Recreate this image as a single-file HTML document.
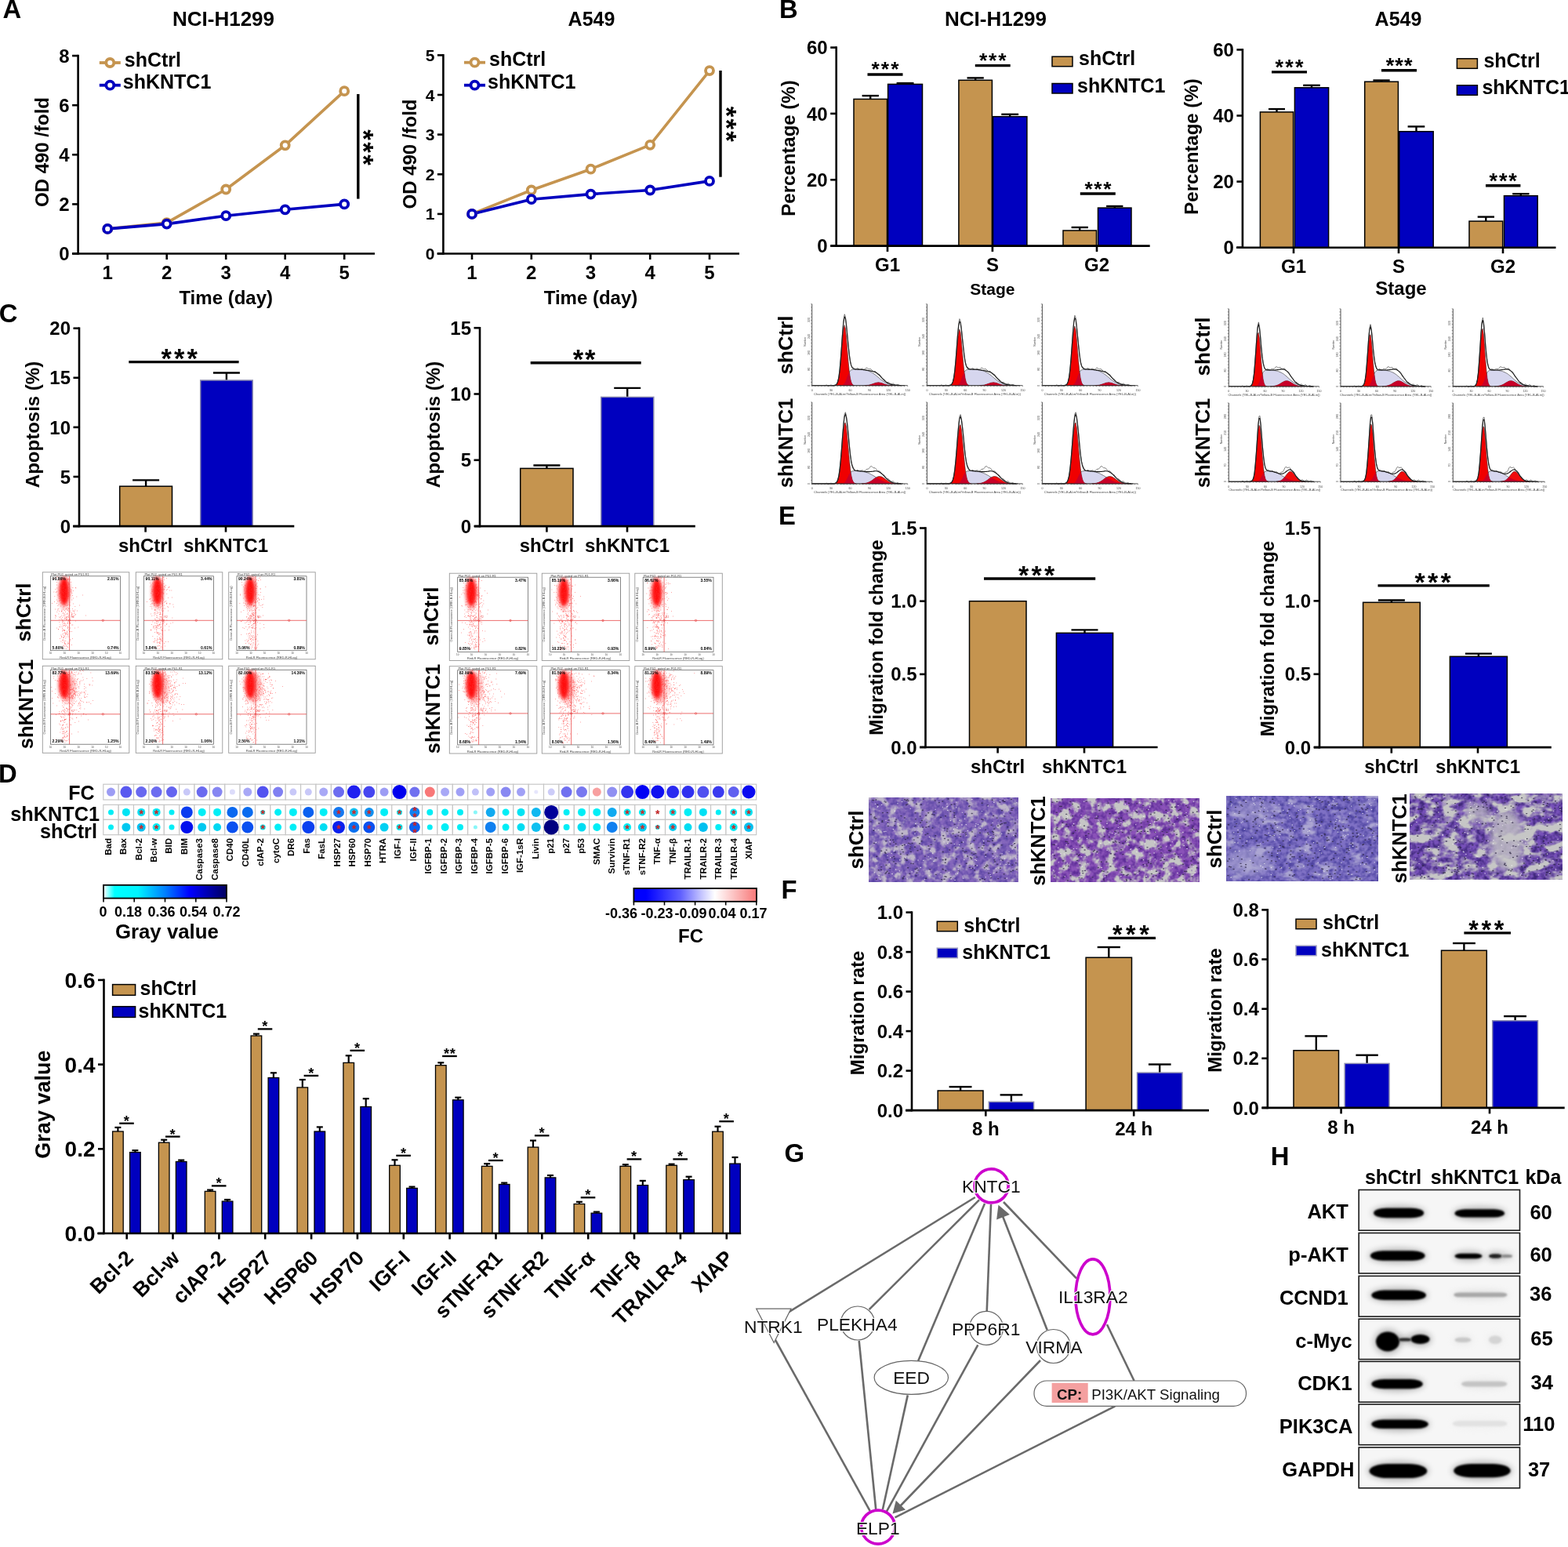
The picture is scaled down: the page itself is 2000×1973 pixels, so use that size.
<!DOCTYPE html><html><head><meta charset="utf-8"><style>html,body{margin:0;padding:0;background:#fff;overflow:hidden;}svg{display:block;}</style></head><body>
<svg width="2000" height="1973" viewBox="0 0 2000 1973" font-family="'Liberation Sans', Arial, Helvetica, sans-serif" font-weight="bold">
<defs><filter id="soft" x="-50%" y="-50%" width="200%" height="200%"><feGaussianBlur stdDeviation="2.2"/></filter><filter id="mblur" x="-5%" y="-5%" width="110%" height="110%"><feGaussianBlur stdDeviation="0.7"/></filter><filter id="bb" x="-50%" y="-100%" width="200%" height="300%"><feGaussianBlur stdDeviation="1.3"/></filter><filter id="halo" x="-50%" y="-100%" width="200%" height="300%"><feGaussianBlur stdDeviation="4"/></filter><filter id="clear" x="-50%" y="-50%" width="200%" height="200%"><feGaussianBlur stdDeviation="4.5"/></filter></defs>
<rect x="0" y="0" width="2000" height="1973" fill="#fff"/>
<text x="3.5" y="22.8" font-size="32.8">A</text>
<text x="994.1" y="22.8" font-size="32.8">B</text>
<text x="-1.3" y="410.5" font-size="32.8">C</text>
<text x="-2" y="998" font-size="32.8">D</text>
<text x="993" y="669" font-size="32.8">E</text>
<text x="996.6" y="1145.6" font-size="32.8">F</text>
<text x="1000.6" y="1481.7" font-size="32.8">G</text>
<text x="1620.8" y="1486" font-size="32.8">H</text>
<line x1="99.6" y1="69.8" x2="99.6" y2="324.8" stroke="#000" stroke-width="2.6"/>
<line x1="92.1" y1="323.5" x2="99.6" y2="323.5" stroke="#000" stroke-width="2.6"/>
<text x="88.6" y="332.1" font-size="24" text-anchor="end">0</text>
<line x1="92.1" y1="260.4" x2="99.6" y2="260.4" stroke="#000" stroke-width="2.6"/>
<text x="88.6" y="269" font-size="24" text-anchor="end">2</text>
<line x1="92.1" y1="197.3" x2="99.6" y2="197.3" stroke="#000" stroke-width="2.6"/>
<text x="88.6" y="205.9" font-size="24" text-anchor="end">4</text>
<line x1="92.1" y1="134.2" x2="99.6" y2="134.2" stroke="#000" stroke-width="2.6"/>
<text x="88.6" y="142.8" font-size="24" text-anchor="end">6</text>
<line x1="92.1" y1="71.1" x2="99.6" y2="71.1" stroke="#000" stroke-width="2.6"/>
<text x="88.6" y="79.7" font-size="24" text-anchor="end">8</text>
<line x1="92" y1="323.5" x2="478" y2="323.5" stroke="#000" stroke-width="2.6"/>
<line x1="137.2" y1="323.5" x2="137.2" y2="331" stroke="#000" stroke-width="2.6"/>
<text x="137.2" y="356" font-size="24" text-anchor="middle">1</text>
<line x1="212.7" y1="323.5" x2="212.7" y2="331" stroke="#000" stroke-width="2.6"/>
<text x="212.7" y="356" font-size="24" text-anchor="middle">2</text>
<line x1="288.2" y1="323.5" x2="288.2" y2="331" stroke="#000" stroke-width="2.6"/>
<text x="288.2" y="356" font-size="24" text-anchor="middle">3</text>
<line x1="363.7" y1="323.5" x2="363.7" y2="331" stroke="#000" stroke-width="2.6"/>
<text x="363.7" y="356" font-size="24" text-anchor="middle">4</text>
<line x1="439.2" y1="323.5" x2="439.2" y2="331" stroke="#000" stroke-width="2.6"/>
<text x="439.2" y="356" font-size="24" text-anchor="middle">5</text>
<text x="288.2" y="388" font-size="24" text-anchor="middle">Time (day)</text>
<text x="285" y="33" font-size="26" text-anchor="middle">NCI-H1299</text>
<text x="61.5" y="194" font-size="24" text-anchor="middle" transform="rotate(-90 61.5 194)">OD 490 /fold</text>
<polyline points="137.2,291.9 212.7,284.1 288.2,241.5 363.7,185.3 439.2,116.2" fill="none" stroke="#c5944f" stroke-width="3.6" stroke-linejoin="round"/>
<polyline points="137.2,291.9 212.7,285.6 288.2,275.2 363.7,267.3 439.2,260.4" fill="none" stroke="#0000bf" stroke-width="3.6" stroke-linejoin="round"/>
<circle cx="137.2" cy="291.9" r="5" fill="#fff" stroke="#c5944f" stroke-width="3.8"/>
<circle cx="212.7" cy="284.1" r="5" fill="#fff" stroke="#c5944f" stroke-width="3.8"/>
<circle cx="288.2" cy="241.5" r="5" fill="#fff" stroke="#c5944f" stroke-width="3.8"/>
<circle cx="363.7" cy="185.3" r="5" fill="#fff" stroke="#c5944f" stroke-width="3.8"/>
<circle cx="439.2" cy="116.2" r="5" fill="#fff" stroke="#c5944f" stroke-width="3.8"/>
<circle cx="137.2" cy="291.9" r="5" fill="#fff" stroke="#0000bf" stroke-width="3.8"/>
<circle cx="212.7" cy="285.6" r="5" fill="#fff" stroke="#0000bf" stroke-width="3.8"/>
<circle cx="288.2" cy="275.2" r="5" fill="#fff" stroke="#0000bf" stroke-width="3.8"/>
<circle cx="363.7" cy="267.3" r="5" fill="#fff" stroke="#0000bf" stroke-width="3.8"/>
<circle cx="439.2" cy="260.4" r="5" fill="#fff" stroke="#0000bf" stroke-width="3.8"/>
<line x1="126.8" y1="80" x2="153.8" y2="80" stroke="#c5944f" stroke-width="3.8"/>
<circle cx="140.3" cy="80" r="5" fill="#fff" stroke="#c5944f" stroke-width="3.8"/>
<text x="158.8" y="84.5" font-size="25">shCtrl</text>
<line x1="126.8" y1="108.7" x2="153.8" y2="108.7" stroke="#0000bf" stroke-width="3.8"/>
<circle cx="140.3" cy="108.7" r="5" fill="#fff" stroke="#0000bf" stroke-width="3.8"/>
<text x="156.8" y="113.2" font-size="25">shKNTC1</text>
<line x1="456.8" y1="120" x2="456.8" y2="253.6" stroke="#000" stroke-width="3.4"/>
<text x="452.1" y="165.3" font-size="35" transform="rotate(90 452.1 165.3)" letter-spacing="2.3">***</text>
<line x1="565.4" y1="69.1" x2="565.4" y2="324.8" stroke="#000" stroke-width="2.6"/>
<line x1="557.9" y1="323.5" x2="565.4" y2="323.5" stroke="#000" stroke-width="2.6"/>
<text x="554.4" y="331" font-size="21" text-anchor="end">0</text>
<line x1="557.9" y1="272.9" x2="565.4" y2="272.9" stroke="#000" stroke-width="2.6"/>
<text x="554.4" y="280.4" font-size="21" text-anchor="end">1</text>
<line x1="557.9" y1="222.3" x2="565.4" y2="222.3" stroke="#000" stroke-width="2.6"/>
<text x="554.4" y="229.8" font-size="21" text-anchor="end">2</text>
<line x1="557.9" y1="171.6" x2="565.4" y2="171.6" stroke="#000" stroke-width="2.6"/>
<text x="554.4" y="179.2" font-size="21" text-anchor="end">3</text>
<line x1="557.9" y1="121" x2="565.4" y2="121" stroke="#000" stroke-width="2.6"/>
<text x="554.4" y="128.5" font-size="21" text-anchor="end">4</text>
<line x1="557.9" y1="70.4" x2="565.4" y2="70.4" stroke="#000" stroke-width="2.6"/>
<text x="554.4" y="77.9" font-size="21" text-anchor="end">5</text>
<line x1="557.6" y1="323.5" x2="943" y2="323.5" stroke="#000" stroke-width="2.6"/>
<line x1="602" y1="323.5" x2="602" y2="331" stroke="#000" stroke-width="2.6"/>
<text x="602" y="356" font-size="24" text-anchor="middle">1</text>
<line x1="677.8" y1="323.5" x2="677.8" y2="331" stroke="#000" stroke-width="2.6"/>
<text x="677.8" y="356" font-size="24" text-anchor="middle">2</text>
<line x1="753.5" y1="323.5" x2="753.5" y2="331" stroke="#000" stroke-width="2.6"/>
<text x="753.5" y="356" font-size="24" text-anchor="middle">3</text>
<line x1="829.2" y1="323.5" x2="829.2" y2="331" stroke="#000" stroke-width="2.6"/>
<text x="829.2" y="356" font-size="24" text-anchor="middle">4</text>
<line x1="905" y1="323.5" x2="905" y2="331" stroke="#000" stroke-width="2.6"/>
<text x="905" y="356" font-size="24" text-anchor="middle">5</text>
<text x="753.5" y="388" font-size="24" text-anchor="middle">Time (day)</text>
<text x="754.5" y="33" font-size="25" text-anchor="middle">A549</text>
<text x="531" y="196.5" font-size="24" text-anchor="middle" transform="rotate(-90 531 196.5)">OD 490 /fold</text>
<polyline points="602,272.9 677.8,242.5 753.5,215.7 829.2,184.8 905,90.1" fill="none" stroke="#c5944f" stroke-width="3.6" stroke-linejoin="round"/>
<polyline points="602,272.9 677.8,254.2 753.5,247.6 829.2,242.5 905,230.9" fill="none" stroke="#0000bf" stroke-width="3.6" stroke-linejoin="round"/>
<circle cx="602" cy="272.9" r="5" fill="#fff" stroke="#c5944f" stroke-width="3.8"/>
<circle cx="677.8" cy="242.5" r="5" fill="#fff" stroke="#c5944f" stroke-width="3.8"/>
<circle cx="753.5" cy="215.7" r="5" fill="#fff" stroke="#c5944f" stroke-width="3.8"/>
<circle cx="829.2" cy="184.8" r="5" fill="#fff" stroke="#c5944f" stroke-width="3.8"/>
<circle cx="905" cy="90.1" r="5" fill="#fff" stroke="#c5944f" stroke-width="3.8"/>
<circle cx="602" cy="272.9" r="5" fill="#fff" stroke="#0000bf" stroke-width="3.8"/>
<circle cx="677.8" cy="254.2" r="5" fill="#fff" stroke="#0000bf" stroke-width="3.8"/>
<circle cx="753.5" cy="247.6" r="5" fill="#fff" stroke="#0000bf" stroke-width="3.8"/>
<circle cx="829.2" cy="242.5" r="5" fill="#fff" stroke="#0000bf" stroke-width="3.8"/>
<circle cx="905" cy="230.9" r="5" fill="#fff" stroke="#0000bf" stroke-width="3.8"/>
<line x1="592" y1="79.7" x2="619" y2="79.7" stroke="#c5944f" stroke-width="3.8"/>
<circle cx="605.5" cy="79.7" r="5" fill="#fff" stroke="#c5944f" stroke-width="3.8"/>
<text x="624" y="84.2" font-size="25">shCtrl</text>
<line x1="592" y1="108.7" x2="619" y2="108.7" stroke="#0000bf" stroke-width="3.8"/>
<circle cx="605.5" cy="108.7" r="5" fill="#fff" stroke="#0000bf" stroke-width="3.8"/>
<text x="622" y="113.2" font-size="25">shKNTC1</text>
<line x1="919" y1="90" x2="919" y2="225.7" stroke="#000" stroke-width="3.4"/>
<text x="914.9" y="135.7" font-size="35" transform="rotate(90 914.9 135.7)" letter-spacing="2.1">***</text>
<line x1="1066.7" y1="59.3" x2="1066.7" y2="314.9" stroke="#000" stroke-width="2.6"/>
<line x1="1059.2" y1="313.6" x2="1066.7" y2="313.6" stroke="#000" stroke-width="2.6"/>
<text x="1055.7" y="322.2" font-size="24" text-anchor="end">0</text>
<line x1="1059.2" y1="229.3" x2="1066.7" y2="229.3" stroke="#000" stroke-width="2.6"/>
<text x="1055.7" y="237.9" font-size="24" text-anchor="end">20</text>
<line x1="1059.2" y1="144.9" x2="1066.7" y2="144.9" stroke="#000" stroke-width="2.6"/>
<text x="1055.7" y="153.5" font-size="24" text-anchor="end">40</text>
<line x1="1059.2" y1="60.6" x2="1066.7" y2="60.6" stroke="#000" stroke-width="2.6"/>
<text x="1055.7" y="69.2" font-size="24" text-anchor="end">60</text>
<line x1="1110.2" y1="126.4" x2="1110.2" y2="122.1" stroke="#000" stroke-width="2.4"/>
<line x1="1099.6" y1="122.1" x2="1120.9" y2="122.1" stroke="#000" stroke-width="2.4"/>
<rect x="1089" y="126.4" width="42.5" height="187.2" fill="#c5944f" stroke="#000" stroke-width="1.5"/>
<line x1="1154.5" y1="107.4" x2="1154.5" y2="106.1" stroke="#000" stroke-width="2.4"/>
<line x1="1143.6" y1="106.1" x2="1165.5" y2="106.1" stroke="#000" stroke-width="2.4"/>
<rect x="1132.6" y="107.4" width="43.9" height="206.2" fill="#0000bf" stroke="#000" stroke-width="1.5"/>
<line x1="1244.2" y1="102.3" x2="1244.2" y2="99.4" stroke="#000" stroke-width="2.4"/>
<line x1="1233.5" y1="99.4" x2="1254.8" y2="99.4" stroke="#000" stroke-width="2.4"/>
<rect x="1222.9" y="102.3" width="42.5" height="211.3" fill="#c5944f" stroke="#000" stroke-width="1.5"/>
<line x1="1288.2" y1="148.7" x2="1288.2" y2="145.8" stroke="#000" stroke-width="2.4"/>
<line x1="1277.3" y1="145.8" x2="1299.1" y2="145.8" stroke="#000" stroke-width="2.4"/>
<rect x="1266.5" y="148.7" width="43.4" height="164.9" fill="#0000bf" stroke="#000" stroke-width="1.5"/>
<line x1="1377.2" y1="294" x2="1377.2" y2="290" stroke="#000" stroke-width="2.4"/>
<line x1="1366.6" y1="290" x2="1387.9" y2="290" stroke="#000" stroke-width="2.4"/>
<rect x="1356" y="294" width="42.5" height="19.6" fill="#c5944f" stroke="#000" stroke-width="1.5"/>
<line x1="1421.8" y1="265.1" x2="1421.8" y2="263" stroke="#000" stroke-width="2.4"/>
<line x1="1411.1" y1="263" x2="1432.4" y2="263" stroke="#000" stroke-width="2.4"/>
<rect x="1400.5" y="265.1" width="42.5" height="48.5" fill="#0000bf" stroke="#000" stroke-width="1.5"/>
<line x1="1059.4" y1="313.6" x2="1466.7" y2="313.6" stroke="#000" stroke-width="2.6"/>
<line x1="1132" y1="313.6" x2="1132" y2="321.1" stroke="#000" stroke-width="2.6"/>
<text x="1132" y="346" font-size="24" text-anchor="middle">G1</text>
<line x1="1265.9" y1="313.6" x2="1265.9" y2="321.1" stroke="#000" stroke-width="2.6"/>
<text x="1265.9" y="346" font-size="24" text-anchor="middle">S</text>
<line x1="1399" y1="313.6" x2="1399" y2="321.1" stroke="#000" stroke-width="2.6"/>
<text x="1399" y="346" font-size="24" text-anchor="middle">G2</text>
<line x1="1106.5" y1="95" x2="1151.5" y2="95" stroke="#000" stroke-width="3.4"/>
<text x="1111.5" y="97.2" font-size="26.4" letter-spacing="2.1">***</text>
<line x1="1243.8" y1="83.6" x2="1288.7" y2="83.6" stroke="#000" stroke-width="3.4"/>
<text x="1249" y="85.8" font-size="26.4" letter-spacing="1.8">***</text>
<line x1="1377.8" y1="247" x2="1422.8" y2="247" stroke="#000" stroke-width="3.4"/>
<text x="1383.6" y="249.7" font-size="26.4" letter-spacing="1.5">***</text>
<text x="1014" y="189" font-size="24" text-anchor="middle" transform="rotate(-90 1014 189)">Percentage (%)</text>
<text x="1265.9" y="375.5" font-size="21" text-anchor="middle">Stage</text>
<text x="1270" y="33" font-size="26" text-anchor="middle">NCI-H1299</text>
<rect x="1342" y="72.2" width="26" height="12.5" fill="#c5944f" stroke="#000" stroke-width="1.5"/>
<text x="1376" y="83.4" font-size="25">shCtrl</text>
<rect x="1342" y="106.5" width="26" height="12.5" fill="#0000bf" stroke="#000" stroke-width="1.5"/>
<text x="1374" y="117.7" font-size="25">shKNTC1</text>
<line x1="1584.9" y1="62.1" x2="1584.9" y2="317" stroke="#000" stroke-width="2.6"/>
<line x1="1577.4" y1="315.7" x2="1584.9" y2="315.7" stroke="#000" stroke-width="2.6"/>
<text x="1573.9" y="324.3" font-size="24" text-anchor="end">0</text>
<line x1="1577.4" y1="231.6" x2="1584.9" y2="231.6" stroke="#000" stroke-width="2.6"/>
<text x="1573.9" y="240.2" font-size="24" text-anchor="end">20</text>
<line x1="1577.4" y1="147.5" x2="1584.9" y2="147.5" stroke="#000" stroke-width="2.6"/>
<text x="1573.9" y="156.1" font-size="24" text-anchor="end">40</text>
<line x1="1577.4" y1="63.4" x2="1584.9" y2="63.4" stroke="#000" stroke-width="2.6"/>
<text x="1573.9" y="72" font-size="24" text-anchor="end">60</text>
<line x1="1628.5" y1="142.9" x2="1628.5" y2="139.1" stroke="#000" stroke-width="2.4"/>
<line x1="1618" y1="139.1" x2="1639" y2="139.1" stroke="#000" stroke-width="2.4"/>
<rect x="1607.4" y="142.9" width="42.2" height="172.8" fill="#c5944f" stroke="#000" stroke-width="1.5"/>
<line x1="1673" y1="111.8" x2="1673" y2="108.8" stroke="#000" stroke-width="2.4"/>
<line x1="1662.2" y1="108.8" x2="1683.8" y2="108.8" stroke="#000" stroke-width="2.4"/>
<rect x="1651.4" y="111.8" width="43.2" height="203.9" fill="#0000bf" stroke="#000" stroke-width="1.5"/>
<line x1="1762.1" y1="104.2" x2="1762.1" y2="102.5" stroke="#000" stroke-width="2.4"/>
<line x1="1751.4" y1="102.5" x2="1772.7" y2="102.5" stroke="#000" stroke-width="2.4"/>
<rect x="1740.7" y="104.2" width="42.7" height="211.5" fill="#c5944f" stroke="#000" stroke-width="1.5"/>
<line x1="1806.5" y1="167.7" x2="1806.5" y2="161.4" stroke="#000" stroke-width="2.4"/>
<line x1="1795.6" y1="161.4" x2="1817.3" y2="161.4" stroke="#000" stroke-width="2.4"/>
<rect x="1784.7" y="167.7" width="43.5" height="148" fill="#0000bf" stroke="#000" stroke-width="1.5"/>
<line x1="1895.3" y1="282.1" x2="1895.3" y2="276.6" stroke="#000" stroke-width="2.4"/>
<line x1="1884.7" y1="276.6" x2="1906" y2="276.6" stroke="#000" stroke-width="2.4"/>
<rect x="1874" y="282.1" width="42.7" height="33.6" fill="#c5944f" stroke="#000" stroke-width="1.5"/>
<line x1="1939.8" y1="249.7" x2="1939.8" y2="247.2" stroke="#000" stroke-width="2.4"/>
<line x1="1929.2" y1="247.2" x2="1950.5" y2="247.2" stroke="#000" stroke-width="2.4"/>
<rect x="1918.5" y="249.7" width="42.7" height="66" fill="#0000bf" stroke="#000" stroke-width="1.5"/>
<line x1="1577" y1="315.7" x2="1984.5" y2="315.7" stroke="#000" stroke-width="2.6"/>
<line x1="1650" y1="315.7" x2="1650" y2="323.2" stroke="#000" stroke-width="2.6"/>
<text x="1650" y="348" font-size="24" text-anchor="middle">G1</text>
<line x1="1784" y1="315.7" x2="1784" y2="323.2" stroke="#000" stroke-width="2.6"/>
<text x="1784" y="348" font-size="24" text-anchor="middle">S</text>
<line x1="1917" y1="315.7" x2="1917" y2="323.2" stroke="#000" stroke-width="2.6"/>
<text x="1917" y="348" font-size="24" text-anchor="middle">G2</text>
<line x1="1622" y1="91.9" x2="1667" y2="91.9" stroke="#000" stroke-width="3.4"/>
<text x="1626.6" y="94.9" font-size="27" letter-spacing="2.2">***</text>
<line x1="1762" y1="89.8" x2="1807" y2="89.8" stroke="#000" stroke-width="3.4"/>
<text x="1767.7" y="92.8" font-size="27" letter-spacing="1.1">***</text>
<line x1="1895" y1="236.8" x2="1939.4" y2="236.8" stroke="#000" stroke-width="3.4"/>
<text x="1899.6" y="239.8" font-size="27" letter-spacing="1.8">***</text>
<text x="1527.5" y="187" font-size="24" text-anchor="middle" transform="rotate(-90 1527.5 187)">Percentage (%)</text>
<text x="1787" y="375.5" font-size="24" text-anchor="middle">Stage</text>
<text x="1783.5" y="33" font-size="25" text-anchor="middle">A549</text>
<rect x="1858.4" y="74.8" width="26" height="12.5" fill="#c5944f" stroke="#000" stroke-width="1.5"/>
<text x="1892.4" y="85.6" font-size="25">shCtrl</text>
<rect x="1858.4" y="108.8" width="26" height="12.5" fill="#0000bf" stroke="#000" stroke-width="1.5"/>
<text x="1890.4" y="119.6" font-size="25">shKNTC1</text>
<text x="1011" y="440" font-size="26" text-anchor="middle" transform="rotate(-90 1011 440)">shCtrl</text>
<text x="1011" y="565" font-size="25.4" text-anchor="middle" transform="rotate(-90 1011 565)">shKNTC1</text>
<path d="M1071.1 491.7L1071.1 491.6L1072.3 491.5L1073.5 491.3L1074.7 490.9L1076 490.1L1077.2 488.8L1078.4 486.6L1079.6 483.6L1080.8 480.1L1082.1 476.8L1083.3 474.4L1084.5 472.8L1085.7 471.9L1086.9 471.4L1088.2 471.2L1089.4 471L1090.6 471L1091.8 471L1093 471L1094.3 471.1L1095.5 471.1L1096.7 471.2L1097.9 471.3L1099.1 471.4L1100.4 471.5L1101.6 471.7L1102.8 471.9L1104 472.1L1105.2 472.4L1106.5 472.7L1107.7 473.1L1108.9 473.6L1110.1 474.1L1111.3 474.7L1112.6 475.4L1113.8 476.1L1115 477L1116.2 477.9L1117.4 478.8L1118.7 479.9L1119.9 480.9L1121.1 481.9L1122.3 483L1123.5 484L1124.8 484.9L1126 485.8L1127.2 486.6L1128.4 487.3L1129.6 488L1130.9 488.6L1132.1 489.1L1133.3 489.5L1134.5 489.9L1135.7 490.2L1137 490.4L1138.2 490.6L1139.4 490.8L1140.6 491L1141.8 491.1L1143.1 491.2L1144.3 491.3L1145.5 491.4L1146.7 491.4L1147.9 491.5L1149.2 491.5L1150.4 491.6L1151.6 491.6L1152.8 491.6L1154 491.6L1154 491.7 Z" fill="#d6d6ee" stroke="#333" stroke-width="0.6"/>
<path d="M1065 491.7L1065 491.5L1066.2 491L1067.4 489.8L1068.6 487.2L1069.9 482.2L1071.1 473.7L1072.3 461.3L1073.5 446L1074.7 430.5L1076 418.9L1077.2 414.5L1078.4 418.9L1079.6 430.5L1080.8 446L1082.1 461.3L1083.3 473.7L1084.5 482.2L1085.7 487.2L1086.9 489.8L1088.2 491L1089.4 491.5L1089.4 491.7 Z" fill="#f00000" stroke="#222" stroke-width="0.5"/>
<path d="M1102.8 491.7L1102.8 491.6L1104 491.5L1105.2 491.4L1106.5 491.3L1107.7 491.1L1108.9 490.9L1110.1 490.5L1111.3 490.2L1112.6 489.8L1113.8 489.3L1115 488.9L1116.2 488.5L1117.4 488.1L1118.7 487.9L1119.9 487.8L1121.1 487.8L1122.3 488L1123.5 488.2L1124.8 488.6L1126 489L1127.2 489.5L1128.4 489.9L1129.6 490.3L1130.9 490.7L1132.1 490.9L1133.3 491.2L1134.5 491.3L1135.7 491.5L1137 491.6L1138.2 491.6L1138.2 491.7 Z" fill="#f00000" stroke="#222" stroke-width="0.5" opacity="0.95"/>
<path d="M1071.1 491.7L1071.1 491.6L1072.3 491.5L1073.5 491.3L1074.7 490.9L1076 490.1L1077.2 488.8L1078.4 486.6L1079.6 483.6L1080.8 480.1L1082.1 476.8L1083.3 474.4L1084.5 482.2L1085.7 487.2L1086.9 489.8L1088.2 491L1089.4 491.5L1089.4 491.7 Z" fill="#c80028"/>
<path d="M1102.8 491.7L1102.8 491.6L1104 491.5L1105.2 491.4L1106.5 491.3L1107.7 491.1L1108.9 490.9L1110.1 490.5L1111.3 490.2L1112.6 489.8L1113.8 489.3L1115 488.9L1116.2 488.5L1117.4 488.1L1118.7 487.9L1119.9 487.8L1121.1 487.8L1122.3 488L1123.5 488.2L1124.8 488.6L1126 489L1127.2 489.5L1128.4 489.9L1129.6 490.3L1130.9 490.7L1132.1 490.9L1133.3 491.2L1134.5 491.3L1135.7 491.5L1137 491.6L1138.2 491.6L1138.2 491.7 Z" fill="#c80028"/>
<path d="M1035.7 491.7 L1036.9 491.7 L1038.1 491.7 L1039.4 491.7 L1040.6 491.7 L1041.8 491.7 L1043 491.7 L1044.2 491.7 L1045.5 491.7 L1046.7 491.7 L1047.9 491.7 L1049.1 491.7 L1050.3 491.7 L1051.6 491.7 L1052.8 491.7 L1054 491.7 L1055.2 491.7 L1056.4 491.7 L1057.7 491.7 L1058.9 491.7 L1060.1 491.7 L1061.3 491.7 L1062.5 491.7 L1063.8 491.6 L1065 491.4 L1066.2 490.9 L1067.4 489.5 L1068.6 486.6 L1069.9 481 L1071.1 471.7 L1072.3 458.1 L1073.5 441.3 L1074.7 424.1 L1076 410.5 L1077.2 404.1 L1078.4 406.1 L1079.6 415.3 L1080.8 428.3 L1082.1 441.6 L1083.3 452.9 L1084.5 461 L1085.7 466.1 L1086.9 468.8 L1088.2 470.1 L1089.4 470.6 L1090.6 470.9 L1091.8 471 L1093 471 L1094.3 471.1 L1095.5 471.1 L1096.7 471.2 L1097.9 471.3 L1099.1 471.4 L1100.4 471.5 L1101.6 471.6 L1102.8 471.8 L1104 472 L1105.2 472.1 L1106.5 472.3 L1107.7 472.5 L1108.9 472.7 L1110.1 472.9 L1111.3 473.2 L1112.6 473.4 L1113.8 473.8 L1115 474.1 L1116.2 474.6 L1117.4 475.3 L1118.7 476 L1119.9 477 L1121.1 478 L1122.3 479.2 L1123.5 480.5 L1124.8 481.8 L1126 483.1 L1127.2 484.4 L1128.4 485.5 L1129.6 486.6 L1130.9 487.5 L1132.1 488.3 L1133.3 489 L1134.5 489.5 L1135.7 489.9 L1137 490.3 L1138.2 490.6 L1139.4 490.8 L1140.6 490.9 L1141.8 491.1 L1143.1 491.2 L1144.3 491.3 L1145.5 491.4 L1146.7 491.4 L1147.9 491.5 L1149.2 491.5" fill="none" stroke="#111" stroke-width="1.1"/>
<path d="M1052.8 491.7 L1054 490.9 L1055.2 491.4 L1056.4 492.3 L1057.7 492.3 L1058.9 491.3 L1060.1 490.9 L1061.3 491.8 L1062.5 492.5 L1063.8 491.9 L1065 490.8 L1066.2 490.3 L1067.4 489.9 L1068.6 487.2 L1069.9 480.6 L1071.1 470.3 L1072.3 456.8 L1073.5 440.4 L1074.7 422.6 L1076 407.6 L1077.2 400.7 L1078.4 403.7 L1079.6 413.8 L1080.8 426.6 L1082.1 439.5 L1083.3 451.2 L1084.5 460.6 L1085.7 466 L1086.9 468 L1088.2 468.7 L1089.4 469.8 L1090.6 470.9 L1091.8 470.9 L1093 469.9 L1094.3 469.7 L1095.5 470.6 L1096.7 471.4 L1097.9 470.8 L1099.1 470 L1100.4 470.2 L1101.6 471.1 L1102.8 471.1 L1104 469.9 L1105.2 469.1 L1106.5 469.5 L1107.7 470.6 L1108.9 470.8 L1110.1 470.5 L1111.3 471 L1112.6 472.5 L1113.8 473.7 L1115 473.7 L1116.2 473.4 L1117.4 474.3 L1118.7 476.1 L1119.9 477.2 L1121.1 477.4 L1122.3 478.1 L1123.5 480 L1124.8 482.2 L1126 483.3 L1127.2 483.5 L1128.4 484.5 L1129.6 486.4 L1130.9 487.7 L1132.1 487.7 L1133.3 487.4 L1134.5 488.1 L1135.7 489.4 L1137 489.9 L1138.2 489.3 L1139.4 489 L1140.6 490 L1141.8 491.1 L1143.1 491.1 L1144.3 490.4 L1145.5 490.4 L1146.7 491.5 L1147.9 492.2 L1149.2 491.5" fill="none" stroke="#333" stroke-width="0.6"/>
<path d="M1035.7 387.7 V491.7 H1157.7" fill="none" stroke="#222" stroke-width="0.8"/>
<path d="M1035.7 491.7 v1.6M1039.8 491.7 v1.6M1043.8 491.7 v1.6M1047.9 491.7 v1.6M1052 491.7 v1.6M1056 491.7 v1.6M1060.1 491.7 v1.6M1064.2 491.7 v1.6M1068.2 491.7 v1.6M1072.3 491.7 v1.6M1076.4 491.7 v1.6M1080.4 491.7 v1.6M1084.5 491.7 v1.6M1088.6 491.7 v1.6M1092.6 491.7 v1.6M1096.7 491.7 v1.6M1100.8 491.7 v1.6M1104.8 491.7 v1.6M1108.9 491.7 v1.6M1113 491.7 v1.6M1117 491.7 v1.6M1121.1 491.7 v1.6M1125.2 491.7 v1.6M1129.2 491.7 v1.6M1133.3 491.7 v1.6M1137.4 491.7 v1.6M1141.4 491.7 v1.6M1145.5 491.7 v1.6M1149.6 491.7 v1.6M1153.6 491.7 v1.6M1157.7 491.7 v1.6M1035.7 491.7 h-1.6M1035.7 487.5 h-1.6M1035.7 483.4 h-1.6M1035.7 479.2 h-1.6M1035.7 475.1 h-1.6M1035.7 470.9 h-1.6M1035.7 466.7 h-1.6M1035.7 462.6 h-1.6M1035.7 458.4 h-1.6M1035.7 454.3 h-1.6M1035.7 450.1 h-1.6M1035.7 445.9 h-1.6M1035.7 441.8 h-1.6M1035.7 437.6 h-1.6M1035.7 433.5 h-1.6M1035.7 429.3 h-1.6M1035.7 425.1 h-1.6M1035.7 421 h-1.6M1035.7 416.8 h-1.6M1035.7 412.7 h-1.6M1035.7 408.5 h-1.6M1035.7 404.3 h-1.6M1035.7 400.2 h-1.6M1035.7 396 h-1.6M1035.7 391.9 h-1.6M1035.7 387.7 h-1.6" stroke="#444" stroke-width="0.5"/>
<text x="1035.7" y="499.2" font-size="3.6" text-anchor="middle" font-weight="normal" fill="#444">0</text>
<text x="1060.1" y="499.2" font-size="3.6" text-anchor="middle" font-weight="normal" fill="#444">30</text>
<text x="1084.5" y="499.2" font-size="3.6" text-anchor="middle" font-weight="normal" fill="#444">60</text>
<text x="1108.9" y="499.2" font-size="3.6" text-anchor="middle" font-weight="normal" fill="#444">90</text>
<text x="1133.3" y="499.2" font-size="3.6" text-anchor="middle" font-weight="normal" fill="#444">120</text>
<text x="1157.7" y="499.2" font-size="3.6" text-anchor="middle" font-weight="normal" fill="#444">150</text>
<text x="1032.7" y="491.7" font-size="3.6" text-anchor="middle" font-weight="normal" fill="#444" transform="rotate(-90 1032.7 491.7)">0</text>
<text x="1032.7" y="470.8" font-size="3.6" text-anchor="middle" font-weight="normal" fill="#444" transform="rotate(-90 1032.7 470.8)">80</text>
<text x="1032.7" y="449.9" font-size="3.6" text-anchor="middle" font-weight="normal" fill="#444" transform="rotate(-90 1032.7 449.9)">160</text>
<text x="1032.7" y="428.9" font-size="3.6" text-anchor="middle" font-weight="normal" fill="#444" transform="rotate(-90 1032.7 428.9)">240</text>
<text x="1032.7" y="408" font-size="3.6" text-anchor="middle" font-weight="normal" fill="#444" transform="rotate(-90 1032.7 408)">320</text>
<text x="1027.7" y="435.6" font-size="3.4" text-anchor="middle" font-weight="normal" fill="#444" transform="rotate(-90 1027.7 435.6)">Number</text>
<text x="1096.7" y="503.7" font-size="4" text-anchor="middle" font-weight="normal" fill="#444">Channels (YEL-B-ALin/Yellow-B Fluorescence Area (YEL-B-ALin))</text>
<path d="M1072.3 616.9L1072.3 616.8L1073.5 616.7L1074.7 616.5L1076 616.1L1077.2 615.3L1078.4 614.1L1079.6 612.1L1080.8 609.5L1082.1 606.7L1083.3 604.3L1084.5 602.6L1085.7 601.6L1086.9 601L1088.2 600.7L1089.4 600.6L1090.6 600.5L1091.8 600.5L1093 600.6L1094.3 600.7L1095.5 600.8L1096.7 600.9L1097.9 601L1099.1 601.2L1100.4 601.4L1101.6 601.6L1102.8 601.9L1104 602.2L1105.2 602.5L1106.5 602.9L1107.7 603.4L1108.9 603.9L1110.1 604.5L1111.3 605.1L1112.6 605.8L1113.8 606.5L1115 607.2L1116.2 608L1117.4 608.8L1118.7 609.6L1119.9 610.3L1121.1 611.1L1122.3 611.8L1123.5 612.4L1124.8 613L1126 613.5L1127.2 614L1128.4 614.4L1129.6 614.8L1130.9 615.1L1132.1 615.4L1133.3 615.6L1134.5 615.8L1135.7 616L1137 616.2L1138.2 616.3L1139.4 616.4L1140.6 616.5L1141.8 616.5L1143.1 616.6L1144.3 616.6L1145.5 616.7L1146.7 616.7L1147.9 616.8L1149.2 616.8L1150.4 616.8L1151.6 616.8L1151.6 616.9 Z" fill="#d6d6ee" stroke="#333" stroke-width="0.6"/>
<path d="M1063.8 616.9L1063.8 616.8L1065 616.6L1066.2 616.1L1067.4 614.9L1068.6 612.5L1069.9 607.9L1071.1 600.5L1072.3 589.8L1073.5 576.2L1074.7 561.5L1076 548.4L1077.2 540.1L1078.4 538.9L1079.6 545L1080.8 556.8L1082.1 571.3L1083.3 585.5L1084.5 597.3L1085.7 605.8L1086.9 611.2L1088.2 614.3L1089.4 615.8L1090.6 616.5L1091.8 616.8L1091.8 616.9 Z" fill="#f00000" stroke="#222" stroke-width="0.5"/>
<path d="M1099.1 616.9L1099.1 616.8L1100.4 616.7L1101.6 616.6L1102.8 616.5L1104 616.3L1105.2 616L1106.5 615.6L1107.7 615.2L1108.9 614.6L1110.1 614L1111.3 613.2L1112.6 612.4L1113.8 611.5L1115 610.6L1116.2 609.7L1117.4 608.9L1118.7 608.3L1119.9 607.8L1121.1 607.5L1122.3 607.5L1123.5 607.7L1124.8 608.1L1126 608.7L1127.2 609.4L1128.4 610.3L1129.6 611.2L1130.9 612.1L1132.1 612.9L1133.3 613.7L1134.5 614.4L1135.7 615L1137 615.5L1138.2 615.9L1139.4 616.2L1140.6 616.4L1141.8 616.6L1143.1 616.7L1144.3 616.8L1145.5 616.8L1145.5 616.9 Z" fill="#f00000" stroke="#222" stroke-width="0.5" opacity="0.95"/>
<path d="M1072.3 616.9L1072.3 616.8L1073.5 616.7L1074.7 616.5L1076 616.1L1077.2 615.3L1078.4 614.1L1079.6 612.1L1080.8 609.5L1082.1 606.7L1083.3 604.3L1084.5 602.6L1085.7 605.8L1086.9 611.2L1088.2 614.3L1089.4 615.8L1090.6 616.5L1091.8 616.8L1091.8 616.9 Z" fill="#c80028"/>
<path d="M1099.1 616.9L1099.1 616.8L1100.4 616.7L1101.6 616.6L1102.8 616.5L1104 616.3L1105.2 616L1106.5 615.6L1107.7 615.2L1108.9 614.6L1110.1 614L1111.3 613.2L1112.6 612.4L1113.8 611.5L1115 610.6L1116.2 609.7L1117.4 608.9L1118.7 609.6L1119.9 610.3L1121.1 611.1L1122.3 611.8L1123.5 612.4L1124.8 613L1126 613.5L1127.2 614L1128.4 614.4L1129.6 614.8L1130.9 615.1L1132.1 615.4L1133.3 615.6L1134.5 615.8L1135.7 616L1137 616.2L1138.2 616.3L1139.4 616.4L1140.6 616.5L1141.8 616.6L1143.1 616.7L1144.3 616.8L1145.5 616.8L1145.5 616.9 Z" fill="#c80028"/>
<path d="M1035.7 616.9 L1036.9 616.9 L1038.1 616.9 L1039.4 616.9 L1040.6 616.9 L1041.8 616.9 L1043 616.9 L1044.2 616.9 L1045.5 616.9 L1046.7 616.9 L1047.9 616.9 L1049.1 616.9 L1050.3 616.9 L1051.6 616.9 L1052.8 616.9 L1054 616.9 L1055.2 616.9 L1056.4 616.9 L1057.7 616.9 L1058.9 616.9 L1060.1 616.9 L1061.3 616.9 L1062.5 616.9 L1063.8 616.8 L1065 616.5 L1066.2 615.9 L1067.4 614.6 L1068.6 611.8 L1069.9 606.8 L1071.1 598.7 L1072.3 587 L1073.5 572.1 L1074.7 555.8 L1076 541.1 L1077.2 531.2 L1078.4 528.2 L1079.6 532.5 L1080.8 542.3 L1082.1 555.1 L1083.3 568.2 L1084.5 579.5 L1085.7 588.1 L1086.9 593.8 L1088.2 597.2 L1089.4 599 L1090.6 599.9 L1091.8 600.3 L1093 600.5 L1094.3 600.6 L1095.5 600.7 L1096.7 600.8 L1097.9 600.9 L1099.1 601 L1100.4 601.2 L1101.6 601.3 L1102.8 601.4 L1104 601.5 L1105.2 601.6 L1106.5 601.6 L1107.7 601.6 L1108.9 601.6 L1110.1 601.5 L1111.3 601.4 L1112.6 601.2 L1113.8 601.1 L1115 600.9 L1116.2 600.8 L1117.4 600.8 L1118.7 601 L1119.9 601.2 L1121.1 601.7 L1122.3 602.4 L1123.5 603.2 L1124.8 604.2 L1126 605.3 L1127.2 606.5 L1128.4 607.8 L1129.6 609.1 L1130.9 610.3 L1132.1 611.4 L1133.3 612.5 L1134.5 613.3 L1135.7 614.1 L1137 614.7 L1138.2 615.2 L1139.4 615.7 L1140.6 616 L1141.8 616.2 L1143.1 616.4 L1144.3 616.5 L1145.5 616.6 L1146.7 616.7 L1147.9 616.7 L1149.2 616.8" fill="none" stroke="#111" stroke-width="1.1"/>
<path d="M1052.8 616.9 L1054 616.1 L1055.2 616.6 L1056.4 617.5 L1057.7 617.5 L1058.9 616.5 L1060.1 616.1 L1061.3 616.9 L1062.5 617.6 L1063.8 617 L1065 615.9 L1066.2 615.3 L1067.4 614.9 L1068.6 612.4 L1069.9 606.5 L1071.1 597.4 L1072.3 585.8 L1073.5 571.4 L1074.7 554.5 L1076 538.5 L1077.2 527.9 L1078.4 525.7 L1079.6 530.7 L1080.8 540.3 L1082.1 552.5 L1083.3 566.2 L1084.5 578.8 L1085.7 588 L1086.9 593 L1088.2 595.8 L1089.4 598.2 L1090.6 600 L1091.8 600.3 L1093 599.5 L1094.3 599.4 L1095.5 600.4 L1096.7 601.1 L1097.9 600.6 L1099.1 599.8 L1100.4 600 L1101.6 601 L1102.8 601 L1104 599.8 L1105.2 598.5 L1106.5 598.2 L1107.7 598.1 L1108.9 596.8 L1110.1 595.1 L1111.3 594.5 L1112.6 595.4 L1113.8 596.6 L1115 596.8 L1116.2 596.8 L1117.4 598 L1118.7 599.8 L1119.9 600.8 L1121.1 600.7 L1122.3 601 L1123.5 602.5 L1124.8 604.5 L1126 605.4 L1127.2 605.6 L1128.4 606.7 L1129.6 608.8 L1130.9 610.5 L1132.1 610.8 L1133.3 610.9 L1134.5 611.9 L1135.7 613.6 L1137 614.3 L1138.2 613.9 L1139.4 613.9 L1140.6 615 L1141.8 616.2 L1143.1 616.3 L1144.3 615.6 L1145.5 615.7 L1146.7 616.8 L1147.9 617.4 L1149.2 616.8" fill="none" stroke="#333" stroke-width="0.6"/>
<path d="M1035.7 512.9 V616.9 H1157.7" fill="none" stroke="#222" stroke-width="0.8"/>
<path d="M1035.7 616.9 v1.6M1039.8 616.9 v1.6M1043.8 616.9 v1.6M1047.9 616.9 v1.6M1052 616.9 v1.6M1056 616.9 v1.6M1060.1 616.9 v1.6M1064.2 616.9 v1.6M1068.2 616.9 v1.6M1072.3 616.9 v1.6M1076.4 616.9 v1.6M1080.4 616.9 v1.6M1084.5 616.9 v1.6M1088.6 616.9 v1.6M1092.6 616.9 v1.6M1096.7 616.9 v1.6M1100.8 616.9 v1.6M1104.8 616.9 v1.6M1108.9 616.9 v1.6M1113 616.9 v1.6M1117 616.9 v1.6M1121.1 616.9 v1.6M1125.2 616.9 v1.6M1129.2 616.9 v1.6M1133.3 616.9 v1.6M1137.4 616.9 v1.6M1141.4 616.9 v1.6M1145.5 616.9 v1.6M1149.6 616.9 v1.6M1153.6 616.9 v1.6M1157.7 616.9 v1.6M1035.7 616.9 h-1.6M1035.7 612.7 h-1.6M1035.7 608.6 h-1.6M1035.7 604.4 h-1.6M1035.7 600.3 h-1.6M1035.7 596.1 h-1.6M1035.7 591.9 h-1.6M1035.7 587.8 h-1.6M1035.7 583.6 h-1.6M1035.7 579.5 h-1.6M1035.7 575.3 h-1.6M1035.7 571.1 h-1.6M1035.7 567 h-1.6M1035.7 562.8 h-1.6M1035.7 558.7 h-1.6M1035.7 554.5 h-1.6M1035.7 550.3 h-1.6M1035.7 546.2 h-1.6M1035.7 542 h-1.6M1035.7 537.9 h-1.6M1035.7 533.7 h-1.6M1035.7 529.5 h-1.6M1035.7 525.4 h-1.6M1035.7 521.2 h-1.6M1035.7 517.1 h-1.6M1035.7 512.9 h-1.6" stroke="#444" stroke-width="0.5"/>
<text x="1035.7" y="624.4" font-size="3.6" text-anchor="middle" font-weight="normal" fill="#444">0</text>
<text x="1060.1" y="624.4" font-size="3.6" text-anchor="middle" font-weight="normal" fill="#444">30</text>
<text x="1084.5" y="624.4" font-size="3.6" text-anchor="middle" font-weight="normal" fill="#444">60</text>
<text x="1108.9" y="624.4" font-size="3.6" text-anchor="middle" font-weight="normal" fill="#444">90</text>
<text x="1133.3" y="624.4" font-size="3.6" text-anchor="middle" font-weight="normal" fill="#444">120</text>
<text x="1157.7" y="624.4" font-size="3.6" text-anchor="middle" font-weight="normal" fill="#444">150</text>
<text x="1032.7" y="616.9" font-size="3.6" text-anchor="middle" font-weight="normal" fill="#444" transform="rotate(-90 1032.7 616.9)">0</text>
<text x="1032.7" y="596" font-size="3.6" text-anchor="middle" font-weight="normal" fill="#444" transform="rotate(-90 1032.7 596)">80</text>
<text x="1032.7" y="575.1" font-size="3.6" text-anchor="middle" font-weight="normal" fill="#444" transform="rotate(-90 1032.7 575.1)">160</text>
<text x="1032.7" y="554.1" font-size="3.6" text-anchor="middle" font-weight="normal" fill="#444" transform="rotate(-90 1032.7 554.1)">240</text>
<text x="1032.7" y="533.2" font-size="3.6" text-anchor="middle" font-weight="normal" fill="#444" transform="rotate(-90 1032.7 533.2)">320</text>
<text x="1027.7" y="560.8" font-size="3.4" text-anchor="middle" font-weight="normal" fill="#444" transform="rotate(-90 1027.7 560.8)">Number</text>
<text x="1096.7" y="628.9" font-size="4" text-anchor="middle" font-weight="normal" fill="#444">Channels (YEL-B-ALin/Yellow-B Fluorescence Area (YEL-B-ALin))</text>
<path d="M1217.8 491.7L1217.8 491.6L1219 491.5L1220.2 491.3L1221.4 490.9L1222.7 490.1L1223.9 488.8L1225.1 486.6L1226.3 483.6L1227.5 480.1L1228.8 476.8L1230 474.4L1231.2 472.8L1232.4 471.9L1233.6 471.4L1234.9 471.2L1236.1 471L1237.3 471L1238.5 471L1239.7 471L1241 471.1L1242.2 471.1L1243.4 471.2L1244.6 471.3L1245.8 471.4L1247.1 471.5L1248.3 471.7L1249.5 471.9L1250.7 472.1L1251.9 472.4L1253.2 472.7L1254.4 473.1L1255.6 473.6L1256.8 474.1L1258 474.7L1259.3 475.4L1260.5 476.1L1261.7 477L1262.9 477.9L1264.1 478.8L1265.4 479.9L1266.6 480.9L1267.8 481.9L1269 483L1270.2 484L1271.5 484.9L1272.7 485.8L1273.9 486.6L1275.1 487.3L1276.3 488L1277.6 488.6L1278.8 489.1L1280 489.5L1281.2 489.9L1282.4 490.2L1283.7 490.4L1284.9 490.6L1286.1 490.8L1287.3 491L1288.5 491.1L1289.8 491.2L1291 491.3L1292.2 491.4L1293.4 491.4L1294.6 491.5L1295.9 491.5L1297.1 491.6L1298.3 491.6L1299.5 491.6L1300.7 491.6L1300.7 491.7 Z" fill="#d6d6ee" stroke="#333" stroke-width="0.6"/>
<path d="M1211.7 491.7L1211.7 491.5L1212.9 491.1L1214.1 490L1215.3 487.5L1216.6 482.8L1217.8 474.9L1219 463.3L1220.2 449.1L1221.4 434.7L1222.7 423.8L1223.9 419.8L1225.1 423.8L1226.3 434.7L1227.5 449.1L1228.8 463.3L1230 474.9L1231.2 482.8L1232.4 487.5L1233.6 490L1234.9 491.1L1236.1 491.5L1236.1 491.7 Z" fill="#f00000" stroke="#222" stroke-width="0.5"/>
<path d="M1249.5 491.7L1249.5 491.6L1250.7 491.5L1251.9 491.4L1253.2 491.3L1254.4 491.1L1255.6 490.9L1256.8 490.5L1258 490.2L1259.3 489.8L1260.5 489.3L1261.7 488.9L1262.9 488.5L1264.1 488.1L1265.4 487.9L1266.6 487.8L1267.8 487.8L1269 488L1270.2 488.2L1271.5 488.6L1272.7 489L1273.9 489.5L1275.1 489.9L1276.3 490.3L1277.6 490.7L1278.8 490.9L1280 491.2L1281.2 491.3L1282.4 491.5L1283.7 491.6L1284.9 491.6L1284.9 491.7 Z" fill="#f00000" stroke="#222" stroke-width="0.5" opacity="0.95"/>
<path d="M1217.8 491.7L1217.8 491.6L1219 491.5L1220.2 491.3L1221.4 490.9L1222.7 490.1L1223.9 488.8L1225.1 486.6L1226.3 483.6L1227.5 480.1L1228.8 476.8L1230 474.9L1231.2 482.8L1232.4 487.5L1233.6 490L1234.9 491.1L1236.1 491.5L1236.1 491.7 Z" fill="#c80028"/>
<path d="M1249.5 491.7L1249.5 491.6L1250.7 491.5L1251.9 491.4L1253.2 491.3L1254.4 491.1L1255.6 490.9L1256.8 490.5L1258 490.2L1259.3 489.8L1260.5 489.3L1261.7 488.9L1262.9 488.5L1264.1 488.1L1265.4 487.9L1266.6 487.8L1267.8 487.8L1269 488L1270.2 488.2L1271.5 488.6L1272.7 489L1273.9 489.5L1275.1 489.9L1276.3 490.3L1277.6 490.7L1278.8 490.9L1280 491.2L1281.2 491.3L1282.4 491.5L1283.7 491.6L1284.9 491.6L1284.9 491.7 Z" fill="#c80028"/>
<path d="M1182.4 491.7 L1183.6 491.7 L1184.8 491.7 L1186.1 491.7 L1187.3 491.7 L1188.5 491.7 L1189.7 491.7 L1190.9 491.7 L1192.2 491.7 L1193.4 491.7 L1194.6 491.7 L1195.8 491.7 L1197 491.7 L1198.3 491.7 L1199.5 491.7 L1200.7 491.7 L1201.9 491.7 L1203.1 491.7 L1204.4 491.7 L1205.6 491.7 L1206.8 491.7 L1208 491.7 L1209.2 491.7 L1210.5 491.6 L1211.7 491.4 L1212.9 490.9 L1214.1 489.7 L1215.3 487 L1216.6 481.7 L1217.8 473 L1219 460.3 L1220.2 444.7 L1221.4 428.6 L1222.7 415.9 L1223.9 409.8 L1225.1 411.6 L1226.3 419.9 L1227.5 431.8 L1228.8 444 L1230 454.4 L1231.2 461.8 L1232.4 466.5 L1233.6 469 L1234.9 470.2 L1236.1 470.7 L1237.3 470.9 L1238.5 471 L1239.7 471 L1241 471.1 L1242.2 471.1 L1243.4 471.2 L1244.6 471.3 L1245.8 471.4 L1247.1 471.5 L1248.3 471.6 L1249.5 471.8 L1250.7 472 L1251.9 472.1 L1253.2 472.3 L1254.4 472.5 L1255.6 472.7 L1256.8 472.9 L1258 473.2 L1259.3 473.4 L1260.5 473.8 L1261.7 474.1 L1262.9 474.6 L1264.1 475.3 L1265.4 476 L1266.6 477 L1267.8 478 L1269 479.2 L1270.2 480.5 L1271.5 481.8 L1272.7 483.1 L1273.9 484.4 L1275.1 485.5 L1276.3 486.6 L1277.6 487.5 L1278.8 488.3 L1280 489 L1281.2 489.5 L1282.4 489.9 L1283.7 490.3 L1284.9 490.6 L1286.1 490.8 L1287.3 490.9 L1288.5 491.1 L1289.8 491.2 L1291 491.3 L1292.2 491.4 L1293.4 491.4 L1294.6 491.5 L1295.9 491.5" fill="none" stroke="#111" stroke-width="1.1"/>
<path d="M1199.5 491.7 L1200.7 490.9 L1201.9 491.4 L1203.1 492.3 L1204.4 492.3 L1205.6 491.3 L1206.8 490.9 L1208 491.8 L1209.2 492.5 L1210.5 491.9 L1211.7 490.8 L1212.9 490.3 L1214.1 490 L1215.3 487.6 L1216.6 481.4 L1217.8 471.7 L1219 459.1 L1220.2 443.9 L1221.4 427.3 L1222.7 413.2 L1223.9 406.6 L1225.1 409.3 L1226.3 418.6 L1227.5 430.2 L1228.8 441.9 L1230 452.7 L1231.2 461.4 L1232.4 466.5 L1233.6 468.2 L1234.9 468.7 L1236.1 469.8 L1237.3 470.9 L1238.5 470.9 L1239.7 469.9 L1241 469.7 L1242.2 470.6 L1243.4 471.4 L1244.6 470.8 L1245.8 470 L1247.1 470.2 L1248.3 471.1 L1249.5 471.1 L1250.7 469.9 L1251.9 469.1 L1253.2 469.5 L1254.4 470.6 L1255.6 470.8 L1256.8 470.5 L1258 471 L1259.3 472.5 L1260.5 473.7 L1261.7 473.7 L1262.9 473.4 L1264.1 474.3 L1265.4 476.1 L1266.6 477.2 L1267.8 477.4 L1269 478.1 L1270.2 480 L1271.5 482.2 L1272.7 483.3 L1273.9 483.5 L1275.1 484.5 L1276.3 486.4 L1277.6 487.7 L1278.8 487.7 L1280 487.4 L1281.2 488.1 L1282.4 489.4 L1283.7 489.9 L1284.9 489.3 L1286.1 489 L1287.3 490 L1288.5 491.1 L1289.8 491.1 L1291 490.4 L1292.2 490.4 L1293.4 491.5 L1294.6 492.2 L1295.9 491.5" fill="none" stroke="#333" stroke-width="0.6"/>
<path d="M1182.4 387.7 V491.7 H1304.4" fill="none" stroke="#222" stroke-width="0.8"/>
<path d="M1182.4 491.7 v1.6M1186.5 491.7 v1.6M1190.5 491.7 v1.6M1194.6 491.7 v1.6M1198.7 491.7 v1.6M1202.7 491.7 v1.6M1206.8 491.7 v1.6M1210.9 491.7 v1.6M1214.9 491.7 v1.6M1219 491.7 v1.6M1223.1 491.7 v1.6M1227.1 491.7 v1.6M1231.2 491.7 v1.6M1235.3 491.7 v1.6M1239.3 491.7 v1.6M1243.4 491.7 v1.6M1247.5 491.7 v1.6M1251.5 491.7 v1.6M1255.6 491.7 v1.6M1259.7 491.7 v1.6M1263.7 491.7 v1.6M1267.8 491.7 v1.6M1271.9 491.7 v1.6M1275.9 491.7 v1.6M1280 491.7 v1.6M1284.1 491.7 v1.6M1288.1 491.7 v1.6M1292.2 491.7 v1.6M1296.3 491.7 v1.6M1300.3 491.7 v1.6M1304.4 491.7 v1.6M1182.4 491.7 h-1.6M1182.4 487.5 h-1.6M1182.4 483.4 h-1.6M1182.4 479.2 h-1.6M1182.4 475.1 h-1.6M1182.4 470.9 h-1.6M1182.4 466.7 h-1.6M1182.4 462.6 h-1.6M1182.4 458.4 h-1.6M1182.4 454.3 h-1.6M1182.4 450.1 h-1.6M1182.4 445.9 h-1.6M1182.4 441.8 h-1.6M1182.4 437.6 h-1.6M1182.4 433.5 h-1.6M1182.4 429.3 h-1.6M1182.4 425.1 h-1.6M1182.4 421 h-1.6M1182.4 416.8 h-1.6M1182.4 412.7 h-1.6M1182.4 408.5 h-1.6M1182.4 404.3 h-1.6M1182.4 400.2 h-1.6M1182.4 396 h-1.6M1182.4 391.9 h-1.6M1182.4 387.7 h-1.6" stroke="#444" stroke-width="0.5"/>
<text x="1182.4" y="499.2" font-size="3.6" text-anchor="middle" font-weight="normal" fill="#444">0</text>
<text x="1206.8" y="499.2" font-size="3.6" text-anchor="middle" font-weight="normal" fill="#444">30</text>
<text x="1231.2" y="499.2" font-size="3.6" text-anchor="middle" font-weight="normal" fill="#444">60</text>
<text x="1255.6" y="499.2" font-size="3.6" text-anchor="middle" font-weight="normal" fill="#444">90</text>
<text x="1280" y="499.2" font-size="3.6" text-anchor="middle" font-weight="normal" fill="#444">120</text>
<text x="1304.4" y="499.2" font-size="3.6" text-anchor="middle" font-weight="normal" fill="#444">150</text>
<text x="1179.4" y="491.7" font-size="3.6" text-anchor="middle" font-weight="normal" fill="#444" transform="rotate(-90 1179.4 491.7)">0</text>
<text x="1179.4" y="470.8" font-size="3.6" text-anchor="middle" font-weight="normal" fill="#444" transform="rotate(-90 1179.4 470.8)">80</text>
<text x="1179.4" y="449.9" font-size="3.6" text-anchor="middle" font-weight="normal" fill="#444" transform="rotate(-90 1179.4 449.9)">160</text>
<text x="1179.4" y="428.9" font-size="3.6" text-anchor="middle" font-weight="normal" fill="#444" transform="rotate(-90 1179.4 428.9)">240</text>
<text x="1179.4" y="408" font-size="3.6" text-anchor="middle" font-weight="normal" fill="#444" transform="rotate(-90 1179.4 408)">320</text>
<text x="1174.4" y="435.6" font-size="3.4" text-anchor="middle" font-weight="normal" fill="#444" transform="rotate(-90 1174.4 435.6)">Number</text>
<text x="1243.4" y="503.7" font-size="4" text-anchor="middle" font-weight="normal" fill="#444">Channels (YEL-B-ALin/Yellow-B Fluorescence Area (YEL-B-ALin))</text>
<path d="M1219 616.9L1219 616.8L1220.2 616.7L1221.4 616.5L1222.7 616.1L1223.9 615.3L1225.1 614.1L1226.3 612.1L1227.5 609.5L1228.8 606.7L1230 604.3L1231.2 602.6L1232.4 601.6L1233.6 601L1234.9 600.7L1236.1 600.6L1237.3 600.5L1238.5 600.5L1239.7 600.6L1241 600.7L1242.2 600.8L1243.4 600.9L1244.6 601L1245.8 601.2L1247.1 601.4L1248.3 601.6L1249.5 601.9L1250.7 602.2L1251.9 602.5L1253.2 602.9L1254.4 603.4L1255.6 603.9L1256.8 604.5L1258 605.1L1259.3 605.8L1260.5 606.5L1261.7 607.2L1262.9 608L1264.1 608.8L1265.4 609.6L1266.6 610.3L1267.8 611.1L1269 611.8L1270.2 612.4L1271.5 613L1272.7 613.5L1273.9 614L1275.1 614.4L1276.3 614.8L1277.6 615.1L1278.8 615.4L1280 615.6L1281.2 615.8L1282.4 616L1283.7 616.2L1284.9 616.3L1286.1 616.4L1287.3 616.5L1288.5 616.5L1289.8 616.6L1291 616.6L1292.2 616.7L1293.4 616.7L1294.6 616.8L1295.9 616.8L1297.1 616.8L1298.3 616.8L1298.3 616.9 Z" fill="#d6d6ee" stroke="#333" stroke-width="0.6"/>
<path d="M1210.5 616.9L1210.5 616.8L1211.7 616.6L1212.9 616.1L1214.1 615L1215.3 612.6L1216.6 608.2L1217.8 601.1L1219 590.7L1220.2 577.6L1221.4 563.3L1222.7 550.7L1223.9 542.7L1225.1 541.5L1226.3 547.4L1227.5 558.8L1228.8 572.8L1230 586.6L1231.2 598L1232.4 606.2L1233.6 611.4L1234.9 614.3L1236.1 615.8L1237.3 616.5L1238.5 616.8L1238.5 616.9 Z" fill="#f00000" stroke="#222" stroke-width="0.5"/>
<path d="M1245.8 616.9L1245.8 616.8L1247.1 616.7L1248.3 616.6L1249.5 616.5L1250.7 616.3L1251.9 616L1253.2 615.6L1254.4 615.2L1255.6 614.6L1256.8 614L1258 613.2L1259.3 612.4L1260.5 611.5L1261.7 610.6L1262.9 609.7L1264.1 608.9L1265.4 608.3L1266.6 607.8L1267.8 607.5L1269 607.5L1270.2 607.7L1271.5 608.1L1272.7 608.7L1273.9 609.4L1275.1 610.3L1276.3 611.2L1277.6 612.1L1278.8 612.9L1280 613.7L1281.2 614.4L1282.4 615L1283.7 615.5L1284.9 615.9L1286.1 616.2L1287.3 616.4L1288.5 616.6L1289.8 616.7L1291 616.8L1292.2 616.8L1292.2 616.9 Z" fill="#f00000" stroke="#222" stroke-width="0.5" opacity="0.95"/>
<path d="M1219 616.9L1219 616.8L1220.2 616.7L1221.4 616.5L1222.7 616.1L1223.9 615.3L1225.1 614.1L1226.3 612.1L1227.5 609.5L1228.8 606.7L1230 604.3L1231.2 602.6L1232.4 606.2L1233.6 611.4L1234.9 614.3L1236.1 615.8L1237.3 616.5L1238.5 616.8L1238.5 616.9 Z" fill="#c80028"/>
<path d="M1245.8 616.9L1245.8 616.8L1247.1 616.7L1248.3 616.6L1249.5 616.5L1250.7 616.3L1251.9 616L1253.2 615.6L1254.4 615.2L1255.6 614.6L1256.8 614L1258 613.2L1259.3 612.4L1260.5 611.5L1261.7 610.6L1262.9 609.7L1264.1 608.9L1265.4 609.6L1266.6 610.3L1267.8 611.1L1269 611.8L1270.2 612.4L1271.5 613L1272.7 613.5L1273.9 614L1275.1 614.4L1276.3 614.8L1277.6 615.1L1278.8 615.4L1280 615.6L1281.2 615.8L1282.4 616L1283.7 616.2L1284.9 616.3L1286.1 616.4L1287.3 616.5L1288.5 616.6L1289.8 616.7L1291 616.8L1292.2 616.8L1292.2 616.9 Z" fill="#c80028"/>
<path d="M1182.4 616.9 L1183.6 616.9 L1184.8 616.9 L1186.1 616.9 L1187.3 616.9 L1188.5 616.9 L1189.7 616.9 L1190.9 616.9 L1192.2 616.9 L1193.4 616.9 L1194.6 616.9 L1195.8 616.9 L1197 616.9 L1198.3 616.9 L1199.5 616.9 L1200.7 616.9 L1201.9 616.9 L1203.1 616.9 L1204.4 616.9 L1205.6 616.9 L1206.8 616.9 L1208 616.9 L1209.2 616.9 L1210.5 616.8 L1211.7 616.5 L1212.9 616 L1214.1 614.7 L1215.3 612 L1216.6 607.2 L1217.8 599.3 L1219 587.9 L1220.2 573.5 L1221.4 557.8 L1222.7 543.6 L1223.9 534 L1225.1 531.1 L1226.3 535.1 L1227.5 544.5 L1228.8 556.8 L1230 569.4 L1231.2 580.3 L1232.4 588.5 L1233.6 594 L1234.9 597.3 L1236.1 599 L1237.3 599.9 L1238.5 600.3 L1239.7 600.5 L1241 600.6 L1242.2 600.7 L1243.4 600.8 L1244.6 600.9 L1245.8 601 L1247.1 601.2 L1248.3 601.3 L1249.5 601.4 L1250.7 601.5 L1251.9 601.6 L1253.2 601.6 L1254.4 601.6 L1255.6 601.6 L1256.8 601.5 L1258 601.4 L1259.3 601.2 L1260.5 601.1 L1261.7 600.9 L1262.9 600.8 L1264.1 600.8 L1265.4 601 L1266.6 601.2 L1267.8 601.7 L1269 602.4 L1270.2 603.2 L1271.5 604.2 L1272.7 605.3 L1273.9 606.5 L1275.1 607.8 L1276.3 609.1 L1277.6 610.3 L1278.8 611.4 L1280 612.5 L1281.2 613.3 L1282.4 614.1 L1283.7 614.7 L1284.9 615.2 L1286.1 615.7 L1287.3 616 L1288.5 616.2 L1289.8 616.4 L1291 616.5 L1292.2 616.6 L1293.4 616.7 L1294.6 616.7 L1295.9 616.8" fill="none" stroke="#111" stroke-width="1.1"/>
<path d="M1199.5 616.9 L1200.7 616.1 L1201.9 616.6 L1203.1 617.5 L1204.4 617.5 L1205.6 616.5 L1206.8 616.1 L1208 616.9 L1209.2 617.6 L1210.5 617 L1211.7 615.9 L1212.9 615.4 L1214.1 615 L1215.3 612.6 L1216.6 606.8 L1217.8 598 L1219 586.8 L1220.2 572.9 L1221.4 556.6 L1222.7 541 L1223.9 530.8 L1225.1 528.6 L1226.3 533.4 L1227.5 542.6 L1228.8 554.3 L1230 567.4 L1231.2 579.6 L1232.4 588.4 L1233.6 593.2 L1234.9 595.9 L1236.1 598.3 L1237.3 600.1 L1238.5 600.3 L1239.7 599.5 L1241 599.4 L1242.2 600.4 L1243.4 601.1 L1244.6 600.6 L1245.8 599.8 L1247.1 600 L1248.3 601 L1249.5 601 L1250.7 599.8 L1251.9 598.5 L1253.2 598.2 L1254.4 598.1 L1255.6 596.8 L1256.8 595.1 L1258 594.5 L1259.3 595.4 L1260.5 596.6 L1261.7 596.8 L1262.9 596.8 L1264.1 598 L1265.4 599.8 L1266.6 600.8 L1267.8 600.7 L1269 601 L1270.2 602.5 L1271.5 604.5 L1272.7 605.4 L1273.9 605.6 L1275.1 606.7 L1276.3 608.8 L1277.6 610.5 L1278.8 610.8 L1280 610.9 L1281.2 611.9 L1282.4 613.6 L1283.7 614.3 L1284.9 613.9 L1286.1 613.9 L1287.3 615 L1288.5 616.2 L1289.8 616.3 L1291 615.6 L1292.2 615.7 L1293.4 616.8 L1294.6 617.4 L1295.9 616.8" fill="none" stroke="#333" stroke-width="0.6"/>
<path d="M1182.4 512.9 V616.9 H1304.4" fill="none" stroke="#222" stroke-width="0.8"/>
<path d="M1182.4 616.9 v1.6M1186.5 616.9 v1.6M1190.5 616.9 v1.6M1194.6 616.9 v1.6M1198.7 616.9 v1.6M1202.7 616.9 v1.6M1206.8 616.9 v1.6M1210.9 616.9 v1.6M1214.9 616.9 v1.6M1219 616.9 v1.6M1223.1 616.9 v1.6M1227.1 616.9 v1.6M1231.2 616.9 v1.6M1235.3 616.9 v1.6M1239.3 616.9 v1.6M1243.4 616.9 v1.6M1247.5 616.9 v1.6M1251.5 616.9 v1.6M1255.6 616.9 v1.6M1259.7 616.9 v1.6M1263.7 616.9 v1.6M1267.8 616.9 v1.6M1271.9 616.9 v1.6M1275.9 616.9 v1.6M1280 616.9 v1.6M1284.1 616.9 v1.6M1288.1 616.9 v1.6M1292.2 616.9 v1.6M1296.3 616.9 v1.6M1300.3 616.9 v1.6M1304.4 616.9 v1.6M1182.4 616.9 h-1.6M1182.4 612.7 h-1.6M1182.4 608.6 h-1.6M1182.4 604.4 h-1.6M1182.4 600.3 h-1.6M1182.4 596.1 h-1.6M1182.4 591.9 h-1.6M1182.4 587.8 h-1.6M1182.4 583.6 h-1.6M1182.4 579.5 h-1.6M1182.4 575.3 h-1.6M1182.4 571.1 h-1.6M1182.4 567 h-1.6M1182.4 562.8 h-1.6M1182.4 558.7 h-1.6M1182.4 554.5 h-1.6M1182.4 550.3 h-1.6M1182.4 546.2 h-1.6M1182.4 542 h-1.6M1182.4 537.9 h-1.6M1182.4 533.7 h-1.6M1182.4 529.5 h-1.6M1182.4 525.4 h-1.6M1182.4 521.2 h-1.6M1182.4 517.1 h-1.6M1182.4 512.9 h-1.6" stroke="#444" stroke-width="0.5"/>
<text x="1182.4" y="624.4" font-size="3.6" text-anchor="middle" font-weight="normal" fill="#444">0</text>
<text x="1206.8" y="624.4" font-size="3.6" text-anchor="middle" font-weight="normal" fill="#444">30</text>
<text x="1231.2" y="624.4" font-size="3.6" text-anchor="middle" font-weight="normal" fill="#444">60</text>
<text x="1255.6" y="624.4" font-size="3.6" text-anchor="middle" font-weight="normal" fill="#444">90</text>
<text x="1280" y="624.4" font-size="3.6" text-anchor="middle" font-weight="normal" fill="#444">120</text>
<text x="1304.4" y="624.4" font-size="3.6" text-anchor="middle" font-weight="normal" fill="#444">150</text>
<text x="1179.4" y="616.9" font-size="3.6" text-anchor="middle" font-weight="normal" fill="#444" transform="rotate(-90 1179.4 616.9)">0</text>
<text x="1179.4" y="596" font-size="3.6" text-anchor="middle" font-weight="normal" fill="#444" transform="rotate(-90 1179.4 596)">80</text>
<text x="1179.4" y="575.1" font-size="3.6" text-anchor="middle" font-weight="normal" fill="#444" transform="rotate(-90 1179.4 575.1)">160</text>
<text x="1179.4" y="554.1" font-size="3.6" text-anchor="middle" font-weight="normal" fill="#444" transform="rotate(-90 1179.4 554.1)">240</text>
<text x="1179.4" y="533.2" font-size="3.6" text-anchor="middle" font-weight="normal" fill="#444" transform="rotate(-90 1179.4 533.2)">320</text>
<text x="1174.4" y="560.8" font-size="3.4" text-anchor="middle" font-weight="normal" fill="#444" transform="rotate(-90 1174.4 560.8)">Number</text>
<text x="1243.4" y="628.9" font-size="4" text-anchor="middle" font-weight="normal" fill="#444">Channels (YEL-B-ALin/Yellow-B Fluorescence Area (YEL-B-ALin))</text>
<path d="M1364.8 491.7L1364.8 491.6L1366 491.5L1367.2 491.3L1368.4 490.9L1369.7 490.1L1370.9 488.8L1372.1 486.6L1373.3 483.6L1374.5 480.1L1375.8 476.8L1377 474.4L1378.2 472.8L1379.4 471.9L1380.6 471.4L1381.9 471.2L1383.1 471L1384.3 471L1385.5 471L1386.7 471L1388 471.1L1389.2 471.1L1390.4 471.2L1391.6 471.3L1392.8 471.4L1394.1 471.5L1395.3 471.7L1396.5 471.9L1397.7 472.1L1398.9 472.4L1400.2 472.7L1401.4 473.1L1402.6 473.6L1403.8 474.1L1405 474.7L1406.3 475.4L1407.5 476.1L1408.7 477L1409.9 477.9L1411.1 478.8L1412.4 479.9L1413.6 480.9L1414.8 481.9L1416 483L1417.2 484L1418.5 484.9L1419.7 485.8L1420.9 486.6L1422.1 487.3L1423.3 488L1424.6 488.6L1425.8 489.1L1427 489.5L1428.2 489.9L1429.4 490.2L1430.7 490.4L1431.9 490.6L1433.1 490.8L1434.3 491L1435.5 491.1L1436.8 491.2L1438 491.3L1439.2 491.4L1440.4 491.4L1441.6 491.5L1442.9 491.5L1444.1 491.6L1445.3 491.6L1446.5 491.6L1447.7 491.6L1447.7 491.7 Z" fill="#d6d6ee" stroke="#333" stroke-width="0.6"/>
<path d="M1358.7 491.7L1358.7 491.5L1359.9 491L1361.1 489.9L1362.3 487.3L1363.6 482.3L1364.8 474L1366 461.8L1367.2 446.7L1368.4 431.6L1369.7 420.1L1370.9 415.9L1372.1 420.1L1373.3 431.6L1374.5 446.7L1375.8 461.8L1377 474L1378.2 482.3L1379.4 487.3L1380.6 489.9L1381.9 491L1383.1 491.5L1383.1 491.7 Z" fill="#f00000" stroke="#222" stroke-width="0.5"/>
<path d="M1396.5 491.7L1396.5 491.6L1397.7 491.5L1398.9 491.4L1400.2 491.3L1401.4 491.1L1402.6 490.9L1403.8 490.5L1405 490.2L1406.3 489.8L1407.5 489.3L1408.7 488.9L1409.9 488.5L1411.1 488.1L1412.4 487.9L1413.6 487.8L1414.8 487.8L1416 488L1417.2 488.2L1418.5 488.6L1419.7 489L1420.9 489.5L1422.1 489.9L1423.3 490.3L1424.6 490.7L1425.8 490.9L1427 491.2L1428.2 491.3L1429.4 491.5L1430.7 491.6L1431.9 491.6L1431.9 491.7 Z" fill="#f00000" stroke="#222" stroke-width="0.5" opacity="0.95"/>
<path d="M1364.8 491.7L1364.8 491.6L1366 491.5L1367.2 491.3L1368.4 490.9L1369.7 490.1L1370.9 488.8L1372.1 486.6L1373.3 483.6L1374.5 480.1L1375.8 476.8L1377 474.4L1378.2 482.3L1379.4 487.3L1380.6 489.9L1381.9 491L1383.1 491.5L1383.1 491.7 Z" fill="#c80028"/>
<path d="M1396.5 491.7L1396.5 491.6L1397.7 491.5L1398.9 491.4L1400.2 491.3L1401.4 491.1L1402.6 490.9L1403.8 490.5L1405 490.2L1406.3 489.8L1407.5 489.3L1408.7 488.9L1409.9 488.5L1411.1 488.1L1412.4 487.9L1413.6 487.8L1414.8 487.8L1416 488L1417.2 488.2L1418.5 488.6L1419.7 489L1420.9 489.5L1422.1 489.9L1423.3 490.3L1424.6 490.7L1425.8 490.9L1427 491.2L1428.2 491.3L1429.4 491.5L1430.7 491.6L1431.9 491.6L1431.9 491.7 Z" fill="#c80028"/>
<path d="M1329.4 491.7 L1330.6 491.7 L1331.8 491.7 L1333.1 491.7 L1334.3 491.7 L1335.5 491.7 L1336.7 491.7 L1337.9 491.7 L1339.2 491.7 L1340.4 491.7 L1341.6 491.7 L1342.8 491.7 L1344 491.7 L1345.3 491.7 L1346.5 491.7 L1347.7 491.7 L1348.9 491.7 L1350.1 491.7 L1351.4 491.7 L1352.6 491.7 L1353.8 491.7 L1355 491.7 L1356.2 491.7 L1357.5 491.6 L1358.7 491.4 L1359.9 490.9 L1361.1 489.6 L1362.3 486.7 L1363.6 481.2 L1364.8 472 L1366 458.6 L1367.2 442.1 L1368.4 425.2 L1369.7 411.8 L1370.9 405.5 L1372.1 407.5 L1373.3 416.5 L1374.5 429.1 L1375.8 442.2 L1377 453.3 L1378.2 461.2 L1379.4 466.2 L1380.6 468.8 L1381.9 470.1 L1383.1 470.7 L1384.3 470.9 L1385.5 471 L1386.7 471 L1388 471.1 L1389.2 471.1 L1390.4 471.2 L1391.6 471.3 L1392.8 471.4 L1394.1 471.5 L1395.3 471.6 L1396.5 471.8 L1397.7 472 L1398.9 472.1 L1400.2 472.3 L1401.4 472.5 L1402.6 472.7 L1403.8 472.9 L1405 473.2 L1406.3 473.4 L1407.5 473.8 L1408.7 474.1 L1409.9 474.6 L1411.1 475.3 L1412.4 476 L1413.6 477 L1414.8 478 L1416 479.2 L1417.2 480.5 L1418.5 481.8 L1419.7 483.1 L1420.9 484.4 L1422.1 485.5 L1423.3 486.6 L1424.6 487.5 L1425.8 488.3 L1427 489 L1428.2 489.5 L1429.4 489.9 L1430.7 490.3 L1431.9 490.6 L1433.1 490.8 L1434.3 490.9 L1435.5 491.1 L1436.8 491.2 L1438 491.3 L1439.2 491.4 L1440.4 491.4 L1441.6 491.5 L1442.9 491.5" fill="none" stroke="#111" stroke-width="1.1"/>
<path d="M1346.5 491.7 L1347.7 490.9 L1348.9 491.4 L1350.1 492.3 L1351.4 492.3 L1352.6 491.3 L1353.8 490.9 L1355 491.8 L1356.2 492.5 L1357.5 491.9 L1358.7 490.8 L1359.9 490.3 L1361.1 489.9 L1362.3 487.3 L1363.6 480.8 L1364.8 470.6 L1366 457.4 L1367.2 441.3 L1368.4 423.8 L1369.7 409 L1370.9 402.2 L1372.1 405.1 L1373.3 415 L1374.5 427.5 L1375.8 440.1 L1377 451.6 L1378.2 460.8 L1379.4 466.1 L1380.6 468 L1381.9 468.7 L1383.1 469.8 L1384.3 470.9 L1385.5 470.9 L1386.7 469.9 L1388 469.7 L1389.2 470.6 L1390.4 471.4 L1391.6 470.8 L1392.8 470 L1394.1 470.2 L1395.3 471.1 L1396.5 471.1 L1397.7 469.9 L1398.9 469.1 L1400.2 469.5 L1401.4 470.6 L1402.6 470.8 L1403.8 470.5 L1405 471 L1406.3 472.5 L1407.5 473.7 L1408.7 473.7 L1409.9 473.4 L1411.1 474.3 L1412.4 476.1 L1413.6 477.2 L1414.8 477.4 L1416 478.1 L1417.2 480 L1418.5 482.2 L1419.7 483.3 L1420.9 483.5 L1422.1 484.5 L1423.3 486.4 L1424.6 487.7 L1425.8 487.7 L1427 487.4 L1428.2 488.1 L1429.4 489.4 L1430.7 489.9 L1431.9 489.3 L1433.1 489 L1434.3 490 L1435.5 491.1 L1436.8 491.1 L1438 490.4 L1439.2 490.4 L1440.4 491.5 L1441.6 492.2 L1442.9 491.5" fill="none" stroke="#333" stroke-width="0.6"/>
<path d="M1329.4 387.7 V491.7 H1451.4" fill="none" stroke="#222" stroke-width="0.8"/>
<path d="M1329.4 491.7 v1.6M1333.5 491.7 v1.6M1337.5 491.7 v1.6M1341.6 491.7 v1.6M1345.7 491.7 v1.6M1349.7 491.7 v1.6M1353.8 491.7 v1.6M1357.9 491.7 v1.6M1361.9 491.7 v1.6M1366 491.7 v1.6M1370.1 491.7 v1.6M1374.1 491.7 v1.6M1378.2 491.7 v1.6M1382.3 491.7 v1.6M1386.3 491.7 v1.6M1390.4 491.7 v1.6M1394.5 491.7 v1.6M1398.5 491.7 v1.6M1402.6 491.7 v1.6M1406.7 491.7 v1.6M1410.7 491.7 v1.6M1414.8 491.7 v1.6M1418.9 491.7 v1.6M1422.9 491.7 v1.6M1427 491.7 v1.6M1431.1 491.7 v1.6M1435.1 491.7 v1.6M1439.2 491.7 v1.6M1443.3 491.7 v1.6M1447.3 491.7 v1.6M1451.4 491.7 v1.6M1329.4 491.7 h-1.6M1329.4 487.5 h-1.6M1329.4 483.4 h-1.6M1329.4 479.2 h-1.6M1329.4 475.1 h-1.6M1329.4 470.9 h-1.6M1329.4 466.7 h-1.6M1329.4 462.6 h-1.6M1329.4 458.4 h-1.6M1329.4 454.3 h-1.6M1329.4 450.1 h-1.6M1329.4 445.9 h-1.6M1329.4 441.8 h-1.6M1329.4 437.6 h-1.6M1329.4 433.5 h-1.6M1329.4 429.3 h-1.6M1329.4 425.1 h-1.6M1329.4 421 h-1.6M1329.4 416.8 h-1.6M1329.4 412.7 h-1.6M1329.4 408.5 h-1.6M1329.4 404.3 h-1.6M1329.4 400.2 h-1.6M1329.4 396 h-1.6M1329.4 391.9 h-1.6M1329.4 387.7 h-1.6" stroke="#444" stroke-width="0.5"/>
<text x="1329.4" y="499.2" font-size="3.6" text-anchor="middle" font-weight="normal" fill="#444">0</text>
<text x="1353.8" y="499.2" font-size="3.6" text-anchor="middle" font-weight="normal" fill="#444">30</text>
<text x="1378.2" y="499.2" font-size="3.6" text-anchor="middle" font-weight="normal" fill="#444">60</text>
<text x="1402.6" y="499.2" font-size="3.6" text-anchor="middle" font-weight="normal" fill="#444">90</text>
<text x="1427" y="499.2" font-size="3.6" text-anchor="middle" font-weight="normal" fill="#444">120</text>
<text x="1451.4" y="499.2" font-size="3.6" text-anchor="middle" font-weight="normal" fill="#444">150</text>
<text x="1326.4" y="491.7" font-size="3.6" text-anchor="middle" font-weight="normal" fill="#444" transform="rotate(-90 1326.4 491.7)">0</text>
<text x="1326.4" y="470.8" font-size="3.6" text-anchor="middle" font-weight="normal" fill="#444" transform="rotate(-90 1326.4 470.8)">80</text>
<text x="1326.4" y="449.9" font-size="3.6" text-anchor="middle" font-weight="normal" fill="#444" transform="rotate(-90 1326.4 449.9)">160</text>
<text x="1326.4" y="428.9" font-size="3.6" text-anchor="middle" font-weight="normal" fill="#444" transform="rotate(-90 1326.4 428.9)">240</text>
<text x="1326.4" y="408" font-size="3.6" text-anchor="middle" font-weight="normal" fill="#444" transform="rotate(-90 1326.4 408)">320</text>
<text x="1321.4" y="435.6" font-size="3.4" text-anchor="middle" font-weight="normal" fill="#444" transform="rotate(-90 1321.4 435.6)">Number</text>
<text x="1390.4" y="503.7" font-size="4" text-anchor="middle" font-weight="normal" fill="#444">Channels (YEL-B-ALin/Yellow-B Fluorescence Area (YEL-B-ALin))</text>
<path d="M1366 616.9L1366 616.8L1367.2 616.7L1368.4 616.5L1369.7 616.1L1370.9 615.3L1372.1 614.1L1373.3 612.1L1374.5 609.5L1375.8 606.7L1377 604.3L1378.2 602.6L1379.4 601.6L1380.6 601L1381.9 600.7L1383.1 600.6L1384.3 600.5L1385.5 600.5L1386.7 600.6L1388 600.7L1389.2 600.8L1390.4 600.9L1391.6 601L1392.8 601.2L1394.1 601.4L1395.3 601.6L1396.5 601.9L1397.7 602.2L1398.9 602.5L1400.2 602.9L1401.4 603.4L1402.6 603.9L1403.8 604.5L1405 605.1L1406.3 605.8L1407.5 606.5L1408.7 607.2L1409.9 608L1411.1 608.8L1412.4 609.6L1413.6 610.3L1414.8 611.1L1416 611.8L1417.2 612.4L1418.5 613L1419.7 613.5L1420.9 614L1422.1 614.4L1423.3 614.8L1424.6 615.1L1425.8 615.4L1427 615.6L1428.2 615.8L1429.4 616L1430.7 616.2L1431.9 616.3L1433.1 616.4L1434.3 616.5L1435.5 616.5L1436.8 616.6L1438 616.6L1439.2 616.7L1440.4 616.7L1441.6 616.8L1442.9 616.8L1444.1 616.8L1445.3 616.8L1445.3 616.9 Z" fill="#d6d6ee" stroke="#333" stroke-width="0.6"/>
<path d="M1357.5 616.9L1357.5 616.8L1358.7 616.6L1359.9 616.1L1361.1 614.9L1362.3 612.5L1363.6 607.9L1364.8 600.5L1366 589.8L1367.2 576.2L1368.4 561.5L1369.7 548.4L1370.9 540.1L1372.1 538.9L1373.3 545L1374.5 556.8L1375.8 571.3L1377 585.5L1378.2 597.3L1379.4 605.8L1380.6 611.2L1381.9 614.3L1383.1 615.8L1384.3 616.5L1385.5 616.8L1385.5 616.9 Z" fill="#f00000" stroke="#222" stroke-width="0.5"/>
<path d="M1392.8 616.9L1392.8 616.8L1394.1 616.7L1395.3 616.6L1396.5 616.5L1397.7 616.3L1398.9 616L1400.2 615.6L1401.4 615.2L1402.6 614.6L1403.8 614L1405 613.2L1406.3 612.4L1407.5 611.5L1408.7 610.6L1409.9 609.7L1411.1 608.9L1412.4 608.3L1413.6 607.8L1414.8 607.5L1416 607.5L1417.2 607.7L1418.5 608.1L1419.7 608.7L1420.9 609.4L1422.1 610.3L1423.3 611.2L1424.6 612.1L1425.8 612.9L1427 613.7L1428.2 614.4L1429.4 615L1430.7 615.5L1431.9 615.9L1433.1 616.2L1434.3 616.4L1435.5 616.6L1436.8 616.7L1438 616.8L1439.2 616.8L1439.2 616.9 Z" fill="#f00000" stroke="#222" stroke-width="0.5" opacity="0.95"/>
<path d="M1366 616.9L1366 616.8L1367.2 616.7L1368.4 616.5L1369.7 616.1L1370.9 615.3L1372.1 614.1L1373.3 612.1L1374.5 609.5L1375.8 606.7L1377 604.3L1378.2 602.6L1379.4 605.8L1380.6 611.2L1381.9 614.3L1383.1 615.8L1384.3 616.5L1385.5 616.8L1385.5 616.9 Z" fill="#c80028"/>
<path d="M1392.8 616.9L1392.8 616.8L1394.1 616.7L1395.3 616.6L1396.5 616.5L1397.7 616.3L1398.9 616L1400.2 615.6L1401.4 615.2L1402.6 614.6L1403.8 614L1405 613.2L1406.3 612.4L1407.5 611.5L1408.7 610.6L1409.9 609.7L1411.1 608.9L1412.4 609.6L1413.6 610.3L1414.8 611.1L1416 611.8L1417.2 612.4L1418.5 613L1419.7 613.5L1420.9 614L1422.1 614.4L1423.3 614.8L1424.6 615.1L1425.8 615.4L1427 615.6L1428.2 615.8L1429.4 616L1430.7 616.2L1431.9 616.3L1433.1 616.4L1434.3 616.5L1435.5 616.6L1436.8 616.7L1438 616.8L1439.2 616.8L1439.2 616.9 Z" fill="#c80028"/>
<path d="M1329.4 616.9 L1330.6 616.9 L1331.8 616.9 L1333.1 616.9 L1334.3 616.9 L1335.5 616.9 L1336.7 616.9 L1337.9 616.9 L1339.2 616.9 L1340.4 616.9 L1341.6 616.9 L1342.8 616.9 L1344 616.9 L1345.3 616.9 L1346.5 616.9 L1347.7 616.9 L1348.9 616.9 L1350.1 616.9 L1351.4 616.9 L1352.6 616.9 L1353.8 616.9 L1355 616.9 L1356.2 616.9 L1357.5 616.8 L1358.7 616.5 L1359.9 615.9 L1361.1 614.6 L1362.3 611.8 L1363.6 606.8 L1364.8 598.7 L1366 587 L1367.2 572.1 L1368.4 555.8 L1369.7 541.1 L1370.9 531.2 L1372.1 528.2 L1373.3 532.5 L1374.5 542.3 L1375.8 555.1 L1377 568.2 L1378.2 579.5 L1379.4 588.1 L1380.6 593.8 L1381.9 597.2 L1383.1 599 L1384.3 599.9 L1385.5 600.3 L1386.7 600.5 L1388 600.6 L1389.2 600.7 L1390.4 600.8 L1391.6 600.9 L1392.8 601 L1394.1 601.2 L1395.3 601.3 L1396.5 601.4 L1397.7 601.5 L1398.9 601.6 L1400.2 601.6 L1401.4 601.6 L1402.6 601.6 L1403.8 601.5 L1405 601.4 L1406.3 601.2 L1407.5 601.1 L1408.7 600.9 L1409.9 600.8 L1411.1 600.8 L1412.4 601 L1413.6 601.2 L1414.8 601.7 L1416 602.4 L1417.2 603.2 L1418.5 604.2 L1419.7 605.3 L1420.9 606.5 L1422.1 607.8 L1423.3 609.1 L1424.6 610.3 L1425.8 611.4 L1427 612.5 L1428.2 613.3 L1429.4 614.1 L1430.7 614.7 L1431.9 615.2 L1433.1 615.7 L1434.3 616 L1435.5 616.2 L1436.8 616.4 L1438 616.5 L1439.2 616.6 L1440.4 616.7 L1441.6 616.7 L1442.9 616.8" fill="none" stroke="#111" stroke-width="1.1"/>
<path d="M1346.5 616.9 L1347.7 616.1 L1348.9 616.6 L1350.1 617.5 L1351.4 617.5 L1352.6 616.5 L1353.8 616.1 L1355 616.9 L1356.2 617.6 L1357.5 617 L1358.7 615.9 L1359.9 615.3 L1361.1 614.9 L1362.3 612.4 L1363.6 606.5 L1364.8 597.4 L1366 585.8 L1367.2 571.4 L1368.4 554.5 L1369.7 538.5 L1370.9 527.9 L1372.1 525.7 L1373.3 530.7 L1374.5 540.3 L1375.8 552.5 L1377 566.2 L1378.2 578.8 L1379.4 588 L1380.6 593 L1381.9 595.8 L1383.1 598.2 L1384.3 600 L1385.5 600.3 L1386.7 599.5 L1388 599.4 L1389.2 600.4 L1390.4 601.1 L1391.6 600.6 L1392.8 599.8 L1394.1 600 L1395.3 601 L1396.5 601 L1397.7 599.8 L1398.9 598.5 L1400.2 598.2 L1401.4 598.1 L1402.6 596.8 L1403.8 595.1 L1405 594.5 L1406.3 595.4 L1407.5 596.6 L1408.7 596.8 L1409.9 596.8 L1411.1 598 L1412.4 599.8 L1413.6 600.8 L1414.8 600.7 L1416 601 L1417.2 602.5 L1418.5 604.5 L1419.7 605.4 L1420.9 605.6 L1422.1 606.7 L1423.3 608.8 L1424.6 610.5 L1425.8 610.8 L1427 610.9 L1428.2 611.9 L1429.4 613.6 L1430.7 614.3 L1431.9 613.9 L1433.1 613.9 L1434.3 615 L1435.5 616.2 L1436.8 616.3 L1438 615.6 L1439.2 615.7 L1440.4 616.8 L1441.6 617.4 L1442.9 616.8" fill="none" stroke="#333" stroke-width="0.6"/>
<path d="M1329.4 512.9 V616.9 H1451.4" fill="none" stroke="#222" stroke-width="0.8"/>
<path d="M1329.4 616.9 v1.6M1333.5 616.9 v1.6M1337.5 616.9 v1.6M1341.6 616.9 v1.6M1345.7 616.9 v1.6M1349.7 616.9 v1.6M1353.8 616.9 v1.6M1357.9 616.9 v1.6M1361.9 616.9 v1.6M1366 616.9 v1.6M1370.1 616.9 v1.6M1374.1 616.9 v1.6M1378.2 616.9 v1.6M1382.3 616.9 v1.6M1386.3 616.9 v1.6M1390.4 616.9 v1.6M1394.5 616.9 v1.6M1398.5 616.9 v1.6M1402.6 616.9 v1.6M1406.7 616.9 v1.6M1410.7 616.9 v1.6M1414.8 616.9 v1.6M1418.9 616.9 v1.6M1422.9 616.9 v1.6M1427 616.9 v1.6M1431.1 616.9 v1.6M1435.1 616.9 v1.6M1439.2 616.9 v1.6M1443.3 616.9 v1.6M1447.3 616.9 v1.6M1451.4 616.9 v1.6M1329.4 616.9 h-1.6M1329.4 612.7 h-1.6M1329.4 608.6 h-1.6M1329.4 604.4 h-1.6M1329.4 600.3 h-1.6M1329.4 596.1 h-1.6M1329.4 591.9 h-1.6M1329.4 587.8 h-1.6M1329.4 583.6 h-1.6M1329.4 579.5 h-1.6M1329.4 575.3 h-1.6M1329.4 571.1 h-1.6M1329.4 567 h-1.6M1329.4 562.8 h-1.6M1329.4 558.7 h-1.6M1329.4 554.5 h-1.6M1329.4 550.3 h-1.6M1329.4 546.2 h-1.6M1329.4 542 h-1.6M1329.4 537.9 h-1.6M1329.4 533.7 h-1.6M1329.4 529.5 h-1.6M1329.4 525.4 h-1.6M1329.4 521.2 h-1.6M1329.4 517.1 h-1.6M1329.4 512.9 h-1.6" stroke="#444" stroke-width="0.5"/>
<text x="1329.4" y="624.4" font-size="3.6" text-anchor="middle" font-weight="normal" fill="#444">0</text>
<text x="1353.8" y="624.4" font-size="3.6" text-anchor="middle" font-weight="normal" fill="#444">30</text>
<text x="1378.2" y="624.4" font-size="3.6" text-anchor="middle" font-weight="normal" fill="#444">60</text>
<text x="1402.6" y="624.4" font-size="3.6" text-anchor="middle" font-weight="normal" fill="#444">90</text>
<text x="1427" y="624.4" font-size="3.6" text-anchor="middle" font-weight="normal" fill="#444">120</text>
<text x="1451.4" y="624.4" font-size="3.6" text-anchor="middle" font-weight="normal" fill="#444">150</text>
<text x="1326.4" y="616.9" font-size="3.6" text-anchor="middle" font-weight="normal" fill="#444" transform="rotate(-90 1326.4 616.9)">0</text>
<text x="1326.4" y="596" font-size="3.6" text-anchor="middle" font-weight="normal" fill="#444" transform="rotate(-90 1326.4 596)">80</text>
<text x="1326.4" y="575.1" font-size="3.6" text-anchor="middle" font-weight="normal" fill="#444" transform="rotate(-90 1326.4 575.1)">160</text>
<text x="1326.4" y="554.1" font-size="3.6" text-anchor="middle" font-weight="normal" fill="#444" transform="rotate(-90 1326.4 554.1)">240</text>
<text x="1326.4" y="533.2" font-size="3.6" text-anchor="middle" font-weight="normal" fill="#444" transform="rotate(-90 1326.4 533.2)">320</text>
<text x="1321.4" y="560.8" font-size="3.4" text-anchor="middle" font-weight="normal" fill="#444" transform="rotate(-90 1321.4 560.8)">Number</text>
<text x="1390.4" y="628.9" font-size="4" text-anchor="middle" font-weight="normal" fill="#444">Channels (YEL-B-ALin/Yellow-B Fluorescence Area (YEL-B-ALin))</text>
<text x="1543" y="442" font-size="26" text-anchor="middle" transform="rotate(-90 1543 442)">shCtrl</text>
<text x="1543" y="565" font-size="25.4" text-anchor="middle" transform="rotate(-90 1543 565)">shKNTC1</text>
<path d="M1599.6 492.8L1599.6 492.7L1600.7 492.5L1601.9 492.3L1603 491.8L1604.2 490.8L1605.3 489.2L1606.5 486.7L1607.7 483.4L1608.8 479.9L1610 476.8L1611.1 474.7L1612.3 473.3L1613.4 472.6L1614.6 472.2L1615.7 472L1616.9 472L1618 471.9L1619.2 472L1620.3 472L1621.5 472.1L1622.6 472.2L1623.8 472.3L1625 472.5L1626.1 472.6L1627.3 472.8L1628.4 473.1L1629.6 473.4L1630.7 473.7L1631.9 474.2L1633 474.6L1634.2 475.2L1635.3 475.8L1636.5 476.5L1637.6 477.3L1638.8 478.2L1639.9 479.1L1641.1 480.1L1642.2 481.2L1643.4 482.2L1644.6 483.3L1645.7 484.3L1646.9 485.3L1648 486.2L1649.2 487.1L1650.3 487.9L1651.5 488.6L1652.6 489.2L1653.8 489.8L1654.9 490.3L1656.1 490.7L1657.2 491L1658.4 491.3L1659.5 491.6L1660.7 491.8L1661.8 492L1663 492.1L1664.2 492.2L1665.3 492.3L1666.5 492.4L1667.6 492.5L1668.8 492.5L1669.9 492.6L1671.1 492.6L1672.2 492.7L1673.4 492.7L1674.5 492.7L1675.7 492.7L1675.7 492.8 Z" fill="#d6d6ee" stroke="#333" stroke-width="0.6"/>
<path d="M1593.8 492.8L1593.8 492.7L1595 492.4L1596.1 491.7L1597.3 489.8L1598.4 485.6L1599.6 477.8L1600.7 465.9L1601.9 450.8L1603 435.8L1604.2 425.6L1605.3 424.1L1606.5 431.7L1607.7 445.6L1608.8 461.1L1610 474.3L1611.1 483.4L1612.3 488.7L1613.4 491.2L1614.6 492.3L1615.7 492.6L1615.7 492.8 Z" fill="#f00000" stroke="#222" stroke-width="0.5"/>
<path d="M1620.3 492.8L1620.3 492.7L1621.5 492.7L1622.6 492.6L1623.8 492.5L1625 492.3L1626.1 492.1L1627.3 491.8L1628.4 491.5L1629.6 491L1630.7 490.5L1631.9 489.9L1633 489.2L1634.2 488.5L1635.3 487.8L1636.5 487.2L1637.6 486.6L1638.8 486.1L1639.9 485.8L1641.1 485.7L1642.2 485.8L1643.4 486.1L1644.6 486.6L1645.7 487.2L1646.9 487.8L1648 488.5L1649.2 489.2L1650.3 489.9L1651.5 490.5L1652.6 491L1653.8 491.5L1654.9 491.8L1656.1 492.1L1657.2 492.3L1658.4 492.5L1659.5 492.6L1660.7 492.7L1661.8 492.7L1661.8 492.8 Z" fill="#f00000" stroke="#222" stroke-width="0.5" opacity="0.95"/>
<path d="M1599.6 492.8L1599.6 492.7L1600.7 492.5L1601.9 492.3L1603 491.8L1604.2 490.8L1605.3 489.2L1606.5 486.7L1607.7 483.4L1608.8 479.9L1610 476.8L1611.1 483.4L1612.3 488.7L1613.4 491.2L1614.6 492.3L1615.7 492.6L1615.7 492.8 Z" fill="#c80028"/>
<path d="M1620.3 492.8L1620.3 492.7L1621.5 492.7L1622.6 492.6L1623.8 492.5L1625 492.3L1626.1 492.1L1627.3 491.8L1628.4 491.5L1629.6 491L1630.7 490.5L1631.9 489.9L1633 489.2L1634.2 488.5L1635.3 487.8L1636.5 487.2L1637.6 486.6L1638.8 486.1L1639.9 485.8L1641.1 485.7L1642.2 485.8L1643.4 486.1L1644.6 486.6L1645.7 487.2L1646.9 487.8L1648 488.5L1649.2 489.2L1650.3 489.9L1651.5 490.5L1652.6 491L1653.8 491.5L1654.9 491.8L1656.1 492.1L1657.2 492.3L1658.4 492.5L1659.5 492.6L1660.7 492.7L1661.8 492.7L1661.8 492.8 Z" fill="#c80028"/>
<path d="M1567.3 492.8 L1568.5 492.8 L1569.6 492.8 L1570.8 492.8 L1571.9 492.8 L1573.1 492.8 L1574.2 492.8 L1575.4 492.8 L1576.5 492.8 L1577.7 492.8 L1578.8 492.8 L1580 492.8 L1581.1 492.8 L1582.3 492.8 L1583.4 492.8 L1584.6 492.8 L1585.7 492.8 L1586.9 492.8 L1588.1 492.8 L1589.2 492.8 L1590.4 492.8 L1591.5 492.8 L1592.7 492.8 L1593.8 492.7 L1595 492.4 L1596.1 491.5 L1597.3 489.3 L1598.4 484.7 L1599.6 476.1 L1600.7 463 L1601.9 446.4 L1603 429.6 L1604.2 417.4 L1605.3 413.6 L1606.5 418.8 L1607.7 430.2 L1608.8 443.4 L1610 454.9 L1611.1 463.1 L1612.3 467.9 L1613.4 470.4 L1614.6 471.4 L1615.7 471.7 L1616.9 471.9 L1618 471.9 L1619.2 471.9 L1620.3 472 L1621.5 472 L1622.6 472 L1623.8 472 L1625 472 L1626.1 472 L1627.3 471.9 L1628.4 471.8 L1629.6 471.6 L1630.7 471.5 L1631.9 471.3 L1633 471.1 L1634.2 470.9 L1635.3 470.8 L1636.5 470.9 L1637.6 471.1 L1638.8 471.5 L1639.9 472.2 L1641.1 473.1 L1642.2 474.2 L1643.4 475.5 L1644.6 477 L1645.7 478.7 L1646.9 480.3 L1648 482 L1649.2 483.5 L1650.3 485 L1651.5 486.3 L1652.6 487.5 L1653.8 488.5 L1654.9 489.3 L1656.1 490 L1657.2 490.6 L1658.4 491 L1659.5 491.4 L1660.7 491.7 L1661.8 491.9 L1663 492.1 L1664.2 492.2 L1665.3 492.3 L1666.5 492.4 L1667.6 492.5 L1668.8 492.5 L1669.9 492.6 L1671.1 492.6 L1672.2 492.7 L1673.4 492.7 L1674.5 492.7" fill="none" stroke="#111" stroke-width="1.1"/>
<path d="M1583.4 492.8 L1584.6 492.1 L1585.7 492.5 L1586.9 493.4 L1588.1 493.4 L1589.2 492.4 L1590.4 492.1 L1591.5 492.8 L1592.7 493.5 L1593.8 492.9 L1595 491.7 L1596.1 490.9 L1597.3 489.6 L1598.4 485.1 L1599.6 475.6 L1600.7 461.4 L1601.9 444.8 L1603 428.3 L1604.2 415.6 L1605.3 410.8 L1606.5 415.9 L1607.7 428.4 L1608.8 442.7 L1610 454 L1611.1 461.6 L1612.3 466.7 L1613.4 470.1 L1614.6 471.4 L1615.7 471 L1616.9 470.5 L1618 471 L1619.2 471.9 L1620.3 471.8 L1621.5 470.7 L1622.6 470.3 L1623.8 470.7 L1625 470.7 L1626.1 469.5 L1627.3 467.9 L1628.4 467.7 L1629.6 468.5 L1630.7 469 L1631.9 468.6 L1633 468.5 L1634.2 469.4 L1635.3 470.5 L1636.5 470.6 L1637.6 469.9 L1638.8 470.2 L1639.9 471.7 L1641.1 473.2 L1642.2 473.8 L1643.4 474.3 L1644.6 476.1 L1645.7 478.7 L1646.9 480.6 L1648 481.4 L1649.2 482.5 L1650.3 484.6 L1651.5 486.8 L1652.6 487.7 L1653.8 487.7 L1654.9 488.4 L1656.1 489.8 L1657.2 490.8 L1658.4 490.5 L1659.5 489.9 L1660.7 490.4 L1661.8 491.4 L1663 491.7 L1664.2 491 L1665.3 490.6 L1666.5 491.5 L1667.6 492.5 L1668.8 492.4 L1669.9 491.7 L1671.1 491.7 L1672.2 492.7 L1673.4 493.3 L1674.5 492.7" fill="none" stroke="#333" stroke-width="0.6"/>
<path d="M1567.3 393.8 V492.8 H1682.6" fill="none" stroke="#222" stroke-width="0.8"/>
<path d="M1567.3 492.8 v1.6M1571.1 492.8 v1.6M1575 492.8 v1.6M1578.8 492.8 v1.6M1582.7 492.8 v1.6M1586.5 492.8 v1.6M1590.4 492.8 v1.6M1594.2 492.8 v1.6M1598 492.8 v1.6M1601.9 492.8 v1.6M1605.7 492.8 v1.6M1609.6 492.8 v1.6M1613.4 492.8 v1.6M1617.3 492.8 v1.6M1621.1 492.8 v1.6M1625 492.8 v1.6M1628.8 492.8 v1.6M1632.6 492.8 v1.6M1636.5 492.8 v1.6M1640.3 492.8 v1.6M1644.2 492.8 v1.6M1648 492.8 v1.6M1651.9 492.8 v1.6M1655.7 492.8 v1.6M1659.5 492.8 v1.6M1663.4 492.8 v1.6M1667.2 492.8 v1.6M1671.1 492.8 v1.6M1674.9 492.8 v1.6M1678.8 492.8 v1.6M1682.6 492.8 v1.6M1567.3 492.8 h-1.6M1567.3 488.8 h-1.6M1567.3 484.9 h-1.6M1567.3 480.9 h-1.6M1567.3 477 h-1.6M1567.3 473 h-1.6M1567.3 469 h-1.6M1567.3 465.1 h-1.6M1567.3 461.1 h-1.6M1567.3 457.2 h-1.6M1567.3 453.2 h-1.6M1567.3 449.2 h-1.6M1567.3 445.3 h-1.6M1567.3 441.3 h-1.6M1567.3 437.4 h-1.6M1567.3 433.4 h-1.6M1567.3 429.4 h-1.6M1567.3 425.5 h-1.6M1567.3 421.5 h-1.6M1567.3 417.6 h-1.6M1567.3 413.6 h-1.6M1567.3 409.6 h-1.6M1567.3 405.7 h-1.6M1567.3 401.7 h-1.6M1567.3 397.8 h-1.6M1567.3 393.8 h-1.6" stroke="#444" stroke-width="0.5"/>
<text x="1567.3" y="500.3" font-size="3.6" text-anchor="middle" font-weight="normal" fill="#444">0</text>
<text x="1590.4" y="500.3" font-size="3.6" text-anchor="middle" font-weight="normal" fill="#444">30</text>
<text x="1613.4" y="500.3" font-size="3.6" text-anchor="middle" font-weight="normal" fill="#444">60</text>
<text x="1636.5" y="500.3" font-size="3.6" text-anchor="middle" font-weight="normal" fill="#444">90</text>
<text x="1659.5" y="500.3" font-size="3.6" text-anchor="middle" font-weight="normal" fill="#444">120</text>
<text x="1682.6" y="500.3" font-size="3.6" text-anchor="middle" font-weight="normal" fill="#444">150</text>
<text x="1564.3" y="492.8" font-size="3.6" text-anchor="middle" font-weight="normal" fill="#444" transform="rotate(-90 1564.3 492.8)">0</text>
<text x="1564.3" y="472.6" font-size="3.6" text-anchor="middle" font-weight="normal" fill="#444" transform="rotate(-90 1564.3 472.6)">80</text>
<text x="1564.3" y="452.5" font-size="3.6" text-anchor="middle" font-weight="normal" fill="#444" transform="rotate(-90 1564.3 452.5)">160</text>
<text x="1564.3" y="432.3" font-size="3.6" text-anchor="middle" font-weight="normal" fill="#444" transform="rotate(-90 1564.3 432.3)">240</text>
<text x="1564.3" y="412.2" font-size="3.6" text-anchor="middle" font-weight="normal" fill="#444" transform="rotate(-90 1564.3 412.2)">320</text>
<text x="1559.3" y="439.4" font-size="3.4" text-anchor="middle" font-weight="normal" fill="#444" transform="rotate(-90 1559.3 439.4)">Number</text>
<text x="1625" y="504.8" font-size="4" text-anchor="middle" font-weight="normal" fill="#444">Channels (YEL-B-ALin/Yellow-B Fluorescence Area (YEL-B-ALin))</text>
<path d="M1601.2 614.2L1601.2 614.1L1602.4 614L1603.6 613.7L1604.7 613.3L1605.9 612.6L1607.1 611.3L1608.2 609.5L1609.4 607.2L1610.6 604.9L1611.8 603.1L1612.9 601.9L1614.1 601.2L1615.3 600.8L1616.4 600.7L1617.6 600.7L1618.8 600.8L1620 600.9L1621.1 601L1622.3 601.3L1623.5 601.5L1624.6 601.8L1625.8 602.1L1627 602.5L1628.1 603L1629.3 603.4L1630.5 604L1631.6 604.6L1632.8 605.2L1634 605.9L1635.2 606.6L1636.3 607.3L1637.5 608L1638.7 608.7L1639.8 609.4L1641 610L1642.2 610.6L1643.3 611.1L1644.5 611.5L1645.7 611.9L1646.9 612.3L1648 612.6L1649.2 612.9L1650.4 613.1L1651.5 613.3L1652.7 613.4L1653.9 613.6L1655 613.7L1656.2 613.8L1657.4 613.8L1658.6 613.9L1659.7 614L1660.9 614L1662.1 614L1663.2 614.1L1664.4 614.1L1665.6 614.1L1665.6 614.2 Z" fill="#d6d6ee" stroke="#333" stroke-width="0.6"/>
<path d="M1595.4 614.2L1595.4 614L1596.5 613.7L1597.7 612.5L1598.9 609.9L1600.1 604.4L1601.2 594.8L1602.4 581L1603.6 564.7L1604.7 550.2L1605.9 542.2L1607.1 543.9L1608.2 554.5L1609.4 570.2L1610.6 586L1611.8 598.5L1612.9 606.6L1614.1 611L1615.3 613L1616.4 613.8L1617.6 614.1L1617.6 614.2 Z" fill="#f00000" stroke="#222" stroke-width="0.5"/>
<path d="M1628.1 614.2L1628.1 614.1L1629.3 614L1630.5 613.8L1631.6 613.6L1632.8 613.2L1634 612.7L1635.2 611.9L1636.3 611L1637.5 609.8L1638.7 608.4L1639.8 606.8L1641 605.3L1642.2 603.8L1643.3 602.5L1644.5 601.6L1645.7 601.2L1646.9 601.3L1648 601.9L1649.2 602.9L1650.4 604.2L1651.5 605.8L1652.7 607.3L1653.9 608.8L1655 610.2L1656.2 611.3L1657.4 612.2L1658.6 612.9L1659.7 613.3L1660.9 613.7L1662.1 613.9L1663.2 614L1664.4 614.1L1664.4 614.2 Z" fill="#f00000" stroke="#222" stroke-width="0.5" opacity="0.95"/>
<path d="M1601.2 614.2L1601.2 614.1L1602.4 614L1603.6 613.7L1604.7 613.3L1605.9 612.6L1607.1 611.3L1608.2 609.5L1609.4 607.2L1610.6 604.9L1611.8 603.1L1612.9 606.6L1614.1 611L1615.3 613L1616.4 613.8L1617.6 614.1L1617.6 614.2 Z" fill="#c80028"/>
<path d="M1628.1 614.2L1628.1 614.1L1629.3 614L1630.5 613.8L1631.6 613.6L1632.8 613.2L1634 612.7L1635.2 611.9L1636.3 611L1637.5 609.8L1638.7 608.7L1639.8 609.4L1641 610L1642.2 610.6L1643.3 611.1L1644.5 611.5L1645.7 611.9L1646.9 612.3L1648 612.6L1649.2 612.9L1650.4 613.1L1651.5 613.3L1652.7 613.4L1653.9 613.6L1655 613.7L1656.2 613.8L1657.4 613.8L1658.6 613.9L1659.7 614L1660.9 614L1662.1 614L1663.2 614.1L1664.4 614.1L1664.4 614.2 Z" fill="#c80028"/>
<path d="M1567.3 614.2 L1568.5 614.2 L1569.6 614.2 L1570.8 614.2 L1572 614.2 L1573.1 614.2 L1574.3 614.2 L1575.5 614.2 L1576.7 614.2 L1577.8 614.2 L1579 614.2 L1580.2 614.2 L1581.3 614.2 L1582.5 614.2 L1583.7 614.2 L1584.8 614.2 L1586 614.2 L1587.2 614.2 L1588.4 614.2 L1589.5 614.2 L1590.7 614.2 L1591.9 614.2 L1593 614.2 L1594.2 614.1 L1595.4 614 L1596.5 613.5 L1597.7 612.3 L1598.9 609.3 L1600.1 603.3 L1601.2 592.8 L1602.4 577.7 L1603.6 559.8 L1604.7 543.5 L1605.9 533.7 L1607.1 533.8 L1608.2 542.9 L1609.4 557.3 L1610.6 572.2 L1611.8 584.3 L1612.9 592.4 L1614.1 596.9 L1615.3 599.1 L1616.4 600.1 L1617.6 600.5 L1618.8 600.7 L1620 600.9 L1621.1 601 L1622.3 601.2 L1623.5 601.5 L1624.6 601.8 L1625.8 602.1 L1627 602.4 L1628.1 602.8 L1629.3 603.2 L1630.5 603.6 L1631.6 604 L1632.8 604.2 L1634 604.4 L1635.2 604.3 L1636.3 604.1 L1637.5 603.6 L1638.7 602.9 L1639.8 602 L1641 601 L1642.2 600.1 L1643.3 599.4 L1644.5 599 L1645.7 598.9 L1646.9 599.4 L1648 600.3 L1649.2 601.6 L1650.4 603.1 L1651.5 604.8 L1652.7 606.6 L1653.9 608.2 L1655 609.7 L1656.2 610.9 L1657.4 611.8 L1658.6 612.6 L1659.7 613.1 L1660.9 613.5 L1662.1 613.7 L1663.2 613.9 L1664.4 614 L1665.6 614.1 L1666.8 614.1 L1667.9 614.1 L1669.1 614.1 L1670.3 614.2 L1671.4 614.2 L1672.6 614.2 L1673.8 614.2 L1674.9 614.2 L1676.1 614.2" fill="none" stroke="#111" stroke-width="1.1"/>
<path d="M1583.7 614.2 L1584.8 613.3 L1586 613.9 L1587.2 614.9 L1588.4 614.9 L1589.5 613.8 L1590.7 613.3 L1591.9 614.3 L1593 615.1 L1594.2 614.5 L1595.4 613.3 L1596.5 612.9 L1597.7 612.7 L1598.9 610 L1600.1 602.8 L1601.2 591.3 L1602.4 576.3 L1603.6 558.9 L1604.7 542 L1605.9 530.8 L1607.1 530.5 L1608.2 540.9 L1609.4 556.5 L1610.6 571.2 L1611.8 582.6 L1612.9 591.1 L1614.1 596.9 L1615.3 599.5 L1616.4 599.5 L1617.6 599.2 L1618.8 600 L1620 601.2 L1621.1 601.2 L1622.3 600.3 L1623.5 600.3 L1624.6 601.6 L1625.8 602.6 L1627 602.3 L1628.1 601.7 L1629.3 602.3 L1630.5 603.8 L1631.6 604.3 L1632.8 603.3 L1634 602.3 L1635.2 602.1 L1636.3 601.7 L1637.5 599.8 L1638.7 597 L1639.8 595.5 L1641 595.9 L1642.2 596.6 L1643.3 596.3 L1644.5 596 L1645.7 597 L1646.9 599.1 L1648 600.5 L1649.2 600.9 L1650.4 601.9 L1651.5 604.4 L1652.7 607.1 L1653.9 608.5 L1655 608.8 L1656.2 609.8 L1657.4 611.7 L1658.6 612.9 L1659.7 612.6 L1660.9 611.8 L1662.1 612.2 L1663.2 613.4 L1664.4 613.6 L1665.6 612.6 L1666.8 612.1 L1667.9 613.1 L1669.1 614.2 L1670.3 614 L1671.4 613.1 L1672.6 613.1 L1673.8 614.3 L1674.9 615 L1676.1 614.2" fill="none" stroke="#333" stroke-width="0.6"/>
<path d="M1567.3 513.9 V614.2 H1684.3" fill="none" stroke="#222" stroke-width="0.8"/>
<path d="M1567.3 614.2 v1.6M1571.2 614.2 v1.6M1575.1 614.2 v1.6M1579 614.2 v1.6M1582.9 614.2 v1.6M1586.8 614.2 v1.6M1590.7 614.2 v1.6M1594.6 614.2 v1.6M1598.5 614.2 v1.6M1602.4 614.2 v1.6M1606.3 614.2 v1.6M1610.2 614.2 v1.6M1614.1 614.2 v1.6M1618 614.2 v1.6M1621.9 614.2 v1.6M1625.8 614.2 v1.6M1629.7 614.2 v1.6M1633.6 614.2 v1.6M1637.5 614.2 v1.6M1641.4 614.2 v1.6M1645.3 614.2 v1.6M1649.2 614.2 v1.6M1653.1 614.2 v1.6M1657 614.2 v1.6M1660.9 614.2 v1.6M1664.8 614.2 v1.6M1668.7 614.2 v1.6M1672.6 614.2 v1.6M1676.5 614.2 v1.6M1680.4 614.2 v1.6M1684.3 614.2 v1.6M1567.3 614.2 h-1.6M1567.3 610.2 h-1.6M1567.3 606.2 h-1.6M1567.3 602.2 h-1.6M1567.3 598.2 h-1.6M1567.3 594.1 h-1.6M1567.3 590.1 h-1.6M1567.3 586.1 h-1.6M1567.3 582.1 h-1.6M1567.3 578.1 h-1.6M1567.3 574.1 h-1.6M1567.3 570.1 h-1.6M1567.3 566.1 h-1.6M1567.3 562 h-1.6M1567.3 558 h-1.6M1567.3 554 h-1.6M1567.3 550 h-1.6M1567.3 546 h-1.6M1567.3 542 h-1.6M1567.3 538 h-1.6M1567.3 534 h-1.6M1567.3 529.9 h-1.6M1567.3 525.9 h-1.6M1567.3 521.9 h-1.6M1567.3 517.9 h-1.6M1567.3 513.9 h-1.6" stroke="#444" stroke-width="0.5"/>
<text x="1567.3" y="621.7" font-size="3.6" text-anchor="middle" font-weight="normal" fill="#444">0</text>
<text x="1590.7" y="621.7" font-size="3.6" text-anchor="middle" font-weight="normal" fill="#444">30</text>
<text x="1614.1" y="621.7" font-size="3.6" text-anchor="middle" font-weight="normal" fill="#444">60</text>
<text x="1637.5" y="621.7" font-size="3.6" text-anchor="middle" font-weight="normal" fill="#444">90</text>
<text x="1660.9" y="621.7" font-size="3.6" text-anchor="middle" font-weight="normal" fill="#444">120</text>
<text x="1684.3" y="621.7" font-size="3.6" text-anchor="middle" font-weight="normal" fill="#444">150</text>
<text x="1564.3" y="614.2" font-size="3.6" text-anchor="middle" font-weight="normal" fill="#444" transform="rotate(-90 1564.3 614.2)">0</text>
<text x="1564.3" y="593.5" font-size="3.6" text-anchor="middle" font-weight="normal" fill="#444" transform="rotate(-90 1564.3 593.5)">70</text>
<text x="1564.3" y="572.7" font-size="3.6" text-anchor="middle" font-weight="normal" fill="#444" transform="rotate(-90 1564.3 572.7)">140</text>
<text x="1564.3" y="552" font-size="3.6" text-anchor="middle" font-weight="normal" fill="#444" transform="rotate(-90 1564.3 552)">210</text>
<text x="1564.3" y="531.3" font-size="3.6" text-anchor="middle" font-weight="normal" fill="#444" transform="rotate(-90 1564.3 531.3)">280</text>
<text x="1559.3" y="560.1" font-size="3.4" text-anchor="middle" font-weight="normal" fill="#444" transform="rotate(-90 1559.3 560.1)">Number</text>
<text x="1625.8" y="626.2" font-size="4" text-anchor="middle" font-weight="normal" fill="#444">Channels (YEL-B-ALin/Yellow-B Fluorescence Area (YEL-B-ALin))</text>
<path d="M1742.3 492.8L1742.3 492.7L1743.4 492.5L1744.6 492.3L1745.7 491.8L1746.9 490.8L1748 489.2L1749.2 486.7L1750.4 483.4L1751.5 479.9L1752.7 476.8L1753.8 474.7L1755 473.3L1756.1 472.6L1757.3 472.2L1758.4 472L1759.6 472L1760.7 471.9L1761.9 472L1763 472L1764.2 472.1L1765.3 472.2L1766.5 472.3L1767.7 472.5L1768.8 472.6L1770 472.8L1771.1 473.1L1772.3 473.4L1773.4 473.7L1774.6 474.2L1775.7 474.6L1776.9 475.2L1778 475.8L1779.2 476.5L1780.3 477.3L1781.5 478.2L1782.6 479.1L1783.8 480.1L1784.9 481.2L1786.1 482.2L1787.3 483.3L1788.4 484.3L1789.6 485.3L1790.7 486.2L1791.9 487.1L1793 487.9L1794.2 488.6L1795.3 489.2L1796.5 489.8L1797.6 490.3L1798.8 490.7L1799.9 491L1801.1 491.3L1802.2 491.6L1803.4 491.8L1804.5 492L1805.7 492.1L1806.9 492.2L1808 492.3L1809.2 492.4L1810.3 492.5L1811.5 492.5L1812.6 492.6L1813.8 492.6L1814.9 492.7L1816.1 492.7L1817.2 492.7L1818.4 492.7L1818.4 492.8 Z" fill="#d6d6ee" stroke="#333" stroke-width="0.6"/>
<path d="M1736.5 492.8L1736.5 492.7L1737.7 492.5L1738.8 491.7L1740 489.9L1741.1 485.8L1742.3 478.4L1743.4 466.9L1744.6 452.3L1745.7 437.9L1746.9 428.1L1748 426.6L1749.2 433.9L1750.4 447.3L1751.5 462.2L1752.7 475L1753.8 483.8L1755 488.8L1756.1 491.3L1757.3 492.3L1758.4 492.7L1758.4 492.8 Z" fill="#f00000" stroke="#222" stroke-width="0.5"/>
<path d="M1763 492.8L1763 492.7L1764.2 492.7L1765.3 492.6L1766.5 492.5L1767.7 492.3L1768.8 492.1L1770 491.8L1771.1 491.5L1772.3 491L1773.4 490.5L1774.6 489.9L1775.7 489.2L1776.9 488.5L1778 487.8L1779.2 487.2L1780.3 486.6L1781.5 486.1L1782.6 485.8L1783.8 485.7L1784.9 485.8L1786.1 486.1L1787.3 486.6L1788.4 487.2L1789.6 487.8L1790.7 488.5L1791.9 489.2L1793 489.9L1794.2 490.5L1795.3 491L1796.5 491.5L1797.6 491.8L1798.8 492.1L1799.9 492.3L1801.1 492.5L1802.2 492.6L1803.4 492.7L1804.5 492.7L1804.5 492.8 Z" fill="#f00000" stroke="#222" stroke-width="0.5" opacity="0.95"/>
<path d="M1742.3 492.8L1742.3 492.7L1743.4 492.5L1744.6 492.3L1745.7 491.8L1746.9 490.8L1748 489.2L1749.2 486.7L1750.4 483.4L1751.5 479.9L1752.7 476.8L1753.8 483.8L1755 488.8L1756.1 491.3L1757.3 492.3L1758.4 492.7L1758.4 492.8 Z" fill="#c80028"/>
<path d="M1763 492.8L1763 492.7L1764.2 492.7L1765.3 492.6L1766.5 492.5L1767.7 492.3L1768.8 492.1L1770 491.8L1771.1 491.5L1772.3 491L1773.4 490.5L1774.6 489.9L1775.7 489.2L1776.9 488.5L1778 487.8L1779.2 487.2L1780.3 486.6L1781.5 486.1L1782.6 485.8L1783.8 485.7L1784.9 485.8L1786.1 486.1L1787.3 486.6L1788.4 487.2L1789.6 487.8L1790.7 488.5L1791.9 489.2L1793 489.9L1794.2 490.5L1795.3 491L1796.5 491.5L1797.6 491.8L1798.8 492.1L1799.9 492.3L1801.1 492.5L1802.2 492.6L1803.4 492.7L1804.5 492.7L1804.5 492.8 Z" fill="#c80028"/>
<path d="M1710 492.8 L1711.2 492.8 L1712.3 492.8 L1713.5 492.8 L1714.6 492.8 L1715.8 492.8 L1716.9 492.8 L1718.1 492.8 L1719.2 492.8 L1720.4 492.8 L1721.5 492.8 L1722.7 492.8 L1723.8 492.8 L1725 492.8 L1726.1 492.8 L1727.3 492.8 L1728.4 492.8 L1729.6 492.8 L1730.8 492.8 L1731.9 492.8 L1733.1 492.8 L1734.2 492.8 L1735.4 492.8 L1736.5 492.7 L1737.7 492.4 L1738.8 491.5 L1740 489.4 L1741.1 485 L1742.3 476.7 L1743.4 464.1 L1744.6 448.1 L1745.7 431.8 L1746.9 420 L1748 416.3 L1749.2 421.3 L1750.4 432.1 L1751.5 444.7 L1752.7 455.7 L1753.8 463.5 L1755 468.1 L1756.1 470.4 L1757.3 471.4 L1758.4 471.8 L1759.6 471.9 L1760.7 471.9 L1761.9 471.9 L1763 472 L1764.2 472 L1765.3 472 L1766.5 472 L1767.7 472 L1768.8 472 L1770 471.9 L1771.1 471.8 L1772.3 471.6 L1773.4 471.5 L1774.6 471.3 L1775.7 471.1 L1776.9 470.9 L1778 470.8 L1779.2 470.9 L1780.3 471.1 L1781.5 471.5 L1782.6 472.2 L1783.8 473.1 L1784.9 474.2 L1786.1 475.5 L1787.3 477 L1788.4 478.7 L1789.6 480.3 L1790.7 482 L1791.9 483.5 L1793 485 L1794.2 486.3 L1795.3 487.5 L1796.5 488.5 L1797.6 489.3 L1798.8 490 L1799.9 490.6 L1801.1 491 L1802.2 491.4 L1803.4 491.7 L1804.5 491.9 L1805.7 492.1 L1806.9 492.2 L1808 492.3 L1809.2 492.4 L1810.3 492.5 L1811.5 492.5 L1812.6 492.6 L1813.8 492.6 L1814.9 492.7 L1816.1 492.7 L1817.2 492.7" fill="none" stroke="#111" stroke-width="1.1"/>
<path d="M1726.1 492.8 L1727.3 492.1 L1728.4 492.5 L1729.6 493.4 L1730.8 493.4 L1731.9 492.4 L1733.1 492.1 L1734.2 492.8 L1735.4 493.5 L1736.5 492.9 L1737.7 491.7 L1738.8 491 L1740 489.7 L1741.1 485.4 L1742.3 476.2 L1743.4 462.5 L1744.6 446.5 L1745.7 430.6 L1746.9 418.4 L1748 413.6 L1749.2 418.4 L1750.4 430.4 L1751.5 444.1 L1752.7 454.9 L1753.8 462 L1755 466.9 L1756.1 470.2 L1757.3 471.5 L1758.4 471 L1759.6 470.5 L1760.7 471 L1761.9 471.9 L1763 471.8 L1764.2 470.7 L1765.3 470.3 L1766.5 470.7 L1767.7 470.7 L1768.8 469.5 L1770 467.9 L1771.1 467.7 L1772.3 468.5 L1773.4 469 L1774.6 468.6 L1775.7 468.5 L1776.9 469.4 L1778 470.5 L1779.2 470.6 L1780.3 469.9 L1781.5 470.2 L1782.6 471.7 L1783.8 473.2 L1784.9 473.8 L1786.1 474.3 L1787.3 476.1 L1788.4 478.7 L1789.6 480.6 L1790.7 481.4 L1791.9 482.5 L1793 484.6 L1794.2 486.8 L1795.3 487.7 L1796.5 487.7 L1797.6 488.4 L1798.8 489.8 L1799.9 490.8 L1801.1 490.5 L1802.2 489.9 L1803.4 490.4 L1804.5 491.4 L1805.7 491.7 L1806.9 491 L1808 490.6 L1809.2 491.5 L1810.3 492.5 L1811.5 492.4 L1812.6 491.7 L1813.8 491.7 L1814.9 492.7 L1816.1 493.3 L1817.2 492.7" fill="none" stroke="#333" stroke-width="0.6"/>
<path d="M1710 393.8 V492.8 H1825.3" fill="none" stroke="#222" stroke-width="0.8"/>
<path d="M1710 492.8 v1.6M1713.8 492.8 v1.6M1717.7 492.8 v1.6M1721.5 492.8 v1.6M1725.4 492.8 v1.6M1729.2 492.8 v1.6M1733.1 492.8 v1.6M1736.9 492.8 v1.6M1740.7 492.8 v1.6M1744.6 492.8 v1.6M1748.4 492.8 v1.6M1752.3 492.8 v1.6M1756.1 492.8 v1.6M1760 492.8 v1.6M1763.8 492.8 v1.6M1767.7 492.8 v1.6M1771.5 492.8 v1.6M1775.3 492.8 v1.6M1779.2 492.8 v1.6M1783 492.8 v1.6M1786.9 492.8 v1.6M1790.7 492.8 v1.6M1794.6 492.8 v1.6M1798.4 492.8 v1.6M1802.2 492.8 v1.6M1806.1 492.8 v1.6M1809.9 492.8 v1.6M1813.8 492.8 v1.6M1817.6 492.8 v1.6M1821.5 492.8 v1.6M1825.3 492.8 v1.6M1710 492.8 h-1.6M1710 488.8 h-1.6M1710 484.9 h-1.6M1710 480.9 h-1.6M1710 477 h-1.6M1710 473 h-1.6M1710 469 h-1.6M1710 465.1 h-1.6M1710 461.1 h-1.6M1710 457.2 h-1.6M1710 453.2 h-1.6M1710 449.2 h-1.6M1710 445.3 h-1.6M1710 441.3 h-1.6M1710 437.4 h-1.6M1710 433.4 h-1.6M1710 429.4 h-1.6M1710 425.5 h-1.6M1710 421.5 h-1.6M1710 417.6 h-1.6M1710 413.6 h-1.6M1710 409.6 h-1.6M1710 405.7 h-1.6M1710 401.7 h-1.6M1710 397.8 h-1.6M1710 393.8 h-1.6" stroke="#444" stroke-width="0.5"/>
<text x="1710" y="500.3" font-size="3.6" text-anchor="middle" font-weight="normal" fill="#444">0</text>
<text x="1733.1" y="500.3" font-size="3.6" text-anchor="middle" font-weight="normal" fill="#444">30</text>
<text x="1756.1" y="500.3" font-size="3.6" text-anchor="middle" font-weight="normal" fill="#444">60</text>
<text x="1779.2" y="500.3" font-size="3.6" text-anchor="middle" font-weight="normal" fill="#444">90</text>
<text x="1802.2" y="500.3" font-size="3.6" text-anchor="middle" font-weight="normal" fill="#444">120</text>
<text x="1825.3" y="500.3" font-size="3.6" text-anchor="middle" font-weight="normal" fill="#444">150</text>
<text x="1707" y="492.8" font-size="3.6" text-anchor="middle" font-weight="normal" fill="#444" transform="rotate(-90 1707 492.8)">0</text>
<text x="1707" y="472.6" font-size="3.6" text-anchor="middle" font-weight="normal" fill="#444" transform="rotate(-90 1707 472.6)">80</text>
<text x="1707" y="452.5" font-size="3.6" text-anchor="middle" font-weight="normal" fill="#444" transform="rotate(-90 1707 452.5)">160</text>
<text x="1707" y="432.3" font-size="3.6" text-anchor="middle" font-weight="normal" fill="#444" transform="rotate(-90 1707 432.3)">240</text>
<text x="1707" y="412.2" font-size="3.6" text-anchor="middle" font-weight="normal" fill="#444" transform="rotate(-90 1707 412.2)">320</text>
<text x="1702" y="439.4" font-size="3.4" text-anchor="middle" font-weight="normal" fill="#444" transform="rotate(-90 1702 439.4)">Number</text>
<text x="1767.7" y="504.8" font-size="4" text-anchor="middle" font-weight="normal" fill="#444">Channels (YEL-B-ALin/Yellow-B Fluorescence Area (YEL-B-ALin))</text>
<path d="M1743.9 614.2L1743.9 614.1L1745.1 614L1746.3 613.7L1747.4 613.3L1748.6 612.6L1749.8 611.3L1751 609.5L1752.1 607.2L1753.3 604.9L1754.5 603.1L1755.6 601.9L1756.8 601.2L1758 600.8L1759.1 600.7L1760.3 600.7L1761.5 600.8L1762.7 600.9L1763.8 601L1765 601.3L1766.2 601.5L1767.3 601.8L1768.5 602.1L1769.7 602.5L1770.8 603L1772 603.4L1773.2 604L1774.3 604.6L1775.5 605.2L1776.7 605.9L1777.9 606.6L1779 607.3L1780.2 608L1781.4 608.7L1782.5 609.4L1783.7 610L1784.9 610.6L1786 611.1L1787.2 611.5L1788.4 611.9L1789.6 612.3L1790.7 612.6L1791.9 612.9L1793.1 613.1L1794.2 613.3L1795.4 613.4L1796.6 613.6L1797.8 613.7L1798.9 613.8L1800.1 613.8L1801.3 613.9L1802.4 614L1803.6 614L1804.8 614L1805.9 614.1L1807.1 614.1L1808.3 614.1L1808.3 614.2 Z" fill="#d6d6ee" stroke="#333" stroke-width="0.6"/>
<path d="M1738.1 614.2L1738.1 614L1739.2 613.6L1740.4 612.5L1741.6 609.8L1742.8 604.2L1743.9 594.4L1745.1 580.3L1746.3 563.7L1747.4 548.9L1748.6 540.8L1749.8 542.5L1751 553.3L1752.1 569.3L1753.3 585.4L1754.5 598.2L1755.6 606.5L1756.8 610.9L1758 613L1759.1 613.8L1760.3 614.1L1760.3 614.2 Z" fill="#f00000" stroke="#222" stroke-width="0.5"/>
<path d="M1770.8 614.2L1770.8 614.1L1772 614L1773.2 613.8L1774.3 613.6L1775.5 613.2L1776.7 612.7L1777.9 611.9L1779 611L1780.2 609.8L1781.4 608.4L1782.5 606.8L1783.7 605.3L1784.9 603.8L1786 602.5L1787.2 601.6L1788.4 601.2L1789.6 601.3L1790.7 601.9L1791.9 602.9L1793.1 604.2L1794.2 605.8L1795.4 607.3L1796.6 608.8L1797.8 610.2L1798.9 611.3L1800.1 612.2L1801.3 612.9L1802.4 613.3L1803.6 613.7L1804.8 613.9L1805.9 614L1807.1 614.1L1807.1 614.2 Z" fill="#f00000" stroke="#222" stroke-width="0.5" opacity="0.95"/>
<path d="M1743.9 614.2L1743.9 614.1L1745.1 614L1746.3 613.7L1747.4 613.3L1748.6 612.6L1749.8 611.3L1751 609.5L1752.1 607.2L1753.3 604.9L1754.5 603.1L1755.6 606.5L1756.8 610.9L1758 613L1759.1 613.8L1760.3 614.1L1760.3 614.2 Z" fill="#c80028"/>
<path d="M1770.8 614.2L1770.8 614.1L1772 614L1773.2 613.8L1774.3 613.6L1775.5 613.2L1776.7 612.7L1777.9 611.9L1779 611L1780.2 609.8L1781.4 608.7L1782.5 609.4L1783.7 610L1784.9 610.6L1786 611.1L1787.2 611.5L1788.4 611.9L1789.6 612.3L1790.7 612.6L1791.9 612.9L1793.1 613.1L1794.2 613.3L1795.4 613.4L1796.6 613.6L1797.8 613.7L1798.9 613.8L1800.1 613.8L1801.3 613.9L1802.4 614L1803.6 614L1804.8 614L1805.9 614.1L1807.1 614.1L1807.1 614.2 Z" fill="#c80028"/>
<path d="M1710 614.2 L1711.2 614.2 L1712.3 614.2 L1713.5 614.2 L1714.7 614.2 L1715.8 614.2 L1717 614.2 L1718.2 614.2 L1719.4 614.2 L1720.5 614.2 L1721.7 614.2 L1722.9 614.2 L1724 614.2 L1725.2 614.2 L1726.4 614.2 L1727.5 614.2 L1728.7 614.2 L1729.9 614.2 L1731.1 614.2 L1732.2 614.2 L1733.4 614.2 L1734.6 614.2 L1735.7 614.2 L1736.9 614.1 L1738.1 614 L1739.2 613.5 L1740.4 612.3 L1741.6 609.2 L1742.8 603 L1743.9 592.4 L1745.1 576.9 L1746.3 558.7 L1747.4 542 L1748.6 532.1 L1749.8 532.2 L1751 541.6 L1752.1 556.3 L1753.3 571.5 L1754.5 583.9 L1755.6 592.2 L1756.8 596.8 L1758 599.1 L1759.1 600.1 L1760.3 600.5 L1761.5 600.7 L1762.7 600.9 L1763.8 601 L1765 601.2 L1766.2 601.5 L1767.3 601.8 L1768.5 602.1 L1769.7 602.4 L1770.8 602.8 L1772 603.2 L1773.2 603.6 L1774.3 604 L1775.5 604.2 L1776.7 604.4 L1777.9 604.3 L1779 604.1 L1780.2 603.6 L1781.4 602.9 L1782.5 602 L1783.7 601 L1784.9 600.1 L1786 599.4 L1787.2 599 L1788.4 598.9 L1789.6 599.4 L1790.7 600.3 L1791.9 601.6 L1793.1 603.1 L1794.2 604.8 L1795.4 606.6 L1796.6 608.2 L1797.8 609.7 L1798.9 610.9 L1800.1 611.8 L1801.3 612.6 L1802.4 613.1 L1803.6 613.5 L1804.8 613.7 L1805.9 613.9 L1807.1 614 L1808.3 614.1 L1809.5 614.1 L1810.6 614.1 L1811.8 614.1 L1813 614.2 L1814.1 614.2 L1815.3 614.2 L1816.5 614.2 L1817.6 614.2 L1818.8 614.2" fill="none" stroke="#111" stroke-width="1.1"/>
<path d="M1726.4 614.2 L1727.5 613.3 L1728.7 613.9 L1729.9 614.9 L1731.1 614.9 L1732.2 613.8 L1733.4 613.3 L1734.6 614.3 L1735.7 615.1 L1736.9 614.5 L1738.1 613.3 L1739.2 612.9 L1740.4 612.7 L1741.6 609.9 L1742.8 602.6 L1743.9 590.8 L1745.1 575.5 L1746.3 557.8 L1747.4 540.5 L1748.6 529.2 L1749.8 528.9 L1751 539.5 L1752.1 555.4 L1753.3 570.5 L1754.5 582.2 L1755.6 590.9 L1756.8 596.8 L1758 599.5 L1759.1 599.5 L1760.3 599.2 L1761.5 600 L1762.7 601.2 L1763.8 601.2 L1765 600.3 L1766.2 600.3 L1767.3 601.6 L1768.5 602.6 L1769.7 602.3 L1770.8 601.7 L1772 602.3 L1773.2 603.8 L1774.3 604.3 L1775.5 603.3 L1776.7 602.3 L1777.9 602.1 L1779 601.7 L1780.2 599.8 L1781.4 597 L1782.5 595.5 L1783.7 595.9 L1784.9 596.6 L1786 596.3 L1787.2 596 L1788.4 597 L1789.6 599.1 L1790.7 600.5 L1791.9 600.9 L1793.1 601.9 L1794.2 604.4 L1795.4 607.1 L1796.6 608.5 L1797.8 608.8 L1798.9 609.8 L1800.1 611.7 L1801.3 612.9 L1802.4 612.6 L1803.6 611.8 L1804.8 612.2 L1805.9 613.4 L1807.1 613.6 L1808.3 612.6 L1809.5 612.1 L1810.6 613.1 L1811.8 614.2 L1813 614 L1814.1 613.1 L1815.3 613.1 L1816.5 614.3 L1817.6 615 L1818.8 614.2" fill="none" stroke="#333" stroke-width="0.6"/>
<path d="M1710 513.9 V614.2 H1827" fill="none" stroke="#222" stroke-width="0.8"/>
<path d="M1710 614.2 v1.6M1713.9 614.2 v1.6M1717.8 614.2 v1.6M1721.7 614.2 v1.6M1725.6 614.2 v1.6M1729.5 614.2 v1.6M1733.4 614.2 v1.6M1737.3 614.2 v1.6M1741.2 614.2 v1.6M1745.1 614.2 v1.6M1749 614.2 v1.6M1752.9 614.2 v1.6M1756.8 614.2 v1.6M1760.7 614.2 v1.6M1764.6 614.2 v1.6M1768.5 614.2 v1.6M1772.4 614.2 v1.6M1776.3 614.2 v1.6M1780.2 614.2 v1.6M1784.1 614.2 v1.6M1788 614.2 v1.6M1791.9 614.2 v1.6M1795.8 614.2 v1.6M1799.7 614.2 v1.6M1803.6 614.2 v1.6M1807.5 614.2 v1.6M1811.4 614.2 v1.6M1815.3 614.2 v1.6M1819.2 614.2 v1.6M1823.1 614.2 v1.6M1827 614.2 v1.6M1710 614.2 h-1.6M1710 610.2 h-1.6M1710 606.2 h-1.6M1710 602.2 h-1.6M1710 598.2 h-1.6M1710 594.1 h-1.6M1710 590.1 h-1.6M1710 586.1 h-1.6M1710 582.1 h-1.6M1710 578.1 h-1.6M1710 574.1 h-1.6M1710 570.1 h-1.6M1710 566.1 h-1.6M1710 562 h-1.6M1710 558 h-1.6M1710 554 h-1.6M1710 550 h-1.6M1710 546 h-1.6M1710 542 h-1.6M1710 538 h-1.6M1710 534 h-1.6M1710 529.9 h-1.6M1710 525.9 h-1.6M1710 521.9 h-1.6M1710 517.9 h-1.6M1710 513.9 h-1.6" stroke="#444" stroke-width="0.5"/>
<text x="1710" y="621.7" font-size="3.6" text-anchor="middle" font-weight="normal" fill="#444">0</text>
<text x="1733.4" y="621.7" font-size="3.6" text-anchor="middle" font-weight="normal" fill="#444">30</text>
<text x="1756.8" y="621.7" font-size="3.6" text-anchor="middle" font-weight="normal" fill="#444">60</text>
<text x="1780.2" y="621.7" font-size="3.6" text-anchor="middle" font-weight="normal" fill="#444">90</text>
<text x="1803.6" y="621.7" font-size="3.6" text-anchor="middle" font-weight="normal" fill="#444">120</text>
<text x="1827" y="621.7" font-size="3.6" text-anchor="middle" font-weight="normal" fill="#444">150</text>
<text x="1707" y="614.2" font-size="3.6" text-anchor="middle" font-weight="normal" fill="#444" transform="rotate(-90 1707 614.2)">0</text>
<text x="1707" y="593.5" font-size="3.6" text-anchor="middle" font-weight="normal" fill="#444" transform="rotate(-90 1707 593.5)">70</text>
<text x="1707" y="572.7" font-size="3.6" text-anchor="middle" font-weight="normal" fill="#444" transform="rotate(-90 1707 572.7)">140</text>
<text x="1707" y="552" font-size="3.6" text-anchor="middle" font-weight="normal" fill="#444" transform="rotate(-90 1707 552)">210</text>
<text x="1707" y="531.3" font-size="3.6" text-anchor="middle" font-weight="normal" fill="#444" transform="rotate(-90 1707 531.3)">280</text>
<text x="1702" y="560.1" font-size="3.4" text-anchor="middle" font-weight="normal" fill="#444" transform="rotate(-90 1702 560.1)">Number</text>
<text x="1768.5" y="626.2" font-size="4" text-anchor="middle" font-weight="normal" fill="#444">Channels (YEL-B-ALin/Yellow-B Fluorescence Area (YEL-B-ALin))</text>
<path d="M1885.6 492.8L1885.6 492.7L1886.7 492.5L1887.9 492.3L1889 491.8L1890.2 490.8L1891.3 489.2L1892.5 486.7L1893.7 483.4L1894.8 479.9L1896 476.8L1897.1 474.7L1898.3 473.3L1899.4 472.6L1900.6 472.2L1901.7 472L1902.9 472L1904 471.9L1905.2 472L1906.3 472L1907.5 472.1L1908.6 472.2L1909.8 472.3L1911 472.5L1912.1 472.6L1913.3 472.8L1914.4 473.1L1915.6 473.4L1916.7 473.7L1917.9 474.2L1919 474.6L1920.2 475.2L1921.3 475.8L1922.5 476.5L1923.6 477.3L1924.8 478.2L1925.9 479.1L1927.1 480.1L1928.2 481.2L1929.4 482.2L1930.6 483.3L1931.7 484.3L1932.9 485.3L1934 486.2L1935.2 487.1L1936.3 487.9L1937.5 488.6L1938.6 489.2L1939.8 489.8L1940.9 490.3L1942.1 490.7L1943.2 491L1944.4 491.3L1945.5 491.6L1946.7 491.8L1947.8 492L1949 492.1L1950.2 492.2L1951.3 492.3L1952.5 492.4L1953.6 492.5L1954.8 492.5L1955.9 492.6L1957.1 492.6L1958.2 492.7L1959.4 492.7L1960.5 492.7L1961.7 492.7L1961.7 492.8 Z" fill="#d6d6ee" stroke="#333" stroke-width="0.6"/>
<path d="M1879.8 492.8L1879.8 492.7L1881 492.4L1882.1 491.6L1883.3 489.5L1884.4 485L1885.6 476.7L1886.7 463.9L1887.9 447.7L1889 431.7L1890.2 420.8L1891.3 419.1L1892.5 427.2L1893.7 442.1L1894.8 458.8L1896 473L1897.1 482.7L1898.3 488.4L1899.4 491.1L1900.6 492.2L1901.7 492.6L1901.7 492.8 Z" fill="#f00000" stroke="#222" stroke-width="0.5"/>
<path d="M1906.3 492.8L1906.3 492.7L1907.5 492.7L1908.6 492.6L1909.8 492.5L1911 492.3L1912.1 492.1L1913.3 491.8L1914.4 491.5L1915.6 491L1916.7 490.5L1917.9 489.9L1919 489.2L1920.2 488.5L1921.3 487.8L1922.5 487.2L1923.6 486.6L1924.8 486.1L1925.9 485.8L1927.1 485.7L1928.2 485.8L1929.4 486.1L1930.6 486.6L1931.7 487.2L1932.9 487.8L1934 488.5L1935.2 489.2L1936.3 489.9L1937.5 490.5L1938.6 491L1939.8 491.5L1940.9 491.8L1942.1 492.1L1943.2 492.3L1944.4 492.5L1945.5 492.6L1946.7 492.7L1947.8 492.7L1947.8 492.8 Z" fill="#f00000" stroke="#222" stroke-width="0.5" opacity="0.95"/>
<path d="M1885.6 492.8L1885.6 492.7L1886.7 492.5L1887.9 492.3L1889 491.8L1890.2 490.8L1891.3 489.2L1892.5 486.7L1893.7 483.4L1894.8 479.9L1896 476.8L1897.1 482.7L1898.3 488.4L1899.4 491.1L1900.6 492.2L1901.7 492.6L1901.7 492.8 Z" fill="#c80028"/>
<path d="M1906.3 492.8L1906.3 492.7L1907.5 492.7L1908.6 492.6L1909.8 492.5L1911 492.3L1912.1 492.1L1913.3 491.8L1914.4 491.5L1915.6 491L1916.7 490.5L1917.9 489.9L1919 489.2L1920.2 488.5L1921.3 487.8L1922.5 487.2L1923.6 486.6L1924.8 486.1L1925.9 485.8L1927.1 485.7L1928.2 485.8L1929.4 486.1L1930.6 486.6L1931.7 487.2L1932.9 487.8L1934 488.5L1935.2 489.2L1936.3 489.9L1937.5 490.5L1938.6 491L1939.8 491.5L1940.9 491.8L1942.1 492.1L1943.2 492.3L1944.4 492.5L1945.5 492.6L1946.7 492.7L1947.8 492.7L1947.8 492.8 Z" fill="#c80028"/>
<path d="M1853.3 492.8 L1854.5 492.8 L1855.6 492.8 L1856.8 492.8 L1857.9 492.8 L1859.1 492.8 L1860.2 492.8 L1861.4 492.8 L1862.5 492.8 L1863.7 492.8 L1864.8 492.8 L1866 492.8 L1867.1 492.8 L1868.3 492.8 L1869.4 492.8 L1870.6 492.8 L1871.7 492.8 L1872.9 492.8 L1874.1 492.8 L1875.2 492.8 L1876.4 492.8 L1877.5 492.8 L1878.7 492.8 L1879.8 492.7 L1881 492.3 L1882.1 491.4 L1883.3 489.1 L1884.4 484.1 L1885.6 474.9 L1886.7 460.9 L1887.9 443.1 L1889 425.1 L1890.2 412 L1891.3 408.1 L1892.5 413.9 L1893.7 426.3 L1894.8 440.8 L1896 453.3 L1897.1 462.3 L1898.3 467.6 L1899.4 470.2 L1900.6 471.3 L1901.7 471.7 L1902.9 471.9 L1904 471.9 L1905.2 471.9 L1906.3 472 L1907.5 472 L1908.6 472 L1909.8 472 L1911 472 L1912.1 472 L1913.3 471.9 L1914.4 471.8 L1915.6 471.6 L1916.7 471.5 L1917.9 471.3 L1919 471.1 L1920.2 470.9 L1921.3 470.8 L1922.5 470.9 L1923.6 471.1 L1924.8 471.5 L1925.9 472.2 L1927.1 473.1 L1928.2 474.2 L1929.4 475.5 L1930.6 477 L1931.7 478.7 L1932.9 480.3 L1934 482 L1935.2 483.5 L1936.3 485 L1937.5 486.3 L1938.6 487.5 L1939.8 488.5 L1940.9 489.3 L1942.1 490 L1943.2 490.6 L1944.4 491 L1945.5 491.4 L1946.7 491.7 L1947.8 491.9 L1949 492.1 L1950.2 492.2 L1951.3 492.3 L1952.5 492.4 L1953.6 492.5 L1954.8 492.5 L1955.9 492.6 L1957.1 492.6 L1958.2 492.7 L1959.4 492.7 L1960.5 492.7" fill="none" stroke="#111" stroke-width="1.1"/>
<path d="M1869.4 492.8 L1870.6 492.1 L1871.7 492.5 L1872.9 493.4 L1874.1 493.4 L1875.2 492.4 L1876.4 492.1 L1877.5 492.8 L1878.7 493.5 L1879.8 492.9 L1881 491.7 L1882.1 490.8 L1883.3 489.4 L1884.4 484.5 L1885.6 474.3 L1886.7 459.2 L1887.9 441.3 L1889 423.7 L1890.2 410.1 L1891.3 405.1 L1892.5 410.8 L1893.7 424.4 L1894.8 440 L1896 452.4 L1897.1 460.7 L1898.3 466.3 L1899.4 469.9 L1900.6 471.4 L1901.7 471 L1902.9 470.5 L1904 471 L1905.2 471.9 L1906.3 471.8 L1907.5 470.7 L1908.6 470.3 L1909.8 470.7 L1911 470.7 L1912.1 469.5 L1913.3 467.9 L1914.4 467.7 L1915.6 468.5 L1916.7 469 L1917.9 468.6 L1919 468.5 L1920.2 469.4 L1921.3 470.5 L1922.5 470.6 L1923.6 469.9 L1924.8 470.2 L1925.9 471.7 L1927.1 473.2 L1928.2 473.8 L1929.4 474.3 L1930.6 476.1 L1931.7 478.7 L1932.9 480.6 L1934 481.4 L1935.2 482.5 L1936.3 484.6 L1937.5 486.8 L1938.6 487.7 L1939.8 487.7 L1940.9 488.4 L1942.1 489.8 L1943.2 490.8 L1944.4 490.5 L1945.5 489.9 L1946.7 490.4 L1947.8 491.4 L1949 491.7 L1950.2 491 L1951.3 490.6 L1952.5 491.5 L1953.6 492.5 L1954.8 492.4 L1955.9 491.7 L1957.1 491.7 L1958.2 492.7 L1959.4 493.3 L1960.5 492.7" fill="none" stroke="#333" stroke-width="0.6"/>
<path d="M1853.3 393.8 V492.8 H1968.6" fill="none" stroke="#222" stroke-width="0.8"/>
<path d="M1853.3 492.8 v1.6M1857.1 492.8 v1.6M1861 492.8 v1.6M1864.8 492.8 v1.6M1868.7 492.8 v1.6M1872.5 492.8 v1.6M1876.4 492.8 v1.6M1880.2 492.8 v1.6M1884 492.8 v1.6M1887.9 492.8 v1.6M1891.7 492.8 v1.6M1895.6 492.8 v1.6M1899.4 492.8 v1.6M1903.3 492.8 v1.6M1907.1 492.8 v1.6M1911 492.8 v1.6M1914.8 492.8 v1.6M1918.6 492.8 v1.6M1922.5 492.8 v1.6M1926.3 492.8 v1.6M1930.2 492.8 v1.6M1934 492.8 v1.6M1937.9 492.8 v1.6M1941.7 492.8 v1.6M1945.5 492.8 v1.6M1949.4 492.8 v1.6M1953.2 492.8 v1.6M1957.1 492.8 v1.6M1960.9 492.8 v1.6M1964.8 492.8 v1.6M1968.6 492.8 v1.6M1853.3 492.8 h-1.6M1853.3 488.8 h-1.6M1853.3 484.9 h-1.6M1853.3 480.9 h-1.6M1853.3 477 h-1.6M1853.3 473 h-1.6M1853.3 469 h-1.6M1853.3 465.1 h-1.6M1853.3 461.1 h-1.6M1853.3 457.2 h-1.6M1853.3 453.2 h-1.6M1853.3 449.2 h-1.6M1853.3 445.3 h-1.6M1853.3 441.3 h-1.6M1853.3 437.4 h-1.6M1853.3 433.4 h-1.6M1853.3 429.4 h-1.6M1853.3 425.5 h-1.6M1853.3 421.5 h-1.6M1853.3 417.6 h-1.6M1853.3 413.6 h-1.6M1853.3 409.6 h-1.6M1853.3 405.7 h-1.6M1853.3 401.7 h-1.6M1853.3 397.8 h-1.6M1853.3 393.8 h-1.6" stroke="#444" stroke-width="0.5"/>
<text x="1853.3" y="500.3" font-size="3.6" text-anchor="middle" font-weight="normal" fill="#444">0</text>
<text x="1876.4" y="500.3" font-size="3.6" text-anchor="middle" font-weight="normal" fill="#444">30</text>
<text x="1899.4" y="500.3" font-size="3.6" text-anchor="middle" font-weight="normal" fill="#444">60</text>
<text x="1922.5" y="500.3" font-size="3.6" text-anchor="middle" font-weight="normal" fill="#444">90</text>
<text x="1945.5" y="500.3" font-size="3.6" text-anchor="middle" font-weight="normal" fill="#444">120</text>
<text x="1968.6" y="500.3" font-size="3.6" text-anchor="middle" font-weight="normal" fill="#444">150</text>
<text x="1850.3" y="492.8" font-size="3.6" text-anchor="middle" font-weight="normal" fill="#444" transform="rotate(-90 1850.3 492.8)">0</text>
<text x="1850.3" y="472.6" font-size="3.6" text-anchor="middle" font-weight="normal" fill="#444" transform="rotate(-90 1850.3 472.6)">80</text>
<text x="1850.3" y="452.5" font-size="3.6" text-anchor="middle" font-weight="normal" fill="#444" transform="rotate(-90 1850.3 452.5)">160</text>
<text x="1850.3" y="432.3" font-size="3.6" text-anchor="middle" font-weight="normal" fill="#444" transform="rotate(-90 1850.3 432.3)">240</text>
<text x="1850.3" y="412.2" font-size="3.6" text-anchor="middle" font-weight="normal" fill="#444" transform="rotate(-90 1850.3 412.2)">320</text>
<text x="1845.3" y="439.4" font-size="3.4" text-anchor="middle" font-weight="normal" fill="#444" transform="rotate(-90 1845.3 439.4)">Number</text>
<text x="1911" y="504.8" font-size="4" text-anchor="middle" font-weight="normal" fill="#444">Channels (YEL-B-ALin/Yellow-B Fluorescence Area (YEL-B-ALin))</text>
<path d="M1887.2 614.2L1887.2 614.1L1888.4 614L1889.6 613.7L1890.7 613.3L1891.9 612.6L1893.1 611.3L1894.2 609.5L1895.4 607.2L1896.6 604.9L1897.8 603.1L1898.9 601.9L1900.1 601.2L1901.3 600.8L1902.4 600.7L1903.6 600.7L1904.8 600.8L1906 600.9L1907.1 601L1908.3 601.3L1909.5 601.5L1910.6 601.8L1911.8 602.1L1913 602.5L1914.1 603L1915.3 603.4L1916.5 604L1917.6 604.6L1918.8 605.2L1920 605.9L1921.2 606.6L1922.3 607.3L1923.5 608L1924.7 608.7L1925.8 609.4L1927 610L1928.2 610.6L1929.3 611.1L1930.5 611.5L1931.7 611.9L1932.9 612.3L1934 612.6L1935.2 612.9L1936.4 613.1L1937.5 613.3L1938.7 613.4L1939.9 613.6L1941 613.7L1942.2 613.8L1943.4 613.8L1944.6 613.9L1945.7 614L1946.9 614L1948.1 614L1949.2 614.1L1950.4 614.1L1951.6 614.1L1951.6 614.2 Z" fill="#d6d6ee" stroke="#333" stroke-width="0.6"/>
<path d="M1881.4 614.2L1881.4 614L1882.5 613.7L1883.7 612.6L1884.9 610L1886.1 604.6L1887.2 595.2L1888.4 581.7L1889.6 565.7L1890.7 551.5L1891.9 543.7L1893.1 545.3L1894.2 555.7L1895.4 571.1L1896.6 586.6L1897.8 598.8L1898.9 606.8L1900.1 611.1L1901.3 613.1L1902.4 613.8L1903.6 614.1L1903.6 614.2 Z" fill="#f00000" stroke="#222" stroke-width="0.5"/>
<path d="M1914.1 614.2L1914.1 614.1L1915.3 614L1916.5 613.8L1917.6 613.6L1918.8 613.2L1920 612.7L1921.2 611.9L1922.3 611L1923.5 609.8L1924.7 608.4L1925.8 606.8L1927 605.3L1928.2 603.8L1929.3 602.5L1930.5 601.6L1931.7 601.2L1932.9 601.3L1934 601.9L1935.2 602.9L1936.4 604.2L1937.5 605.8L1938.7 607.3L1939.9 608.8L1941 610.2L1942.2 611.3L1943.4 612.2L1944.6 612.9L1945.7 613.3L1946.9 613.7L1948.1 613.9L1949.2 614L1950.4 614.1L1950.4 614.2 Z" fill="#f00000" stroke="#222" stroke-width="0.5" opacity="0.95"/>
<path d="M1887.2 614.2L1887.2 614.1L1888.4 614L1889.6 613.7L1890.7 613.3L1891.9 612.6L1893.1 611.3L1894.2 609.5L1895.4 607.2L1896.6 604.9L1897.8 603.1L1898.9 606.8L1900.1 611.1L1901.3 613.1L1902.4 613.8L1903.6 614.1L1903.6 614.2 Z" fill="#c80028"/>
<path d="M1914.1 614.2L1914.1 614.1L1915.3 614L1916.5 613.8L1917.6 613.6L1918.8 613.2L1920 612.7L1921.2 611.9L1922.3 611L1923.5 609.8L1924.7 608.7L1925.8 609.4L1927 610L1928.2 610.6L1929.3 611.1L1930.5 611.5L1931.7 611.9L1932.9 612.3L1934 612.6L1935.2 612.9L1936.4 613.1L1937.5 613.3L1938.7 613.4L1939.9 613.6L1941 613.7L1942.2 613.8L1943.4 613.8L1944.6 613.9L1945.7 614L1946.9 614L1948.1 614L1949.2 614.1L1950.4 614.1L1950.4 614.2 Z" fill="#c80028"/>
<path d="M1853.3 614.2 L1854.5 614.2 L1855.6 614.2 L1856.8 614.2 L1858 614.2 L1859.1 614.2 L1860.3 614.2 L1861.5 614.2 L1862.7 614.2 L1863.8 614.2 L1865 614.2 L1866.2 614.2 L1867.3 614.2 L1868.5 614.2 L1869.7 614.2 L1870.8 614.2 L1872 614.2 L1873.2 614.2 L1874.4 614.2 L1875.5 614.2 L1876.7 614.2 L1877.9 614.2 L1879 614.2 L1880.2 614.1 L1881.4 614 L1882.5 613.6 L1883.7 612.3 L1884.9 609.4 L1886.1 603.5 L1887.2 593.2 L1888.4 578.4 L1889.6 560.9 L1890.7 544.9 L1891.9 535.3 L1893.1 535.3 L1894.2 544.3 L1895.4 558.3 L1896.6 572.9 L1897.8 584.7 L1898.9 592.5 L1900.1 597 L1901.3 599.2 L1902.4 600.1 L1903.6 600.5 L1904.8 600.7 L1906 600.9 L1907.1 601 L1908.3 601.2 L1909.5 601.5 L1910.6 601.8 L1911.8 602.1 L1913 602.4 L1914.1 602.8 L1915.3 603.2 L1916.5 603.6 L1917.6 604 L1918.8 604.2 L1920 604.4 L1921.2 604.3 L1922.3 604.1 L1923.5 603.6 L1924.7 602.9 L1925.8 602 L1927 601 L1928.2 600.1 L1929.3 599.4 L1930.5 599 L1931.7 598.9 L1932.9 599.4 L1934 600.3 L1935.2 601.6 L1936.4 603.1 L1937.5 604.8 L1938.7 606.6 L1939.9 608.2 L1941 609.7 L1942.2 610.9 L1943.4 611.8 L1944.6 612.6 L1945.7 613.1 L1946.9 613.5 L1948.1 613.7 L1949.2 613.9 L1950.4 614 L1951.6 614.1 L1952.8 614.1 L1953.9 614.1 L1955.1 614.1 L1956.3 614.2 L1957.4 614.2 L1958.6 614.2 L1959.8 614.2 L1960.9 614.2 L1962.1 614.2" fill="none" stroke="#111" stroke-width="1.1"/>
<path d="M1869.7 614.2 L1870.8 613.3 L1872 613.9 L1873.2 614.9 L1874.4 614.9 L1875.5 613.8 L1876.7 613.3 L1877.9 614.3 L1879 615.1 L1880.2 614.5 L1881.4 613.3 L1882.5 612.9 L1883.7 612.7 L1884.9 610.1 L1886.1 603.1 L1887.2 591.7 L1888.4 577 L1889.6 560 L1890.7 543.4 L1891.9 532.5 L1893.1 532.1 L1894.2 542.3 L1895.4 557.5 L1896.6 571.9 L1897.8 583 L1898.9 591.3 L1900.1 597 L1901.3 599.5 L1902.4 599.5 L1903.6 599.2 L1904.8 600 L1906 601.2 L1907.1 601.2 L1908.3 600.3 L1909.5 600.3 L1910.6 601.6 L1911.8 602.6 L1913 602.3 L1914.1 601.7 L1915.3 602.3 L1916.5 603.8 L1917.6 604.3 L1918.8 603.3 L1920 602.3 L1921.2 602.1 L1922.3 601.7 L1923.5 599.8 L1924.7 597 L1925.8 595.5 L1927 595.9 L1928.2 596.6 L1929.3 596.3 L1930.5 596 L1931.7 597 L1932.9 599.1 L1934 600.5 L1935.2 600.9 L1936.4 601.9 L1937.5 604.4 L1938.7 607.1 L1939.9 608.5 L1941 608.8 L1942.2 609.8 L1943.4 611.7 L1944.6 612.9 L1945.7 612.6 L1946.9 611.8 L1948.1 612.2 L1949.2 613.4 L1950.4 613.6 L1951.6 612.6 L1952.8 612.1 L1953.9 613.1 L1955.1 614.2 L1956.3 614 L1957.4 613.1 L1958.6 613.1 L1959.8 614.3 L1960.9 615 L1962.1 614.2" fill="none" stroke="#333" stroke-width="0.6"/>
<path d="M1853.3 513.9 V614.2 H1970.3" fill="none" stroke="#222" stroke-width="0.8"/>
<path d="M1853.3 614.2 v1.6M1857.2 614.2 v1.6M1861.1 614.2 v1.6M1865 614.2 v1.6M1868.9 614.2 v1.6M1872.8 614.2 v1.6M1876.7 614.2 v1.6M1880.6 614.2 v1.6M1884.5 614.2 v1.6M1888.4 614.2 v1.6M1892.3 614.2 v1.6M1896.2 614.2 v1.6M1900.1 614.2 v1.6M1904 614.2 v1.6M1907.9 614.2 v1.6M1911.8 614.2 v1.6M1915.7 614.2 v1.6M1919.6 614.2 v1.6M1923.5 614.2 v1.6M1927.4 614.2 v1.6M1931.3 614.2 v1.6M1935.2 614.2 v1.6M1939.1 614.2 v1.6M1943 614.2 v1.6M1946.9 614.2 v1.6M1950.8 614.2 v1.6M1954.7 614.2 v1.6M1958.6 614.2 v1.6M1962.5 614.2 v1.6M1966.4 614.2 v1.6M1970.3 614.2 v1.6M1853.3 614.2 h-1.6M1853.3 610.2 h-1.6M1853.3 606.2 h-1.6M1853.3 602.2 h-1.6M1853.3 598.2 h-1.6M1853.3 594.1 h-1.6M1853.3 590.1 h-1.6M1853.3 586.1 h-1.6M1853.3 582.1 h-1.6M1853.3 578.1 h-1.6M1853.3 574.1 h-1.6M1853.3 570.1 h-1.6M1853.3 566.1 h-1.6M1853.3 562 h-1.6M1853.3 558 h-1.6M1853.3 554 h-1.6M1853.3 550 h-1.6M1853.3 546 h-1.6M1853.3 542 h-1.6M1853.3 538 h-1.6M1853.3 534 h-1.6M1853.3 529.9 h-1.6M1853.3 525.9 h-1.6M1853.3 521.9 h-1.6M1853.3 517.9 h-1.6M1853.3 513.9 h-1.6" stroke="#444" stroke-width="0.5"/>
<text x="1853.3" y="621.7" font-size="3.6" text-anchor="middle" font-weight="normal" fill="#444">0</text>
<text x="1876.7" y="621.7" font-size="3.6" text-anchor="middle" font-weight="normal" fill="#444">30</text>
<text x="1900.1" y="621.7" font-size="3.6" text-anchor="middle" font-weight="normal" fill="#444">60</text>
<text x="1923.5" y="621.7" font-size="3.6" text-anchor="middle" font-weight="normal" fill="#444">90</text>
<text x="1946.9" y="621.7" font-size="3.6" text-anchor="middle" font-weight="normal" fill="#444">120</text>
<text x="1970.3" y="621.7" font-size="3.6" text-anchor="middle" font-weight="normal" fill="#444">150</text>
<text x="1850.3" y="614.2" font-size="3.6" text-anchor="middle" font-weight="normal" fill="#444" transform="rotate(-90 1850.3 614.2)">0</text>
<text x="1850.3" y="593.5" font-size="3.6" text-anchor="middle" font-weight="normal" fill="#444" transform="rotate(-90 1850.3 593.5)">70</text>
<text x="1850.3" y="572.7" font-size="3.6" text-anchor="middle" font-weight="normal" fill="#444" transform="rotate(-90 1850.3 572.7)">140</text>
<text x="1850.3" y="552" font-size="3.6" text-anchor="middle" font-weight="normal" fill="#444" transform="rotate(-90 1850.3 552)">210</text>
<text x="1850.3" y="531.3" font-size="3.6" text-anchor="middle" font-weight="normal" fill="#444" transform="rotate(-90 1850.3 531.3)">280</text>
<text x="1845.3" y="560.1" font-size="3.4" text-anchor="middle" font-weight="normal" fill="#444" transform="rotate(-90 1845.3 560.1)">Number</text>
<text x="1911.8" y="626.2" font-size="4" text-anchor="middle" font-weight="normal" fill="#444">Channels (YEL-B-ALin/Yellow-B Fluorescence Area (YEL-B-ALin))</text>
<line x1="101" y1="417.4" x2="101" y2="672.4" stroke="#000" stroke-width="2.6"/>
<line x1="93.5" y1="671.1" x2="101" y2="671.1" stroke="#000" stroke-width="2.6"/>
<text x="90" y="679.7" font-size="24" text-anchor="end">0</text>
<line x1="93.5" y1="608" x2="101" y2="608" stroke="#000" stroke-width="2.6"/>
<text x="90" y="616.6" font-size="24" text-anchor="end">5</text>
<line x1="93.5" y1="544.9" x2="101" y2="544.9" stroke="#000" stroke-width="2.6"/>
<text x="90" y="553.5" font-size="24" text-anchor="end">10</text>
<line x1="93.5" y1="481.8" x2="101" y2="481.8" stroke="#000" stroke-width="2.6"/>
<text x="90" y="490.4" font-size="24" text-anchor="end">15</text>
<line x1="93.5" y1="418.7" x2="101" y2="418.7" stroke="#000" stroke-width="2.6"/>
<text x="90" y="427.3" font-size="24" text-anchor="end">20</text>
<line x1="186.1" y1="620.2" x2="186.1" y2="612.4" stroke="#000" stroke-width="2.4"/>
<line x1="169.1" y1="612.4" x2="203.1" y2="612.4" stroke="#000" stroke-width="2.4"/>
<rect x="152.7" y="620.2" width="66.8" height="50.9" fill="#c5944f" stroke="#000" stroke-width="1.5"/>
<line x1="288.9" y1="485" x2="288.9" y2="475.5" stroke="#000" stroke-width="2.4"/>
<line x1="271.9" y1="475.5" x2="305.9" y2="475.5" stroke="#000" stroke-width="2.4"/>
<rect x="255.7" y="485" width="66.5" height="186.1" fill="#0000bf" stroke="#8a8ab0" stroke-width="1.5"/>
<line x1="93" y1="671.1" x2="375.3" y2="671.1" stroke="#000" stroke-width="2.6"/>
<line x1="185.6" y1="671.1" x2="185.6" y2="678.6" stroke="#000" stroke-width="2.6"/>
<text x="185.6" y="703.5" font-size="24" text-anchor="middle">shCtrl</text>
<line x1="288" y1="671.1" x2="288" y2="678.6" stroke="#000" stroke-width="2.6"/>
<text x="288" y="703.5" font-size="24" text-anchor="middle">shKNTC1</text>
<line x1="164.3" y1="461.6" x2="304.6" y2="461.6" stroke="#000" stroke-width="3.4"/>
<text x="205.6" y="469.1" font-size="34.5" letter-spacing="3">***</text>
<text x="49.5" y="541.5" font-size="24" text-anchor="middle" transform="rotate(-90 49.5 541.5)">Apoptosis (%)</text>
<line x1="612" y1="416.9" x2="612" y2="672.4" stroke="#000" stroke-width="2.6"/>
<line x1="604.5" y1="671.1" x2="612" y2="671.1" stroke="#000" stroke-width="2.6"/>
<text x="601" y="679.7" font-size="24" text-anchor="end">0</text>
<line x1="604.5" y1="586.8" x2="612" y2="586.8" stroke="#000" stroke-width="2.6"/>
<text x="601" y="595.4" font-size="24" text-anchor="end">5</text>
<line x1="604.5" y1="502.5" x2="612" y2="502.5" stroke="#000" stroke-width="2.6"/>
<text x="601" y="511.1" font-size="24" text-anchor="end">10</text>
<line x1="604.5" y1="418.2" x2="612" y2="418.2" stroke="#000" stroke-width="2.6"/>
<text x="601" y="426.8" font-size="24" text-anchor="end">15</text>
<line x1="697.4" y1="597.4" x2="697.4" y2="593.5" stroke="#000" stroke-width="2.4"/>
<line x1="680.4" y1="593.5" x2="714.4" y2="593.5" stroke="#000" stroke-width="2.4"/>
<rect x="663.7" y="597.4" width="67.3" height="73.7" fill="#c5944f" stroke="#000" stroke-width="1.5"/>
<line x1="800.2" y1="506.4" x2="800.2" y2="494.9" stroke="#000" stroke-width="2.4"/>
<line x1="783.2" y1="494.9" x2="817.2" y2="494.9" stroke="#000" stroke-width="2.4"/>
<rect x="766.7" y="506.4" width="67.1" height="164.7" fill="#0000bf" stroke="#8a8ab0" stroke-width="1.5"/>
<line x1="605" y1="671.1" x2="886.8" y2="671.1" stroke="#000" stroke-width="2.6"/>
<line x1="697.4" y1="671.1" x2="697.4" y2="678.6" stroke="#000" stroke-width="2.6"/>
<text x="697.4" y="703.5" font-size="24" text-anchor="middle">shCtrl</text>
<line x1="800" y1="671.1" x2="800" y2="678.6" stroke="#000" stroke-width="2.6"/>
<text x="800" y="703.5" font-size="24" text-anchor="middle">shKNTC1</text>
<line x1="676.7" y1="462.8" x2="817.7" y2="462.8" stroke="#000" stroke-width="3.4"/>
<text x="730.7" y="470.2" font-size="34.5" letter-spacing="1.8">**</text>
<text x="560.5" y="541.5" font-size="24" text-anchor="middle" transform="rotate(-90 560.5 541.5)">Apoptosis (%)</text>
<text x="39" y="781" font-size="26" text-anchor="middle" transform="rotate(-90 39 781)">shCtrl</text>
<text x="42" y="898" font-size="25.4" text-anchor="middle" transform="rotate(-90 42 898)">shKNTC1</text>
<rect x="54.3" y="729.8" width="110.5" height="111" fill="#fff" stroke="#999" stroke-width="0.9"/>
<rect x="64.6" y="734.8" width="89" height="94.9" fill="none" stroke="#555" stroke-width="0.7"/>
<text x="65.3" y="734.1" font-size="4.1" font-weight="normal" fill="#444">Plot P02, gated on P01.R1</text>
<g filter="url(#soft)"><ellipse cx="81.9" cy="753.8" rx="6.7" ry="17.6" fill="#ff0000"/><ellipse cx="81.9" cy="757.6" rx="7.1" ry="19.9" fill="#ff2020" opacity="0.3"/></g>
<path d="M77 747h.7m0.8 2h.7m0.8 -2h.7m-3.7 5h.7m4.3 37h.7m0.8 -35.5h.7m2.3 -14.5h.7m-8.7 22.5h.7m-0.2 -21.5h.7m8.3 32h.7m7.3 -22.5h.7m-16.2 1.5h.7m3.8 3h.7m0.3 -4.5h.7m-12.2 27h.7m4.3 -6h.7m-0.2 -14.5h.7m-7.7 -16h.7m10.3 22h.7m-4.2 -6h.7m-9.2 -1.5h.7m5.8 -15.5h.7m4.8 8.5h.7m-7.7 0.5h.7m2.3 1.5h.7m1.8 -2h.7m3.8 28.5h.7m-0.2 -27h.7m-9.7 10.5h.7m1.8 14h.7m1.3 -13.5h.7m-4.7 -4h.7m3.3 -18.5h.7m-5.2 28.5h.7m11.3 -11.5h.7m-11.7 10h.7m6.8 -3.5h.7m-10.2 -14.5h.7m9.3 -8.5h.7m-5.7 33h.7m4.3 -26.5h.7m-7.7 6h.7m-5.2 4.5h.7m0.8 7.5h.7m-2.2 -17.5h.7m1.8 9.5h.7m-10.2 13h.7m10.8 -12h.7m7.3 -1.5h.7m-5.2 1.5h.7m1.8 8h.7m0.8 -10.5h.7m-12.2 4.5h.7m-1.2 -4h.7m3.3 -14h.7m3.3 23h.7m-8.7 -23.5h.7m0.8 0h.7m6.8 0.5h.7m-13.7 25.5h.7m20.3 -2h.7m-7.2 -10.5h.7m-6.7 -5.5h.7m-9.2 -11h.7m10.8 30h.7m0.8 -7.5h.7m-3.2 1.5h.7m9.8 -6.5h.7m-20.2 5.5h.7m5.3 -21.5h.7m-5.2 26h.7m2.3 -13.5h.7m-1.7 19h.7m1.8 -22h.7m7.3 -8h.7m-1.2 21h.7m-4.2 -3.5h.7m-2.7 13h.7m-1.7 6h.7m-5.7 -22.5h.7m5.3 16h.7m-5.2 4h.7m-1.7 -17.5h.7m-0.7 0.5h.7m6.8 -16h.7m6.3 12.5h.7m0.3 12.5h.7m-9.7 -13.5h.7m-3.7 13.5h.7m0.8 -2.5h.7m1.3 -3h.7m-0.2 17.5h.7m0.8 -26h.7m-8.7 -4h.7m14.8 2.5h.7m-7.7 5h.7m-0.2 -16h.7m-14.2 11.5h.7m7.8 7.5h.7m-0.2 -8h.7m-10.2 -7h.7m3.3 23h.7m6.8 -4.5h.7m-10.7 -25h.7m9.3 18h.7m3.3 -8.5h.7m-9.2 20h.7m-2.2 -18h.7m10.3 29h.7m-2.7 1h.7m-3.2 -35.5h.7m-8.2 6h.7m6.8 20h.7m4.3 13h.7m-4.7 -8.5h.7m-16.7 -35h.7m13.8 3.5h.7m-3.7 16h.7m5.3 0.5h.7m-3.7 -5h.7m1.3 19.5h.7m-6.7 -11h.7m3.3 -8.5h.7m-6.7 -7.5h.7m1.8 16.5h.7m4.3 4.5h.7m-3.7 -28h.7m4.3 41.5h.7m-10.7 -33h.7m-7.2 5h.7m8.8 6.5h.7m3.8 -6h.7m3.3 16h.7m-8.7 -3.5h.7m-5.7 15h.7m0.3 -39h.7m3.8 13h.7m4.8 18h.7m-6.2 -23.5h.7m-3.7 -6.5h.7m-1.7 5.5h.7m8.3 47h.7m2.3 -22h.7m0.8 -17h.7m4.8 37h.7m1.3 -13h.7m-22.7 35.5h.7m6.8 -59.5h.7m2.8 32h.7m-6.2 25h.7m2.3 -21.5h.7m-7.7 -34h.7m-1.7 31h.7m8.3 -12.5h.7m0.8 1h.7m1.8 13h.7m1.8 -12.5h.7m-13.2 -26.5h.7m11.8 9.5h.7m-1.7 22h.7m-13.2 -2h.7m15.3 1.5h.7m-21.7 -4h.7m8.8 3.5h.7m0.3 7h.7m-4.2 -10h.7m10.8 9h.7m-6.2 -4.5h.7m5.3 15h.7m-4.2 -58h.7m-14.2 22h.7m8.8 -8.5h.7m-12.2 20h.7m3.8 -19h.7m0.3 0.5h.7m6.3 38h.7m-4.7 -37.5h.7m6.3 4.5h.7m-6.7 6.5h.7m-3.2 48h.7m7.8 -12.5h.7m4.3 -21.5h.7m-24.7 8.5h.7m19.3 -45.5h.7m-11.7 58.5h.7m9.3 -6.5h.7m-11.2 -5h.7m4.8 -0.5h.7m-10.2 -18h.7m-6.7 -16h.7m11.8 15.5h.7m-1.2 -10h.7m6.8 10h.7m-14.2 12.5h.7m17.8 -13h.7m-18.2 29.5h.7m7.8 -35.5h.7m16.3 8h.7m-26.7 15h.7m8.3 -21.5h.7m6.3 17.5h.7m-13.2 -3.5h.7m5.3 -40.5h.7m-9.7 54.5h.7m14.8 29h.7m-6.7 -35.5h.7m-11.7 15.5h.7m1.3 -46h.7m10.8 -0.5h.7m16.8 3h.7m-32.7 8h.7m16.8 -14.5h.7m0.3 44.5h.7m-21.2 -11h.7m13.3 -8h.7m0.8 8h.7m-6.2 -2h.7m-1.7 14.5h.7m8.3 -4h.7m-5.7 -18h.7m-4.2 -23.5h.7m14.3 31.5h.7m-25.7 1h.7m23.8 15.5h.7m-13.7 -22.5h.7m-12.2 6h.7m19.8 -1h.7m-6.2 -7.5h.7m2.8 -25h.7m-18.7 4.5h.7m27.8 44.5h.7m-12.7 -44.5h.7m20.8 29.5h.7m-32.7 -35h.7m4.8 8h.7m-2.7 -2.5h.7m4.8 43.5h.7m-8.2 -21h.7m4.3 -6h.7m-9.2 -5.5h.7m11.3 -8h.7m-2.2 36.5h.7m4.8 10.5h.7m1.8 -26.5h.7m-8.7 -9h.7m-5.7 38h.7m11.3 -29h.7m-3.7 0h.7m5.3 -1h.7m-18.2 2h.7m-3.7 10h.7m8.8 -3.5h.7m9.3 -4h.7m-13.2 -21h.7m-16.7 8h.7m5.8 11h.7m6.3 15.5h.7m6.3 -53h.7m-7.7 21.5h.7m11.8 18.5h.7m-9.2 -28h.7m-0.7 -3.5h.7m8.8 35h.7m-15.2 -17.5h.7m-4.2 -11.5h.7m20.3 26h.7m-7.7 11.5h.7m-10.7 -7.5h.7m6.3 -26.5h.7m10.8 0h.7m-28.2 16h.7m-1.2 -16.5h.7m13.8 -16.5h.7m10.8 29.5h.7m-11.2 31.5h.7m2.3 -11.5h.7m-5.2 -32h.7m-4.2 20h.7m-0.7 1h.7m-0.2 -45.5h.7m-7.7 41.5h.7m10.8 -41.5h.7m2.3 8.5h.7m-4.7 -4.5h.7m-12.7 28.5h.7m16.3 36h.7m-10.7 -50.5h.7m-7.7 -9h.7m14.8 -2.5h.7m8.3 6.5h.7m-19.2 61.5h.7m12.8 -55h.7m-3.7 12.5h.7m-2.7 -9h.7m-9.7 29.5h.7m-1.2 -3h.7m8.8 -8h.7m-3.7 -20h.7m-1.7 48h.7m1.8 -57.5h.7m1.8 8h.7m-1.2 63.5h.7m-8.7 -1.5h.7m0.3 -2.5h.7m-6.7 -14h.7m11.3 7.5h.7m-1.2 -26.5h.7m-6.7 20.5h.7m0.3 -18.5h.7m6.8 9h.7m-3.2 -5h.7m-2.7 24.5h.7m-2.2 5.5h.7m4.8 -35h.7m-8.7 17.5h.7m5.3 4.5h.7m-6.2 9.5h.7m-1.2 -7h.7m0.8 -5.5h.7m0.3 -9.5h.7m1.3 33.5h.7m-2.7 -0.5h.7m3.8 -40h.7m-4.7 16.5h.7m3.3 -3h.7m-4.7 7h.7m1.8 -17.5h.7m3.8 27h.7m-7.2 -18.5h.7m0.8 24.5h.7m-4.2 -10h.7m0.3 4h.7m-1.2 -27h.7m-4.2 -5h.7m2.8 10.5h.7m6.3 0.5h.7m-9.7 30.5h.7m7.8 -7.5h.7m-3.2 2h.7m-7.2 -27.5h.7m-2.2 24.5h.7m2.3 -23.5h.7m-3.2 18.5h.7m8.8 -1h.7m-3.7 -14.5h.7m-3.7 0h.7m-0.2 7h.7m2.3 20h.7m-7.2 -25.5h.7m7.8 4.5h.7m-8.2 -13h.7m5.8 9.5h.7m-10.2 -3h.7m5.3 -10.5h.7m3.3 34.5h.7m-6.7 -8h.7m2.8 -23h.7m-1.7 17.5h.7m-1.2 4h.7m-1.7 11.5h.7m2.8 -14h.7m-3.7 -26.5h.7m-2.2 41h.7m2.3 -6h.7m-0.2 -9.5h.7m3.3 -2.5h.7m-5.2 18.5h.7m-3.2 -13.5h.7m-0.2 8h.7m3.8 -10h.7m-4.7 -24h.7m2.3 27.5h.7m-3.7 9h.7m-10.7 -20h.7m11.3 7h.7m-1.7 13.5h.7m-1.7 -1h.7m3.3 -25.5h.7m1.3 -4h.7m-12.2 8.5h.7m5.3 -1.5h.7m0.3 11h.7m3.8 12.5h.7m-5.7 -32.5h.7m-1.2 -1h.7m-1.2 16.5h.7m6.8 11h.7m-5.2 -33h.7m-6.2 9.5h.7m-1.2 -0.5h.7m-0.2 25h.7m4.8 -10.5h.7m-2.7 3.5h.7m2.3 9.5h.7m-5.7 -15.5h.7m-2.2 1.5h.7m11.8 9.5h.7m-12.2 -10.5h.7m9.8 -19.5h.7m-5.7 17h.7m-2.2 -14h.7m0.8 38h.7m-8.2 -13.5h.7m4.3 -28h.7m-3.7 8.5h.7m0.3 32h.7m1.3 -28.5h.7m-1.2 25h.7m-2.2 -23.5h.7m-4.7 12.5h.7m4.3 -14.5h.7" stroke="#ff3030" stroke-width="0.8" fill="none" opacity="0.8"/>
<line x1="88.6" y1="734.8" x2="88.6" y2="829.7" stroke="#e84a4a" stroke-width="0.8"/>
<line x1="64.6" y1="791.3" x2="153.5" y2="791.3" stroke="#e84a4a" stroke-width="0.8"/>
<circle cx="88.6" cy="791.3" r="1.2" fill="none" stroke="#e84a4a" stroke-width="0.7"/>
<circle cx="131.3" cy="791.3" r="1.2" fill="none" stroke="#e84a4a" stroke-width="0.7"/>
<text x="90.6" y="788.3" font-size="3.2" font-weight="normal" fill="#e84a4a">R2</text>
<text x="66.6" y="740.3" font-size="5.1">90.86%</text>
<text x="151.5" y="740.3" font-size="5.1" text-anchor="end">2.81%</text>
<text x="66.6" y="827.7" font-size="5.1">5.60%</text>
<text x="151.5" y="827.7" font-size="5.1" text-anchor="end">0.74%</text>
<text x="109.1" y="839.5" font-size="4.1" text-anchor="middle" font-weight="normal" fill="#444">Red-R Fluorescence (RED-R-HLog)</text>
<text x="58.5" y="782.2" font-size="4.1" text-anchor="middle" font-weight="normal" fill="#444" transform="rotate(-90 58.5 782.2)">Green-B Fluorescence (GRN-B-HLog)</text>
<text x="64.6" y="834.2" font-size="3" text-anchor="middle" font-weight="normal" fill="#444">10</text>
<text x="82.4" y="834.2" font-size="3" text-anchor="middle" font-weight="normal" fill="#444">10</text>
<text x="100.2" y="834.2" font-size="3" text-anchor="middle" font-weight="normal" fill="#444">10</text>
<text x="117.9" y="834.2" font-size="3" text-anchor="middle" font-weight="normal" fill="#444">10</text>
<text x="135.7" y="834.2" font-size="3" text-anchor="middle" font-weight="normal" fill="#444">10</text>
<text x="153.5" y="834.2" font-size="3" text-anchor="middle" font-weight="normal" fill="#444">10</text>
<rect x="54.3" y="849.3" width="110.5" height="111" fill="#fff" stroke="#999" stroke-width="0.9"/>
<rect x="64.6" y="854.3" width="89" height="94.9" fill="none" stroke="#555" stroke-width="0.7"/>
<text x="65.3" y="853.6" font-size="4.1" font-weight="normal" fill="#444">Plot P02, gated on P01.R1</text>
<g filter="url(#soft)"><ellipse cx="81.9" cy="873.3" rx="6.7" ry="17.6" fill="#ff0000"/><ellipse cx="86.4" cy="877.1" rx="9.8" ry="19.9" fill="#ff2020" opacity="0.3"/></g>
<path d="M88.5 861h.7m-7.7 32.5h.7m8.8 -36.5h.7m-12.7 12.5h.7m-12.2 27.5h.7m17.3 -16h.7m1.3 -12.5h.7m-5.2 17h.7m2.3 -19h.7m-11.7 15.5h.7m8.3 -24.5h.7m3.3 25h.7m-4.7 -8h.7m0.3 19h.7m-5.7 1h.7m2.8 -15h.7m5.8 -3h.7m-6.2 -11h.7m-3.2 10h.7m-3.7 -11.5h.7m7.3 25h.7m-10.7 -25h.7m8.8 26h.7m-10.7 -22h.7m10.8 33.5h.7m-1.2 -44.5h.7m0.8 16h.7m-9.2 6h.7m-4.2 -16.5h.7m-11.2 28h.7m16.3 -23h.7m-2.2 5h.7m-3.7 -9.5h.7m-6.7 5.5h.7m15.8 12h.7m-3.7 3.5h.7m-6.2 -6h.7m0.3 -11h.7m-0.7 12.5h.7m-3.2 -16.5h.7m2.8 11h.7m-0.7 16h.7m-0.7 -16.5h.7m-5.2 -15.5h.7m5.8 24.5h.7m-0.7 -1h.7m-6.7 -2h.7m3.3 3.5h.7m-3.7 7.5h.7m6.8 -30.5h.7m-6.7 13.5h.7m2.8 18.5h.7m-12.2 -3h.7m11.3 -22h.7m-7.2 15.5h.7m1.3 -15h.7m-1.7 34.5h.7m-8.7 -2h.7m1.3 -10h.7m4.8 -15h.7m-1.7 -6.5h.7m9.8 -6h.7m-19.7 5h.7m-2.2 -5h.7m11.8 2h.7m-2.7 35.5h.7m14.3 -3h.7m-4.2 -17.5h.7m-13.2 -16h.7m-2.7 -1.5h.7m2.3 20h.7m9.8 -2.5h.7m-4.7 -15.5h.7m-0.7 -2h.7m-4.7 37h.7m1.8 -28.5h.7m0.3 -6.5h.7m-3.2 -2.5h.7m3.3 11h.7m-4.7 5.5h.7m0.3 0h.7m-1.7 -7.5h.7m1.8 10h.7m1.8 12h.7m1.8 -18.5h.7m-10.7 6h.7m2.3 10.5h.7m-1.7 -3h.7m-5.7 -3h.7m2.8 -22.5h.7m-5.7 -3h.7m3.3 37.5h.7m7.3 -15h.7m-7.7 -2.5h.7m-4.2 -4.5h.7m-0.7 -14.5h.7m-1.2 -3.5h.7m1.8 0.5h.7m-1.7 2.5h.7m0.8 21h.7m-2.7 -8h.7m0.3 2.5h.7m4.8 -6h.7m2.3 -8.5h.7m3.3 -3h.7m-7.7 26h.7m5.3 -10.5h.7m-5.2 6h.7m-0.7 1h.7m-2.7 -5h.7m3.3 2.5h.7m-7.7 -20.5h.7m6.3 33h.7m-11.7 -17h.7m10.3 -3.5h.7m-9.2 4.5h.7m3.8 10h.7m-0.2 2.5h.7m5.3 -3h.7m-6.2 -3.5h.7m5.3 -24h.7m-8.2 28.5h.7m-7.2 -5h.7m2.3 2h.7m2.8 -16.5h.7m-10.7 -3h.7m10.8 21.5h.7m-6.2 -2h.7m11.8 -23h.7m-8.7 18.5h.7m-7.7 -13h.7m15.3 16h.7m-6.2 -19.5h.7m-2.7 17.5h.7m-15.7 6.5h.7m18.8 -5.5h.7m-1.2 7h.7m-14.7 -20.5h.7m13.8 38.5h.7m-5.7 -32h.7m-9.7 -4h.7m1.3 9.5h.7m4.3 19h.7m-7.2 -24h.7m0.8 0.5h.7m10.8 -14h.7m-8.2 26.5h.7m-7.7 -16.5h.7m35.3 26.5h.7m-5.7 -12.5h.7m-12.7 -14h.7m-1.2 19h.7m-18.2 6h.7m32.8 -13h.7m-34.7 28.5h.7m6.8 -36.5h.7m5.3 44h.7m-11.2 -29.5h.7m12.8 2h.7m5.3 16h.7m-3.7 -21h.7m-11.2 19h.7m11.3 -8.5h.7m15.3 23h.7m-26.2 -51h.7m3.8 31h.7m3.3 -40.5h.7m10.8 52.5h.7m-13.7 -31.5h.7m8.3 15h.7m-28.7 -7h.7m24.3 47h.7m-10.7 -44h.7m18.8 -12.5h.7m-15.7 -7.5h.7m5.8 8h.7m-28.2 11.5h.7m20.8 -5h.7m-11.2 -18.5h.7m32.8 -1h.7m-36.2 40h.7m25.3 -19h.7m-24.2 1h.7m4.8 15h.7m-6.2 -16h.7m9.8 -4h.7m15.8 4h.7m-29.2 5.5h.7m12.3 -14h.7m-17.7 16.5h.7m22.8 -9.5h.7m5.3 0h.7m5.3 -11h.7m-40.2 2h.7m16.3 4h.7m-1.7 10h.7m-7.2 -1h.7m8.8 -6.5h.7m7.3 16h.7m-2.7 -39.5h.7m-3.2 13.5h.7m-5.7 27.5h.7m10.3 -8.5h.7m-8.7 -5h.7m0.3 -17h.7m-15.2 19h.7m12.8 -5h.7m-3.2 -22.5h.7m1.3 31h.7m-9.7 -12h.7m12.8 -3h.7m-7.2 10.5h.7m21.8 -28.5h.7m-41.7 -1h.7m12.8 44h.7m15.8 -33h.7m-16.7 22.5h.7m-0.7 27.5h.7m-9.2 -54.5h.7m20.8 -8h.7m-12.7 24h.7m3.8 -12h.7m-1.2 18h.7m-15.2 -5.5h.7m16.3 6.5h.7m-15.7 0.5h.7m13.8 34.5h.7m-10.2 -35h.7m2.3 10.5h.7m-0.2 -13h.7m7.8 -10.5h.7m-2.7 37h.7m-18.2 -24h.7m21.8 17h.7m16.3 -35h.7m-20.7 14h.7m-3.7 23h.7m-14.2 -26h.7m10.3 10.5h.7m-7.2 -6h.7m19.8 27h.7m-5.7 -38h.7m-0.7 11h.7m-10.2 27.5h.7m24.8 -37.5h.7m-24.2 20h.7m-8.7 -6h.7m-1.7 -28.5h.7m14.3 22.5h.7m-17.7 6h.7m8.8 -15h.7m7.8 18h.7m-6.7 -1.5h.7m11.8 -14h.7m-0.2 14h.7m0.8 22h.7m-15.7 -14h.7m4.3 -13h.7m2.3 19.5h.7m-6.2 -26h.7m-5.2 39h.7m-17.7 -50h.7m14.8 20.5h.7m-8.7 0.5h.7m18.8 11.5h.7m-11.7 -43h.7m10.8 3h.7m-19.2 57.5h.7m21.3 -61h.7m-13.7 24h.7m-4.7 10.5h.7m-0.2 -6.5h.7m6.8 10h.7m-2.7 -8.5h.7m-10.7 -20h.7m-15.7 13.5h.7m35.8 4.5h.7m-24.2 14h.7m13.3 17.5h.7m-14.7 -21.5h.7m1.3 -26.5h.7m14.3 31h.7m-1.2 -0.5h.7m-20.2 -19h.7m-0.7 -4.5h.7m11.3 25.5h.7m3.3 -15.5h.7m-3.7 -13h.7m23.8 22.5h.7m-22.7 -6h.7m3.8 9h.7m-15.7 -20.5h.7m0.3 7.5h.7m18.8 27h.7m-6.7 9.5h.7m-23.7 0h.7m7.8 -12h.7m14.8 -22h.7m5.3 -13.5h.7m-20.7 12.5h.7m-6.2 -29h.7m4.3 20h.7m-5.2 -13h.7m4.3 23h.7m4.8 -16.5h.7m13.8 19.5h.7m-38.7 -32h.7m19.8 40.5h.7m9.8 -38h.7m4.3 -4h.7m-17.7 14.5h.7m-22.7 11.5h.7m40.3 1h.7m-2.2 -18.5h.7m-27.2 21h.7m3.8 -4.5h.7m29.3 -7.5h.7m-21.2 15.5h.7m1.8 -28.5h.7m-9.7 15.5h.7m26.8 -1.5h.7m-10.7 20.5h.7m2.8 9.5h.7m-31.2 -33.5h.7m9.8 15h.7m0.3 19h.7m9.3 -38h.7m-12.2 9h.7m-7.7 31h.7m10.8 -12.5h.7m-0.2 -11.5h.7m-1.2 8.5h.7m-6.2 -8h.7m11.8 -23h.7m-6.7 5h.7m8.3 5h.7m-18.2 -10h.7m18.8 53h.7m-14.2 -11h.7m15.3 -6.5h.7m-14.7 -4.5h.7m2.3 -7.5h.7m-0.2 -17.5h.7m2.8 34h.7m-17.7 17.5h.7m27.8 -29h.7m-18.7 21h.7m14.8 -20h.7m-14.2 -4.5h.7m-22.7 -17h.7m20.3 9.5h.7m-2.2 12.5h.7m20.3 5.5h.7m1.8 2h.7m-26.2 5.5h.7m-3.2 2h.7m-1.7 -17h.7m23.3 8h.7m-3.7 -8.5h.7m-14.2 -10.5h.7m6.8 9.5h.7m-10.2 -17.5h.7m9.8 33h.7m-5.7 -32.5h.7m-4.7 11h.7m-12.2 2h.7m-5.7 -12.5h.7m11.3 4.5h.7m5.3 -1.5h.7m-6.2 51h.7m15.8 -57h.7m-22.2 18h.7m5.8 3h.7m4.8 -5.5h.7m-16.7 -11.5h.7m29.3 -5.5h.7m-22.2 19h.7m3.3 6.5h.7m13.3 -12.5h.7m-25.2 27.5h.7m16.3 -19h.7m1.3 -17.5h.7m-14.2 -4.5h.7m-3.2 32.5h.7m5.3 -39h.7m10.8 25.5h.7m-24.2 -0.5h.7m1.8 5.5h.7m8.8 -2h.7m4.8 -30h.7m5.8 25.5h.7m-14.7 6.5h.7m-2.7 -4.5h.7m6.8 -12.5h.7m-1.2 9h.7m-2.7 15.5h.7m8.3 3.5h.7m-15.7 -31h.7m-1.2 -8.5h.7m-7.7 -5h.7m-0.2 38.5h.7m15.8 -32h.7m-28.7 3h.7m22.3 34h.7m-10.2 8.5h.7m15.8 -21h.7m-14.2 0h.7m0.8 19h.7m7.3 -50.5h.7m-3.2 24.5h.7m9.8 -23.5h.7m-0.7 37h.7m-8.7 -8.5h.7m-14.7 -13.5h.7m18.3 -5.5h.7m-0.2 23.5h.7m-10.7 -3.5h.7m10.3 -10h.7m-3.2 -8.5h.7m-4.2 -6.5h.7m-7.7 47.5h.7m-1.2 -11.5h.7m14.8 -28.5h.7m-7.2 10.5h.7m-17.7 2.5h.7m7.8 -7h.7m-22.7 2.5h.7m19.3 11.5h.7m-8.2 -32.5h.7m22.8 16h.7m-10.2 16h.7m7.3 20h.7m-15.2 -28h.7m11.3 2.5h.7m-3.2 -10h.7m-0.2 -0.5h.7m0.8 44h.7m-5.7 -14.5h.7m-1.2 -22.5h.7m9.3 17h.7m-18.2 -7h.7m10.8 -14.5h.7m-16.7 72h.7m6.3 -10h.7m-16.7 7.5h.7m14.3 -5h.7m0.3 -26.5h.7m-10.7 12.5h.7m2.8 -19h.7m3.8 -2.5h.7m-1.7 37.5h.7m0.3 -1h.7m-5.7 -21h.7m-1.7 -11.5h.7m10.3 2h.7m-10.2 21.5h.7m1.8 -13h.7m1.8 15h.7m-6.2 8h.7m-2.2 4h.7m-7.7 -33h.7m6.3 31.5h.7m0.3 -13h.7m5.8 -6.5h.7m-7.2 -13.5h.7m5.3 -3h.7m-1.2 26.5h.7m-4.7 -14h.7m-2.7 9h.7m-0.7 16.5h.7m2.8 -36h.7m-5.7 11h.7m6.8 17h.7m-7.2 -22.5h.7m2.8 1h.7m-2.2 9h.7m0.8 -3h.7m2.8 -18h.7m-3.2 31h.7m-4.2 1h.7m-0.7 6.5h.7m0.3 -18h.7m7.8 -5.5h.7m-3.2 20h.7m-3.2 -10h.7m-7.2 -15h.7m3.8 30h.7m-0.7 -32h.7m3.3 33h.7m-2.7 -10h.7m-3.2 4.5h.7m8.8 -14.5h.7m-13.2 -16.5h.7m12.8 8h.7m-10.2 21h.7m-1.2 -8h.7m0.3 -23h.7m-1.7 35h.7m3.3 -36h.7m-0.7 21h.7m-8.7 -7h.7m5.3 -10h.7m-2.7 24h.7m-1.2 2.5h.7m2.8 -3h.7m-6.7 -17.5h.7m0.8 4h.7m-5.2 4h.7m1.3 -3.5h.7m-2.7 -12h.7m0.3 26.5h.7m4.8 5h.7m3.8 -35h.7m-6.2 -2h.7m-1.7 39.5h.7m-0.2 -1h.7m1.3 -27.5h.7m-0.7 34h.7m-0.2 -29.5h.7m0.3 6.5h.7m-9.2 -13.5h.7m9.8 17h.7m-4.7 -9h.7m5.3 19.5h.7m0.3 -28.5h.7m-9.2 4.5h.7m0.3 30h.7m1.3 -16.5h.7m3.3 15.5h.7m-8.7 -10h.7m3.3 -15.5h.7m-6.7 12.5h.7m1.8 -1h.7m-0.7 4.5h.7m0.8 -25.5h.7m-3.7 19.5h.7m9.8 -12.5h.7m1.3 21h.7m-12.2 -10.5h.7m1.3 7h.7m-0.2 -14.5h.7m-0.7 0.5h.7m5.8 -6.5h.7m-9.7 34.5h.7m-0.2 -10.5h.7m-0.7 -25.5h.7m-1.2 14.5h.7m1.8 14.5h.7m1.3 5.5h.7m-1.2 -0.5h.7m-1.7 -23.5h.7m1.8 18h.7" stroke="#ff3030" stroke-width="0.8" fill="none" opacity="0.8"/>
<line x1="88.6" y1="854.3" x2="88.6" y2="949.2" stroke="#e84a4a" stroke-width="0.8"/>
<line x1="64.6" y1="910.8" x2="153.5" y2="910.8" stroke="#e84a4a" stroke-width="0.8"/>
<circle cx="88.6" cy="910.8" r="1.2" fill="none" stroke="#e84a4a" stroke-width="0.7"/>
<circle cx="131.3" cy="910.8" r="1.2" fill="none" stroke="#e84a4a" stroke-width="0.7"/>
<text x="90.6" y="907.8" font-size="3.2" font-weight="normal" fill="#e84a4a">R2</text>
<text x="66.6" y="859.8" font-size="5.1">82.77%</text>
<text x="151.5" y="859.8" font-size="5.1" text-anchor="end">13.69%</text>
<text x="66.6" y="947.2" font-size="5.1">2.29%</text>
<text x="151.5" y="947.2" font-size="5.1" text-anchor="end">1.25%</text>
<text x="109.1" y="959" font-size="4.1" text-anchor="middle" font-weight="normal" fill="#444">Red-R Fluorescence (RED-R-HLog)</text>
<text x="58.5" y="901.7" font-size="4.1" text-anchor="middle" font-weight="normal" fill="#444" transform="rotate(-90 58.5 901.7)">Green-B Fluorescence (GRN-B-HLog)</text>
<text x="64.6" y="953.7" font-size="3" text-anchor="middle" font-weight="normal" fill="#444">10</text>
<text x="82.4" y="953.7" font-size="3" text-anchor="middle" font-weight="normal" fill="#444">10</text>
<text x="100.2" y="953.7" font-size="3" text-anchor="middle" font-weight="normal" fill="#444">10</text>
<text x="117.9" y="953.7" font-size="3" text-anchor="middle" font-weight="normal" fill="#444">10</text>
<text x="135.7" y="953.7" font-size="3" text-anchor="middle" font-weight="normal" fill="#444">10</text>
<text x="153.5" y="953.7" font-size="3" text-anchor="middle" font-weight="normal" fill="#444">10</text>
<rect x="173.3" y="729.8" width="110.5" height="111" fill="#fff" stroke="#999" stroke-width="0.9"/>
<rect x="183.6" y="734.8" width="89" height="94.9" fill="none" stroke="#555" stroke-width="0.7"/>
<text x="184.4" y="734.1" font-size="4.1" font-weight="normal" fill="#444">Plot P02, gated on P01.R1</text>
<g filter="url(#soft)"><ellipse cx="200.9" cy="753.8" rx="6.7" ry="17.6" fill="#ff0000"/><ellipse cx="200.9" cy="757.6" rx="7.1" ry="19.9" fill="#ff2020" opacity="0.3"/></g>
<path d="M194.5 759h.7m10.8 -12.5h.7m-12.7 6.5h.7m8.8 16.5h.7m0.3 -9h.7m3.8 7.5h.7m-9.2 -18h.7m13.3 -0.5h.7m-18.7 -12h.7m4.3 18.5h.7m-3.2 -3h.7m2.8 10.5h.7m3.8 -6.5h.7m-16.2 7h.7m1.3 -12.5h.7m-1.2 2.5h.7m3.3 3h.7m20.8 -4h.7m-19.7 10h.7m0.3 -4h.7m0.3 -19.5h.7m1.8 2.5h.7m6.3 4.5h.7m-7.2 7.5h.7m0.8 -9h.7m-0.2 7h.7m0.3 10.5h.7m-6.7 -20h.7m2.8 18h.7m3.8 -12h.7m-6.2 12.5h.7m-2.2 -4.5h.7m-1.2 -11h.7m-7.2 2.5h.7m7.8 27.5h.7m1.3 -6.5h.7m-1.7 -5.5h.7m-3.7 1.5h.7m7.8 -16h.7m-14.2 32.5h.7m4.3 -14h.7m2.8 -30h.7m7.8 41.5h.7m-12.7 -14.5h.7m-1.2 -23.5h.7m-1.7 18h.7m5.8 5h.7m-6.7 9h.7m-4.7 -8h.7m9.3 -15.5h.7m-16.2 -8.5h.7m9.8 20.5h.7m6.3 -22h.7m-8.7 23.5h.7m3.3 23.5h.7m0.8 -46h.7m-8.7 16.5h.7m14.8 5.5h.7m-13.2 13.5h.7m-1.7 4.5h.7m-3.7 -33.5h.7m6.8 27h.7m-1.2 -16h.7m-14.2 -14.5h.7m5.8 2.5h.7m5.8 3h.7m0.3 6h.7m-6.7 0.5h.7m3.3 10.5h.7m-5.2 -15.5h.7m-5.7 26h.7m14.3 -25.5h.7m-10.7 -15h.7m2.8 20.5h.7m9.8 1h.7m-4.7 -1h.7m-16.7 0h.7m-0.7 47h.7m13.8 -41.5h.7m-11.7 9h.7m12.8 -34h.7m-17.7 29.5h.7m12.3 -27h.7m-9.2 4.5h.7m-3.2 0h.7m12.3 19.5h.7m3.8 -11h.7m-12.7 -12.5h.7m-9.2 23.5h.7m16.3 2h.7m-1.2 -8h.7m-11.7 -2.5h.7m1.3 -17h.7m1.3 18h.7m-3.2 18h.7m2.8 -12h.7m4.8 -20h.7m-17.7 22.5h.7m5.8 8h.7m4.8 -4.5h.7m1.8 -24h.7m-8.7 3.5h.7m7.3 19h.7m-5.2 -4h.7m-4.2 -5h.7m4.3 10.5h.7m-6.2 -26h.7m-0.2 36.5h.7m8.8 -26.5h.7m-5.2 3.5h.7m-0.7 -4.5h.7m-3.7 -15h.7m-2.2 41.5h.7m5.8 -23h.7m-4.7 0h.7m2.3 -10h.7m-1.7 12.5h.7m-5.7 -14.5h.7m-2.2 -4h.7m3.3 6.5h.7m-2.7 10h.7m8.8 0h.7m-7.7 -10h.7m-0.7 22h.7m-1.7 -29.5h.7m-5.7 0.5h.7m-1.2 31.5h.7m8.8 -19h.7m4.8 -6h.7m-4.2 20.5h.7m-9.7 1.5h.7m11.3 -30h.7m-2.2 12h.7m-8.2 -2.5h.7m-4.2 -10h.7m7.3 47.5h.7m11.3 -34.5h.7m-24.7 -1h.7m3.8 34h.7m7.3 -38.5h.7m1.3 18h.7m-14.7 -15.5h.7m6.8 8h.7m1.3 -5h.7m-0.2 -3.5h.7m-5.7 61h.7m8.3 -22.5h.7m-14.7 -13h.7m16.8 -23.5h.7m1.3 19h.7m-5.7 5.5h.7m-2.2 28h.7m-5.2 7.5h.7m-3.2 -52.5h.7m9.8 -2.5h.7m-8.2 41h.7m10.3 -56h.7m-5.7 76.5h.7m4.3 -44.5h.7m-13.2 -1h.7m-4.7 0.5h.7m6.3 2.5h.7m8.8 -1.5h.7m-19.7 26.5h.7m2.3 -31h.7m5.8 2h.7m-6.7 2h.7m21.8 -7.5h.7m-17.2 36h.7m5.8 -7.5h.7m-12.2 -13h.7m8.8 24h.7m-0.7 -32h.7m-3.7 0.5h.7m0.8 18.5h.7m-5.2 -31h.7m-4.2 40h.7m14.3 -2h.7m-3.7 -3.5h.7m-6.7 -3.5h.7m-8.2 -18h.7m1.8 19.5h.7m0.3 -17.5h.7m6.3 30.5h.7m-9.2 -48h.7m10.8 -3.5h.7m-3.2 11.5h.7m-4.7 -26.5h.7m4.8 27.5h.7m-12.2 54h.7m8.8 -50.5h.7m-2.7 40.5h.7m-1.7 -24h.7m3.3 -28.5h.7m-3.7 8.5h.7m-10.7 29h.7m13.3 -17h.7m-2.2 -3.5h.7m-16.2 1h.7m0.8 0.5h.7m10.8 8h.7m-0.2 -4h.7m-10.2 -11.5h.7m3.8 3h.7m4.8 18h.7m0.3 -17h.7m12.8 23.5h.7m-28.7 -11h.7m7.3 12.5h.7m-4.7 -23h.7m5.8 0h.7m-3.7 -36h.7m6.8 59h.7m-4.7 -42h.7m1.3 33h.7m-3.2 -12h.7m10.3 -23h.7m-15.7 7.5h.7m-2.2 1h.7m18.8 10.5h.7m-14.2 50h.7m-0.7 -82h.7m2.8 16.5h.7m8.3 -6.5h.7m-16.7 -7.5h.7m4.3 12.5h.7m-2.2 13.5h.7m-4.7 27.5h.7m10.3 -18.5h.7m-13.7 -23.5h.7m7.8 72h.7m-5.7 -66h.7m-2.7 -6.5h.7m-2.7 18.5h.7m16.8 4h.7m-14.7 -33.5h.7m4.3 33h.7m-10.7 -22h.7m7.8 44h.7m3.8 -17h.7m-7.2 2.5h.7m1.3 38.5h.7m-8.7 -53h.7m16.3 2h.7m0.3 4.5h.7m-9.7 -6.5h.7m-11.2 -12.5h.7m24.8 33.5h.7m-12.2 6.5h.7m-1.2 1.5h.7m-6.7 -26h.7m8.3 -2.5h.7m-17.2 2.5h.7m4.8 17.5h.7m-1.7 -35h.7m1.8 54.5h.7m1.3 -29h.7m-0.2 3h.7m5.8 23h.7m-18.7 -1h.7m10.8 -35h.7m16.3 3h.7m-3.7 24h.7m-21.7 -10h.7m11.8 -13h.7m-22.7 -4.5h.7m14.3 -16h.7m13.8 18h.7m-16.2 -1h.7m-3.7 -10h.7m5.8 22.5h.7m-5.2 -8h.7m-7.2 12.5h.7m4.3 -6.5h.7m-2.2 -15h.7m7.3 -14.5h.7m15.3 24.5h.7m-18.7 -14.5h.7m11.3 44h.7m-10.2 -57.5h.7m-6.2 41.5h.7m-0.7 -37.5h.7m-5.7 8.5h.7m7.8 2.5h.7m11.8 -8h.7m-10.7 23.5h.7m-4.2 20h.7m-2.2 -28.5h.7m-0.7 4.5h.7m10.8 18.5h.7m-19.2 -25.5h.7m3.3 26h.7m6.3 1.5h.7m1.3 -13.5h.7m-0.7 -32h.7m-3.7 13h.7m-6.2 21.5h.7m6.8 -26h.7m-7.2 42h.7m-2.7 -14.5h.7m17.3 15.5h.7m-10.2 -20h.7m-10.7 -14h.7m4.3 -6.5h.7m2.3 8h.7m1.3 38h.7m-1.7 10.5h.7m-2.2 -1h.7m-2.7 -15.5h.7m1.8 16.5h.7m-4.2 -0.5h.7m2.3 -6.5h.7m5.8 16h.7m-13.7 -22h.7m5.3 -5.5h.7m-5.2 4h.7m10.3 -7h.7m-11.7 5h.7m0.3 1.5h.7m4.3 0h.7m-1.7 18.5h.7m2.3 -11.5h.7m-2.7 -16.5h.7m-7.7 26h.7m5.8 -33h.7m-5.2 22h.7m-3.2 20.5h.7m2.8 -14h.7m1.3 -5h.7m-2.7 11h.7m1.8 -2.5h.7m-1.2 7.5h.7m3.3 -34h.7m-2.7 27h.7m-5.2 -23.5h.7m-1.2 24.5h.7m-5.2 -17h.7m5.3 -2.5h.7m5.8 7h.7m-7.7 2h.7m-0.7 17.5h.7m-5.7 -23h.7m8.3 20h.7m-8.7 -2h.7m8.8 7h.7m-12.2 -14.5h.7m0.3 7h.7m4.8 -17h.7m-1.7 14.5h.7m2.3 11.5h.7m-3.7 -36h.7m2.8 10h.7m-5.2 -16.5h.7m12.3 11.5h.7m-6.7 21h.7m-1.2 -27h.7m-0.2 18.5h.7m-3.2 14.5h.7m-0.7 -33h.7m-2.2 1.5h.7m-0.2 17.5h.7m4.8 -17h.7m-5.7 -2.5h.7m1.3 26.5h.7m-5.7 3h.7m5.8 -15.5h.7m-5.7 20h.7m7.8 -26h.7m-18.7 6h.7m6.3 -11.5h.7m11.3 26h.7m-6.7 -19h.7m-8.7 -5h.7m3.3 33h.7m-1.7 -45h.7m-1.2 21h.7m-3.2 11h.7m9.3 -4.5h.7m-4.7 -13h.7m0.3 -3h.7m0.3 17h.7m-7.2 16.5h.7m2.3 -38.5h.7m4.3 28.5h.7m1.8 3h.7m-7.7 -1h.7m1.8 -4.5h.7m-1.7 -28.5h.7m-6.7 39h.7m4.3 -16.5h.7m0.8 9h.7m-5.7 -17h.7m3.8 19h.7m-3.2 -28.5h.7m-4.7 -2h.7m2.8 30.5h.7m-0.7 -34.5h.7m3.8 10.5h.7m-10.2 2.5h.7m6.8 15h.7m1.3 -10.5h.7m-1.2 23h.7m-0.7 -43h.7m-8.7 16.5h.7m3.8 8.5h.7m-2.7 -5h.7m14.3 15.5h.7m-12.2 -27h.7m-3.7 8h.7m-0.7 7.5h.7m0.3 -7h.7m4.3 12.5h.7m-4.7 3h.7m2.3 -18.5h.7m1.3 18h.7m-7.2 -17.5h.7" stroke="#ff3030" stroke-width="0.8" fill="none" opacity="0.8"/>
<line x1="207.6" y1="734.8" x2="207.6" y2="829.7" stroke="#e84a4a" stroke-width="0.8"/>
<line x1="183.6" y1="791.3" x2="272.5" y2="791.3" stroke="#e84a4a" stroke-width="0.8"/>
<circle cx="207.6" cy="791.3" r="1.2" fill="none" stroke="#e84a4a" stroke-width="0.7"/>
<circle cx="250.3" cy="791.3" r="1.2" fill="none" stroke="#e84a4a" stroke-width="0.7"/>
<text x="209.6" y="788.3" font-size="3.2" font-weight="normal" fill="#e84a4a">R2</text>
<text x="185.6" y="740.3" font-size="5.1">90.11%</text>
<text x="270.5" y="740.3" font-size="5.1" text-anchor="end">3.44%</text>
<text x="185.6" y="827.7" font-size="5.1">5.84%</text>
<text x="270.5" y="827.7" font-size="5.1" text-anchor="end">0.61%</text>
<text x="228.1" y="839.5" font-size="4.1" text-anchor="middle" font-weight="normal" fill="#444">Red-R Fluorescence (RED-R-HLog)</text>
<text x="177.5" y="782.2" font-size="4.1" text-anchor="middle" font-weight="normal" fill="#444" transform="rotate(-90 177.5 782.2)">Green-B Fluorescence (GRN-B-HLog)</text>
<text x="183.6" y="834.2" font-size="3" text-anchor="middle" font-weight="normal" fill="#444">10</text>
<text x="201.4" y="834.2" font-size="3" text-anchor="middle" font-weight="normal" fill="#444">10</text>
<text x="219.2" y="834.2" font-size="3" text-anchor="middle" font-weight="normal" fill="#444">10</text>
<text x="236.9" y="834.2" font-size="3" text-anchor="middle" font-weight="normal" fill="#444">10</text>
<text x="254.7" y="834.2" font-size="3" text-anchor="middle" font-weight="normal" fill="#444">10</text>
<text x="272.5" y="834.2" font-size="3" text-anchor="middle" font-weight="normal" fill="#444">10</text>
<rect x="173.3" y="849.3" width="110.5" height="111" fill="#fff" stroke="#999" stroke-width="0.9"/>
<rect x="183.6" y="854.3" width="89" height="94.9" fill="none" stroke="#555" stroke-width="0.7"/>
<text x="184.4" y="853.6" font-size="4.1" font-weight="normal" fill="#444">Plot P02, gated on P01.R1</text>
<g filter="url(#soft)"><ellipse cx="200.9" cy="873.3" rx="6.7" ry="17.6" fill="#ff0000"/><ellipse cx="205.4" cy="877.1" rx="9.8" ry="19.9" fill="#ff2020" opacity="0.3"/></g>
<path d="M205 892h.7m-8.7 -31h.7m5.3 37h.7m-0.7 -40.5h.7m-6.7 15.5h.7m8.3 0.5h.7m-7.7 -3h.7m2.3 -7h.7m-1.7 14h.7m7.8 -4.5h.7m-4.2 -13.5h.7m-1.2 16.5h.7m-7.7 -2.5h.7m6.8 -4.5h.7m-0.2 26h.7m2.3 1.5h.7m-15.7 -18h.7m2.3 8.5h.7m3.3 -10h.7m1.3 -11.5h.7m-2.7 -2h.7m9.8 4h.7m-19.2 -5.5h.7m11.3 22.5h.7m-3.7 -19.5h.7m7.8 -5.5h.7m-15.2 21h.7m-1.2 -3h.7m9.3 -4.5h.7m-3.2 1.5h.7m-9.7 -1h.7m-2.7 -7.5h.7m8.8 26.5h.7m-8.7 -26h.7m7.8 14.5h.7m-9.2 19h.7m2.3 -11h.7m2.3 -9.5h.7m9.3 4h.7m-8.7 -24h.7m-15.2 37.5h.7m19.8 -28.5h.7m-3.2 -6.5h.7m-8.2 19h.7m4.3 -13.5h.7m5.8 16.5h.7m-8.2 -27h.7m-0.7 12.5h.7m-2.2 15.5h.7m-3.2 -7.5h.7m6.8 1h.7m-5.2 -21.5h.7m-1.2 52h.7m-8.7 -39.5h.7m11.3 5.5h.7m0.8 -15h.7m-12.2 21.5h.7m8.3 -18h.7m-7.7 7.5h.7m3.8 0h.7m6.3 5h.7m-11.2 -8.5h.7m-8.7 26h.7m13.3 -24.5h.7m-1.2 8h.7m2.8 -1.5h.7m0.3 20h.7m-8.7 -28.5h.7m-3.7 3h.7m-0.2 3.5h.7m4.8 7.5h.7m-8.2 8h.7m3.8 -17h.7m6.8 2h.7m1.8 8.5h.7m-5.7 11h.7m-4.2 2h.7m-1.2 -18.5h.7m-3.7 4h.7m6.3 -14.5h.7m-11.2 6.5h.7m8.3 -2h.7m-7.7 -8h.7m1.3 31h.7m-4.7 -23.5h.7m15.3 13h.7m-4.7 -12h.7m-12.7 42.5h.7m7.8 -37h.7m6.3 8h.7m-8.7 -27h.7m-2.2 13.5h.7m-3.2 -10.5h.7m-2.7 10.5h.7m1.8 7.5h.7m7.8 -1h.7m-6.2 17.5h.7m-4.7 -19.5h.7m-1.2 8h.7m8.8 -2.5h.7m-14.2 -7h.7m14.8 -17h.7m-14.2 -1.5h.7m6.3 49h.7m-6.7 -19h.7m5.3 -13h.7m-3.2 11.5h.7m-1.2 -6h.7m-0.2 -7h.7m-2.7 34h.7m2.8 -48h.7m10.3 38h.7m-12.2 -31.5h.7m-3.7 27h.7m1.3 -28h.7m5.8 6.5h.7m-5.7 31.5h.7m4.3 -10h.7m-3.2 0.5h.7m-3.7 -4.5h.7m5.8 -19.5h.7m-13.2 13.5h.7m5.8 1h.7m-3.7 -1h.7m7.8 26h.7m3.8 -28h.7m-2.7 -14.5h.7m-2.2 11h.7m0.3 2.5h.7m-9.2 -15h.7m7.3 11h.7m-3.7 6h.7m-15.2 2h.7m8.3 -3h.7m-0.2 -6.5h.7m2.8 14h.7m-6.2 -16.5h.7m12.8 -10h.7m-3.7 15.5h.7m2.3 12.5h.7m-10.2 -10h.7m14.8 -21h.7m-14.2 9h.7m10.3 -1.5h.7m-4.7 34h.7m-3.7 8h.7m6.3 -30.5h.7m7.3 14h.7m-14.2 -20h.7m1.3 17.5h.7m10.8 -1.5h.7m-17.7 -30h.7m7.8 32.5h.7m7.8 -17.5h.7m-24.2 25.5h.7m10.3 -38.5h.7m17.3 39.5h.7m-16.7 -11.5h.7m-8.2 13.5h.7m2.3 -27h.7m0.3 -13h.7m12.3 53h.7m-13.7 -43.5h.7m-18.7 3.5h.7m29.8 5h.7m11.3 -12.5h.7m-21.7 13h.7m-9.2 24h.7m-5.2 -41h.7m8.3 11h.7m13.8 -1h.7m-6.7 1h.7m6.8 8.5h.7m-6.2 -11.5h.7m1.3 21.5h.7m-4.2 11.5h.7m-2.2 -37.5h.7m-3.2 19.5h.7m-13.7 8.5h.7m25.3 -7h.7m-14.2 4h.7m9.3 -19h.7m-2.2 -3.5h.7m-4.7 23.5h.7m-18.7 3h.7m7.3 -24.5h.7m-4.7 19.5h.7m0.3 -6.5h.7m-3.7 -6h.7m27.8 12.5h.7m-33.7 -25.5h.7m23.8 17h.7m-10.7 2h.7m-6.7 -22.5h.7m8.3 34h.7m-6.2 -12h.7m-10.2 25h.7m0.8 -25.5h.7m-0.2 17h.7m-2.2 -34h.7m22.3 -7h.7m-16.7 34h.7m10.3 -15.5h.7m0.8 13h.7m-11.7 -15.5h.7m6.8 -5h.7m-8.2 -1.5h.7m4.3 27h.7m-17.7 -12h.7m17.8 27.5h.7m-10.7 -4.5h.7m2.3 -14.5h.7m5.3 -4h.7m-5.7 -23.5h.7m16.8 45.5h.7m-16.2 -30.5h.7m-1.7 -22h.7m-9.2 33h.7m19.3 -12h.7m-19.2 -16h.7m2.3 33.5h.7m-5.7 -7h.7m13.3 27h.7m10.3 -29.5h.7m-21.2 0h.7m-5.2 -16.5h.7m20.3 24.5h.7m-1.7 17.5h.7m-13.7 -14h.7m4.3 -9.5h.7m0.8 4.5h.7m-2.2 -1h.7m-6.2 -11h.7m-9.7 20h.7m17.3 10h.7m-9.2 -30h.7m3.8 27.5h.7m4.3 -18.5h.7m-22.2 -23.5h.7m1.3 13h.7m21.8 4.5h.7m-18.2 37h.7m-2.2 -12h.7m21.3 -21.5h.7m0.8 -25h.7m-19.2 14.5h.7m8.3 2.5h.7m12.3 -4h.7m-19.2 -15.5h.7m5.8 37.5h.7m-12.7 -38.5h.7m-6.7 45.5h.7m20.3 -16.5h.7m-0.7 4h.7m-3.2 4h.7m5.3 5h.7m-18.2 -13.5h.7m-7.7 22.5h.7m-0.7 -14h.7m5.3 -28.5h.7m-1.7 9h.7m11.3 27.5h.7m-7.2 -5h.7m10.8 22.5h.7m-14.7 -33h.7m11.8 -3h.7m-1.7 -15.5h.7m-10.2 1h.7m-3.2 -5h.7m4.3 -6.5h.7m-5.2 34h.7m-10.2 -30.5h.7m10.3 -0.5h.7m-6.2 55.5h.7m11.8 -44h.7m1.8 -1h.7m2.8 9.5h.7m-29.2 36h.7m23.8 -19h.7m-11.2 -27.5h.7m2.8 44.5h.7m-10.7 -54h.7m25.8 -1.5h.7m-3.7 19h.7m-15.7 -19h.7m16.8 16.5h.7m-27.7 17h.7m10.8 -2h.7m-3.2 -3h.7m7.8 -6.5h.7m-21.2 9h.7m28.8 -1h.7m-5.2 6.5h.7m-12.7 5h.7m-0.2 -38.5h.7m-10.2 38h.7m18.3 -7.5h.7m-0.2 -13.5h.7m-14.2 -10h.7m11.3 25h.7m1.8 -20h.7m-12.2 39.5h.7m11.3 -32h.7m-5.2 14.5h.7m-4.7 -11h.7m0.8 -15h.7m-13.7 0h.7m6.3 3h.7m3.8 -0.5h.7m6.3 1.5h.7m-8.2 20h.7m-14.2 7.5h.7m22.8 -45.5h.7m-11.7 11h.7m-3.2 28.5h.7m-15.2 1h.7m21.3 -16h.7m16.8 -9h.7m-36.7 16.5h.7m15.3 -19h.7m11.3 27h.7m-35.7 -11.5h.7m27.3 17h.7m5.8 3h.7m-14.2 -28.5h.7m-2.2 14.5h.7m-7.7 -30h.7m30.8 38h.7m-12.7 -22h.7m-19.2 -3.5h.7m-0.2 -4h.7m-8.2 23.5h.7m17.8 3h.7m-3.7 -28h.7m18.3 31h.7m-14.7 -1h.7m-9.2 -3h.7m-4.7 5h.7m15.3 -3h.7m-5.7 -13h.7m-2.7 11h.7m-7.2 -0.5h.7m11.3 -37h.7m-24.7 29.5h.7m12.8 -21h.7m-9.7 -5.5h.7m-4.7 14h.7m14.3 35h.7m12.3 -31.5h.7m-9.2 -1.5h.7m-5.2 -10h.7m0.3 -5h.7m-7.7 16.5h.7m5.3 41.5h.7m-8.2 -59h.7m13.8 31.5h.7m-0.2 -13h.7m-21.7 -4.5h.7m1.3 5.5h.7m28.8 -5h.7m-16.7 26.5h.7m-14.7 -6h.7m8.8 -27.5h.7m-0.7 -5.5h.7m10.8 20.5h.7m-13.2 7h.7m16.3 -20h.7m-6.2 -6h.7m-25.2 -3.5h.7m25.3 27.5h.7m-15.2 5.5h.7m2.3 -9.5h.7m2.8 9.5h.7m-10.2 17h.7m10.8 3h.7m2.8 -9.5h.7m14.3 1.5h.7m-15.2 -42h.7m1.3 -2h.7m-4.2 36.5h.7m-0.7 -36h.7m0.3 22.5h.7m-1.7 20h.7m-12.2 -39.5h.7m-14.7 44h.7m11.8 -4h.7m10.8 -2h.7m-2.2 -13h.7m-5.2 -0.5h.7m-8.7 10.5h.7m-6.7 -29h.7m11.8 11.5h.7m1.8 -20h.7m-6.2 16.5h.7m-0.7 19.5h.7m4.3 -9h.7m-10.2 8.5h.7m23.8 -39.5h.7m-25.7 37.5h.7m27.8 -3.5h.7m-19.2 -25.5h.7m-6.2 17h.7m9.8 -22h.7m-1.7 1h.7m-15.7 56.5h.7m17.8 -45h.7m-17.2 32.5h.7m10.8 -41h.7m-24.7 31.5h.7m29.3 -8h.7m3.3 -15h.7m-14.7 19h.7m1.8 21h.7m8.3 -15h.7m-2.7 -23.5h.7m-14.7 -11.5h.7m18.8 12h.7m-33.2 7h.7m20.3 -13h.7m2.8 -7h.7m20.3 8.5h.7m-35.2 10h.7m10.3 14.5h.7m-0.2 -4h.7m-2.7 -17h.7m-10.7 -9h.7m8.8 -9.5h.7m7.3 17.5h.7m3.3 20.5h.7m-15.2 42.5h.7m16.3 -70h.7m-10.2 1.5h.7m-14.2 14h.7m3.8 13.5h.7m-9.7 -11.5h.7m25.3 0h.7m5.3 32.5h.7m-31.2 -44h.7m5.8 35h.7m-1.2 -34.5h.7m-4.7 62h.7m-0.7 -20h.7m-0.2 13.5h.7m-2.7 -19.5h.7m4.8 31h.7m-3.2 -21h.7m-8.2 26.5h.7m5.3 -32.5h.7m-2.2 24.5h.7m-4.7 -20.5h.7m-1.2 -4.5h.7m7.3 11h.7m-7.2 -11h.7m-1.2 19h.7m5.8 -8.5h.7m0.8 7.5h.7m-9.2 -22h.7m-1.7 17h.7m3.3 17.5h.7m2.8 -35h.7m-1.2 22.5h.7m0.8 0.5h.7m-0.2 -1h.7m6.3 -19.5h.7m-2.2 5h.7m-10.7 25h.7m4.8 -20h.7m-0.7 24h.7m-4.7 -34h.7m4.3 28h.7m-1.2 -22h.7m3.3 9.5h.7m-5.7 -0.5h.7m-5.2 4.5h.7m-2.2 0.5h.7m1.3 -15h.7m1.3 13.5h.7m-0.2 -1.5h.7m-0.7 4.5h.7m-3.7 -10h.7m-5.7 3h.7m5.3 -4h.7m-0.7 20h.7m-1.2 -16h.7m5.3 19h.7m-3.7 1.5h.7m-4.7 -1.5h.7m3.3 -30h.7m1.3 8.5h.7m-3.7 9.5h.7m2.3 2.5h.7m-2.2 -17.5h.7m0.3 4h.7m2.3 12h.7m-13.7 -8.5h.7m7.3 21h.7m1.3 -22h.7m-9.2 5.5h.7m3.8 12.5h.7m1.8 -3.5h.7m-1.2 -11.5h.7m-9.2 20h.7m-4.2 -41.5h.7m12.3 13.5h.7m-9.2 6.5h.7m2.8 12h.7m-1.7 0.5h.7m7.8 -9h.7m0.8 -27h.7m-5.7 13.5h.7m3.8 -6h.7m-1.2 25h.7m-2.7 -1h.7m-2.2 10.5h.7m3.3 -24h.7m-3.7 10h.7m-2.2 -24.5h.7m-1.2 36.5h.7m-6.2 -34h.7m4.8 25h.7m1.3 4h.7m-4.2 3.5h.7m5.8 -9.5h.7m-6.2 -13.5h.7m0.3 12.5h.7m-4.7 0h.7m9.8 -24h.7m-8.2 4h.7m-2.7 24.5h.7m4.8 -21h.7m-8.2 2h.7m1.8 15.5h.7m-9.2 -23.5h.7m14.3 35h.7m-8.2 -37h.7m-1.2 25.5h.7m3.8 3h.7m-5.2 -8h.7m9.3 -10h.7m-3.2 7.5h.7m-4.2 17h.7m-9.7 -22h.7m8.8 8.5h.7m-3.7 -5.5h.7m5.3 10h.7m-9.7 7h.7m1.8 -32h.7m5.3 11h.7m-2.2 -10h.7m3.3 36h.7" stroke="#ff3030" stroke-width="0.8" fill="none" opacity="0.8"/>
<line x1="207.6" y1="854.3" x2="207.6" y2="949.2" stroke="#e84a4a" stroke-width="0.8"/>
<line x1="183.6" y1="910.8" x2="272.5" y2="910.8" stroke="#e84a4a" stroke-width="0.8"/>
<circle cx="207.6" cy="910.8" r="1.2" fill="none" stroke="#e84a4a" stroke-width="0.7"/>
<circle cx="250.3" cy="910.8" r="1.2" fill="none" stroke="#e84a4a" stroke-width="0.7"/>
<text x="209.6" y="907.8" font-size="3.2" font-weight="normal" fill="#e84a4a">R2</text>
<text x="185.6" y="859.8" font-size="5.1">83.52%</text>
<text x="270.5" y="859.8" font-size="5.1" text-anchor="end">13.12%</text>
<text x="185.6" y="947.2" font-size="5.1">2.30%</text>
<text x="270.5" y="947.2" font-size="5.1" text-anchor="end">1.06%</text>
<text x="228.1" y="959" font-size="4.1" text-anchor="middle" font-weight="normal" fill="#444">Red-R Fluorescence (RED-R-HLog)</text>
<text x="177.5" y="901.7" font-size="4.1" text-anchor="middle" font-weight="normal" fill="#444" transform="rotate(-90 177.5 901.7)">Green-B Fluorescence (GRN-B-HLog)</text>
<text x="183.6" y="953.7" font-size="3" text-anchor="middle" font-weight="normal" fill="#444">10</text>
<text x="201.4" y="953.7" font-size="3" text-anchor="middle" font-weight="normal" fill="#444">10</text>
<text x="219.2" y="953.7" font-size="3" text-anchor="middle" font-weight="normal" fill="#444">10</text>
<text x="236.9" y="953.7" font-size="3" text-anchor="middle" font-weight="normal" fill="#444">10</text>
<text x="254.7" y="953.7" font-size="3" text-anchor="middle" font-weight="normal" fill="#444">10</text>
<text x="272.5" y="953.7" font-size="3" text-anchor="middle" font-weight="normal" fill="#444">10</text>
<rect x="291.7" y="729.8" width="110.5" height="111" fill="#fff" stroke="#999" stroke-width="0.9"/>
<rect x="302" y="734.8" width="89" height="94.9" fill="none" stroke="#555" stroke-width="0.7"/>
<text x="302.8" y="734.1" font-size="4.1" font-weight="normal" fill="#444">Plot P02, gated on P01.R1</text>
<g filter="url(#soft)"><ellipse cx="319.3" cy="753.8" rx="6.7" ry="17.6" fill="#ff0000"/><ellipse cx="319.3" cy="757.6" rx="7.1" ry="19.9" fill="#ff2020" opacity="0.3"/></g>
<path d="M311.5 757h.7m5.8 -10h.7m5.8 7.5h.7m-7.2 25h.7m-2.2 -43.5h.7m-5.2 10.5h.7m10.3 19.5h.7m1.8 14h.7m2.3 -16.5h.7m-2.7 0h.7m-10.7 2.5h.7m2.8 -14.5h.7m9.8 14h.7m-14.2 -12h.7m14.3 -2.5h.7m-9.2 12.5h.7m-1.7 -0.5h.7m-6.2 -15h.7m1.3 1.5h.7m4.3 27.5h.7m-9.7 -14.5h.7m-1.2 -18h.7m3.3 11.5h.7m7.8 -5.5h.7m-11.7 14h.7m5.8 -4h.7m-8.2 6h.7m5.8 -28.5h.7m6.8 20.5h.7m-16.2 2.5h.7m6.3 7.5h.7m-8.7 1h.7m11.3 -5h.7m-2.2 9h.7m-0.2 -17h.7m-9.2 14h.7m9.3 -11.5h.7m-5.2 6h.7m-15.2 -6h.7m-0.7 -1h.7m18.8 24h.7m-9.2 -21.5h.7m5.8 -6.5h.7m-4.2 -13h.7m-1.2 14.5h.7m6.3 3h.7m11.3 -10h.7m-21.2 5h.7m-3.7 23h.7m7.3 -40.5h.7m-3.7 35h.7m-8.7 -14.5h.7m5.8 31.5h.7m2.8 -39.5h.7m-6.2 33h.7m-0.2 6h.7m-6.7 -36h.7m6.8 -7h.7m-0.7 20h.7m7.8 11h.7m-11.7 -16.5h.7m-11.2 10.5h.7m6.3 -23h.7m18.3 -10.5h.7m-12.7 3h.7m-10.7 -1.5h.7m6.3 27.5h.7m10.3 -9h.7m-1.2 -16.5h.7m-17.7 9h.7m6.8 9.5h.7m-1.7 5.5h.7m9.8 -18.5h.7m-15.7 3.5h.7m11.3 17.5h.7m-7.2 -26h.7m1.3 28.5h.7m-4.7 4.5h.7m4.8 -14.5h.7m-5.7 15.5h.7m7.3 -25.5h.7m0.8 8.5h.7m-10.2 0h.7m0.3 -14.5h.7m1.8 24h.7m-0.2 -13.5h.7m-4.2 9.5h.7m3.8 5.5h.7m-0.2 17h.7m-11.2 -31.5h.7m10.8 14h.7m-11.7 -30.5h.7m7.3 32.5h.7m0.3 2h.7m-1.7 -32h.7m5.8 11h.7m-9.7 -8.5h.7m1.3 -0.5h.7m-5.2 12.5h.7m3.3 7h.7m1.3 10.5h.7m-1.7 -13.5h.7m0.8 -15h.7m4.3 3.5h.7m-15.7 26h.7m11.3 -26.5h.7m0.8 22.5h.7m-1.7 -31h.7m-3.7 2h.7m-5.2 7h.7m-1.7 15h.7m-0.2 2h.7m4.3 -18h.7m-0.7 19h.7m4.3 -14h.7m2.8 12h.7m-15.7 9.5h.7m3.8 -11h.7m2.8 21h.7m1.3 -26.5h.7m-2.2 -1h.7m0.3 18.5h.7m-5.7 -10.5h.7m1.8 2.5h.7m2.3 -26h.7m1.3 27.5h.7m-13.2 -16h.7m-2.7 -0.5h.7m9.3 -12.5h.7m-6.7 4.5h.7m-0.2 1h.7m-2.7 19.5h.7m3.8 -20h.7m5.8 3.5h.7m-1.2 -9.5h.7m1.8 11.5h.7m-13.2 12h.7m-2.7 -21h.7m7.8 8.5h.7m-0.2 9h.7m-1.2 -0.5h.7m1.8 -1.5h.7m1.3 13.5h.7m1.8 -20h.7m-8.2 4.5h.7m-0.2 33.5h.7m-6.2 -30.5h.7m6.3 -2.5h.7m-7.2 17h.7m5.3 13.5h.7m-14.7 -41h.7m25.3 29h.7m-6.7 -5h.7m-11.7 53.5h.7m-4.2 -63.5h.7m12.8 19.5h.7m-17.2 2.5h.7m16.3 -35h.7m-9.7 48.5h.7m-1.7 -16h.7m-2.7 -19.5h.7m2.3 29.5h.7m-4.7 7.5h.7m12.8 0h.7m4.3 -29h.7m-11.7 32h.7m8.8 -1.5h.7m-13.2 -30h.7m-6.7 1.5h.7m2.3 -1.5h.7m2.8 28h.7m8.3 -18.5h.7m-15.2 0h.7m10.8 19h.7m-2.7 -1h.7m-6.7 -3.5h.7m9.3 -21h.7m-11.2 33h.7m-2.7 -11h.7m4.8 -22h.7m-0.7 -2h.7m0.8 46.5h.7m9.8 -40h.7m-7.7 22h.7m-7.2 19.5h.7m2.8 -25.5h.7m-7.7 -36.5h.7m-1.2 10h.7m13.8 7h.7m-1.7 -2.5h.7m-13.7 12.5h.7m3.3 -38.5h.7m2.3 59.5h.7m-2.2 -49.5h.7m-4.7 -0.5h.7m2.8 5.5h.7m0.3 23.5h.7m9.3 -28h.7m-24.7 58.5h.7m17.3 -41.5h.7m-0.2 -12h.7m-6.7 33.5h.7m-0.7 -11.5h.7m4.8 0h.7m-5.7 8h.7m10.3 16h.7m-16.2 -10.5h.7m-8.2 -45.5h.7m15.8 40.5h.7m6.3 -47h.7m-2.7 24.5h.7m-11.7 20.5h.7m12.3 -29h.7m-22.7 7.5h.7m10.8 37.5h.7m2.8 -31.5h.7m-7.2 -3.5h.7m9.8 -25h.7m-12.2 16.5h.7m11.8 21h.7m-13.2 13h.7m17.8 5.5h.7m-23.7 -25.5h.7m16.8 -33.5h.7m-17.7 29h.7m11.8 -8.5h.7m-3.2 14h.7m0.3 -22h.7m-1.7 45.5h.7m1.3 -54h.7m-16.2 27.5h.7m4.8 -32h.7m1.8 21.5h.7m2.8 24.5h.7m1.3 -4h.7m1.8 -6h.7m-7.7 -5h.7m10.8 1h.7m-3.2 40.5h.7m-5.7 -14h.7m-4.7 -35.5h.7m-7.7 1h.7m9.3 -25.5h.7m-0.7 22h.7m-0.2 -5h.7m-0.7 26h.7m-6.2 -17.5h.7m11.3 27h.7m-13.2 -4h.7m-3.2 -20h.7m12.3 0.5h.7m-1.2 -3h.7m-2.7 10.5h.7m-10.2 46.5h.7m0.3 -71.5h.7m6.3 38h.7m0.8 -12.5h.7m0.3 22h.7m0.3 -48.5h.7m7.3 28.5h.7m-27.7 18h.7m12.8 -11.5h.7m14.3 -17h.7m-19.2 -9.5h.7m5.3 34h.7m0.8 -10h.7m-18.7 2h.7m22.3 -16h.7m-12.2 -10.5h.7m4.8 -11.5h.7m10.8 28.5h.7m-18.2 -21.5h.7m7.3 45.5h.7m-8.7 -16.5h.7m5.3 16.5h.7m1.8 5.5h.7m-8.7 -49h.7m-3.7 31.5h.7m11.3 42.5h.7m2.8 -66.5h.7m-12.2 6h.7m-2.2 6.5h.7m-1.2 28h.7m6.3 -11.5h.7m-4.2 -37h.7m3.3 16h.7m10.8 33.5h.7m-23.7 -46h.7m3.8 16h.7m11.3 1h.7m-5.2 -3h.7m-5.7 32h.7m0.8 15.5h.7m-0.7 -33h.7m2.3 6h.7m10.3 -28h.7m-18.2 -5.5h.7m15.8 29.5h.7m-10.2 -0.5h.7m-17.2 6.5h.7m13.3 -9.5h.7m-0.7 -8.5h.7m-2.2 -10h.7m-1.7 25h.7m-14.2 4.5h.7m18.8 -39.5h.7m-1.2 28.5h.7m-8.2 29h.7m4.3 -38h.7m-11.2 48h.7m9.8 -39h.7m-3.7 36.5h.7m-1.7 -30.5h.7m6.3 24.5h.7m-4.2 4h.7m1.3 6h.7m-16.2 -21.5h.7m14.3 25h.7m7.3 -38.5h.7m-20.7 7.5h.7m4.3 -0.5h.7m-5.7 23h.7m6.8 -31h.7m-0.2 -3.5h.7m0.3 30.5h.7m7.3 8.5h.7m-6.7 -7.5h.7m-6.2 -2h.7m0.8 10.5h.7m-1.7 -33h.7m-4.7 26.5h.7m7.3 4h.7m-4.2 -4.5h.7m3.8 -31h.7m-1.7 15.5h.7m-5.7 -3.5h.7m1.3 -8h.7m-2.2 -3h.7m5.3 41.5h.7m-0.2 -44.5h.7m-8.7 14h.7m3.8 1.5h.7m1.8 -3.5h.7m-1.2 -9.5h.7m2.8 30h.7m-0.2 12h.7m-4.7 -34.5h.7m-9.7 -5.5h.7m11.8 28h.7m-7.7 -26h.7m1.3 -3h.7m-6.7 6h.7m9.3 -5.5h.7m-7.2 -0.5h.7m0.3 18h.7m-4.2 -15.5h.7m5.3 13h.7m1.3 -11h.7m-2.2 -3h.7m-0.2 -2.5h.7m-5.2 30.5h.7m0.8 1.5h.7m-3.7 -27h.7m-7.2 11.5h.7m7.3 20h.7m1.3 -37.5h.7m4.3 43h.7m-7.2 -42h.7m8.3 32.5h.7m-15.2 -9h.7m2.8 12.5h.7m-1.7 -12.5h.7m-0.7 2.5h.7m1.8 -2h.7m6.8 -12h.7m-9.7 18h.7m2.3 -9h.7m3.8 9.5h.7m-3.7 -25h.7m-1.7 20h.7m0.8 12h.7m1.3 -21h.7m-4.2 -0.5h.7m3.8 1h.7m-3.2 -4h.7m1.8 29h.7m-12.2 -2.5h.7m5.8 2.5h.7m8.3 -40h.7m-8.7 38.5h.7m-1.2 -10.5h.7m-4.7 -7h.7m-2.7 -5h.7m6.3 9h.7m-2.7 -0.5h.7m-0.7 3h.7m2.8 -7.5h.7m-7.7 -18h.7m5.8 -4h.7m4.3 38h.7m-5.7 -12.5h.7m-0.7 -27h.7m-10.2 16h.7m8.3 -9.5h.7m6.3 -3h.7m-6.2 25.5h.7m-6.7 -5h.7m-1.2 6h.7m2.8 10.5h.7m1.3 -32.5h.7m-7.7 26h.7m3.8 3.5h.7m-0.7 -14h.7m-6.7 -20.5h.7m1.3 30h.7m1.3 -17h.7m3.8 20.5h.7m-0.7 -15h.7m-4.2 -12.5h.7m-1.2 2h.7m-1.7 30.5h.7m1.8 -27.5h.7" stroke="#ff3030" stroke-width="0.8" fill="none" opacity="0.8"/>
<line x1="326" y1="734.8" x2="326" y2="829.7" stroke="#e84a4a" stroke-width="0.8"/>
<line x1="302" y1="791.3" x2="390.9" y2="791.3" stroke="#e84a4a" stroke-width="0.8"/>
<circle cx="326" cy="791.3" r="1.2" fill="none" stroke="#e84a4a" stroke-width="0.7"/>
<circle cx="368.7" cy="791.3" r="1.2" fill="none" stroke="#e84a4a" stroke-width="0.7"/>
<text x="328" y="788.3" font-size="3.2" font-weight="normal" fill="#e84a4a">R2</text>
<text x="304" y="740.3" font-size="5.1">90.24%</text>
<text x="388.9" y="740.3" font-size="5.1" text-anchor="end">3.81%</text>
<text x="304" y="827.7" font-size="5.1">5.06%</text>
<text x="388.9" y="827.7" font-size="5.1" text-anchor="end">0.89%</text>
<text x="346.5" y="839.5" font-size="4.1" text-anchor="middle" font-weight="normal" fill="#444">Red-R Fluorescence (RED-R-HLog)</text>
<text x="295.9" y="782.2" font-size="4.1" text-anchor="middle" font-weight="normal" fill="#444" transform="rotate(-90 295.9 782.2)">Green-B Fluorescence (GRN-B-HLog)</text>
<text x="302" y="834.2" font-size="3" text-anchor="middle" font-weight="normal" fill="#444">10</text>
<text x="319.8" y="834.2" font-size="3" text-anchor="middle" font-weight="normal" fill="#444">10</text>
<text x="337.6" y="834.2" font-size="3" text-anchor="middle" font-weight="normal" fill="#444">10</text>
<text x="355.3" y="834.2" font-size="3" text-anchor="middle" font-weight="normal" fill="#444">10</text>
<text x="373.1" y="834.2" font-size="3" text-anchor="middle" font-weight="normal" fill="#444">10</text>
<text x="390.9" y="834.2" font-size="3" text-anchor="middle" font-weight="normal" fill="#444">10</text>
<rect x="291.7" y="849.3" width="110.5" height="111" fill="#fff" stroke="#999" stroke-width="0.9"/>
<rect x="302" y="854.3" width="89" height="94.9" fill="none" stroke="#555" stroke-width="0.7"/>
<text x="302.8" y="853.6" font-size="4.1" font-weight="normal" fill="#444">Plot P02, gated on P01.R1</text>
<g filter="url(#soft)"><ellipse cx="319.3" cy="873.3" rx="6.7" ry="17.6" fill="#ff0000"/><ellipse cx="323.8" cy="877.1" rx="9.8" ry="19.9" fill="#ff2020" opacity="0.3"/></g>
<path d="M322 871h.7m15.8 10h.7m-18.7 -1h.7m-4.7 -17.5h.7m5.3 4h.7m0.8 3.5h.7m-5.7 -1h.7m4.8 -8.5h.7m-7.2 21.5h.7m4.8 -24h.7m3.8 6h.7m-2.7 5h.7m-8.2 40h.7m-3.2 -13h.7m10.3 -28.5h.7m-2.2 26.5h.7m-8.7 -28.5h.7m7.3 13h.7m4.8 1.5h.7m-18.7 -7.5h.7m-1.2 12h.7m10.3 -17.5h.7m-9.7 19.5h.7m1.8 5h.7m-3.7 -22.5h.7m1.8 -11h.7m17.3 40.5h.7m-19.2 -13.5h.7m-7.2 7h.7m15.3 -24h.7m-8.7 9h.7m3.8 -9h.7m-8.2 1.5h.7m1.8 15.5h.7m2.3 -8h.7m-10.7 -9.5h.7m6.3 -2h.7m0.8 3.5h.7m-8.2 18.5h.7m12.8 -22h.7m-2.2 -6h.7m-11.2 11h.7m14.8 1.5h.7m-17.7 5h.7m4.3 -14h.7m8.8 12h.7m-10.2 -11.5h.7m6.3 29h.7m-8.2 -14.5h.7m16.8 5h.7m-16.2 -4h.7m1.8 5h.7m0.8 -17.5h.7m-3.2 13h.7m-4.2 -4.5h.7m-1.7 17.5h.7m13.3 -31.5h.7m-4.7 15.5h.7m-5.2 -6h.7m0.3 18.5h.7m-9.2 0h.7m4.8 -31.5h.7m0.8 26h.7m-1.2 -5h.7m-2.2 -12.5h.7m6.8 -6h.7m-0.7 19h.7m-7.7 -8.5h.7m-0.7 3h.7m0.8 -1.5h.7m1.3 -7.5h.7m-5.7 7h.7m-3.7 25.5h.7m5.3 -25.5h.7m-6.2 15.5h.7m8.8 9h.7m0.3 -34h.7m-12.7 32.5h.7m2.8 -22h.7m2.3 9h.7m2.8 -22.5h.7m-0.7 13h.7m-12.7 17.5h.7m8.3 -30.5h.7m-2.7 6.5h.7m1.8 11.5h.7m-4.2 3.5h.7m-11.7 -11.5h.7m16.8 19h.7m0.3 -29h.7m-14.2 10h.7m20.8 9h.7m-12.2 -10.5h.7m1.3 9.5h.7m-16.7 -4.5h.7m16.8 -7h.7m-11.7 -8.5h.7m-1.2 49h.7m14.3 -41h.7m-1.2 -6.5h.7m-11.2 4.5h.7m1.3 20.5h.7m11.3 1h.7m-12.2 -8h.7m-1.2 3h.7m-4.2 -2h.7m6.3 10h.7m-7.7 -7.5h.7m5.3 -18h.7m-13.2 4h.7m15.3 4h.7m6.8 12h.7m-17.2 -9.5h.7m5.8 8.5h.7m-4.7 -0.5h.7m16.8 6.5h.7m-15.7 -20h.7m-11.2 9.5h.7m6.8 -3.5h.7m-1.7 12h.7m8.3 -21.5h.7m-14.2 15h.7m14.3 1.5h.7m-11.2 2h.7m4.3 -8.5h.7m0.3 12.5h.7m-3.2 -22.5h.7m-8.7 13.5h.7m5.8 -6h.7m6.3 -7h.7m-8.2 19h.7m-2.2 2.5h.7m-1.2 -15.5h.7m-7.2 21h.7m-0.2 -27h.7m7.8 38h.7m0.8 -38.5h.7m-9.2 5.5h.7m0.8 -4.5h.7m5.8 27h.7m-6.7 2h.7m-5.2 8h.7m6.3 -33h.7m0.3 8.5h.7m1.3 -8h.7m-4.2 -3h.7m3.8 0h.7m-1.2 15h.7m-6.2 7h.7m15.3 -4.5h.7m-17.2 10h.7m28.3 25h.7m-19.2 -38h.7m12.8 11h.7m-14.2 -9h.7m15.3 9.5h.7m-11.2 9.5h.7m-14.7 -11.5h.7m7.8 -15.5h.7m13.8 40.5h.7m-4.2 -31h.7m10.8 12h.7m-38.7 -26h.7m14.8 -1.5h.7m-9.2 25.5h.7m15.8 21h.7m-5.2 -31h.7m-5.2 17h.7m19.3 12.5h.7m-3.2 -43h.7m1.3 -6h.7m-18.7 13.5h.7m25.8 -9.5h.7m-30.7 18h.7m20.3 6h.7m-6.7 -26.5h.7m-10.2 40h.7m4.3 -36.5h.7m-5.2 38h.7m19.8 -17.5h.7m-25.7 23.5h.7m1.3 -29.5h.7m9.8 -2h.7m-6.7 31h.7m-4.7 -6h.7m3.3 -44h.7m9.8 28.5h.7m-9.2 1.5h.7m-4.7 -7.5h.7m8.8 -14h.7m5.8 -9h.7m7.3 21h.7m-17.2 -24h.7m3.3 7h.7m-3.7 16h.7m-13.2 33h.7m8.8 -43h.7m-6.2 16h.7m3.3 10h.7m-6.7 -12h.7m0.3 -17.5h.7m11.8 -2h.7m-24.2 27.5h.7m10.3 -1.5h.7m9.3 -1h.7m-5.2 19.5h.7m-11.7 -7h.7m8.3 -16.5h.7m-3.7 10.5h.7m8.3 -24.5h.7m-4.7 17.5h.7m-2.7 37.5h.7m6.3 -54h.7m3.3 12.5h.7m-15.2 -11.5h.7m-11.2 21h.7m29.3 -16h.7m-27.2 1.5h.7m4.8 -3h.7m-2.2 0h.7m4.8 6.5h.7m2.8 0h.7m-9.7 -8.5h.7m-4.7 -4.5h.7m10.8 17.5h.7m-13.2 -26h.7m6.8 -4.5h.7m1.8 19h.7m-4.7 34h.7m1.8 -26h.7m-13.7 11h.7m19.8 -12h.7m-24.7 -4.5h.7m13.8 8.5h.7m5.3 -17.5h.7m-4.7 33h.7m-0.7 -11.5h.7m-0.7 -6h.7m0.3 25h.7m9.3 -34h.7m6.3 15.5h.7m1.8 -21h.7m-31.7 23.5h.7m14.8 -30h.7m-6.2 17.5h.7m-9.2 21h.7m-0.2 -22.5h.7m12.3 -10h.7m-8.7 25h.7m-8.7 -16h.7m30.3 -14.5h.7m-31.2 5h.7m2.8 -6h.7m2.3 26.5h.7m8.3 -30.5h.7m11.3 1h.7m0.8 9h.7m-23.7 0.5h.7m22.3 11h.7m-15.2 -8h.7m-3.7 -9h.7m-12.7 38.5h.7m5.3 -12.5h.7m14.3 -8.5h.7m-5.2 9h.7m-5.2 -13.5h.7m5.8 5h.7m-4.2 -27h.7m10.8 47h.7m-9.7 -18.5h.7m-22.7 -8.5h.7m11.3 38h.7m-5.7 8h.7m29.8 -46.5h.7m-14.7 25h.7m-19.7 -30h.7m15.8 33h.7m-3.7 -13h.7m-16.2 -1h.7m7.8 -16.5h.7m9.3 23.5h.7m-8.7 -8.5h.7m3.3 3.5h.7m-2.2 14.5h.7m-6.2 -46h.7m21.8 6h.7m-6.7 27h.7m-23.7 -19h.7m11.3 3.5h.7m-10.7 5.5h.7m15.8 -24.5h.7m-2.7 25h.7m-17.7 -5h.7m24.8 15h.7m-20.2 -28.5h.7m10.3 22h.7m7.3 -6h.7m-1.2 -14h.7m9.3 9h.7m-27.7 -7.5h.7m-9.2 -3.5h.7m13.8 23.5h.7m13.3 -25.5h.7m-18.7 29h.7m16.3 1.5h.7m-8.2 -36.5h.7m-10.2 45.5h.7m21.8 -29h.7m-10.2 31h.7m-0.2 -27.5h.7m-10.2 2.5h.7m6.8 -1.5h.7m-17.2 12.5h.7m5.8 -6.5h.7m-2.2 -5.5h.7m-9.2 2.5h.7m11.8 17.5h.7m-5.7 -37h.7m12.8 15h.7m-11.2 3.5h.7m1.3 -19h.7m8.8 0h.7m-6.7 13.5h.7m-8.7 -8.5h.7m9.3 5h.7m9.3 23h.7m-18.2 3h.7m-19.2 13h.7m9.8 -56.5h.7m4.8 30.5h.7m-13.7 -9h.7m28.3 -10.5h.7m4.8 -3.5h.7m-1.2 24.5h.7m-13.2 -12h.7m-11.7 24.5h.7m-2.7 -20h.7m17.8 9h.7m-1.2 -21h.7m-19.7 16h.7m10.3 16h.7m-18.2 -20.5h.7m22.3 -8.5h.7m-20.7 9h.7m25.3 -13.5h.7m-19.7 -5.5h.7m38.8 14.5h.7m-19.7 26.5h.7m-17.7 -11h.7m22.8 14.5h.7m-8.7 -39h.7m-16.7 14.5h.7m20.8 -14h.7m-9.2 35.5h.7m0.3 -22h.7m-14.7 13.5h.7m2.3 -6.5h.7m-2.2 -17h.7m-0.2 -9h.7m7.3 11h.7m-4.2 9h.7m12.8 18.5h.7m-10.7 -20.5h.7m-3.7 20.5h.7m11.3 -8h.7m-3.7 26.5h.7m-8.7 -48.5h.7m9.8 -11h.7m-7.7 0.5h.7m8.8 23h.7m-20.7 -1.5h.7m18.3 29h.7m-11.7 -32.5h.7m11.8 7h.7m-20.7 33.5h.7m-10.7 -30h.7m30.3 2.5h.7m-13.7 9.5h.7m-12.2 -17.5h.7m8.3 19h.7m4.3 -17h.7m6.8 23.5h.7m-24.2 23.5h.7m14.8 -57.5h.7m-16.2 14.5h.7m4.8 -27h.7m2.8 50h.7m2.8 -12.5h.7m5.8 -16h.7m-7.2 -12h.7m0.8 27.5h.7m-4.7 -15.5h.7m5.8 2h.7m0.8 -4.5h.7m-11.2 -19.5h.7m12.8 15h.7m4.8 -2.5h.7m-23.2 31.5h.7m6.3 6.5h.7m-2.2 -41.5h.7m9.3 27.5h.7m-16.7 -26.5h.7m2.3 2.5h.7m-7.7 -3h.7m21.3 22h.7m-3.2 5h.7m2.8 -15.5h.7m-7.2 19h.7m-17.7 -19h.7m11.3 -17h.7m-8.7 18h.7m11.3 23.5h.7m4.3 3h.7m-13.7 -22h.7m3.3 -10.5h.7m-5.2 30.5h.7m18.3 -23.5h.7m-40.2 -23h.7m16.8 53h.7m17.8 -36h.7m-4.2 11h.7m-8.7 -8.5h.7m-8.7 -16.5h.7m6.8 -1.5h.7m4.3 14.5h.7m-12.2 12h.7m-0.2 -13h.7m-2.2 18.5h.7m9.3 -15.5h.7m-3.7 12.5h.7m17.3 -7h.7m-9.7 -18h.7m-23.2 -4.5h.7m20.3 13h.7m-8.2 -1.5h.7m-13.7 39h.7m4.8 -48.5h.7m-2.2 24h.7m21.8 -2.5h.7m-8.7 -8h.7m8.3 9h.7m-9.7 -23.5h.7m6.8 31.5h.7m-16.7 -25h.7m8.3 -10.5h.7m-4.2 8.5h.7m-11.7 34.5h.7m23.3 -31.5h.7m-4.2 11.5h.7m-13.2 5h.7m-11.2 38h.7m0.3 -13h.7m1.3 15h.7m-2.2 14.5h.7m-1.2 -15h.7m-1.2 13h.7m-4.7 -0.5h.7m-1.2 -20h.7m9.8 4.5h.7m-0.7 15.5h.7m-11.2 -30.5h.7m7.8 27.5h.7m1.8 1h.7m-11.2 -4.5h.7m6.8 -18h.7m0.8 0.5h.7m-7.2 16.5h.7m0.8 11h.7m1.3 -13h.7m-1.2 -1.5h.7m-6.2 14h.7m7.8 -29h.7m-5.2 9h.7m-0.7 -4h.7m4.8 23.5h.7m-12.2 -16h.7m5.8 1h.7m-5.2 -18.5h.7m3.8 21h.7m10.3 -22h.7m-11.7 0.5h.7m2.3 11.5h.7m-2.7 5.5h.7m0.3 19.5h.7m-5.2 -25h.7m3.8 -5h.7m-2.7 7.5h.7m2.8 22h.7m-8.7 -19h.7m11.3 6h.7m-11.2 11.5h.7m3.8 -13.5h.7m0.3 -9h.7m1.3 8h.7m-6.2 -12h.7m3.8 31.5h.7m-3.7 -4.5h.7m-8.2 -34.5h.7m1.3 16h.7m4.3 2h.7m-3.2 -16.5h.7m-1.2 -5.5h.7m3.3 12h.7m0.8 -12.5h.7m2.8 7h.7m-1.7 23.5h.7m-11.2 -7h.7m9.8 14.5h.7m-8.2 2.5h.7m4.8 -11h.7m-9.7 2h.7m9.8 -4h.7m4.3 -24.5h.7m-7.7 -4h.7m-3.2 10h.7m2.8 11.5h.7m-9.2 17h.7m5.3 -7.5h.7m2.3 -25h.7m-6.7 25.5h.7m4.8 -4.5h.7m-3.2 -10h.7m0.3 4h.7m-1.7 -5.5h.7m-5.2 -16h.7m8.8 12.5h.7m-1.2 -12h.7m-5.7 27.5h.7m-5.2 12h.7m-3.2 3h.7m6.8 -11.5h.7m2.8 -16h.7m-4.7 -6.5h.7m0.8 -3h.7m-5.7 2.5h.7m7.8 4.5h.7m-1.2 13.5h.7m-2.7 0.5h.7m-5.7 4.5h.7m-1.2 4.5h.7m3.3 6h.7m-1.2 -20.5h.7m6.3 -1h.7m-7.7 -18.5h.7m5.3 -2h.7m-2.7 2h.7m-6.2 28.5h.7m-4.2 -27.5h.7m10.8 -2.5h.7m-8.7 25h.7m-0.2 2h.7m3.3 17h.7m3.8 -2.5h.7m-6.7 -38.5h.7m-1.2 11h.7m-1.7 -13.5h.7m0.8 24.5h.7m0.3 -6h.7m3.8 -16.5h.7m-8.7 0h.7" stroke="#ff3030" stroke-width="0.8" fill="none" opacity="0.8"/>
<line x1="326" y1="854.3" x2="326" y2="949.2" stroke="#e84a4a" stroke-width="0.8"/>
<line x1="302" y1="910.8" x2="390.9" y2="910.8" stroke="#e84a4a" stroke-width="0.8"/>
<circle cx="326" cy="910.8" r="1.2" fill="none" stroke="#e84a4a" stroke-width="0.7"/>
<circle cx="368.7" cy="910.8" r="1.2" fill="none" stroke="#e84a4a" stroke-width="0.7"/>
<text x="328" y="907.8" font-size="3.2" font-weight="normal" fill="#e84a4a">R2</text>
<text x="304" y="859.8" font-size="5.1">82.00%</text>
<text x="388.9" y="859.8" font-size="5.1" text-anchor="end">14.30%</text>
<text x="304" y="947.2" font-size="5.1">2.50%</text>
<text x="388.9" y="947.2" font-size="5.1" text-anchor="end">1.21%</text>
<text x="346.5" y="959" font-size="4.1" text-anchor="middle" font-weight="normal" fill="#444">Red-R Fluorescence (RED-R-HLog)</text>
<text x="295.9" y="901.7" font-size="4.1" text-anchor="middle" font-weight="normal" fill="#444" transform="rotate(-90 295.9 901.7)">Green-B Fluorescence (GRN-B-HLog)</text>
<text x="302" y="953.7" font-size="3" text-anchor="middle" font-weight="normal" fill="#444">10</text>
<text x="319.8" y="953.7" font-size="3" text-anchor="middle" font-weight="normal" fill="#444">10</text>
<text x="337.6" y="953.7" font-size="3" text-anchor="middle" font-weight="normal" fill="#444">10</text>
<text x="355.3" y="953.7" font-size="3" text-anchor="middle" font-weight="normal" fill="#444">10</text>
<text x="373.1" y="953.7" font-size="3" text-anchor="middle" font-weight="normal" fill="#444">10</text>
<text x="390.9" y="953.7" font-size="3" text-anchor="middle" font-weight="normal" fill="#444">10</text>
<text x="559" y="786" font-size="26" text-anchor="middle" transform="rotate(-90 559 786)">shCtrl</text>
<text x="561" y="904" font-size="25.4" text-anchor="middle" transform="rotate(-90 561 904)">shKNTC1</text>
<rect x="573.3" y="731.2" width="111.5" height="111.3" fill="#fff" stroke="#999" stroke-width="0.9"/>
<rect x="583.7" y="736.2" width="89.8" height="95.2" fill="none" stroke="#555" stroke-width="0.7"/>
<text x="584.4" y="735.5" font-size="4.1" font-weight="normal" fill="#444">Plot P02, gated on P01.R1</text>
<g filter="url(#soft)"><ellipse cx="601.2" cy="755.2" rx="6.7" ry="17.6" fill="#ff0000"/><ellipse cx="601.2" cy="759" rx="7.2" ry="20" fill="#ff2020" opacity="0.3"/></g>
<path d="M597 752.5h.7m11.3 6.5h.7m-7.7 7h.7m-7.7 1.5h.7m11.3 -13.5h.7m10.3 -0.5h.7m-17.2 7.5h.7m4.3 17.5h.7m1.8 -27h.7m-10.7 2.5h.7m11.3 5h.7m-17.7 -12.5h.7m11.3 19.5h.7m-9.2 14h.7m5.8 -32.5h.7m-0.2 13h.7m-7.7 17h.7m-4.7 -9.5h.7m4.8 3.5h.7m4.3 2.5h.7m-14.2 -21h.7m16.3 -3.5h.7m4.3 19.5h.7m-6.2 -19.5h.7m-19.2 8.5h.7m11.8 8h.7m-6.2 -12h.7m5.3 11h.7m-4.7 1.5h.7m-2.2 -12h.7m0.8 -9h.7m1.3 -3h.7m-7.7 10h.7m14.3 -2h.7m-10.7 24.5h.7m6.3 -11h.7m2.8 -5h.7m-7.7 10.5h.7m5.3 -10.5h.7m3.3 -2.5h.7m-21.2 -0.5h.7m9.3 25.5h.7m6.8 -4.5h.7m-9.2 -18h.7m9.8 -17.5h.7m-7.2 31.5h.7m-6.2 -16.5h.7m-10.2 16h.7m5.3 -1h.7m2.8 -2.5h.7m0.3 -11.5h.7m-7.7 -0.5h.7m5.3 -6h.7m2.8 20.5h.7m1.8 -10.5h.7m-3.7 -12.5h.7m1.8 12.5h.7m-4.2 -6h.7m-2.2 -17h.7m0.8 0h.7m-1.7 35.5h.7m3.8 -10h.7m0.8 3.5h.7m-7.7 -17.5h.7m0.8 -0.5h.7m3.8 19h.7m-5.7 9.5h.7m-2.2 -16h.7m3.3 -13.5h.7m-1.2 13.5h.7m-0.7 -22h.7m9.8 34h.7m-9.7 -16.5h.7m2.8 -11h.7m-1.2 -6h.7m-1.2 27.5h.7m-4.7 -15h.7m0.3 -10.5h.7m-6.2 12h.7m5.3 -14.5h.7m-3.7 17.5h.7m0.3 -10.5h.7m-0.7 8h.7m5.8 13.5h.7m-8.2 6h.7m-0.7 -31h.7m-4.2 9.5h.7m14.3 10h.7m-21.2 -13h.7m5.3 -9.5h.7m9.8 28h.7m-10.7 -8h.7m5.8 1h.7m4.3 3h.7m-10.7 -5.5h.7m-8.2 -15h.7m11.3 9h.7m-7.7 -11h.7m-0.7 15.5h.7m-0.2 1h.7m1.3 3h.7m7.3 -8.5h.7m-5.7 13.5h.7m6.8 -8h.7m-4.7 10.5h.7m0.8 -30h.7m-12.2 -1h.7m-2.2 1h.7m3.8 10h.7m13.8 21h.7m-7.2 -3h.7m-5.7 -15.5h.7m5.8 7.5h.7m-3.7 2.5h.7m-4.2 20h.7m7.3 20.5h.7m-13.2 -28h.7m4.8 -28h.7m4.8 0h.7m-8.7 -3h.7m0.8 3.5h.7m-4.7 28.5h.7m8.3 -33h.7m-7.2 11.5h.7m-2.7 3.5h.7m1.3 12.5h.7m-3.7 -13.5h.7m3.3 -7h.7m8.3 12h.7m-24.2 1h.7m9.3 -18.5h.7m2.3 9.5h.7m-2.2 -8.5h.7m5.3 18h.7m1.3 -6.5h.7m-10.2 11h.7m5.8 -15.5h.7m-1.2 7.5h.7m-7.2 -1h.7m9.8 -1h.7m-5.7 7.5h.7m-2.7 -6h.7m3.8 6.5h.7m-2.7 33.5h.7m-5.2 2h.7m3.8 -3.5h.7m14.8 18h.7m-11.7 -47h.7m-0.2 -20.5h.7m6.8 -6.5h.7m-7.2 1h.7m-11.2 41h.7m-3.2 -18h.7m-7.2 42.5h.7m7.8 -29h.7m7.8 -26h.7m-7.7 34h.7m4.8 -24.5h.7m0.3 -3.5h.7m1.3 25h.7m-11.7 13.5h.7m8.3 -23.5h.7m6.3 -12h.7m-1.7 25h.7m-0.2 36h.7m-10.7 -39.5h.7m8.3 0.5h.7m-2.7 14.5h.7m-15.2 -27h.7m3.3 14h.7m-2.2 -4h.7m10.8 1.5h.7m5.8 11.5h.7m-11.2 -25.5h.7m3.3 56.5h.7m-4.7 -51.5h.7m-15.2 21h.7m12.8 -36h.7m5.8 -9h.7m6.8 17h.7m-6.2 22.5h.7m-5.2 -48.5h.7m-2.2 58.5h.7m0.8 25.5h.7m3.8 -49.5h.7m-11.2 14.5h.7m4.3 -8h.7m12.3 24h.7m-17.2 -45h.7m3.8 14.5h.7m-1.2 -2.5h.7m-3.2 8.5h.7m-10.2 7h.7m15.3 -34h.7m1.3 27h.7m0.8 -17h.7m3.8 53.5h.7m3.3 -39h.7m-22.2 -16h.7m-1.7 -18h.7m-5.7 -3.5h.7m9.8 47h.7m-11.2 -35.5h.7m10.8 5h.7m6.3 7h.7m1.3 40.5h.7m-18.7 -39h.7m6.3 -1h.7m-5.7 22h.7m21.3 -30h.7m-29.2 21.5h.7m6.3 10h.7m-1.7 -23h.7m14.8 -4.5h.7m-4.2 -19h.7m-6.7 33h.7m-5.7 15h.7m12.3 4.5h.7m-18.7 -47h.7m6.8 72h.7m-13.2 -46h.7m26.3 -3h.7m-11.7 -6.5h.7m-9.7 -10h.7m17.3 20.5h.7m-20.7 -25h.7m-2.2 70.5h.7m10.3 -42.5h.7m-11.2 8.5h.7m12.3 40h.7m14.3 -42.5h.7m-24.2 -23.5h.7m-2.7 -2h.7m15.3 22h.7m-3.2 -24h.7m-3.7 30.5h.7m-12.2 -15h.7m6.8 40h.7m-0.7 -32.5h.7m-4.2 15.5h.7m3.3 -4.5h.7m-0.2 -3h.7m10.3 -27h.7m-6.2 -0.5h.7m-7.7 10.5h.7m-2.2 2h.7m4.3 13h.7m2.3 31.5h.7m0.3 8.5h.7m3.3 -43.5h.7m-1.7 11.5h.7m-11.7 3.5h.7m5.8 -47h.7m-3.7 3h.7m-13.7 34.5h.7m11.8 -16h.7m2.8 20.5h.7m-5.2 -5.5h.7m1.3 3.5h.7m7.8 7h.7m-6.2 -25h.7m-6.7 -5.5h.7m9.3 -15.5h.7m-10.7 28.5h.7m-10.2 -6.5h.7m-0.7 22.5h.7m9.3 -27h.7m-4.2 42h.7m-7.7 -26.5h.7m13.8 -12h.7m7.3 1h.7m-3.7 11h.7m-3.2 -29.5h.7m-4.2 -5.5h.7m4.3 65h.7m-9.7 -71.5h.7m4.8 50.5h.7m-11.2 -42h.7m12.3 18h.7m-0.7 16.5h.7m-5.2 31h.7m-7.2 -63h.7m2.3 10.5h.7m3.3 -10h.7m7.3 15.5h.7m-12.2 6h.7m7.3 2h.7m-10.7 1h.7m0.3 15h.7m3.3 14.5h.7m-15.2 -4.5h.7m11.8 -47.5h.7m-1.2 43h.7m-5.7 -52h.7m12.3 -7h.7m-6.2 21h.7m-11.7 20.5h.7m4.3 -26h.7m12.8 35h.7m-9.7 0.5h.7m7.3 -11.5h.7m-4.2 10h.7m-4.7 -12.5h.7m3.8 3h.7m-13.2 -17.5h.7m13.8 9h.7m-12.7 5h.7m-0.2 20.5h.7m-3.2 24.5h.7m0.3 -14h.7m3.3 -7h.7m-3.7 -1.5h.7m1.8 -13.5h.7m3.8 37.5h.7m-1.2 6h.7m-4.7 -2h.7m5.8 -7h.7m-9.2 4.5h.7m7.3 -24h.7m-6.7 -6.5h.7m-2.2 34h.7m-0.2 -42.5h.7m-0.7 9h.7m-2.7 21.5h.7m2.8 -29h.7m3.8 14.5h.7m-3.7 -14.5h.7m-0.7 9.5h.7m-0.2 31.5h.7m1.8 -34.5h.7m-7.2 13.5h.7m0.8 15.5h.7m-0.7 -23h.7m-0.7 13h.7m1.8 -18.5h.7m-2.2 19h.7m-6.7 -2h.7m6.8 16h.7m-1.7 -29h.7m-4.2 -0.5h.7m2.8 -1h.7m1.8 9h.7m-5.7 -17.5h.7m-0.7 19h.7m1.8 -3h.7m2.3 11.5h.7m0.3 -27h.7m-8.2 18h.7m4.3 19.5h.7m-3.7 -9h.7m-3.7 -6h.7m12.8 6h.7m-13.2 -14h.7m-14.7 25h.7m20.8 -22.5h.7m0.3 2.5h.7m-4.7 -16.5h.7m9.3 -5.5h.7m-11.7 33h.7m5.8 -6h.7m-12.7 -26h.7m3.8 35h.7m3.3 -3.5h.7m-8.7 4h.7m7.8 -31h.7m-6.7 0h.7m3.8 -1.5h.7m-7.2 3.5h.7m6.3 27h.7m-1.2 -21h.7m-7.2 9h.7m1.3 -15.5h.7m4.3 -3.5h.7m-1.2 3h.7m-6.2 -5h.7m6.8 25.5h.7m-10.7 -26.5h.7m8.8 38.5h.7m-2.7 -8.5h.7m-4.7 -8h.7m3.8 -1.5h.7m1.3 -19.5h.7m-2.2 39.5h.7m-6.7 -14.5h.7m0.8 -1.5h.7m3.8 5h.7m4.3 -22.5h.7m-15.2 -7h.7m2.8 -1h.7m5.8 3h.7m-5.2 21h.7m7.8 16.5h.7m1.8 -36h.7m-8.7 34h.7m1.8 -0.5h.7m-1.2 -32.5h.7m-8.7 28h.7m7.8 1.5h.7m-1.7 -18h.7m-6.7 12h.7m5.8 -15h.7m-8.7 -2h.7m0.8 17h.7m6.3 11.5h.7m-1.7 -3.5h.7m-4.7 -28h.7m-2.2 -8h.7m-1.7 42.5h.7m4.3 -43h.7m-1.2 8h.7m-0.7 15h.7m-3.7 8h.7m13.8 2.5h.7m-11.7 -20.5h.7m-7.2 12.5h.7m1.3 10.5h.7m2.3 -6h.7" stroke="#ff3030" stroke-width="0.8" fill="none" opacity="0.8"/>
<line x1="610.6" y1="736.2" x2="610.6" y2="831.4" stroke="#e84a4a" stroke-width="0.8"/>
<line x1="583.7" y1="791.4" x2="673.4" y2="791.4" stroke="#e84a4a" stroke-width="0.8"/>
<circle cx="610.6" cy="791.4" r="1.2" fill="none" stroke="#e84a4a" stroke-width="0.7"/>
<circle cx="651" cy="791.4" r="1.2" fill="none" stroke="#e84a4a" stroke-width="0.7"/>
<text x="612.6" y="788.4" font-size="3.2" font-weight="normal" fill="#e84a4a">R2</text>
<text x="585.7" y="741.7" font-size="5.1">85.86%</text>
<text x="671.4" y="741.7" font-size="5.1" text-anchor="end">3.47%</text>
<text x="585.7" y="829.4" font-size="5.1">9.85%</text>
<text x="671.4" y="829.4" font-size="5.1" text-anchor="end">0.82%</text>
<text x="628.5" y="841.2" font-size="4.1" text-anchor="middle" font-weight="normal" fill="#444">Red-R Fluorescence (RED-R-HLog)</text>
<text x="577.5" y="783.8" font-size="4.1" text-anchor="middle" font-weight="normal" fill="#444" transform="rotate(-90 577.5 783.8)">Green-B Fluorescence (GRN-B-HLog)</text>
<text x="583.7" y="835.9" font-size="3" text-anchor="middle" font-weight="normal" fill="#444">10</text>
<text x="601.6" y="835.9" font-size="3" text-anchor="middle" font-weight="normal" fill="#444">10</text>
<text x="619.6" y="835.9" font-size="3" text-anchor="middle" font-weight="normal" fill="#444">10</text>
<text x="637.5" y="835.9" font-size="3" text-anchor="middle" font-weight="normal" fill="#444">10</text>
<text x="655.5" y="835.9" font-size="3" text-anchor="middle" font-weight="normal" fill="#444">10</text>
<text x="673.4" y="835.9" font-size="3" text-anchor="middle" font-weight="normal" fill="#444">10</text>
<rect x="573.3" y="849.7" width="111.5" height="111.3" fill="#fff" stroke="#999" stroke-width="0.9"/>
<rect x="583.7" y="854.7" width="89.8" height="95.2" fill="none" stroke="#555" stroke-width="0.7"/>
<text x="584.4" y="854" font-size="4.1" font-weight="normal" fill="#444">Plot P02, gated on P01.R1</text>
<g filter="url(#soft)"><ellipse cx="601.2" cy="873.7" rx="6.7" ry="17.6" fill="#ff0000"/><ellipse cx="605.7" cy="877.5" rx="9.9" ry="20" fill="#ff2020" opacity="0.3"/></g>
<path d="M590.5 881.5h.7m14.3 -5.5h.7m2.8 -7.5h.7m-5.2 15h.7m0.3 -20.5h.7m6.3 16h.7m-6.7 9.5h.7m-10.2 -25.5h.7m6.8 8.5h.7m-6.2 -2h.7m4.3 2.5h.7m-13.7 -0.5h.7m11.3 -2h.7m-6.2 26h.7m3.3 -13.5h.7m1.3 2h.7m-0.2 -24.5h.7m7.8 12h.7m-10.7 17h.7m4.3 -7.5h.7m-12.7 -19.5h.7m11.3 22.5h.7m0.8 7.5h.7m-10.7 -16h.7m14.3 -6.5h.7m-19.7 33.5h.7m3.8 -11.5h.7m-7.7 -28.5h.7m9.3 13h.7m1.3 9.5h.7m2.8 3.5h.7m-7.2 -12h.7m-12.7 1.5h.7m15.8 -13h.7m-4.7 0h.7m5.8 39h.7m-9.7 -38h.7m-3.7 28.5h.7m7.3 -17.5h.7m-2.7 -13h.7m-7.2 17h.7m-0.2 -5.5h.7m4.3 24h.7m1.8 -23.5h.7m-0.7 -12h.7m-2.2 -2h.7m-8.2 25h.7m-0.2 -5.5h.7m15.3 -1.5h.7m-14.2 -13.5h.7m-5.2 10.5h.7m7.8 -4.5h.7m4.8 -7.5h.7m-2.2 12h.7m-5.7 -10h.7m-6.2 -3h.7m3.8 8h.7m14.3 6h.7m-12.7 3.5h.7m-3.7 -9h.7m-3.2 18h.7m-5.2 -14.5h.7m8.3 1h.7m8.8 15.5h.7m-6.7 -20h.7m-5.7 -9h.7m-4.2 2h.7m-7.7 -3.5h.7m13.3 -2.5h.7m-0.2 39.5h.7m-5.7 -31.5h.7m-0.2 9h.7m8.3 -1.5h.7m-8.7 -8.5h.7m-5.2 2.5h.7m-0.7 -1.5h.7m5.8 25h.7m-0.2 -13.5h.7m-9.7 -21.5h.7m7.3 20h.7m-4.2 -1h.7m5.8 -7h.7m1.3 5.5h.7m-12.7 -5h.7m3.3 1h.7m4.8 19h.7m1.3 -13h.7m-5.7 20.5h.7m-8.7 -26.5h.7m4.8 18.5h.7m-5.2 -13h.7m0.3 -13h.7m4.8 -4.5h.7m-0.7 19h.7m-0.2 -3.5h.7m5.8 10.5h.7m-10.7 -21h.7m4.3 0.5h.7m-9.7 22h.7m7.8 1.5h.7m-5.2 6.5h.7m4.8 -7.5h.7m1.8 -17.5h.7m-9.2 0h.7m-1.7 25.5h.7m8.3 -26h.7m0.8 18h.7m-3.2 -7.5h.7m2.8 1.5h.7m-7.7 -14.5h.7m-1.7 -5.5h.7m-6.2 20.5h.7m-1.7 -8.5h.7m3.8 15.5h.7m4.8 -21h.7m-7.7 8h.7m1.3 6.5h.7m3.3 -23.5h.7m7.3 21.5h.7m-13.7 -3h.7m-0.2 -7.5h.7m-6.2 -2h.7m3.8 13.5h.7m0.8 -2.5h.7m-0.7 -15.5h.7m4.8 38h.7m-1.7 -34.5h.7m-5.2 0.5h.7m0.8 21h.7m0.8 -13.5h.7m0.8 -13h.7m-4.7 19.5h.7m7.8 -25.5h.7m2.8 36.5h.7m-10.7 -13h.7m-7.2 7.5h.7m9.3 -11h.7m-4.7 14h.7m0.8 6.5h.7m4.3 -16.5h.7m-3.2 -19h.7m-14.7 8h.7m9.3 -3.5h.7m5.8 33h.7m-9.2 -7.5h.7m-1.2 -28h.7m-7.7 2.5h.7m3.3 2.5h.7m5.3 27h.7m2.3 6h.7m-13.2 -39h.7m22.8 64h.7m6.8 -61.5h.7m-4.2 22h.7m-5.7 20h.7m-20.7 -24h.7m6.8 -7h.7m12.3 34.5h.7m-16.2 -28.5h.7m7.8 0h.7m8.3 8h.7m6.8 -14.5h.7m-16.2 27h.7m0.3 -11h.7m13.8 -9.5h.7m1.3 -12h.7m-5.2 21.5h.7m-22.2 6.5h.7m16.8 -32h.7m-26.2 27.5h.7m11.3 -24.5h.7m32.8 13.5h.7m-42.2 6h.7m16.3 -16.5h.7m9.3 26h.7m-4.2 -31.5h.7m-3.2 28h.7m-2.2 -4h.7m-13.2 3h.7m-7.2 6h.7m3.8 -13h.7m10.3 4.5h.7m-7.2 15.5h.7m-5.2 -14h.7m12.3 -20h.7m-1.7 31.5h.7m-9.7 -9h.7m5.8 -38h.7m0.3 36h.7m-6.7 -22.5h.7m1.3 -3h.7m-5.7 1.5h.7m0.8 10.5h.7m2.3 -7h.7m-0.2 -7h.7m7.3 39h.7m-15.2 2.5h.7m-9.7 -23.5h.7m14.3 36h.7m6.8 -55h.7m-13.2 39h.7m7.3 -31h.7m-3.7 17h.7m10.8 -33h.7m-15.7 13.5h.7m-2.2 40h.7m14.3 -26h.7m-23.7 20.5h.7m31.3 3.5h.7m-3.7 -16h.7m2.3 14h.7m-2.2 -13.5h.7m1.3 11h.7m3.3 -11h.7m-26.7 -21h.7m1.8 7h.7m7.8 -13h.7m-23.7 6.5h.7m23.8 -12.5h.7m-1.7 26.5h.7m0.8 9h.7m-4.2 -5.5h.7m-15.2 15h.7m2.8 -32h.7m19.8 24h.7m-30.2 -23h.7m14.3 -4.5h.7m4.3 -7h.7m-17.2 28.5h.7m11.8 19h.7m1.8 -25h.7m8.3 9.5h.7m-15.7 -34h.7m-0.7 15h.7m23.8 20.5h.7m-31.7 -4.5h.7m17.8 -2h.7m6.3 -17.5h.7m12.8 18.5h.7m-23.7 -8.5h.7m-7.2 -11h.7m-20.7 6.5h.7m13.8 -12h.7m2.8 16h.7m11.3 0.5h.7m-18.7 -25h.7m18.3 52.5h.7m-12.7 -30h.7m11.3 -2.5h.7m-7.2 10.5h.7m-8.7 10h.7m8.3 12h.7m-11.7 -13h.7m18.8 8.5h.7m-4.7 -43.5h.7m-9.7 -4.5h.7m-12.7 21.5h.7m17.3 14.5h.7m11.3 -13h.7m-37.7 36h.7m5.8 -51.5h.7m11.3 18.5h.7m-9.2 -21h.7m-4.2 20.5h.7m-14.7 34h.7m45.8 -9.5h.7m-29.7 -27.5h.7m28.8 1.5h.7m-16.7 -23h.7m-7.7 21h.7m19.3 10.5h.7m-12.7 -11h.7m-16.2 14.5h.7m-7.7 -13.5h.7m2.8 -8.5h.7m36.8 27h.7m-17.2 -33h.7m-11.7 35h.7m1.8 -12.5h.7m-1.2 13h.7m7.3 -34h.7m-15.7 48.5h.7m14.8 -25h.7m-7.2 -11.5h.7m7.8 27h.7m-25.2 3.5h.7m20.3 -17.5h.7m-24.2 -22h.7m23.3 40h.7m-7.2 -24h.7m7.8 22.5h.7m-10.7 21.5h.7m9.3 -22.5h.7m-7.2 -47h.7m14.8 14.5h.7m-9.7 0.5h.7m-9.7 -2h.7m4.8 35.5h.7m3.3 -44.5h.7m-22.2 16h.7m13.3 -19h.7m-12.2 36.5h.7m20.8 -5h.7m-19.7 14.5h.7m10.8 -15.5h.7m-9.7 -27.5h.7m-1.2 15.5h.7m7.3 25.5h.7m8.3 -21.5h.7m1.8 -7h.7m-25.2 -5h.7m7.3 5.5h.7m-12.7 -4.5h.7m15.8 -8h.7m-2.7 -7h.7m-15.2 32h.7m-1.2 0.5h.7m27.8 -3.5h.7m-11.2 -9.5h.7m-8.2 0h.7m15.3 14.5h.7m2.3 4.5h.7m0.8 -14.5h.7m-20.2 0.5h.7m2.3 28h.7m-8.7 4h.7m5.8 -42.5h.7m5.8 5.5h.7m-4.2 42h.7m-2.2 -45h.7m5.3 10.5h.7m0.8 -24.5h.7m-9.2 36.5h.7m-9.7 -4.5h.7m16.8 -8h.7m3.3 13h.7m-8.2 -19.5h.7m0.8 5h.7m6.3 16.5h.7m-7.7 -16.5h.7m-3.2 -4h.7m-8.2 9.5h.7m8.8 12.5h.7m-11.7 -11h.7m6.3 -31h.7m-6.2 16h.7m15.8 10h.7m-4.2 5.5h.7m-27.7 -6h.7m22.8 9.5h.7m13.3 -7h.7m-17.7 -23.5h.7m6.3 18h.7m-21.2 2h.7m6.8 20.5h.7m7.8 -35h.7m7.3 14.5h.7m-3.2 -9h.7m2.3 20.5h.7m0.8 -32.5h.7m-9.2 30h.7m-9.2 -2.5h.7m0.8 -16h.7m23.3 -13h.7m-22.2 38.5h.7m5.3 -31h.7m-9.7 -1.5h.7m5.8 -7h.7m2.3 -0.5h.7m-7.7 54h.7m-16.2 -25.5h.7m17.8 0.5h.7m-14.2 -17.5h.7m17.8 26.5h.7m-12.2 -29h.7m-0.7 27.5h.7m-7.7 5h.7m8.3 -39h.7m-2.7 32h.7m9.8 11.5h.7m-7.2 -45h.7m-1.7 3h.7m-25.7 11.5h.7m25.3 18h.7m8.3 -2h.7m-10.2 2.5h.7m-3.7 9.5h.7m-0.2 15h.7m6.8 -13h.7m-2.2 -21.5h.7m-5.2 1h.7m-25.7 -2h.7m10.3 -5.5h.7m22.3 22.5h.7m-10.2 -14h.7m7.3 -2h.7m-10.7 4.5h.7m-8.2 16h.7m31.8 -36h.7m-31.7 27h.7m40.8 -8h.7m-34.2 -9h.7m1.3 -9h.7m-1.2 21h.7m-4.7 -19.5h.7m-15.7 9.5h.7m12.3 -9h.7m-2.2 12.5h.7m22.8 8.5h.7m-1.7 5.5h.7m-6.2 -22.5h.7m0.8 -0.5h.7m-6.2 -9.5h.7m-19.2 5.5h.7m9.8 59.5h.7m-5.7 -56.5h.7m17.8 28.5h.7m-15.2 -25h.7m9.3 26h.7m-6.7 -29.5h.7m21.3 1h.7m-37.7 5.5h.7m20.8 9h.7m-12.7 -6.5h.7m0.3 10.5h.7m8.3 -21h.7m19.3 9h.7m-9.2 -9h.7m-17.7 23h.7m-4.2 -22.5h.7m-0.2 14.5h.7m-5.2 3h.7m12.8 4.5h.7m-0.2 -9.5h.7m-22.7 -7h.7m17.8 -13h.7m-5.7 0.5h.7m1.8 14.5h.7m-4.7 6h.7m1.3 15h.7m4.8 -28h.7m-9.7 -9.5h.7m12.3 24h.7m-5.7 -20.5h.7m3.3 47h.7m-13.2 -40h.7m16.3 23.5h.7m-20.7 -6.5h.7m19.3 -0.5h.7m-19.7 -16h.7m2.8 -4h.7m-8.2 7h.7m22.3 -7h.7m-15.2 18.5h.7m8.3 -20h.7m-11.2 44.5h.7m-2.2 -7h.7m-3.2 24.5h.7m0.3 14.5h.7m-2.2 -40.5h.7m-4.2 5.5h.7m4.8 13h.7m1.8 -12h.7m-6.7 11.5h.7m4.3 -14.5h.7m-8.2 32.5h.7m2.3 -33.5h.7m4.3 7h.7m-0.2 -7h.7m-6.2 28h.7m-0.2 6.5h.7m6.3 -24.5h.7m-10.7 3h.7m7.3 25.5h.7m-4.7 -10h.7m0.3 6.5h.7m-8.2 3.5h.7m9.3 -24.5h.7m-4.2 20h.7m-1.7 5.5h.7m0.3 1h.7m-1.2 -25.5h.7m-2.2 13.5h.7m5.3 -30.5h.7m-7.2 5.5h.7m4.8 8.5h.7m-3.2 -6h.7m4.3 33.5h.7m-5.7 -40.5h.7m4.8 6h.7m-11.2 16h.7m3.3 -21h.7m-0.7 -3h.7m4.8 25h.7m-3.2 -14h.7m1.3 -2h.7m-7.2 -4.5h.7m6.3 36h.7m-7.2 4h.7m2.8 -35.5h.7m-1.2 10.5h.7m-7.2 -5h.7m1.3 23.5h.7m5.8 4.5h.7m-4.7 -16.5h.7m2.8 -10.5h.7m-11.7 -11.5h.7m5.3 17h.7m1.3 16.5h.7m-0.2 -36.5h.7m1.8 15.5h.7m-10.2 6h.7m7.8 -4h.7m-9.7 15.5h.7m-2.7 -1h.7m8.3 -17.5h.7m-3.2 18h.7m6.8 -14.5h.7m-6.2 7h.7m-4.7 -2h.7m-0.2 -12.5h.7m4.8 5h.7m-5.2 27.5h.7m9.3 -6h.7m-10.2 -15.5h.7m7.3 19.5h.7m-5.2 -14h.7m-2.7 11h.7m3.3 -17h.7m0.8 -12h.7m-2.2 27.5h.7m-5.2 1.5h.7m7.8 -14.5h.7m-5.2 13h.7m2.3 4.5h.7m-7.7 -15h.7m-1.7 6h.7m-0.7 -8.5h.7m2.8 19h.7m-0.2 -39h.7m-1.2 6h.7m-3.7 7.5h.7m-3.2 -9h.7m4.8 7h.7m-9.2 -3h.7m11.8 0h.7m-5.2 6h.7m6.3 -12h.7m-7.2 13h.7m8.8 -6.5h.7m-11.2 4h.7m-2.7 6.5h.7m5.8 -5.5h.7m3.3 -9h.7m-11.2 8.5h.7m1.8 4h.7m2.3 -1h.7m-4.7 17.5h.7m0.3 -26.5h.7m-1.2 16.5h.7m2.8 -1.5h.7m0.3 -12.5h.7m-3.7 17.5h.7m-0.7 10.5h.7m-4.7 -35.5h.7" stroke="#ff3030" stroke-width="0.8" fill="none" opacity="0.8"/>
<line x1="610.6" y1="854.7" x2="610.6" y2="949.9" stroke="#e84a4a" stroke-width="0.8"/>
<line x1="583.7" y1="909.9" x2="673.4" y2="909.9" stroke="#e84a4a" stroke-width="0.8"/>
<circle cx="610.6" cy="909.9" r="1.2" fill="none" stroke="#e84a4a" stroke-width="0.7"/>
<circle cx="651" cy="909.9" r="1.2" fill="none" stroke="#e84a4a" stroke-width="0.7"/>
<text x="612.6" y="906.9" font-size="3.2" font-weight="normal" fill="#e84a4a">R2</text>
<text x="585.7" y="860.2" font-size="5.1">82.09%</text>
<text x="671.4" y="860.2" font-size="5.1" text-anchor="end">7.69%</text>
<text x="585.7" y="947.9" font-size="5.1">8.68%</text>
<text x="671.4" y="947.9" font-size="5.1" text-anchor="end">1.54%</text>
<text x="628.5" y="959.7" font-size="4.1" text-anchor="middle" font-weight="normal" fill="#444">Red-R Fluorescence (RED-R-HLog)</text>
<text x="577.5" y="902.3" font-size="4.1" text-anchor="middle" font-weight="normal" fill="#444" transform="rotate(-90 577.5 902.3)">Green-B Fluorescence (GRN-B-HLog)</text>
<text x="583.7" y="954.4" font-size="3" text-anchor="middle" font-weight="normal" fill="#444">10</text>
<text x="601.6" y="954.4" font-size="3" text-anchor="middle" font-weight="normal" fill="#444">10</text>
<text x="619.6" y="954.4" font-size="3" text-anchor="middle" font-weight="normal" fill="#444">10</text>
<text x="637.5" y="954.4" font-size="3" text-anchor="middle" font-weight="normal" fill="#444">10</text>
<text x="655.5" y="954.4" font-size="3" text-anchor="middle" font-weight="normal" fill="#444">10</text>
<text x="673.4" y="954.4" font-size="3" text-anchor="middle" font-weight="normal" fill="#444">10</text>
<rect x="691.3" y="731.2" width="111.5" height="111.3" fill="#fff" stroke="#999" stroke-width="0.9"/>
<rect x="701.7" y="736.2" width="89.8" height="95.2" fill="none" stroke="#555" stroke-width="0.7"/>
<text x="702.4" y="735.5" font-size="4.1" font-weight="normal" fill="#444">Plot P02, gated on P01.R1</text>
<g filter="url(#soft)"><ellipse cx="719.2" cy="755.2" rx="6.7" ry="17.6" fill="#ff0000"/><ellipse cx="719.2" cy="759" rx="7.2" ry="20" fill="#ff2020" opacity="0.3"/></g>
<path d="M722 756h.7m-9.7 12.5h.7m7.3 -8h.7m-1.7 18.5h.7m3.8 -5h.7m-7.7 -25.5h.7m-4.7 3.5h.7m-10.2 28h.7m15.3 -23h.7m3.8 -7h.7m-4.7 17.5h.7m-10.7 14.5h.7m8.8 -17h.7m-7.2 -19h.7m14.8 1.5h.7m-12.7 15.5h.7m10.3 -3.5h.7m-4.2 -19.5h.7m-4.2 40h.7m-3.2 -34h.7m-2.2 1.5h.7m6.3 11h.7m-8.2 9h.7m16.3 -21.5h.7m-5.7 8h.7m-11.2 9.5h.7m-4.2 -21h.7m2.8 7h.7m4.8 36h.7m-11.7 -43.5h.7m10.3 21.5h.7m1.8 -19.5h.7m-4.2 10.5h.7m-13.2 8h.7m-0.7 1.5h.7m5.8 -11.5h.7m14.3 26.5h.7m-10.2 -17.5h.7m-7.7 13h.7m7.3 -32h.7m-14.2 13h.7m8.3 13.5h.7m-5.7 -27h.7m7.3 15h.7m2.8 15.5h.7m-6.2 -28h.7m-1.7 12.5h.7m-3.2 6.5h.7m3.3 -4.5h.7m6.3 16.5h.7m-1.7 -14h.7m-6.7 2.5h.7m0.3 -19.5h.7m-0.2 25h.7m-5.2 -30.5h.7m4.8 5h.7m-12.7 8h.7m-0.2 8.5h.7m4.8 -3.5h.7m8.8 15.5h.7m-10.2 -34.5h.7m7.3 41.5h.7m-1.7 -14h.7m-1.7 0.5h.7m-6.2 3.5h.7m-0.2 -31.5h.7m1.3 42h.7m6.3 -20.5h.7m-4.7 -11h.7m-1.2 31.5h.7m-7.2 -14h.7m5.3 -23.5h.7m-1.7 22h.7m-6.7 9h.7m-2.2 0h.7m9.3 -14h.7m-8.7 -16h.7m-9.2 12h.7m11.3 8.5h.7m5.8 -5.5h.7m-8.2 12h.7m1.3 -15h.7m-7.7 16h.7m2.3 13.5h.7m-1.7 -36.5h.7m4.8 -3.5h.7m-9.7 -6.5h.7m2.8 13.5h.7m9.8 14h.7m-4.7 2h.7m-14.7 -21.5h.7m8.3 -6.5h.7m5.3 5.5h.7m-9.7 23.5h.7m1.8 -17h.7m-5.7 17.5h.7m8.3 8h.7m11.8 -11.5h.7m-15.2 -22.5h.7m10.3 9h.7m-6.2 7h.7m-3.7 -1h.7m-2.2 0.5h.7m-5.7 6h.7m2.3 -7h.7m11.8 1h.7m-16.2 2h.7m-3.2 -3h.7m15.8 -18.5h.7m-9.7 3h.7m1.3 18h.7m-0.7 -9h.7m-12.7 -9.5h.7m7.8 26h.7m-9.7 4h.7m18.8 -11h.7m-14.2 -1.5h.7m11.8 -16.5h.7m-3.2 4h.7m-14.2 -0.5h.7m5.3 11h.7m-7.2 -17h.7m10.3 9.5h.7m-5.2 12h.7m-5.2 23.5h.7m2.3 -24.5h.7m2.8 9.5h.7m-2.2 -26.5h.7m2.8 20.5h.7m-2.7 21.5h.7m4.3 -10h.7m2.3 -5h.7m-9.2 9h.7m-1.7 -22.5h.7m9.3 12h.7m-14.7 -18.5h.7m0.3 22h.7m2.8 -17h.7m-2.7 -8h.7m6.8 -7.5h.7m-4.2 7.5h.7m-7.7 1h.7m6.3 -5h.7m-10.2 4.5h.7m2.8 -3h.7m4.8 15.5h.7m-2.7 -11h.7m7.3 2h.7m-16.7 16h.7m14.8 -0.5h.7m-7.7 12.5h.7m-0.2 -1h.7m7.8 -16.5h.7m-17.2 42.5h.7m14.3 -46h.7m-14.2 17h.7m11.3 10.5h.7m0.3 -20h.7m-6.2 -23.5h.7m-3.2 22.5h.7m12.8 -18h.7m4.8 48h.7m-18.2 -32.5h.7m4.8 21.5h.7m2.8 -46h.7m-8.2 48.5h.7m8.3 -1h.7m-8.2 -3.5h.7m-3.7 31h.7m9.8 -29h.7m-11.7 -9.5h.7m6.3 3h.7m8.8 42.5h.7m-5.7 -69.5h.7m-2.7 14h.7m-5.7 53.5h.7m-13.7 -71.5h.7m7.3 46h.7m6.8 -2.5h.7m5.8 -12h.7m-1.7 -15h.7m-2.2 38.5h.7m-9.2 -34h.7m10.3 -7.5h.7m-16.2 17h.7m9.8 18.5h.7m-8.2 -8.5h.7m-3.7 -36h.7m23.8 9h.7m-30.2 22.5h.7m5.3 9h.7m-13.7 -40h.7m25.3 30.5h.7m-15.2 26h.7m13.8 -39.5h.7m0.3 20.5h.7m-18.7 -30h.7m9.8 -6.5h.7m-13.7 12.5h.7m16.3 13.5h.7m-0.2 -9h.7m-0.7 3h.7m-10.2 7h.7m-2.7 -16.5h.7m12.3 34.5h.7m-12.7 -32h.7m20.8 21h.7m-20.7 -38.5h.7m14.8 54.5h.7m-19.2 -13h.7m-1.7 -21.5h.7m14.3 1h.7m-13.7 -25.5h.7m8.8 27h.7m-14.2 48.5h.7m3.3 -56h.7m7.3 5.5h.7m-3.2 15h.7m-4.7 -29h.7m0.8 42.5h.7m1.3 11.5h.7m0.3 -53.5h.7m0.3 16h.7m-6.2 0h.7m9.8 22.5h.7m-4.7 -13.5h.7m1.3 11h.7m-2.7 -30.5h.7m5.3 40h.7m-5.2 -21h.7m-19.2 -14.5h.7m14.8 34h.7m-3.7 -37h.7m-12.2 8h.7m17.3 -24h.7m-9.7 20h.7m4.3 16.5h.7m6.8 -20h.7m-20.7 -12.5h.7m8.8 6h.7m-0.7 15h.7m1.3 24h.7m2.8 -49h.7m-9.7 17h.7m0.8 29h.7m10.3 -10h.7m3.8 -27h.7m-11.7 45.5h.7m-1.2 -39h.7m-6.2 36h.7m11.3 20.5h.7m7.8 -37h.7m-18.7 -23.5h.7m-0.7 59h.7m1.3 -55h.7m-0.7 22.5h.7m-4.7 -24h.7m-0.2 45.5h.7m4.3 -18h.7m2.3 -37h.7m1.8 29.5h.7m-13.7 22.5h.7m0.3 3.5h.7m4.8 20.5h.7m-8.7 -40h.7m-1.2 -39h.7m4.3 22.5h.7m-4.7 15.5h.7m19.8 7.5h.7m-18.7 27h.7m-7.2 -7.5h.7m10.3 -57.5h.7m0.8 20h.7m7.3 14.5h.7m-11.2 6h.7m-0.7 -42.5h.7m-7.2 0.5h.7m9.8 13.5h.7m3.3 -21.5h.7m-5.7 39h.7m-0.2 -0.5h.7m-7.7 -7h.7m14.3 48h.7m-14.7 -54h.7m10.3 -7h.7m1.8 9.5h.7m-9.2 15.5h.7m12.3 -9.5h.7m-19.2 26h.7m8.8 -47.5h.7m-16.2 15.5h.7m6.3 -13.5h.7m5.3 32h.7m7.8 -12.5h.7m-18.7 -32h.7m-3.7 41h.7m-2.7 -27.5h.7m1.8 5h.7m5.8 1.5h.7m14.8 26h.7m-15.2 -41h.7m6.3 16.5h.7m-5.7 -18h.7m3.3 31.5h.7m0.8 -4.5h.7m-4.2 -26h.7m6.3 31h.7m3.8 -13.5h.7m-15.7 29h.7m-2.2 15h.7m3.3 -29h.7m-11.7 33.5h.7m9.8 -5h.7m2.8 -17.5h.7m-14.2 31h.7m11.8 -37h.7m-7.7 18h.7m-11.2 -13h.7m13.3 21.5h.7m-0.7 -20h.7m-6.7 28.5h.7m4.8 -0.5h.7m7.3 -16.5h.7m-5.7 -21h.7m-2.7 5.5h.7m-4.7 28h.7m6.3 -34.5h.7m-4.7 30.5h.7m-2.7 -32h.7m-4.2 39h.7m12.3 -37.5h.7m-15.2 6h.7m12.3 12.5h.7m-6.7 1.5h.7m2.8 -16h.7m2.3 28.5h.7m1.8 -7.5h.7m-8.2 1h.7m-0.7 0h.7m8.3 -11h.7m-10.7 -5h.7m-7.2 3.5h.7m-1.2 7.5h.7m10.3 17.5h.7m-3.7 2h.7m-6.7 2.5h.7m10.3 -31.5h.7m-5.2 30.5h.7m-5.2 -3h.7m5.8 -10h.7m-5.2 1h.7m-1.2 -2h.7m-0.2 6.5h.7m-5.7 7h.7m-1.7 -14.5h.7m2.8 -21h.7m6.3 2h.7m-0.2 11h.7m-5.7 19h.7m0.3 -21.5h.7m-2.2 5.5h.7m0.8 4h.7m5.8 10.5h.7m-5.7 -25h.7m-0.7 10h.7m-2.7 -8h.7m4.3 -13h.7m-3.2 38.5h.7m-7.7 -17.5h.7m7.3 -1h.7m-8.2 20h.7m-3.7 -16h.7m14.8 16.5h.7m-4.7 -29h.7m-2.2 23h.7m3.3 -19.5h.7m-11.7 -14.5h.7m6.3 34.5h.7m-4.2 -10.5h.7m-0.7 -16.5h.7m-6.2 7h.7m0.8 13.5h.7m8.3 14h.7m-8.7 -39.5h.7m1.8 14.5h.7m-4.7 -19h.7m0.8 8h.7m-1.7 33.5h.7m-1.7 -36.5h.7m4.3 20.5h.7m-4.7 4.5h.7m-0.7 13h.7m6.8 -43h.7m-19.2 38.5h.7m9.8 -28.5h.7m6.3 7.5h.7m-11.2 6.5h.7m3.8 -17h.7m16.8 23.5h.7m-3.2 7h.7m-12.2 -19h.7m7.3 -0.5h.7m-11.2 -2h.7m0.8 9h.7m3.8 -7h.7m-3.7 8.5h.7m-0.7 -8h.7m12.8 13h.7m-14.2 0.5h.7m-5.2 -22h.7m8.3 26h.7m-7.7 -27.5h.7m0.3 8h.7m-2.7 3.5h.7m7.8 -19.5h.7m-7.7 43.5h.7m5.3 -3h.7m-12.2 -35.5h.7m-0.2 2.5h.7" stroke="#ff3030" stroke-width="0.8" fill="none" opacity="0.8"/>
<line x1="728.6" y1="736.2" x2="728.6" y2="831.4" stroke="#e84a4a" stroke-width="0.8"/>
<line x1="701.7" y1="791.4" x2="791.4" y2="791.4" stroke="#e84a4a" stroke-width="0.8"/>
<circle cx="728.6" cy="791.4" r="1.2" fill="none" stroke="#e84a4a" stroke-width="0.7"/>
<circle cx="769" cy="791.4" r="1.2" fill="none" stroke="#e84a4a" stroke-width="0.7"/>
<text x="730.6" y="788.4" font-size="3.2" font-weight="normal" fill="#e84a4a">R2</text>
<text x="703.7" y="741.7" font-size="5.1">85.19%</text>
<text x="789.4" y="741.7" font-size="5.1" text-anchor="end">3.66%</text>
<text x="703.7" y="829.4" font-size="5.1">10.23%</text>
<text x="789.4" y="829.4" font-size="5.1" text-anchor="end">0.93%</text>
<text x="746.5" y="841.2" font-size="4.1" text-anchor="middle" font-weight="normal" fill="#444">Red-R Fluorescence (RED-R-HLog)</text>
<text x="695.5" y="783.8" font-size="4.1" text-anchor="middle" font-weight="normal" fill="#444" transform="rotate(-90 695.5 783.8)">Green-B Fluorescence (GRN-B-HLog)</text>
<text x="701.7" y="835.9" font-size="3" text-anchor="middle" font-weight="normal" fill="#444">10</text>
<text x="719.6" y="835.9" font-size="3" text-anchor="middle" font-weight="normal" fill="#444">10</text>
<text x="737.6" y="835.9" font-size="3" text-anchor="middle" font-weight="normal" fill="#444">10</text>
<text x="755.5" y="835.9" font-size="3" text-anchor="middle" font-weight="normal" fill="#444">10</text>
<text x="773.5" y="835.9" font-size="3" text-anchor="middle" font-weight="normal" fill="#444">10</text>
<text x="791.4" y="835.9" font-size="3" text-anchor="middle" font-weight="normal" fill="#444">10</text>
<rect x="691.3" y="849.7" width="111.5" height="111.3" fill="#fff" stroke="#999" stroke-width="0.9"/>
<rect x="701.7" y="854.7" width="89.8" height="95.2" fill="none" stroke="#555" stroke-width="0.7"/>
<text x="702.4" y="854" font-size="4.1" font-weight="normal" fill="#444">Plot P02, gated on P01.R1</text>
<g filter="url(#soft)"><ellipse cx="719.2" cy="873.7" rx="6.7" ry="17.6" fill="#ff0000"/><ellipse cx="723.7" cy="877.5" rx="9.9" ry="20" fill="#ff2020" opacity="0.3"/></g>
<path d="M716.5 881h.7m7.8 20h.7m-13.7 -37.5h.7m1.3 5.5h.7m7.8 -8.5h.7m-2.2 20h.7m-3.2 -15.5h.7m-4.2 -7.5h.7m12.3 25.5h.7m1.3 -3.5h.7m-9.7 -14h.7m3.3 23.5h.7m1.8 7h.7m-4.7 -18h.7m-10.2 -17.5h.7m9.3 40.5h.7m-2.7 -37h.7m1.3 26.5h.7m-12.2 -5h.7m0.8 -11h.7m7.3 0.5h.7m-11.7 4.5h.7m-0.7 5h.7m-3.2 -18h.7m7.3 -3h.7m3.3 14.5h.7m8.3 2.5h.7m-4.7 -23.5h.7m-0.7 30h.7m0.8 8.5h.7m-12.7 -31h.7m3.8 24.5h.7m-6.2 -7h.7m8.8 -10.5h.7m-3.2 23.5h.7m-4.7 9h.7m-4.2 -1.5h.7m-3.2 -8.5h.7m8.3 -12h.7m1.8 -6.5h.7m-5.2 -6.5h.7m0.8 23h.7m1.8 -7.5h.7m-2.2 10.5h.7m11.8 12.5h.7m-21.7 -47h.7m0.3 8h.7m16.8 -0.5h.7m-11.2 2.5h.7m-12.2 -15h.7m5.8 5h.7m1.3 6h.7m7.3 14.5h.7m-10.7 -14.5h.7m7.3 0.5h.7m1.8 29.5h.7m-14.7 -40h.7m9.8 9h.7m-7.2 2h.7m3.3 23h.7m-4.2 -22.5h.7m4.8 20.5h.7m2.8 -7.5h.7m2.8 -17h.7m-0.7 18.5h.7m-1.2 -4.5h.7m-6.2 20h.7m-6.2 -12h.7m6.8 13h.7m-4.2 3.5h.7m-5.7 -29.5h.7m-1.2 -14h.7m12.8 19h.7m-10.7 -1h.7m-3.2 3h.7m-5.2 -9.5h.7m4.3 -12h.7m-6.2 6h.7m8.3 17.5h.7m-11.2 -6h.7m0.8 6h.7m11.3 0.5h.7m4.3 2.5h.7m-2.2 -11.5h.7m-8.2 -13.5h.7m-0.2 8h.7m-5.2 15.5h.7m5.3 -16.5h.7m-1.7 12h.7m0.8 -15.5h.7m0.3 3h.7m-2.7 -1h.7m3.3 -7h.7m-2.2 12.5h.7m-6.7 10h.7m5.8 -17h.7m-16.7 4h.7m6.3 7h.7m0.8 -17.5h.7m0.8 38h.7m3.8 -28h.7m-7.7 5h.7m0.8 -8.5h.7m1.3 37.5h.7m-0.7 -21.5h.7m-2.2 7.5h.7m-7.7 -20.5h.7m15.8 8.5h.7m-7.2 31h.7m-13.2 -15h.7m2.8 -11.5h.7m10.3 -4h.7m-5.7 11h.7m3.8 0h.7m2.3 -3.5h.7m3.8 -16.5h.7m-13.2 8.5h.7m10.8 -6h.7m2.8 8h.7m-18.7 -10h.7m0.8 11h.7m10.3 -0.5h.7m-9.7 -8.5h.7m11.3 -10h.7m-6.7 1h.7m-9.7 24h.7m-5.2 15h.7m18.3 -40.5h.7m-16.7 12.5h.7m3.8 -8.5h.7m7.3 48.5h.7m-7.7 -26.5h.7m-2.2 -11h.7m-1.7 -1.5h.7m3.3 -4h.7m-0.2 -5.5h.7m14.8 15h.7m-1.2 2.5h.7m-7.2 2.5h.7m-3.7 -1.5h.7m-18.2 -15.5h.7m45.3 45.5h.7m-41.2 5h.7m20.3 -22.5h.7m9.8 -23h.7m-12.2 29.5h.7m-12.2 -23h.7m7.8 11.5h.7m-12.2 -9h.7m3.3 19h.7m0.3 -2h.7m5.3 -26.5h.7m7.8 22.5h.7m-12.7 9.5h.7m3.3 -3.5h.7m4.3 -7.5h.7m-7.2 4h.7m-12.2 25h.7m-9.7 -43h.7m4.3 -1.5h.7m8.8 -17h.7m17.3 10.5h.7m-19.2 11.5h.7m14.8 12h.7m-13.7 -6h.7m5.3 -6.5h.7m-9.2 6h.7m-9.7 14.5h.7m24.8 -24h.7m-12.7 23h.7m-15.2 -4h.7m9.3 23.5h.7m12.3 -11.5h.7m-8.7 -30.5h.7m-7.7 36h.7m5.3 -28.5h.7m-9.7 1h.7m1.3 -1h.7m22.8 -14.5h.7m-24.2 18h.7m10.3 -21h.7m-18.2 17.5h.7m20.3 2h.7m8.8 3h.7m-16.7 -12h.7m-6.2 19.5h.7m2.8 -4h.7m-1.7 -2.5h.7m15.8 1h.7m-1.7 -7.5h.7m-25.7 17h.7m10.8 -40.5h.7m17.8 21.5h.7m-4.7 -2.5h.7m-21.7 15.5h.7m19.8 2h.7m-1.7 4.5h.7m-22.2 -39.5h.7m16.8 46.5h.7m20.3 -47h.7m-27.2 8.5h.7m-0.2 -1h.7m0.8 11h.7m6.8 3h.7m10.8 20h.7m-15.2 -28.5h.7m-1.7 -6.5h.7m-4.7 4h.7m7.3 1.5h.7m-9.7 28h.7m0.8 -20.5h.7m-16.2 4h.7m24.3 -4.5h.7m-16.7 13h.7m24.8 -7h.7m-24.7 -20h.7m-5.2 -1.5h.7m6.8 3.5h.7m-14.7 21.5h.7m23.8 -16h.7m-15.2 7.5h.7m9.8 5.5h.7m-10.7 -18h.7m-0.7 34.5h.7m3.3 -27h.7m-13.2 -18.5h.7m19.3 19.5h.7m-14.7 34.5h.7m0.8 -26.5h.7m-11.7 -7.5h.7m28.3 -13.5h.7m-33.2 5.5h.7m25.8 -10.5h.7m-8.7 24h.7m-2.2 -4.5h.7m-16.7 48h.7m15.8 -17h.7m-0.7 -46h.7m-16.2 -7h.7m14.3 7h.7m15.3 16h.7m-14.2 35.5h.7m-14.7 -14.5h.7m18.3 34.5h.7m-26.2 -73.5h.7m1.8 15.5h.7m9.8 -6h.7m-12.7 11.5h.7m13.8 40.5h.7m-12.2 -48h.7m7.8 -9.5h.7m18.8 15h.7m-17.7 -22.5h.7m-6.2 36.5h.7m20.3 2.5h.7m-7.2 -12.5h.7m16.3 18.5h.7m-10.7 -37h.7m-6.2 9.5h.7m-12.7 -13.5h.7m15.3 34h.7m-4.7 -6h.7m-2.2 1.5h.7m3.8 -24.5h.7m-15.2 10h.7m7.3 10.5h.7m-7.2 -31h.7m2.8 -1.5h.7m-0.2 44.5h.7m-15.7 13h.7m14.3 -32.5h.7m1.8 3h.7m2.3 -11h.7m-19.2 14h.7m13.3 9.5h.7m2.8 -23h.7m0.3 -11h.7m-9.7 1h.7m-4.7 25.5h.7m-8.2 6h.7m20.8 -13h.7m-16.2 23h.7m1.3 -24.5h.7m15.8 -16.5h.7m-2.7 5.5h.7m4.3 4h.7m-16.7 17h.7m4.8 -20.5h.7m7.8 34h.7m-12.7 -30.5h.7m-5.7 28h.7m-0.2 -12.5h.7m12.8 16h.7m-3.2 -25.5h.7m6.3 5h.7m-14.7 35h.7m0.8 -34h.7m-4.2 14h.7m-6.2 -10h.7m3.3 39.5h.7m11.8 -46.5h.7m-4.7 -12.5h.7m-1.2 29.5h.7m-1.7 -29.5h.7m3.3 6.5h.7m0.8 17h.7m-5.2 8.5h.7m-3.2 -25.5h.7m-6.2 46.5h.7m7.3 -32h.7m-16.7 -8h.7m26.8 25.5h.7m-35.2 -46.5h.7m27.8 8.5h.7m-11.7 46.5h.7m-11.2 -35h.7m1.8 -2.5h.7m12.8 -4h.7m-9.7 11h.7m-8.2 -28h.7m7.3 28.5h.7m20.8 22.5h.7m-36.2 -51h.7m18.3 38.5h.7m6.3 9h.7m-24.7 -38.5h.7m9.8 4.5h.7m20.8 29.5h.7m-6.2 -25.5h.7m-13.7 27h.7m-7.7 0.5h.7m-0.7 -19.5h.7m5.3 7.5h.7m25.8 -31.5h.7m-19.2 39h.7m-5.2 -35h.7m-10.7 26h.7m9.8 10h.7m19.3 -3.5h.7m-6.7 -0.5h.7m-1.7 -7h.7m-9.7 26.5h.7m8.3 -31h.7m-0.7 -9h.7m-25.7 15.5h.7m6.8 -3h.7m7.8 -28.5h.7m5.3 17h.7m-13.2 25h.7m20.3 -22.5h.7m-21.7 30.5h.7m4.8 -34h.7m-2.7 -15.5h.7m11.8 0h.7m-15.7 27h.7m-5.7 5h.7m11.8 17h.7m1.8 -43h.7m1.8 31.5h.7m-11.7 -11.5h.7m8.8 6h.7m-3.7 -8.5h.7m5.8 -10h.7m-11.2 13h.7m-3.7 11h.7m7.3 -20.5h.7m3.3 -6.5h.7m-6.2 -12h.7m18.8 10.5h.7m-31.2 0.5h.7m3.8 22.5h.7m2.8 15.5h.7m-12.7 -14.5h.7m24.8 -21h.7m-0.2 -3.5h.7m-16.2 18.5h.7m-2.7 -16h.7m-1.2 3.5h.7m-8.7 -4.5h.7m-7.7 20h.7m14.8 -21.5h.7m-9.2 14h.7m4.3 8h.7m7.3 17h.7m6.3 -18.5h.7m-21.2 -7.5h.7m4.3 -3h.7m15.3 42.5h.7m-21.7 -35h.7m12.8 21.5h.7m-12.7 -9.5h.7m-11.7 -30.5h.7m22.8 8h.7m-9.7 -4h.7m-1.2 29h.7m-7.2 -22.5h.7m7.8 7h.7m6.3 -4h.7m24.3 -18.5h.7m-31.7 7.5h.7m0.3 -5h.7m-10.2 45h.7m10.8 -33h.7m8.8 -2.5h.7m-12.7 25h.7m5.3 1h.7m4.3 -42h.7m-18.7 32.5h.7m13.8 2h.7m11.3 -2h.7m-12.2 -2.5h.7m-21.7 8.5h.7m29.8 -1.5h.7m-18.2 4.5h.7m9.8 -19h.7m-15.2 -9.5h.7m-2.2 41h.7m0.3 -49.5h.7m3.3 36h.7m-15.2 -11h.7m15.8 18h.7m1.8 -31h.7m0.8 38.5h.7m18.3 -12.5h.7m-35.2 -8.5h.7m20.3 2h.7m-25.7 -6.5h.7m11.8 -12.5h.7m10.3 13h.7m-11.7 -12h.7m8.8 19.5h.7m-4.7 11.5h.7m-0.7 -13.5h.7m-11.7 37h.7m-2.7 -11.5h.7m-1.2 20h.7m2.3 0h.7m-4.7 -26h.7m3.8 12h.7m-3.2 4.5h.7m4.8 11h.7m-3.7 -3h.7m-2.7 -18h.7m3.8 22h.7m-1.2 -22h.7m-5.2 8h.7m5.8 16h.7m3.8 -38.5h.7m-16.2 30h.7m-0.2 5h.7m5.3 -24.5h.7m1.8 30.5h.7m-3.7 -2h.7m-2.7 -8.5h.7m1.8 -19.5h.7m2.3 -0.5h.7m-7.7 -11h.7m2.3 10.5h.7m3.3 21h.7m-0.7 -14h.7m-8.7 10.5h.7m8.3 -6.5h.7m-3.7 4h.7m-3.2 -12.5h.7m8.3 5h.7m-5.2 -20.5h.7m-0.7 24h.7m-1.2 -4h.7m5.8 -9.5h.7m-11.2 13h.7m-1.7 -3h.7m7.8 18.5h.7m-9.2 5.5h.7m-3.7 -13.5h.7m0.8 6.5h.7m8.3 4.5h.7m-12.2 0.5h.7m8.8 -10h.7m1.8 8h.7m-11.2 -40.5h.7m9.3 17.5h.7m-5.7 -14h.7m1.8 19.5h.7m-2.7 5h.7m-0.7 7.5h.7m-2.2 4h.7m0.8 -23.5h.7m-8.2 -9.5h.7m11.3 23h.7m-9.7 -9h.7m6.8 -11.5h.7m-0.2 -1h.7m-6.7 12.5h.7m-6.2 -7h.7m1.3 -9h.7m-3.2 -3.5h.7m8.3 40.5h.7m-6.7 -13.5h.7m3.8 5.5h.7m-5.7 -5.5h.7m-3.2 -14h.7m3.3 -4h.7m5.3 3.5h.7m-10.2 27h.7m13.3 -7h.7m-8.2 -17h.7m-3.2 -7.5h.7m4.8 20.5h.7m-8.7 -29h.7m3.8 23h.7m-6.7 11h.7m8.8 -20.5h.7m-8.2 11.5h.7m5.8 12h.7m-3.2 -22h.7m-0.2 5h.7m-2.2 25h.7m-2.7 -31.5h.7m0.8 2.5h.7m-3.2 -11h.7m-3.2 10h.7m4.3 28.5h.7m4.3 -7h.7m-3.7 3.5h.7m-0.2 -7h.7m1.8 -19h.7m-5.2 4h.7m-2.2 26.5h.7m5.3 -6.5h.7m0.8 -32h.7m-2.7 15.5h.7m-8.2 16.5h.7m6.8 -17h.7m-0.7 -6h.7m-4.7 -10h.7m4.8 21h.7m-10.7 -14h.7m5.3 16h.7m0.8 -19h.7m-1.2 26.5h.7m2.3 -23h.7m0.8 -7.5h.7m-7.7 4.5h.7" stroke="#ff3030" stroke-width="0.8" fill="none" opacity="0.8"/>
<line x1="728.6" y1="854.7" x2="728.6" y2="949.9" stroke="#e84a4a" stroke-width="0.8"/>
<line x1="701.7" y1="909.9" x2="791.4" y2="909.9" stroke="#e84a4a" stroke-width="0.8"/>
<circle cx="728.6" cy="909.9" r="1.2" fill="none" stroke="#e84a4a" stroke-width="0.7"/>
<circle cx="769" cy="909.9" r="1.2" fill="none" stroke="#e84a4a" stroke-width="0.7"/>
<text x="730.6" y="906.9" font-size="3.2" font-weight="normal" fill="#e84a4a">R2</text>
<text x="703.7" y="860.2" font-size="5.1">81.59%</text>
<text x="789.4" y="860.2" font-size="5.1" text-anchor="end">8.34%</text>
<text x="703.7" y="947.9" font-size="5.1">8.50%</text>
<text x="789.4" y="947.9" font-size="5.1" text-anchor="end">1.56%</text>
<text x="746.5" y="959.7" font-size="4.1" text-anchor="middle" font-weight="normal" fill="#444">Red-R Fluorescence (RED-R-HLog)</text>
<text x="695.5" y="902.3" font-size="4.1" text-anchor="middle" font-weight="normal" fill="#444" transform="rotate(-90 695.5 902.3)">Green-B Fluorescence (GRN-B-HLog)</text>
<text x="701.7" y="954.4" font-size="3" text-anchor="middle" font-weight="normal" fill="#444">10</text>
<text x="719.6" y="954.4" font-size="3" text-anchor="middle" font-weight="normal" fill="#444">10</text>
<text x="737.6" y="954.4" font-size="3" text-anchor="middle" font-weight="normal" fill="#444">10</text>
<text x="755.5" y="954.4" font-size="3" text-anchor="middle" font-weight="normal" fill="#444">10</text>
<text x="773.5" y="954.4" font-size="3" text-anchor="middle" font-weight="normal" fill="#444">10</text>
<text x="791.4" y="954.4" font-size="3" text-anchor="middle" font-weight="normal" fill="#444">10</text>
<rect x="809.8" y="731.2" width="111.5" height="111.3" fill="#fff" stroke="#999" stroke-width="0.9"/>
<rect x="820.2" y="736.2" width="89.8" height="95.2" fill="none" stroke="#555" stroke-width="0.7"/>
<text x="820.9" y="735.5" font-size="4.1" font-weight="normal" fill="#444">Plot P02, gated on P01.R1</text>
<g filter="url(#soft)"><ellipse cx="837.7" cy="755.2" rx="6.7" ry="17.6" fill="#ff0000"/><ellipse cx="837.7" cy="759" rx="7.2" ry="20" fill="#ff2020" opacity="0.3"/></g>
<path d="M841 760h.7m-7.7 24h.7m-5.7 -28h.7m13.3 9.5h.7m-2.2 -24.5h.7m5.8 4h.7m-11.2 10.5h.7m-0.2 -7.5h.7m7.8 8.5h.7m-6.2 -4h.7m-1.7 6.5h.7m-0.2 -4.5h.7m-2.7 3h.7m-0.2 -1h.7m-4.2 5.5h.7m-3.2 24h.7m8.8 -8h.7m-13.7 -34h.7m4.3 6h.7m0.3 14.5h.7m-11.2 15.5h.7m10.3 -22.5h.7m-8.7 1.5h.7m1.3 3.5h.7m8.8 -4.5h.7m-3.2 -6.5h.7m-1.7 17h.7m1.3 -9.5h.7m12.3 -2.5h.7m-27.2 0.5h.7m17.3 -17h.7m-11.7 12.5h.7m6.3 16.5h.7m-2.2 -23h.7m3.8 -4.5h.7m-12.7 -2.5h.7m5.8 10h.7m0.8 7h.7m12.3 5.5h.7m-12.7 -18.5h.7m10.3 5.5h.7m-14.7 8.5h.7m0.3 6h.7m-1.2 -3.5h.7m3.3 20h.7m-8.2 -32.5h.7m8.8 0.5h.7m-4.2 4.5h.7m1.8 1.5h.7m7.3 2.5h.7m-11.7 -14.5h.7m2.3 22h.7m10.3 -20h.7m-14.2 27h.7m-12.7 -6h.7m20.8 -8.5h.7m-11.2 17.5h.7m0.8 -14h.7m2.8 -15.5h.7m5.3 6h.7m-11.7 -0.5h.7m-2.7 5.5h.7m7.8 39h.7m-3.2 -40.5h.7m-8.2 22.5h.7m-0.7 -21h.7m10.3 -1.5h.7m-8.7 4h.7m-9.2 -4h.7m9.3 7h.7m-5.7 6h.7m-0.7 -24.5h.7m6.3 21.5h.7m-2.7 1h.7m2.8 -2h.7m-3.2 20h.7m-8.7 5.5h.7m7.3 -43h.7m1.3 25.5h.7m-11.2 -12.5h.7m10.8 9.5h.7m-5.2 -27.5h.7m-1.2 47.5h.7m-5.7 12.5h.7m4.3 -45.5h.7m-3.2 3.5h.7m3.3 -17.5h.7m9.3 33h.7m-14.2 -20.5h.7m5.8 1h.7m-11.2 -1h.7m4.3 2.5h.7m5.3 -10.5h.7m-13.7 28h.7m12.8 -35.5h.7m-1.7 10.5h.7m-1.2 15.5h.7m-12.2 -23h.7m0.3 2h.7m5.3 11.5h.7m-4.2 -2h.7m10.3 12h.7m-5.2 -18.5h.7m-6.7 -8h.7m2.3 12.5h.7m-3.7 -3.5h.7m-4.2 19.5h.7m9.8 7h.7m-2.2 -20h.7m2.3 -16h.7m-13.2 32h.7m9.8 -9.5h.7m3.8 -4.5h.7m-6.7 7h.7m-8.2 -1h.7m8.8 -6.5h.7m-7.7 -11h.7m-9.2 0h.7m18.8 30h.7m-8.7 -29.5h.7m6.3 27.5h.7m-4.2 -26.5h.7m0.8 24h.7m-7.7 -25.5h.7m-0.2 15.5h.7m3.8 4h.7m-2.7 -15h.7m0.8 22.5h.7m-1.7 -5h.7m-1.7 -20.5h.7m-2.7 8h.7m-6.7 0h.7m4.3 5h.7m6.8 -0.5h.7m-7.2 1.5h.7m-4.2 4h.7m12.3 0.5h.7m-0.2 -14.5h.7m-18.2 14.5h.7m21.3 -20h.7m-4.2 4.5h.7m-1.2 -1h.7m-10.2 15h.7m-7.7 -5h.7m6.8 11.5h.7m1.3 -11h.7m-2.7 25.5h.7m2.8 -24.5h.7m-14.7 19h.7m13.8 5h.7m4.8 -0.5h.7m3.8 -4.5h.7m-7.2 4h.7m0.3 2.5h.7m-2.2 -1h.7m-2.7 7.5h.7m-6.7 -29.5h.7m3.8 18.5h.7m8.3 -34h.7m0.8 20h.7m-17.2 18.5h.7m7.8 13.5h.7m-18.2 3h.7m17.8 6.5h.7m-5.7 -61.5h.7m-0.7 26.5h.7m5.8 24.5h.7m-20.7 -53h.7m15.3 18.5h.7m5.8 43h.7m7.3 -25.5h.7m-8.2 11.5h.7m-7.2 -22h.7m5.8 25h.7m-9.2 -21h.7m-12.7 10.5h.7m12.8 -28h.7m8.3 22h.7m-18.2 -6.5h.7m-1.2 -10.5h.7m-1.7 19h.7m-3.2 -17h.7m11.3 9.5h.7m-0.2 -11h.7m-6.2 22h.7m1.3 13h.7m-1.7 -17h.7m0.3 19.5h.7m-5.2 -5.5h.7m14.3 -5.5h.7m0.8 -30.5h.7m-22.7 6h.7m8.3 22h.7m-1.2 -19h.7m1.3 45.5h.7m-3.2 -36h.7m6.3 34h.7m-12.2 -69.5h.7m7.8 19h.7m11.3 -14h.7m-9.2 43.5h.7m2.3 22h.7m-10.2 -59.5h.7m5.3 45.5h.7m-4.2 -25.5h.7m8.8 -15.5h.7m4.3 -11h.7m-20.2 30h.7m-0.7 18.5h.7m0.8 -27h.7m1.8 34.5h.7m1.3 -28h.7m7.8 -14h.7m-18.7 17.5h.7m11.8 -19.5h.7m-5.2 28h.7m-0.7 -2h.7m0.3 23.5h.7m-10.2 6h.7m-4.2 -28h.7m21.8 -44h.7m-6.7 12.5h.7m3.8 57h.7m-0.7 -39.5h.7m-7.2 -23h.7m-4.2 19.5h.7m-6.7 19.5h.7m9.3 22.5h.7m-3.7 -24.5h.7m-6.7 18.5h.7m2.3 -40.5h.7m-5.7 29.5h.7m10.8 -23.5h.7m-0.2 28.5h.7m-2.2 -7.5h.7m-3.2 -2h.7m7.8 -5.5h.7m-17.2 6h.7m24.3 -32h.7m-22.2 23h.7m-0.7 -17.5h.7m-8.7 -11h.7m17.8 -7h.7m6.3 32h.7m-12.7 -30h.7m8.3 26h.7m-17.2 23.5h.7m11.8 16h.7m-12.2 -37h.7m1.3 -27h.7m-0.7 18h.7m2.8 11.5h.7m-0.7 2.5h.7m-1.7 -7h.7m3.3 41h.7m-3.7 -50.5h.7m18.3 24h.7m-20.7 -7h.7m-11.2 -9h.7m7.3 -3.5h.7m-2.7 8h.7m18.3 -11h.7m-10.2 40.5h.7m-1.7 -41h.7m3.3 34.5h.7m-11.2 -38h.7m-5.2 9.5h.7m7.8 -2h.7m-2.2 19h.7m4.3 36h.7m-13.2 -73.5h.7m5.3 36h.7m13.8 10h.7m-3.7 -44.5h.7m-6.2 61h.7m1.8 -46h.7m-2.2 40h.7m-2.2 -55.5h.7m4.8 14h.7m-4.2 29.5h.7m-7.7 6h.7m-6.7 5h.7m-0.2 -54.5h.7m5.8 22h.7m3.3 14.5h.7m-3.7 -29h.7m6.8 -5.5h.7m-6.7 33.5h.7m-13.7 -7h.7m14.3 -7.5h.7m4.3 12.5h.7m-12.7 -18h.7m-0.2 -21.5h.7m11.8 77h.7m0.3 -32.5h.7m-9.2 -22h.7m-2.2 42h.7m-2.7 -27.5h.7m11.3 4.5h.7m-7.2 0.5h.7m-4.2 16.5h.7m5.8 -16.5h.7m-7.7 6.5h.7m0.8 -39h.7m4.3 18h.7m-7.7 -5h.7m11.3 17h.7m-15.2 -9h.7m0.3 34h.7m-0.2 -38.5h.7m2.8 3.5h.7m-7.7 21.5h.7m6.8 -3.5h.7m-12.2 0h.7m6.8 -2.5h.7m-3.2 -2.5h.7m12.8 25h.7m-16.7 -21h.7m-2.7 28h.7m-0.2 8.5h.7m10.8 -14.5h.7m-6.2 -14h.7m-0.7 27h.7m-1.2 -32.5h.7m-1.2 28.5h.7m3.3 0h.7m-7.7 -28h.7m-3.2 24h.7m8.3 -15.5h.7m-7.7 13.5h.7m10.8 -23h.7m-7.7 8h.7m3.3 4.5h.7m-2.7 12.5h.7m-1.2 -13.5h.7m3.8 9.5h.7m-4.7 -13.5h.7m1.3 21h.7m4.8 -13.5h.7m-11.7 3h.7m-2.7 -11h.7m2.3 1h.7m3.3 -12.5h.7m-1.7 -2.5h.7m-4.7 8h.7m4.3 0h.7m-7.7 -7h.7m0.3 25.5h.7m6.3 -22h.7m-2.7 19h.7m-9.2 19.5h.7m7.3 -35h.7m1.8 31.5h.7m-1.7 -7.5h.7m-4.7 -17.5h.7m2.3 12.5h.7m-4.7 0h.7m-4.2 -0.5h.7m1.3 -17h.7m1.8 13h.7m3.8 -4.5h.7m-6.7 17.5h.7m2.8 -16h.7m-4.7 2h.7m4.3 -6.5h.7m-2.2 7h.7m-0.2 -13h.7m-2.2 -6.5h.7m2.3 13h.7m-2.2 25h.7m-0.7 -32.5h.7m-1.7 34h.7m3.3 -4h.7m2.8 -4h.7m-8.7 -30.5h.7m-0.7 15.5h.7m9.3 -13h.7m-12.7 23.5h.7m5.8 0h.7m-6.7 -4h.7m2.3 3.5h.7m-10.2 -9.5h.7m18.3 -16.5h.7m-13.7 11.5h.7m6.3 19.5h.7m-5.2 -2h.7m-3.7 3h.7m5.3 -36h.7m10.8 43.5h.7m-13.7 -43.5h.7m-8.7 38h.7m7.3 2h.7m1.8 -18h.7m2.3 18h.7m-8.2 -12h.7m6.3 -11h.7m-7.7 -4h.7m-2.2 32h.7m1.3 -2.5h.7m6.3 -3.5h.7m-10.7 -11h.7m5.3 -18.5h.7m-2.7 12h.7m0.3 8.5h.7m-0.7 4.5h.7m4.3 7h.7m-9.2 -28.5h.7m1.8 -13h.7m3.8 3.5h.7m-7.7 37h.7m6.8 -19.5h.7m-7.7 21h.7m-0.2 -9h.7m0.3 0.5h.7m0.3 -16h.7m-0.7 22h.7m-3.7 -12h.7m-2.2 -14.5h.7m2.8 2.5h.7m-2.7 -11.5h.7m6.3 2h.7" stroke="#ff3030" stroke-width="0.8" fill="none" opacity="0.8"/>
<line x1="847.1" y1="736.2" x2="847.1" y2="831.4" stroke="#e84a4a" stroke-width="0.8"/>
<line x1="820.2" y1="791.4" x2="909.9" y2="791.4" stroke="#e84a4a" stroke-width="0.8"/>
<circle cx="847.1" cy="791.4" r="1.2" fill="none" stroke="#e84a4a" stroke-width="0.7"/>
<circle cx="887.5" cy="791.4" r="1.2" fill="none" stroke="#e84a4a" stroke-width="0.7"/>
<text x="849.1" y="788.4" font-size="3.2" font-weight="normal" fill="#e84a4a">R2</text>
<text x="822.2" y="741.7" font-size="5.1">86.62%</text>
<text x="907.9" y="741.7" font-size="5.1" text-anchor="end">3.55%</text>
<text x="822.2" y="829.4" font-size="5.1">8.99%</text>
<text x="907.9" y="829.4" font-size="5.1" text-anchor="end">0.84%</text>
<text x="865" y="841.2" font-size="4.1" text-anchor="middle" font-weight="normal" fill="#444">Red-R Fluorescence (RED-R-HLog)</text>
<text x="814" y="783.8" font-size="4.1" text-anchor="middle" font-weight="normal" fill="#444" transform="rotate(-90 814 783.8)">Green-B Fluorescence (GRN-B-HLog)</text>
<text x="820.2" y="835.9" font-size="3" text-anchor="middle" font-weight="normal" fill="#444">10</text>
<text x="838.1" y="835.9" font-size="3" text-anchor="middle" font-weight="normal" fill="#444">10</text>
<text x="856.1" y="835.9" font-size="3" text-anchor="middle" font-weight="normal" fill="#444">10</text>
<text x="874" y="835.9" font-size="3" text-anchor="middle" font-weight="normal" fill="#444">10</text>
<text x="892" y="835.9" font-size="3" text-anchor="middle" font-weight="normal" fill="#444">10</text>
<text x="909.9" y="835.9" font-size="3" text-anchor="middle" font-weight="normal" fill="#444">10</text>
<rect x="809.8" y="849.7" width="111.5" height="111.3" fill="#fff" stroke="#999" stroke-width="0.9"/>
<rect x="820.2" y="854.7" width="89.8" height="95.2" fill="none" stroke="#555" stroke-width="0.7"/>
<text x="820.9" y="854" font-size="4.1" font-weight="normal" fill="#444">Plot P02, gated on P01.R1</text>
<g filter="url(#soft)"><ellipse cx="837.7" cy="873.7" rx="6.7" ry="17.6" fill="#ff0000"/><ellipse cx="842.2" cy="877.5" rx="9.9" ry="20" fill="#ff2020" opacity="0.3"/></g>
<path d="M837 871.5h.7m-0.7 12.5h.7m1.8 -14h.7m-3.7 5.5h.7m1.8 15h.7m1.3 -15h.7m-8.2 -16h.7m4.8 33h.7m-1.7 -20.5h.7m-2.7 8.5h.7m5.8 -10h.7m-3.7 7h.7m1.8 -19.5h.7m-19.2 7h.7m8.3 21h.7m7.8 -29.5h.7m0.3 3h.7m-5.7 10h.7m0.8 16h.7m1.8 -7h.7m-0.7 2h.7m-7.2 -17h.7m-0.2 17.5h.7m0.8 26h.7m-3.7 -49h.7m7.8 36h.7m-2.2 -8.5h.7m4.3 -13h.7m-16.2 -6.5h.7m7.3 11.5h.7m-2.7 6.5h.7m4.3 23h.7m-0.7 -42h.7m-7.2 -3h.7m7.8 3.5h.7m-6.2 19h.7m-4.2 -15h.7m-6.7 -11h.7m5.8 21h.7m8.8 -6h.7m-5.7 2.5h.7m3.8 10.5h.7m-5.2 -27h.7m2.8 19.5h.7m1.3 -5.5h.7m2.8 -5h.7m-2.2 7h.7m-12.2 -18h.7m1.3 36.5h.7m4.3 -10.5h.7m-17.7 0.5h.7m14.8 -18h.7m-6.7 7.5h.7m11.8 -15h.7m-12.2 34.5h.7m-0.7 -24.5h.7m1.8 -12.5h.7m0.3 0.5h.7m2.8 17.5h.7m6.8 3.5h.7m-13.7 1h.7m5.3 3.5h.7m2.3 2h.7m-8.7 -17.5h.7m-7.7 10h.7m4.8 26h.7m-2.7 -24h.7m-6.2 -10.5h.7m9.3 17.5h.7m5.8 -12.5h.7m-14.7 7.5h.7m8.3 0.5h.7m-7.2 9h.7m3.3 -6.5h.7m5.8 -1h.7m-6.2 22h.7m-0.7 -35h.7m-1.2 25.5h.7m-0.7 -14h.7m4.8 -14.5h.7m-16.2 11.5h.7m9.8 -13h.7m2.8 17.5h.7m-10.7 -1.5h.7m6.8 -8h.7m-7.2 8h.7m6.3 -15.5h.7m-1.2 22.5h.7m-6.7 -9h.7m2.8 27h.7m-10.7 -22.5h.7m7.8 -11h.7m11.3 1h.7m0.8 -6h.7m-10.7 -1h.7m-6.2 8h.7m1.3 2h.7m-10.2 26h.7m9.8 -4h.7m-5.7 -20.5h.7m21.8 -16.5h.7m-25.7 4.5h.7m9.8 17.5h.7m3.8 -13.5h.7m-16.2 -2.5h.7m14.8 13h.7m-18.2 -7.5h.7m17.3 31h.7m-5.2 -26h.7m-10.2 -16.5h.7m6.3 19.5h.7m2.3 -14h.7m-10.2 -4.5h.7m-0.7 20.5h.7m-7.2 -14h.7m14.3 26.5h.7m-2.7 -7.5h.7m-3.2 -25h.7m-2.2 32.5h.7m8.3 -15h.7m11.8 -7h.7m-15.2 4.5h.7m-5.2 29h.7m-1.7 -27h.7m1.3 -7.5h.7m1.3 -9.5h.7m-0.7 16h.7m2.8 6h.7m-7.2 8h.7m-0.2 -28.5h.7m-2.7 1h.7m-9.7 10.5h.7m12.3 -7.5h.7m-5.7 10.5h.7m12.3 -4.5h.7m-12.7 -9h.7m1.8 -10h.7m-1.2 19h.7m9.8 12.5h.7m-5.2 -23.5h.7m-2.2 -6h.7m-2.7 22h.7m-6.7 23h.7m6.3 -34.5h.7m-3.7 12.5h.7m-6.7 4.5h.7m12.3 16h.7m19.3 -15h.7m-28.2 33.5h.7m13.8 -52h.7m-2.7 5h.7m1.3 43.5h.7m-11.7 -30.5h.7m9.3 -17.5h.7m3.8 15h.7m-16.7 32h.7m16.8 -37h.7m-15.2 -11.5h.7m17.8 12h.7m-8.2 -0.5h.7m0.8 1h.7m0.8 -1h.7m-0.2 16h.7m-9.7 -29h.7m-9.2 2.5h.7m-1.2 30.5h.7m8.8 13h.7m22.3 -29h.7m-38.7 -8h.7m12.3 13h.7m-2.7 -20.5h.7m-3.7 49h.7m5.3 -50h.7m-2.7 34h.7m-4.2 -9h.7m13.3 5h.7m6.3 -24.5h.7m-3.7 -4.5h.7m-15.7 37.5h.7m11.3 -22.5h.7m-20.7 10.5h.7m4.8 -28h.7m-0.7 22h.7m-15.2 2h.7m21.8 -18h.7m7.8 23h.7m-16.7 -24.5h.7m1.8 1h.7m3.3 16h.7m-0.7 17.5h.7m0.8 -27.5h.7m-14.7 19.5h.7m16.3 14h.7m-13.2 -27h.7m6.3 -2.5h.7m7.8 14.5h.7m2.3 30h.7m-14.7 -43.5h.7m2.3 38h.7m-17.7 -28h.7m26.8 -25.5h.7m-13.7 -6h.7m7.8 1.5h.7m6.3 2h.7m-21.2 21h.7m6.8 25h.7m0.3 -50h.7m-7.2 12h.7m11.8 18h.7m-8.7 9.5h.7m-5.2 -19h.7m6.3 31.5h.7m-3.2 -36h.7m-10.2 20h.7m3.8 -6.5h.7m-13.7 13h.7m5.3 -34.5h.7m22.8 -10.5h.7m-12.2 27h.7m-9.7 24h.7m-5.2 -10.5h.7m0.8 -22.5h.7m13.3 20.5h.7m-4.2 -11.5h.7m-5.7 23h.7m1.8 -18h.7m-0.7 -4.5h.7m2.8 -5h.7m-9.2 18h.7m23.3 -10.5h.7m-7.7 11.5h.7m1.3 -10.5h.7m-7.7 11h.7m-2.2 -35h.7m-1.2 26h.7m11.3 -5h.7m-3.7 -2.5h.7m-3.7 -4h.7m-1.2 5.5h.7m4.3 18.5h.7m-17.7 -25.5h.7m12.3 28h.7m-7.2 -32h.7m0.8 12h.7m-7.7 24h.7m14.3 -31.5h.7m-11.2 -2.5h.7m-4.7 -17.5h.7m17.8 44.5h.7m-6.2 -40.5h.7m11.8 58.5h.7m-19.2 -55h.7m-11.2 25.5h.7m-1.2 -9h.7m27.8 30.5h.7m-23.2 -49.5h.7m-0.2 54h.7m-9.2 -39.5h.7m-4.7 17.5h.7m11.8 25h.7m3.8 -44h.7m2.8 -3h.7m-19.7 15.5h.7m10.8 -2.5h.7m4.8 -13h.7m-0.2 43h.7m-15.7 0h.7m7.8 -47.5h.7m25.8 17.5h.7m-11.2 12.5h.7m-30.7 -13.5h.7m10.8 -27.5h.7m-13.2 27.5h.7m22.8 5.5h.7m-9.7 -23h.7m-7.7 5h.7m-1.2 6.5h.7m9.3 -13h.7m-2.7 2.5h.7m1.8 24h.7m0.8 -0.5h.7m-18.7 -16.5h.7m18.3 19.5h.7m-19.2 -9h.7m27.3 -6.5h.7m-13.7 12h.7m2.8 4h.7m-2.7 -9.5h.7m-9.2 -6.5h.7m19.8 -0.5h.7m-14.7 -5.5h.7m8.3 -7h.7m0.8 -1.5h.7m-20.2 22h.7m10.8 1.5h.7m8.8 -13.5h.7m-6.7 -9.5h.7m7.3 29.5h.7m-8.2 -8.5h.7m-13.7 -10h.7m12.3 6h.7m-4.2 -13h.7m-13.2 10.5h.7m-8.2 16h.7m26.3 -14h.7m-19.2 -17h.7m10.8 30.5h.7m-5.2 -22h.7m3.8 16h.7m8.3 -6.5h.7m-18.2 -9h.7m7.8 38.5h.7m-5.2 -49.5h.7m-8.7 30.5h.7m11.8 -17h.7m1.8 20.5h.7m-4.7 -39h.7m-2.2 34.5h.7m11.8 -17.5h.7m-15.7 8h.7m13.3 5h.7m-14.2 8h.7m23.8 13.5h.7m-15.2 -48h.7m29.8 -1.5h.7m-41.2 9.5h.7m18.8 21.5h.7m-30.7 -3h.7m18.8 -11h.7m-18.2 -8h.7m6.8 14.5h.7m-1.2 13.5h.7m-3.2 11.5h.7m1.3 19h.7m9.8 -67h.7m-14.2 27h.7m-3.7 40.5h.7m0.8 -32h.7m23.8 -15h.7m-25.2 -3.5h.7m12.8 22h.7m-3.7 -29.5h.7m-22.7 -0.5h.7m6.8 24.5h.7m32.3 24h.7m-25.2 -44h.7m11.3 29h.7m-11.2 -23h.7m24.8 1h.7m-27.2 4h.7m9.8 -21.5h.7m-8.7 -3h.7m-1.2 58h.7m9.8 -37.5h.7m-17.7 -4h.7m19.3 -5h.7m-14.2 44h.7m-17.7 -10.5h.7m0.8 -24.5h.7m15.8 17.5h.7m-4.2 -15h.7m-4.2 -5h.7m-3.7 -3.5h.7m2.8 12.5h.7m13.3 22.5h.7m-12.7 -33h.7m6.3 0h.7m2.3 -11.5h.7m7.3 14.5h.7m-0.7 8h.7m-29.2 -26h.7m23.8 6.5h.7m-19.2 11h.7m8.3 -16h.7m-2.2 10h.7m-22.7 19h.7m16.8 15h.7m0.8 -13.5h.7m7.8 -15h.7m9.8 15h.7m-13.7 -31.5h.7m11.3 36h.7m-4.7 -30.5h.7m8.8 24.5h.7m-20.2 8h.7m9.3 1h.7m-24.2 -32h.7m17.3 20h.7m6.8 -26h.7m-9.2 61.5h.7m5.3 -25.5h.7m-7.7 -2h.7m17.3 -12.5h.7m-6.7 -19h.7m-6.7 34h.7m-14.2 4h.7m0.3 -36.5h.7m5.8 52h.7m2.3 -19h.7m-11.2 -16h.7m-4.7 -12.5h.7m18.8 10h.7m5.8 -3h.7m-17.2 28h.7m14.3 -16.5h.7m-35.2 -7h.7m16.8 32.5h.7m-4.2 -44h.7m-2.2 -9h.7m3.3 7h.7m-7.7 22h.7m10.8 -17.5h.7m-4.7 38.5h.7m6.3 -21h.7m-28.7 -21.5h.7m3.3 4h.7m24.3 -4.5h.7m0.8 -6.5h.7m-8.2 27.5h.7m6.8 -10.5h.7m13.3 -5.5h.7m-2.2 1h.7m-29.7 32h.7m22.8 -23h.7m-26.7 6h.7m7.3 -30.5h.7m10.8 31h.7m13.8 -2.5h.7m-41.2 -22h.7m20.3 22.5h.7m-4.7 12h.7m17.8 17h.7m-19.7 -15h.7m0.3 6.5h.7m-2.7 14.5h.7m-8.7 22.5h.7m-3.7 -24h.7m5.3 -0.5h.7m-3.2 -14h.7m-2.2 38.5h.7m3.8 -41.5h.7m-4.2 41.5h.7m5.3 -4h.7m1.3 -14.5h.7m-2.2 20h.7m-6.7 -36h.7m4.8 -3h.7m-1.2 24.5h.7m-6.7 -1h.7m2.3 6.5h.7m-0.7 -24.5h.7m3.3 -8h.7m-0.2 31.5h.7m-3.7 5h.7m1.3 -24.5h.7m1.8 -15h.7m0.8 39h.7m-6.2 -28h.7m-0.2 -3.5h.7m-3.2 -7h.7m-0.7 35.5h.7m0.3 -28.5h.7m2.3 -5.5h.7m-4.2 32h.7m-5.7 -12.5h.7m5.3 -16.5h.7m-6.2 18h.7m4.8 12.5h.7m-2.2 4h.7m-4.7 4h.7m3.3 -41h.7m-4.2 28.5h.7m3.8 -9h.7m0.3 -18.5h.7m-3.2 24h.7m3.3 1h.7m-2.2 -3.5h.7m-8.2 -1h.7m16.8 -3.5h.7m-13.7 11.5h.7m-0.2 6.5h.7m-3.7 -6h.7m-2.2 -23h.7m2.3 5.5h.7m2.8 5.5h.7m-3.2 -1.5h.7m1.8 11h.7m-3.2 12h.7m2.3 -39h.7m-1.2 1h.7m-3.2 29.5h.7m2.8 -7h.7m-7.2 -1h.7m2.8 -9.5h.7m2.3 14h.7m-2.7 2.5h.7m-8.7 11.5h.7m4.3 -18h.7m0.3 -16.5h.7m-0.2 -5h.7m-1.7 34h.7m-2.7 -12.5h.7m8.8 10.5h.7m0.3 0.5h.7m-15.7 -9h.7m7.8 14h.7m-0.7 -4.5h.7m-0.2 -5.5h.7m1.8 -18h.7m-3.2 25.5h.7m-0.2 -14h.7m-2.7 3h.7m2.3 -27.5h.7m-2.2 18h.7m-3.2 -3.5h.7m-2.7 19.5h.7m8.8 -9.5h.7m-4.7 -18.5h.7m-1.2 21h.7m-2.7 2h.7m-2.2 -8h.7m-0.7 12h.7m3.3 -29h.7m-4.7 25.5h.7m3.8 -8.5h.7m-2.7 -4h.7m-1.2 9h.7m3.8 -17.5h.7m-4.2 -3.5h.7m-0.7 -6h.7m2.8 34h.7m-2.2 -2h.7m0.8 -9.5h.7m-0.7 -19.5h.7m-10.7 36h.7m6.8 3h.7m-1.2 -3h.7m-5.7 -7h.7m1.3 -13h.7m2.3 -4.5h.7m-0.7 22h.7m-6.7 5h.7m-0.2 -37.5h.7" stroke="#ff3030" stroke-width="0.8" fill="none" opacity="0.8"/>
<line x1="847.1" y1="854.7" x2="847.1" y2="949.9" stroke="#e84a4a" stroke-width="0.8"/>
<line x1="820.2" y1="909.9" x2="909.9" y2="909.9" stroke="#e84a4a" stroke-width="0.8"/>
<circle cx="847.1" cy="909.9" r="1.2" fill="none" stroke="#e84a4a" stroke-width="0.7"/>
<circle cx="887.5" cy="909.9" r="1.2" fill="none" stroke="#e84a4a" stroke-width="0.7"/>
<text x="849.1" y="906.9" font-size="3.2" font-weight="normal" fill="#e84a4a">R2</text>
<text x="822.2" y="860.2" font-size="5.1">81.22%</text>
<text x="907.9" y="860.2" font-size="5.1" text-anchor="end">8.89%</text>
<text x="822.2" y="947.9" font-size="5.1">8.40%</text>
<text x="907.9" y="947.9" font-size="5.1" text-anchor="end">1.49%</text>
<text x="865" y="959.7" font-size="4.1" text-anchor="middle" font-weight="normal" fill="#444">Red-R Fluorescence (RED-R-HLog)</text>
<text x="814" y="902.3" font-size="4.1" text-anchor="middle" font-weight="normal" fill="#444" transform="rotate(-90 814 902.3)">Green-B Fluorescence (GRN-B-HLog)</text>
<text x="820.2" y="954.4" font-size="3" text-anchor="middle" font-weight="normal" fill="#444">10</text>
<text x="838.1" y="954.4" font-size="3" text-anchor="middle" font-weight="normal" fill="#444">10</text>
<text x="856.1" y="954.4" font-size="3" text-anchor="middle" font-weight="normal" fill="#444">10</text>
<text x="874" y="954.4" font-size="3" text-anchor="middle" font-weight="normal" fill="#444">10</text>
<text x="892" y="954.4" font-size="3" text-anchor="middle" font-weight="normal" fill="#444">10</text>
<text x="909.9" y="954.4" font-size="3" text-anchor="middle" font-weight="normal" fill="#444">10</text>
<rect x="131.8" y="1000.2" width="19.4" height="19.8" fill="#fff" stroke="#c4c4c4" stroke-width="1.1"/>
<rect x="131.8" y="1026.4" width="19.4" height="18.9" fill="#fff" stroke="#c4c4c4" stroke-width="1.1"/>
<rect x="131.8" y="1045.3" width="19.4" height="19.4" fill="#fff" stroke="#c4c4c4" stroke-width="1.1"/>
<rect x="151.2" y="1000.2" width="19.4" height="19.8" fill="#fff" stroke="#c4c4c4" stroke-width="1.1"/>
<rect x="151.2" y="1026.4" width="19.4" height="18.9" fill="#fff" stroke="#c4c4c4" stroke-width="1.1"/>
<rect x="151.2" y="1045.3" width="19.4" height="19.4" fill="#fff" stroke="#c4c4c4" stroke-width="1.1"/>
<rect x="170.5" y="1000.2" width="19.4" height="19.8" fill="#fff" stroke="#c4c4c4" stroke-width="1.1"/>
<rect x="170.5" y="1026.4" width="19.4" height="18.9" fill="#fff" stroke="#c4c4c4" stroke-width="1.1"/>
<rect x="170.5" y="1045.3" width="19.4" height="19.4" fill="#fff" stroke="#c4c4c4" stroke-width="1.1"/>
<rect x="189.9" y="1000.2" width="19.4" height="19.8" fill="#fff" stroke="#c4c4c4" stroke-width="1.1"/>
<rect x="189.9" y="1026.4" width="19.4" height="18.9" fill="#fff" stroke="#c4c4c4" stroke-width="1.1"/>
<rect x="189.9" y="1045.3" width="19.4" height="19.4" fill="#fff" stroke="#c4c4c4" stroke-width="1.1"/>
<rect x="209.3" y="1000.2" width="19.4" height="19.8" fill="#fff" stroke="#c4c4c4" stroke-width="1.1"/>
<rect x="209.3" y="1026.4" width="19.4" height="18.9" fill="#fff" stroke="#c4c4c4" stroke-width="1.1"/>
<rect x="209.3" y="1045.3" width="19.4" height="19.4" fill="#fff" stroke="#c4c4c4" stroke-width="1.1"/>
<rect x="228.7" y="1000.2" width="19.4" height="19.8" fill="#fff" stroke="#c4c4c4" stroke-width="1.1"/>
<rect x="228.7" y="1026.4" width="19.4" height="18.9" fill="#fff" stroke="#c4c4c4" stroke-width="1.1"/>
<rect x="228.7" y="1045.3" width="19.4" height="19.4" fill="#fff" stroke="#c4c4c4" stroke-width="1.1"/>
<rect x="248" y="1000.2" width="19.4" height="19.8" fill="#fff" stroke="#c4c4c4" stroke-width="1.1"/>
<rect x="248" y="1026.4" width="19.4" height="18.9" fill="#fff" stroke="#c4c4c4" stroke-width="1.1"/>
<rect x="248" y="1045.3" width="19.4" height="19.4" fill="#fff" stroke="#c4c4c4" stroke-width="1.1"/>
<rect x="267.4" y="1000.2" width="19.4" height="19.8" fill="#fff" stroke="#c4c4c4" stroke-width="1.1"/>
<rect x="267.4" y="1026.4" width="19.4" height="18.9" fill="#fff" stroke="#c4c4c4" stroke-width="1.1"/>
<rect x="267.4" y="1045.3" width="19.4" height="19.4" fill="#fff" stroke="#c4c4c4" stroke-width="1.1"/>
<rect x="286.8" y="1000.2" width="19.4" height="19.8" fill="#fff" stroke="#c4c4c4" stroke-width="1.1"/>
<rect x="286.8" y="1026.4" width="19.4" height="18.9" fill="#fff" stroke="#c4c4c4" stroke-width="1.1"/>
<rect x="286.8" y="1045.3" width="19.4" height="19.4" fill="#fff" stroke="#c4c4c4" stroke-width="1.1"/>
<rect x="306.1" y="1000.2" width="19.4" height="19.8" fill="#fff" stroke="#c4c4c4" stroke-width="1.1"/>
<rect x="306.1" y="1026.4" width="19.4" height="18.9" fill="#fff" stroke="#c4c4c4" stroke-width="1.1"/>
<rect x="306.1" y="1045.3" width="19.4" height="19.4" fill="#fff" stroke="#c4c4c4" stroke-width="1.1"/>
<rect x="325.5" y="1000.2" width="19.4" height="19.8" fill="#fff" stroke="#c4c4c4" stroke-width="1.1"/>
<rect x="325.5" y="1026.4" width="19.4" height="18.9" fill="#fff" stroke="#c4c4c4" stroke-width="1.1"/>
<rect x="325.5" y="1045.3" width="19.4" height="19.4" fill="#fff" stroke="#c4c4c4" stroke-width="1.1"/>
<rect x="344.9" y="1000.2" width="19.4" height="19.8" fill="#fff" stroke="#c4c4c4" stroke-width="1.1"/>
<rect x="344.9" y="1026.4" width="19.4" height="18.9" fill="#fff" stroke="#c4c4c4" stroke-width="1.1"/>
<rect x="344.9" y="1045.3" width="19.4" height="19.4" fill="#fff" stroke="#c4c4c4" stroke-width="1.1"/>
<rect x="364.2" y="1000.2" width="19.4" height="19.8" fill="#fff" stroke="#c4c4c4" stroke-width="1.1"/>
<rect x="364.2" y="1026.4" width="19.4" height="18.9" fill="#fff" stroke="#c4c4c4" stroke-width="1.1"/>
<rect x="364.2" y="1045.3" width="19.4" height="19.4" fill="#fff" stroke="#c4c4c4" stroke-width="1.1"/>
<rect x="383.6" y="1000.2" width="19.4" height="19.8" fill="#fff" stroke="#c4c4c4" stroke-width="1.1"/>
<rect x="383.6" y="1026.4" width="19.4" height="18.9" fill="#fff" stroke="#c4c4c4" stroke-width="1.1"/>
<rect x="383.6" y="1045.3" width="19.4" height="19.4" fill="#fff" stroke="#c4c4c4" stroke-width="1.1"/>
<rect x="403" y="1000.2" width="19.4" height="19.8" fill="#fff" stroke="#c4c4c4" stroke-width="1.1"/>
<rect x="403" y="1026.4" width="19.4" height="18.9" fill="#fff" stroke="#c4c4c4" stroke-width="1.1"/>
<rect x="403" y="1045.3" width="19.4" height="19.4" fill="#fff" stroke="#c4c4c4" stroke-width="1.1"/>
<rect x="422.4" y="1000.2" width="19.4" height="19.8" fill="#fff" stroke="#c4c4c4" stroke-width="1.1"/>
<rect x="422.4" y="1026.4" width="19.4" height="18.9" fill="#fff" stroke="#c4c4c4" stroke-width="1.1"/>
<rect x="422.4" y="1045.3" width="19.4" height="19.4" fill="#fff" stroke="#c4c4c4" stroke-width="1.1"/>
<rect x="441.7" y="1000.2" width="19.4" height="19.8" fill="#fff" stroke="#c4c4c4" stroke-width="1.1"/>
<rect x="441.7" y="1026.4" width="19.4" height="18.9" fill="#fff" stroke="#c4c4c4" stroke-width="1.1"/>
<rect x="441.7" y="1045.3" width="19.4" height="19.4" fill="#fff" stroke="#c4c4c4" stroke-width="1.1"/>
<rect x="461.1" y="1000.2" width="19.4" height="19.8" fill="#fff" stroke="#c4c4c4" stroke-width="1.1"/>
<rect x="461.1" y="1026.4" width="19.4" height="18.9" fill="#fff" stroke="#c4c4c4" stroke-width="1.1"/>
<rect x="461.1" y="1045.3" width="19.4" height="19.4" fill="#fff" stroke="#c4c4c4" stroke-width="1.1"/>
<rect x="480.5" y="1000.2" width="19.4" height="19.8" fill="#fff" stroke="#c4c4c4" stroke-width="1.1"/>
<rect x="480.5" y="1026.4" width="19.4" height="18.9" fill="#fff" stroke="#c4c4c4" stroke-width="1.1"/>
<rect x="480.5" y="1045.3" width="19.4" height="19.4" fill="#fff" stroke="#c4c4c4" stroke-width="1.1"/>
<rect x="499.8" y="1000.2" width="19.4" height="19.8" fill="#fff" stroke="#c4c4c4" stroke-width="1.1"/>
<rect x="499.8" y="1026.4" width="19.4" height="18.9" fill="#fff" stroke="#c4c4c4" stroke-width="1.1"/>
<rect x="499.8" y="1045.3" width="19.4" height="19.4" fill="#fff" stroke="#c4c4c4" stroke-width="1.1"/>
<rect x="519.2" y="1000.2" width="19.4" height="19.8" fill="#fff" stroke="#c4c4c4" stroke-width="1.1"/>
<rect x="519.2" y="1026.4" width="19.4" height="18.9" fill="#fff" stroke="#c4c4c4" stroke-width="1.1"/>
<rect x="519.2" y="1045.3" width="19.4" height="19.4" fill="#fff" stroke="#c4c4c4" stroke-width="1.1"/>
<rect x="538.6" y="1000.2" width="19.4" height="19.8" fill="#fff" stroke="#c4c4c4" stroke-width="1.1"/>
<rect x="538.6" y="1026.4" width="19.4" height="18.9" fill="#fff" stroke="#c4c4c4" stroke-width="1.1"/>
<rect x="538.6" y="1045.3" width="19.4" height="19.4" fill="#fff" stroke="#c4c4c4" stroke-width="1.1"/>
<rect x="557.9" y="1000.2" width="19.4" height="19.8" fill="#fff" stroke="#c4c4c4" stroke-width="1.1"/>
<rect x="557.9" y="1026.4" width="19.4" height="18.9" fill="#fff" stroke="#c4c4c4" stroke-width="1.1"/>
<rect x="557.9" y="1045.3" width="19.4" height="19.4" fill="#fff" stroke="#c4c4c4" stroke-width="1.1"/>
<rect x="577.3" y="1000.2" width="19.4" height="19.8" fill="#fff" stroke="#c4c4c4" stroke-width="1.1"/>
<rect x="577.3" y="1026.4" width="19.4" height="18.9" fill="#fff" stroke="#c4c4c4" stroke-width="1.1"/>
<rect x="577.3" y="1045.3" width="19.4" height="19.4" fill="#fff" stroke="#c4c4c4" stroke-width="1.1"/>
<rect x="596.7" y="1000.2" width="19.4" height="19.8" fill="#fff" stroke="#c4c4c4" stroke-width="1.1"/>
<rect x="596.7" y="1026.4" width="19.4" height="18.9" fill="#fff" stroke="#c4c4c4" stroke-width="1.1"/>
<rect x="596.7" y="1045.3" width="19.4" height="19.4" fill="#fff" stroke="#c4c4c4" stroke-width="1.1"/>
<rect x="616" y="1000.2" width="19.4" height="19.8" fill="#fff" stroke="#c4c4c4" stroke-width="1.1"/>
<rect x="616" y="1026.4" width="19.4" height="18.9" fill="#fff" stroke="#c4c4c4" stroke-width="1.1"/>
<rect x="616" y="1045.3" width="19.4" height="19.4" fill="#fff" stroke="#c4c4c4" stroke-width="1.1"/>
<rect x="635.4" y="1000.2" width="19.4" height="19.8" fill="#fff" stroke="#c4c4c4" stroke-width="1.1"/>
<rect x="635.4" y="1026.4" width="19.4" height="18.9" fill="#fff" stroke="#c4c4c4" stroke-width="1.1"/>
<rect x="635.4" y="1045.3" width="19.4" height="19.4" fill="#fff" stroke="#c4c4c4" stroke-width="1.1"/>
<rect x="654.8" y="1000.2" width="19.4" height="19.8" fill="#fff" stroke="#c4c4c4" stroke-width="1.1"/>
<rect x="654.8" y="1026.4" width="19.4" height="18.9" fill="#fff" stroke="#c4c4c4" stroke-width="1.1"/>
<rect x="654.8" y="1045.3" width="19.4" height="19.4" fill="#fff" stroke="#c4c4c4" stroke-width="1.1"/>
<rect x="674.2" y="1000.2" width="19.4" height="19.8" fill="#fff" stroke="#c4c4c4" stroke-width="1.1"/>
<rect x="674.2" y="1026.4" width="19.4" height="18.9" fill="#fff" stroke="#c4c4c4" stroke-width="1.1"/>
<rect x="674.2" y="1045.3" width="19.4" height="19.4" fill="#fff" stroke="#c4c4c4" stroke-width="1.1"/>
<rect x="693.5" y="1000.2" width="19.4" height="19.8" fill="#fff" stroke="#c4c4c4" stroke-width="1.1"/>
<rect x="693.5" y="1026.4" width="19.4" height="18.9" fill="#fff" stroke="#c4c4c4" stroke-width="1.1"/>
<rect x="693.5" y="1045.3" width="19.4" height="19.4" fill="#fff" stroke="#c4c4c4" stroke-width="1.1"/>
<rect x="712.9" y="1000.2" width="19.4" height="19.8" fill="#fff" stroke="#c4c4c4" stroke-width="1.1"/>
<rect x="712.9" y="1026.4" width="19.4" height="18.9" fill="#fff" stroke="#c4c4c4" stroke-width="1.1"/>
<rect x="712.9" y="1045.3" width="19.4" height="19.4" fill="#fff" stroke="#c4c4c4" stroke-width="1.1"/>
<rect x="732.3" y="1000.2" width="19.4" height="19.8" fill="#fff" stroke="#c4c4c4" stroke-width="1.1"/>
<rect x="732.3" y="1026.4" width="19.4" height="18.9" fill="#fff" stroke="#c4c4c4" stroke-width="1.1"/>
<rect x="732.3" y="1045.3" width="19.4" height="19.4" fill="#fff" stroke="#c4c4c4" stroke-width="1.1"/>
<rect x="751.6" y="1000.2" width="19.4" height="19.8" fill="#fff" stroke="#c4c4c4" stroke-width="1.1"/>
<rect x="751.6" y="1026.4" width="19.4" height="18.9" fill="#fff" stroke="#c4c4c4" stroke-width="1.1"/>
<rect x="751.6" y="1045.3" width="19.4" height="19.4" fill="#fff" stroke="#c4c4c4" stroke-width="1.1"/>
<rect x="771" y="1000.2" width="19.4" height="19.8" fill="#fff" stroke="#c4c4c4" stroke-width="1.1"/>
<rect x="771" y="1026.4" width="19.4" height="18.9" fill="#fff" stroke="#c4c4c4" stroke-width="1.1"/>
<rect x="771" y="1045.3" width="19.4" height="19.4" fill="#fff" stroke="#c4c4c4" stroke-width="1.1"/>
<rect x="790.4" y="1000.2" width="19.4" height="19.8" fill="#fff" stroke="#c4c4c4" stroke-width="1.1"/>
<rect x="790.4" y="1026.4" width="19.4" height="18.9" fill="#fff" stroke="#c4c4c4" stroke-width="1.1"/>
<rect x="790.4" y="1045.3" width="19.4" height="19.4" fill="#fff" stroke="#c4c4c4" stroke-width="1.1"/>
<rect x="809.8" y="1000.2" width="19.4" height="19.8" fill="#fff" stroke="#c4c4c4" stroke-width="1.1"/>
<rect x="809.8" y="1026.4" width="19.4" height="18.9" fill="#fff" stroke="#c4c4c4" stroke-width="1.1"/>
<rect x="809.8" y="1045.3" width="19.4" height="19.4" fill="#fff" stroke="#c4c4c4" stroke-width="1.1"/>
<rect x="829.1" y="1000.2" width="19.4" height="19.8" fill="#fff" stroke="#c4c4c4" stroke-width="1.1"/>
<rect x="829.1" y="1026.4" width="19.4" height="18.9" fill="#fff" stroke="#c4c4c4" stroke-width="1.1"/>
<rect x="829.1" y="1045.3" width="19.4" height="19.4" fill="#fff" stroke="#c4c4c4" stroke-width="1.1"/>
<rect x="848.5" y="1000.2" width="19.4" height="19.8" fill="#fff" stroke="#c4c4c4" stroke-width="1.1"/>
<rect x="848.5" y="1026.4" width="19.4" height="18.9" fill="#fff" stroke="#c4c4c4" stroke-width="1.1"/>
<rect x="848.5" y="1045.3" width="19.4" height="19.4" fill="#fff" stroke="#c4c4c4" stroke-width="1.1"/>
<rect x="867.9" y="1000.2" width="19.4" height="19.8" fill="#fff" stroke="#c4c4c4" stroke-width="1.1"/>
<rect x="867.9" y="1026.4" width="19.4" height="18.9" fill="#fff" stroke="#c4c4c4" stroke-width="1.1"/>
<rect x="867.9" y="1045.3" width="19.4" height="19.4" fill="#fff" stroke="#c4c4c4" stroke-width="1.1"/>
<rect x="887.2" y="1000.2" width="19.4" height="19.8" fill="#fff" stroke="#c4c4c4" stroke-width="1.1"/>
<rect x="887.2" y="1026.4" width="19.4" height="18.9" fill="#fff" stroke="#c4c4c4" stroke-width="1.1"/>
<rect x="887.2" y="1045.3" width="19.4" height="19.4" fill="#fff" stroke="#c4c4c4" stroke-width="1.1"/>
<rect x="906.6" y="1000.2" width="19.4" height="19.8" fill="#fff" stroke="#c4c4c4" stroke-width="1.1"/>
<rect x="906.6" y="1026.4" width="19.4" height="18.9" fill="#fff" stroke="#c4c4c4" stroke-width="1.1"/>
<rect x="906.6" y="1045.3" width="19.4" height="19.4" fill="#fff" stroke="#c4c4c4" stroke-width="1.1"/>
<rect x="926" y="1000.2" width="19.4" height="19.8" fill="#fff" stroke="#c4c4c4" stroke-width="1.1"/>
<rect x="926" y="1026.4" width="19.4" height="18.9" fill="#fff" stroke="#c4c4c4" stroke-width="1.1"/>
<rect x="926" y="1045.3" width="19.4" height="19.4" fill="#fff" stroke="#c4c4c4" stroke-width="1.1"/>
<rect x="945.3" y="1000.2" width="19.4" height="19.8" fill="#fff" stroke="#c4c4c4" stroke-width="1.1"/>
<rect x="945.3" y="1026.4" width="19.4" height="18.9" fill="#fff" stroke="#c4c4c4" stroke-width="1.1"/>
<rect x="945.3" y="1045.3" width="19.4" height="19.4" fill="#fff" stroke="#c4c4c4" stroke-width="1.1"/>
<circle cx="141.5" cy="1010.1" r="5.5" fill="#9c9cf4"/>
<circle cx="141.5" cy="1035.9" r="3.5" fill="#00eef6"/>
<circle cx="141.5" cy="1055" r="3.5" fill="#00eef6"/>
<text x="141.6" y="1069" font-size="11.5" text-anchor="end" transform="rotate(-90 141.6 1069)">Bad</text>
<circle cx="160.9" cy="1010.1" r="7.5" fill="#5a5af0"/>
<circle cx="160.9" cy="1035.9" r="5" fill="#00e4f4"/>
<circle cx="160.9" cy="1055" r="5.5" fill="#00c8f0"/>
<text x="161.1" y="1069" font-size="11.5" text-anchor="end" transform="rotate(-90 161.1 1069)">Bax</text>
<circle cx="180.2" cy="1010.1" r="7" fill="#6868f0"/>
<circle cx="180.2" cy="1035.9" r="5" fill="#00e0f4"/>
<text x="180.2" y="1042.9" font-size="14" text-anchor="middle" fill="#d42020">*</text>
<circle cx="180.2" cy="1055" r="5.5" fill="#00c0f0"/>
<text x="180.2" y="1062" font-size="14" text-anchor="middle" fill="#d42020">*</text>
<text x="180.5" y="1069" font-size="11.5" text-anchor="end" transform="rotate(-90 180.5 1069)">Bcl-2</text>
<circle cx="199.6" cy="1010.1" r="7" fill="#6c6cf0"/>
<circle cx="199.6" cy="1035.9" r="5" fill="#00e8f4"/>
<text x="199.6" y="1042.9" font-size="14" text-anchor="middle" fill="#d42020">*</text>
<circle cx="199.6" cy="1055" r="5" fill="#00eef6"/>
<text x="199.6" y="1062" font-size="14" text-anchor="middle" fill="#d42020">*</text>
<text x="200" y="1069" font-size="11.5" text-anchor="end" transform="rotate(-90 200 1069)">Bcl-w</text>
<circle cx="219" cy="1010.1" r="7" fill="#6464f0"/>
<circle cx="219" cy="1035.9" r="3.5" fill="#00eef6"/>
<circle cx="219" cy="1055" r="3.5" fill="#00eef6"/>
<text x="219.4" y="1069" font-size="11.5" text-anchor="end" transform="rotate(-90 219.4 1069)">BID</text>
<circle cx="238.3" cy="1010.1" r="4.5" fill="#c8c8f8"/>
<circle cx="238.3" cy="1035.9" r="7.5" fill="#0a3cf0"/>
<circle cx="238.3" cy="1055" r="8" fill="#0010ee"/>
<text x="238.9" y="1069" font-size="11.5" text-anchor="end" transform="rotate(-90 238.9 1069)">BIM</text>
<circle cx="257.7" cy="1010.1" r="7" fill="#6a6af0"/>
<circle cx="257.7" cy="1035.9" r="5" fill="#00eef6"/>
<circle cx="257.7" cy="1055" r="5.5" fill="#00c8f0"/>
<text x="258.4" y="1069" font-size="11.5" text-anchor="end" transform="rotate(-90 258.4 1069)">Caspase3</text>
<circle cx="277.1" cy="1010.1" r="6.5" fill="#8686f2"/>
<circle cx="277.1" cy="1035.9" r="5" fill="#00eef6"/>
<circle cx="277.1" cy="1055" r="5" fill="#00d8f2"/>
<text x="277.8" y="1069" font-size="11.5" text-anchor="end" transform="rotate(-90 277.8 1069)">Caspase8</text>
<circle cx="296.4" cy="1010.1" r="3.5" fill="#dcdcfa"/>
<circle cx="296.4" cy="1035.9" r="7" fill="#0a68f0"/>
<circle cx="296.4" cy="1055" r="7.5" fill="#0a50f0"/>
<text x="297.3" y="1069" font-size="11.5" text-anchor="end" transform="rotate(-90 297.3 1069)">CD40</text>
<circle cx="315.8" cy="1010.1" r="5.5" fill="#a8a8f6"/>
<circle cx="315.8" cy="1035.9" r="7" fill="#0a6cf0"/>
<circle cx="315.8" cy="1055" r="7.5" fill="#0a50f0"/>
<text x="316.8" y="1069" font-size="11.5" text-anchor="end" transform="rotate(-90 316.8 1069)">CD40L</text>
<circle cx="335.2" cy="1010.1" r="7.5" fill="#5252f0"/>
<circle cx="335.2" cy="1035.9" r="3" fill="#00eef6"/>
<text x="335.2" y="1042.9" font-size="14" text-anchor="middle" fill="#d42020">*</text>
<circle cx="335.2" cy="1055" r="3.5" fill="#00eef6"/>
<text x="335.2" y="1062" font-size="14" text-anchor="middle" fill="#d42020">*</text>
<text x="336.2" y="1069" font-size="11.5" text-anchor="end" transform="rotate(-90 336.2 1069)">cIAP-2</text>
<circle cx="354.6" cy="1010.1" r="6.5" fill="#8080f2"/>
<circle cx="354.6" cy="1035.9" r="4.5" fill="#00eef6"/>
<circle cx="354.6" cy="1055" r="4.5" fill="#00eef6"/>
<text x="355.7" y="1069" font-size="11.5" text-anchor="end" transform="rotate(-90 355.7 1069)">cytoC</text>
<circle cx="373.9" cy="1010.1" r="4.5" fill="#c8c8f8"/>
<circle cx="373.9" cy="1035.9" r="5" fill="#00eef6"/>
<circle cx="373.9" cy="1055" r="4.5" fill="#00eef6"/>
<text x="375.2" y="1069" font-size="11.5" text-anchor="end" transform="rotate(-90 375.2 1069)">DR6</text>
<circle cx="393.3" cy="1010.1" r="4.5" fill="#c8c8f8"/>
<circle cx="393.3" cy="1035.9" r="7" fill="#0a60f0"/>
<circle cx="393.3" cy="1055" r="8" fill="#0a40f0"/>
<text x="394.6" y="1069" font-size="11.5" text-anchor="end" transform="rotate(-90 394.6 1069)">Fas</text>
<circle cx="412.7" cy="1010.1" r="5.5" fill="#a8a8f6"/>
<circle cx="412.7" cy="1035.9" r="5" fill="#00eef6"/>
<circle cx="412.7" cy="1055" r="5" fill="#00ddf2"/>
<text x="414.1" y="1069" font-size="11.5" text-anchor="end" transform="rotate(-90 414.1 1069)">FasL</text>
<circle cx="432" cy="1010.1" r="7" fill="#6c6cf0"/>
<circle cx="432" cy="1035.9" r="7" fill="#1478f0"/>
<text x="432" y="1042.9" font-size="14" text-anchor="middle" fill="#d42020">*</text>
<circle cx="432" cy="1055" r="8" fill="#0a20ee"/>
<text x="432" y="1062" font-size="14" text-anchor="middle" fill="#d42020">*</text>
<text x="433.6" y="1069" font-size="11.5" text-anchor="end" transform="rotate(-90 433.6 1069)">HSP27</text>
<circle cx="451.4" cy="1010.1" r="8.5" fill="#2020f0"/>
<circle cx="451.4" cy="1035.9" r="5.5" fill="#10c0f0"/>
<text x="451.4" y="1042.9" font-size="14" text-anchor="middle" fill="#d42020">*</text>
<circle cx="451.4" cy="1055" r="7" fill="#0a70f0"/>
<text x="451.4" y="1062" font-size="14" text-anchor="middle" fill="#d42020">*</text>
<text x="453" y="1069" font-size="11.5" text-anchor="end" transform="rotate(-90 453 1069)">HSP60</text>
<circle cx="470.8" cy="1010.1" r="7.5" fill="#4646f0"/>
<circle cx="470.8" cy="1035.9" r="6" fill="#1090f0"/>
<text x="470.8" y="1042.9" font-size="14" text-anchor="middle" fill="#d42020">*</text>
<circle cx="470.8" cy="1055" r="7.5" fill="#0a50f0"/>
<text x="470.8" y="1062" font-size="14" text-anchor="middle" fill="#d42020">*</text>
<text x="472.5" y="1069" font-size="11.5" text-anchor="end" transform="rotate(-90 472.5 1069)">HSP70</text>
<circle cx="490.1" cy="1010.1" r="5.5" fill="#9c9cf4"/>
<circle cx="490.1" cy="1035.9" r="5" fill="#00eef6"/>
<circle cx="490.1" cy="1055" r="5.5" fill="#00d0f2"/>
<text x="492" y="1069" font-size="11.5" text-anchor="end" transform="rotate(-90 492 1069)">HTRA</text>
<circle cx="509.5" cy="1010.1" r="9" fill="#0000ee"/>
<circle cx="509.5" cy="1035.9" r="3.5" fill="#00eef6"/>
<text x="509.5" y="1042.9" font-size="14" text-anchor="middle" fill="#d42020">*</text>
<circle cx="509.5" cy="1055" r="4" fill="#00eef6"/>
<text x="509.5" y="1062" font-size="14" text-anchor="middle" fill="#d42020">*</text>
<text x="511.4" y="1069" font-size="11.5" text-anchor="end" transform="rotate(-90 511.4 1069)">IGF-I</text>
<circle cx="528.9" cy="1010.1" r="6.5" fill="#7070f0"/>
<circle cx="528.9" cy="1035.9" r="6.5" fill="#1080f0"/>
<text x="528.9" y="1038.9" font-size="14" text-anchor="middle" fill="#d42020">*</text>
<text x="528.9" y="1047.4" font-size="14" text-anchor="middle" fill="#d42020">*</text>
<circle cx="528.9" cy="1055" r="7" fill="#0a60f0"/>
<text x="528.9" y="1058" font-size="14" text-anchor="middle" fill="#d42020">*</text>
<text x="528.9" y="1066.5" font-size="14" text-anchor="middle" fill="#d42020">*</text>
<text x="530.9" y="1069" font-size="11.5" text-anchor="end" transform="rotate(-90 530.9 1069)">IGF-II</text>
<circle cx="548.3" cy="1010.1" r="6.5" fill="#f87878"/>
<circle cx="548.3" cy="1035.9" r="4" fill="#00eef6"/>
<circle cx="548.3" cy="1055" r="3.5" fill="#00eef6"/>
<text x="550.4" y="1069" font-size="11.5" text-anchor="end" transform="rotate(-90 550.4 1069)">IGFBP-1</text>
<circle cx="567.6" cy="1010.1" r="5.5" fill="#a8a8f6"/>
<circle cx="567.6" cy="1035.9" r="4.5" fill="#00eef6"/>
<circle cx="567.6" cy="1055" r="5" fill="#00eef6"/>
<text x="569.8" y="1069" font-size="11.5" text-anchor="end" transform="rotate(-90 569.8 1069)">IGFBP-2</text>
<circle cx="587" cy="1010.1" r="5.5" fill="#a0a0f6"/>
<circle cx="587" cy="1035.9" r="4" fill="#00eef6"/>
<circle cx="587" cy="1055" r="4" fill="#00eef6"/>
<text x="589.3" y="1069" font-size="11.5" text-anchor="end" transform="rotate(-90 589.3 1069)">IGFBP-3</text>
<circle cx="606.4" cy="1010.1" r="4.5" fill="#c0c0f8"/>
<circle cx="606.4" cy="1035.9" r="2.5" fill="#88f6f8"/>
<circle cx="606.4" cy="1055" r="2.5" fill="#88f6f8"/>
<text x="608.8" y="1069" font-size="11.5" text-anchor="end" transform="rotate(-90 608.8 1069)">IGFBP-4</text>
<circle cx="625.7" cy="1010.1" r="5.5" fill="#a0a0f6"/>
<circle cx="625.7" cy="1035.9" r="6" fill="#10aaf0"/>
<circle cx="625.7" cy="1055" r="7" fill="#1080f0"/>
<text x="628.2" y="1069" font-size="11.5" text-anchor="end" transform="rotate(-90 628.2 1069)">IGFBP-5</text>
<circle cx="645.1" cy="1010.1" r="6.5" fill="#8888f2"/>
<circle cx="645.1" cy="1035.9" r="4.5" fill="#00eef6"/>
<circle cx="645.1" cy="1055" r="4.5" fill="#00eef6"/>
<text x="647.7" y="1069" font-size="11.5" text-anchor="end" transform="rotate(-90 647.7 1069)">IGFBP-6</text>
<circle cx="664.5" cy="1010.1" r="5.5" fill="#a0a0f6"/>
<circle cx="664.5" cy="1035.9" r="5" fill="#00e4f4"/>
<circle cx="664.5" cy="1055" r="5" fill="#00ddf2"/>
<text x="667.1" y="1069" font-size="11.5" text-anchor="end" transform="rotate(-90 667.1 1069)">IGF-1sR</text>
<circle cx="683.8" cy="1010.1" r="2.5" fill="#e6e6fc"/>
<circle cx="683.8" cy="1035.9" r="6" fill="#10b8f0"/>
<circle cx="683.8" cy="1055" r="6" fill="#10c0f0"/>
<text x="686.6" y="1069" font-size="11.5" text-anchor="end" transform="rotate(-90 686.6 1069)">Livin</text>
<circle cx="703.2" cy="1010.1" r="4.5" fill="#ccccf8"/>
<circle cx="703.2" cy="1035.9" r="9" fill="#00009a"/>
<circle cx="703.2" cy="1055" r="9.5" fill="#000080"/>
<text x="706.1" y="1069" font-size="11.5" text-anchor="end" transform="rotate(-90 706.1 1069)">p21</text>
<circle cx="722.6" cy="1010.1" r="7" fill="#7070f0"/>
<circle cx="722.6" cy="1035.9" r="4" fill="#00eef6"/>
<circle cx="722.6" cy="1055" r="4" fill="#00eef6"/>
<text x="725.5" y="1069" font-size="11.5" text-anchor="end" transform="rotate(-90 725.5 1069)">p27</text>
<circle cx="742" cy="1010.1" r="7" fill="#7878f0"/>
<circle cx="742" cy="1035.9" r="5" fill="#00eef6"/>
<circle cx="742" cy="1055" r="5.5" fill="#00ddf2"/>
<text x="745" y="1069" font-size="11.5" text-anchor="end" transform="rotate(-90 745 1069)">p53</text>
<circle cx="761.3" cy="1010.1" r="5.5" fill="#f8a0a0"/>
<circle cx="761.3" cy="1035.9" r="5" fill="#00eef6"/>
<circle cx="761.3" cy="1055" r="5" fill="#00eef6"/>
<text x="764.5" y="1069" font-size="11.5" text-anchor="end" transform="rotate(-90 764.5 1069)">SMAC</text>
<circle cx="780.7" cy="1010.1" r="6.5" fill="#9090f2"/>
<circle cx="780.7" cy="1035.9" r="6" fill="#10aaf0"/>
<circle cx="780.7" cy="1055" r="7" fill="#1080f0"/>
<text x="783.9" y="1069" font-size="11.5" text-anchor="end" transform="rotate(-90 783.9 1069)">Survivin</text>
<circle cx="800.1" cy="1010.1" r="8" fill="#3434f0"/>
<circle cx="800.1" cy="1035.9" r="4.5" fill="#00eef6"/>
<text x="800.1" y="1042.9" font-size="14" text-anchor="middle" fill="#d42020">*</text>
<circle cx="800.1" cy="1055" r="5" fill="#00eef6"/>
<text x="800.1" y="1062" font-size="14" text-anchor="middle" fill="#d42020">*</text>
<text x="803.4" y="1069" font-size="11.5" text-anchor="end" transform="rotate(-90 803.4 1069)">sTNF-R1</text>
<circle cx="819.4" cy="1010.1" r="9" fill="#0000f4"/>
<circle cx="819.4" cy="1035.9" r="4.5" fill="#00eef6"/>
<text x="819.4" y="1042.9" font-size="14" text-anchor="middle" fill="#d42020">*</text>
<circle cx="819.4" cy="1055" r="5.5" fill="#00ccf0"/>
<text x="819.4" y="1062" font-size="14" text-anchor="middle" fill="#d42020">*</text>
<text x="822.9" y="1069" font-size="11.5" text-anchor="end" transform="rotate(-90 822.9 1069)">sTNF-R2</text>
<circle cx="838.8" cy="1010.1" r="8.5" fill="#1010f0"/>
<circle cx="838.8" cy="1035.9" r="2" fill="#88f6f8"/>
<text x="838.8" y="1042.9" font-size="14" text-anchor="middle" fill="#d42020">*</text>
<circle cx="838.8" cy="1055" r="3" fill="#00eef6"/>
<text x="838.8" y="1062" font-size="14" text-anchor="middle" fill="#d42020">*</text>
<text x="842.3" y="1069" font-size="11.5" text-anchor="end" transform="rotate(-90 842.3 1069)">TNF-α</text>
<circle cx="858.2" cy="1010.1" r="8" fill="#2a2af0"/>
<circle cx="858.2" cy="1035.9" r="4.5" fill="#00eef6"/>
<text x="858.2" y="1042.9" font-size="14" text-anchor="middle" fill="#d42020">*</text>
<circle cx="858.2" cy="1055" r="5" fill="#00ccf0"/>
<text x="858.2" y="1062" font-size="14" text-anchor="middle" fill="#d42020">*</text>
<text x="861.8" y="1069" font-size="11.5" text-anchor="end" transform="rotate(-90 861.8 1069)">TNF-β</text>
<circle cx="877.5" cy="1010.1" r="8" fill="#3030f0"/>
<circle cx="877.5" cy="1035.9" r="5" fill="#00eef6"/>
<circle cx="877.5" cy="1055" r="5" fill="#00ddf2"/>
<text x="881.3" y="1069" font-size="11.5" text-anchor="end" transform="rotate(-90 881.3 1069)">TRAILR-1</text>
<circle cx="896.9" cy="1010.1" r="7.5" fill="#5050f0"/>
<circle cx="896.9" cy="1035.9" r="5" fill="#00e0f4"/>
<circle cx="896.9" cy="1055" r="6" fill="#00c0f0"/>
<text x="900.7" y="1069" font-size="11.5" text-anchor="end" transform="rotate(-90 900.7 1069)">TRAILR-2</text>
<circle cx="916.3" cy="1010.1" r="7.5" fill="#3a3af0"/>
<circle cx="916.3" cy="1035.9" r="3.5" fill="#00eef6"/>
<circle cx="916.3" cy="1055" r="4" fill="#00eef6"/>
<text x="920.2" y="1069" font-size="11.5" text-anchor="end" transform="rotate(-90 920.2 1069)">TRAILR-3</text>
<circle cx="935.7" cy="1010.1" r="7" fill="#6060f0"/>
<circle cx="935.7" cy="1035.9" r="4.5" fill="#00eef6"/>
<text x="935.7" y="1042.9" font-size="14" text-anchor="middle" fill="#d42020">*</text>
<circle cx="935.7" cy="1055" r="5" fill="#00eef6"/>
<text x="935.7" y="1062" font-size="14" text-anchor="middle" fill="#d42020">*</text>
<text x="939.7" y="1069" font-size="11.5" text-anchor="end" transform="rotate(-90 939.7 1069)">TRAILR-4</text>
<circle cx="955" cy="1010.1" r="8.5" fill="#0a0af0"/>
<circle cx="955" cy="1035.9" r="5" fill="#00e4f4"/>
<text x="955" y="1042.9" font-size="14" text-anchor="middle" fill="#d42020">*</text>
<circle cx="955" cy="1055" r="6" fill="#00c0f0"/>
<text x="955" y="1062" font-size="14" text-anchor="middle" fill="#d42020">*</text>
<text x="959.1" y="1069" font-size="11.5" text-anchor="end" transform="rotate(-90 959.1 1069)">XIAP</text>
<text x="120.5" y="1020" font-size="25" text-anchor="end">FC</text>
<text x="127" y="1047.3" font-size="25.3" text-anchor="end">shKNTC1</text>
<text x="124" y="1069.3" font-size="25.3" text-anchor="end">shCtrl</text>
<defs><linearGradient id="gv" x1="0" x2="1" y1="0" y2="0"><stop offset="0" stop-color="#ffffff"/><stop offset="0.09" stop-color="#00ffff"/><stop offset="0.28" stop-color="#00f4ff"/><stop offset="0.5" stop-color="#0080ff"/><stop offset="0.7" stop-color="#0000ff"/><stop offset="1" stop-color="#000060"/></linearGradient><linearGradient id="fcg" x1="0" x2="1" y1="0" y2="0"><stop offset="0" stop-color="#0000ff"/><stop offset="0.1" stop-color="#0000ff"/><stop offset="0.38" stop-color="#6060ff"/><stop offset="0.55" stop-color="#c4c4ff"/><stop offset="0.66" stop-color="#ffffff"/><stop offset="1" stop-color="#f87878"/></linearGradient></defs>
<rect x="132" y="1128.8" width="157" height="16.8" fill="url(#gv)" stroke="#000" stroke-width="1.8"/>
<line x1="132" y1="1145.6" x2="132" y2="1150.5" stroke="#000" stroke-width="1.6"/>
<text x="131.6" y="1169" font-size="18" text-anchor="middle">0</text>
<line x1="171.2" y1="1145.6" x2="171.2" y2="1150.5" stroke="#000" stroke-width="1.6"/>
<text x="163.6" y="1169" font-size="18" text-anchor="middle">0.18</text>
<line x1="210.5" y1="1145.6" x2="210.5" y2="1150.5" stroke="#000" stroke-width="1.6"/>
<text x="206" y="1169" font-size="18" text-anchor="middle">0.36</text>
<line x1="249.8" y1="1145.6" x2="249.8" y2="1150.5" stroke="#000" stroke-width="1.6"/>
<text x="246.6" y="1169" font-size="18" text-anchor="middle">0.54</text>
<line x1="289" y1="1145.6" x2="289" y2="1150.5" stroke="#000" stroke-width="1.6"/>
<text x="288.9" y="1169" font-size="18" text-anchor="middle">0.72</text>
<text x="212.9" y="1197" font-size="25.8" text-anchor="middle">Gray value</text>
<rect x="808.4" y="1133" width="156.6" height="16.8" fill="url(#fcg)" stroke="#000" stroke-width="1.8"/>
<line x1="808.4" y1="1149.8" x2="808.4" y2="1154.5" stroke="#000" stroke-width="1.6"/>
<text x="792.5" y="1171.3" font-size="18" text-anchor="middle">-0.36</text>
<line x1="847.5" y1="1149.8" x2="847.5" y2="1154.5" stroke="#000" stroke-width="1.6"/>
<text x="838" y="1171.3" font-size="18" text-anchor="middle">-0.23</text>
<line x1="886.6" y1="1149.8" x2="886.6" y2="1154.5" stroke="#000" stroke-width="1.6"/>
<text x="881" y="1171.3" font-size="18" text-anchor="middle">-0.09</text>
<line x1="925.7" y1="1149.8" x2="925.7" y2="1154.5" stroke="#000" stroke-width="1.6"/>
<text x="921" y="1171.3" font-size="18" text-anchor="middle">0.04</text>
<line x1="964.8" y1="1149.8" x2="964.8" y2="1154.5" stroke="#000" stroke-width="1.6"/>
<text x="961" y="1171.3" font-size="18" text-anchor="middle">0.17</text>
<text x="881" y="1201.6" font-size="24" text-anchor="middle">FC</text>
<line x1="132.5" y1="1248.5" x2="132.5" y2="1574.3" stroke="#000" stroke-width="2.6"/>
<line x1="125" y1="1573" x2="132.5" y2="1573" stroke="#000" stroke-width="2.6"/>
<text x="121.5" y="1583" font-size="28" text-anchor="end">0.0</text>
<line x1="125" y1="1465.3" x2="132.5" y2="1465.3" stroke="#000" stroke-width="2.6"/>
<text x="121.5" y="1475.3" font-size="28" text-anchor="end">0.2</text>
<line x1="125" y1="1357.6" x2="132.5" y2="1357.6" stroke="#000" stroke-width="2.6"/>
<text x="121.5" y="1367.6" font-size="28" text-anchor="end">0.4</text>
<line x1="125" y1="1249.9" x2="132.5" y2="1249.9" stroke="#000" stroke-width="2.6"/>
<text x="121.5" y="1259.9" font-size="28" text-anchor="end">0.6</text>
<line x1="150.4" y1="1443" x2="150.4" y2="1437.9" stroke="#000" stroke-width="2.2"/>
<line x1="146.4" y1="1437.9" x2="154.4" y2="1437.9" stroke="#000" stroke-width="2.2"/>
<rect x="143.6" y="1443" width="13.6" height="130" fill="#c5944f" stroke="#000" stroke-width="1.3"/>
<line x1="172.4" y1="1469.6" x2="172.4" y2="1467.2" stroke="#000" stroke-width="2.2"/>
<line x1="168.4" y1="1467.2" x2="176.4" y2="1467.2" stroke="#000" stroke-width="2.2"/>
<rect x="165.6" y="1469.6" width="13.6" height="103.4" fill="#0000bf" stroke="#000" stroke-width="1.3"/>
<line x1="152.2" y1="1432.7" x2="170.8" y2="1432.7" stroke="#000" stroke-width="2.3"/>
<text x="157.8" y="1435.6" font-size="18.3">*</text>
<line x1="209.2" y1="1457.2" x2="209.2" y2="1453.7" stroke="#000" stroke-width="2.2"/>
<line x1="205.2" y1="1453.7" x2="213.2" y2="1453.7" stroke="#000" stroke-width="2.2"/>
<rect x="202.4" y="1457.2" width="13.6" height="115.8" fill="#c5944f" stroke="#000" stroke-width="1.3"/>
<line x1="231.2" y1="1481.5" x2="231.2" y2="1479.6" stroke="#000" stroke-width="2.2"/>
<line x1="227.2" y1="1479.6" x2="235.2" y2="1479.6" stroke="#000" stroke-width="2.2"/>
<rect x="224.4" y="1481.5" width="13.6" height="91.5" fill="#0000bf" stroke="#000" stroke-width="1.3"/>
<line x1="211" y1="1449.6" x2="229.6" y2="1449.6" stroke="#000" stroke-width="2.3"/>
<text x="216.6" y="1452.5" font-size="18.3">*</text>
<line x1="268.1" y1="1519.4" x2="268.1" y2="1517.6" stroke="#000" stroke-width="2.2"/>
<line x1="264.1" y1="1517.6" x2="272.1" y2="1517.6" stroke="#000" stroke-width="2.2"/>
<rect x="261.3" y="1519.4" width="13.6" height="53.6" fill="#c5944f" stroke="#000" stroke-width="1.3"/>
<line x1="290.1" y1="1532.1" x2="290.1" y2="1530" stroke="#000" stroke-width="2.2"/>
<line x1="286.1" y1="1530" x2="294.1" y2="1530" stroke="#000" stroke-width="2.2"/>
<rect x="283.3" y="1532.1" width="13.6" height="40.9" fill="#0000bf" stroke="#000" stroke-width="1.3"/>
<line x1="269.9" y1="1512.4" x2="288.5" y2="1512.4" stroke="#000" stroke-width="2.3"/>
<text x="275.5" y="1515.3" font-size="18.3">*</text>
<line x1="326.9" y1="1321" x2="326.9" y2="1318.6" stroke="#000" stroke-width="2.2"/>
<line x1="322.9" y1="1318.6" x2="330.9" y2="1318.6" stroke="#000" stroke-width="2.2"/>
<rect x="320.1" y="1321" width="13.6" height="252" fill="#c5944f" stroke="#000" stroke-width="1.3"/>
<line x1="348.9" y1="1374.5" x2="348.9" y2="1368.3" stroke="#000" stroke-width="2.2"/>
<line x1="344.9" y1="1368.3" x2="352.9" y2="1368.3" stroke="#000" stroke-width="2.2"/>
<rect x="342.1" y="1374.5" width="13.6" height="198.5" fill="#0000bf" stroke="#000" stroke-width="1.3"/>
<line x1="328.8" y1="1312.4" x2="347.3" y2="1312.4" stroke="#000" stroke-width="2.3"/>
<text x="334.3" y="1315.3" font-size="18.3">*</text>
<line x1="385.8" y1="1386.9" x2="385.8" y2="1377" stroke="#000" stroke-width="2.2"/>
<line x1="381.8" y1="1377" x2="389.8" y2="1377" stroke="#000" stroke-width="2.2"/>
<rect x="379" y="1386.9" width="13.6" height="186.1" fill="#c5944f" stroke="#000" stroke-width="1.3"/>
<line x1="407.8" y1="1443" x2="407.8" y2="1437.4" stroke="#000" stroke-width="2.2"/>
<line x1="403.8" y1="1437.4" x2="411.8" y2="1437.4" stroke="#000" stroke-width="2.2"/>
<rect x="401" y="1443" width="13.6" height="130" fill="#0000bf" stroke="#000" stroke-width="1.3"/>
<line x1="387.6" y1="1371.9" x2="406.2" y2="1371.9" stroke="#000" stroke-width="2.3"/>
<text x="393.2" y="1374.8" font-size="18.3">*</text>
<line x1="444.7" y1="1355.4" x2="444.7" y2="1346.3" stroke="#000" stroke-width="2.2"/>
<line x1="440.7" y1="1346.3" x2="448.7" y2="1346.3" stroke="#000" stroke-width="2.2"/>
<rect x="437.9" y="1355.4" width="13.6" height="217.6" fill="#c5944f" stroke="#000" stroke-width="1.3"/>
<line x1="466.7" y1="1411.5" x2="466.7" y2="1401.2" stroke="#000" stroke-width="2.2"/>
<line x1="462.7" y1="1401.2" x2="470.7" y2="1401.2" stroke="#000" stroke-width="2.2"/>
<rect x="459.9" y="1411.5" width="13.6" height="161.5" fill="#0000bf" stroke="#000" stroke-width="1.3"/>
<line x1="446.5" y1="1339.8" x2="465.1" y2="1339.8" stroke="#000" stroke-width="2.3"/>
<text x="452" y="1342.7" font-size="18.3">*</text>
<line x1="503.5" y1="1486.3" x2="503.5" y2="1479.3" stroke="#000" stroke-width="2.2"/>
<line x1="499.5" y1="1479.3" x2="507.5" y2="1479.3" stroke="#000" stroke-width="2.2"/>
<rect x="496.7" y="1486.3" width="13.6" height="86.7" fill="#c5944f" stroke="#000" stroke-width="1.3"/>
<line x1="525.5" y1="1515.4" x2="525.5" y2="1513.6" stroke="#000" stroke-width="2.2"/>
<line x1="521.5" y1="1513.6" x2="529.5" y2="1513.6" stroke="#000" stroke-width="2.2"/>
<rect x="518.7" y="1515.4" width="13.6" height="57.6" fill="#0000bf" stroke="#000" stroke-width="1.3"/>
<line x1="505.3" y1="1473.8" x2="523.9" y2="1473.8" stroke="#000" stroke-width="2.3"/>
<text x="510.9" y="1476.7" font-size="18.3">*</text>
<line x1="562.3" y1="1358.7" x2="562.3" y2="1355.3" stroke="#000" stroke-width="2.2"/>
<line x1="558.3" y1="1355.3" x2="566.3" y2="1355.3" stroke="#000" stroke-width="2.2"/>
<rect x="555.5" y="1358.7" width="13.6" height="214.3" fill="#c5944f" stroke="#000" stroke-width="1.3"/>
<line x1="584.3" y1="1402.8" x2="584.3" y2="1399.7" stroke="#000" stroke-width="2.2"/>
<line x1="580.3" y1="1399.7" x2="588.3" y2="1399.7" stroke="#000" stroke-width="2.2"/>
<rect x="577.5" y="1402.8" width="13.6" height="170.2" fill="#0000bf" stroke="#000" stroke-width="1.3"/>
<line x1="564.1" y1="1347" x2="582.8" y2="1347" stroke="#000" stroke-width="2.3"/>
<text x="565.9" y="1349.9" font-size="18.3" letter-spacing="0.8">**</text>
<line x1="621.2" y1="1487.4" x2="621.2" y2="1484.2" stroke="#000" stroke-width="2.2"/>
<line x1="617.2" y1="1484.2" x2="625.2" y2="1484.2" stroke="#000" stroke-width="2.2"/>
<rect x="614.4" y="1487.4" width="13.6" height="85.6" fill="#c5944f" stroke="#000" stroke-width="1.3"/>
<line x1="643.2" y1="1510.5" x2="643.2" y2="1508.6" stroke="#000" stroke-width="2.2"/>
<line x1="639.2" y1="1508.6" x2="647.2" y2="1508.6" stroke="#000" stroke-width="2.2"/>
<rect x="636.4" y="1510.5" width="13.6" height="62.5" fill="#0000bf" stroke="#000" stroke-width="1.3"/>
<line x1="623" y1="1480" x2="641.6" y2="1480" stroke="#000" stroke-width="2.3"/>
<text x="628.6" y="1482.9" font-size="18.3">*</text>
<line x1="680" y1="1463.1" x2="680" y2="1454.6" stroke="#000" stroke-width="2.2"/>
<line x1="676" y1="1454.6" x2="684" y2="1454.6" stroke="#000" stroke-width="2.2"/>
<rect x="673.2" y="1463.1" width="13.6" height="109.9" fill="#c5944f" stroke="#000" stroke-width="1.3"/>
<line x1="702" y1="1501.9" x2="702" y2="1499" stroke="#000" stroke-width="2.2"/>
<line x1="698" y1="1499" x2="706" y2="1499" stroke="#000" stroke-width="2.2"/>
<rect x="695.2" y="1501.9" width="13.6" height="71.1" fill="#0000bf" stroke="#000" stroke-width="1.3"/>
<line x1="681.9" y1="1448.3" x2="700.5" y2="1448.3" stroke="#000" stroke-width="2.3"/>
<text x="687.4" y="1451.2" font-size="18.3">*</text>
<line x1="738.9" y1="1535.5" x2="738.9" y2="1532.8" stroke="#000" stroke-width="2.2"/>
<line x1="734.9" y1="1532.8" x2="742.9" y2="1532.8" stroke="#000" stroke-width="2.2"/>
<rect x="732.1" y="1535.5" width="13.6" height="37.5" fill="#c5944f" stroke="#000" stroke-width="1.3"/>
<line x1="760.9" y1="1547.2" x2="760.9" y2="1545.6" stroke="#000" stroke-width="2.2"/>
<line x1="756.9" y1="1545.6" x2="764.9" y2="1545.6" stroke="#000" stroke-width="2.2"/>
<rect x="754.1" y="1547.2" width="13.6" height="25.8" fill="#0000bf" stroke="#000" stroke-width="1.3"/>
<line x1="740.7" y1="1527.3" x2="759.3" y2="1527.3" stroke="#000" stroke-width="2.3"/>
<text x="746.3" y="1530.2" font-size="18.3">*</text>
<line x1="797.8" y1="1487.4" x2="797.8" y2="1485.3" stroke="#000" stroke-width="2.2"/>
<line x1="793.8" y1="1485.3" x2="801.8" y2="1485.3" stroke="#000" stroke-width="2.2"/>
<rect x="791" y="1487.4" width="13.6" height="85.6" fill="#c5944f" stroke="#000" stroke-width="1.3"/>
<line x1="819.8" y1="1511.6" x2="819.8" y2="1505.9" stroke="#000" stroke-width="2.2"/>
<line x1="815.8" y1="1505.9" x2="823.8" y2="1505.9" stroke="#000" stroke-width="2.2"/>
<rect x="813" y="1511.6" width="13.6" height="61.4" fill="#0000bf" stroke="#000" stroke-width="1.3"/>
<line x1="799.6" y1="1478.4" x2="818.2" y2="1478.4" stroke="#000" stroke-width="2.3"/>
<text x="805.1" y="1481.3" font-size="18.3">*</text>
<line x1="856.6" y1="1486.3" x2="856.6" y2="1484.7" stroke="#000" stroke-width="2.2"/>
<line x1="852.6" y1="1484.7" x2="860.6" y2="1484.7" stroke="#000" stroke-width="2.2"/>
<rect x="849.8" y="1486.3" width="13.6" height="86.7" fill="#c5944f" stroke="#000" stroke-width="1.3"/>
<line x1="878.6" y1="1504.6" x2="878.6" y2="1500.7" stroke="#000" stroke-width="2.2"/>
<line x1="874.6" y1="1500.7" x2="882.6" y2="1500.7" stroke="#000" stroke-width="2.2"/>
<rect x="871.8" y="1504.6" width="13.6" height="68.4" fill="#0000bf" stroke="#000" stroke-width="1.3"/>
<line x1="858.4" y1="1478.4" x2="877" y2="1478.4" stroke="#000" stroke-width="2.3"/>
<text x="864" y="1481.3" font-size="18.3">*</text>
<line x1="915.5" y1="1443.2" x2="915.5" y2="1436.7" stroke="#000" stroke-width="2.2"/>
<line x1="911.5" y1="1436.7" x2="919.5" y2="1436.7" stroke="#000" stroke-width="2.2"/>
<rect x="908.7" y="1443.2" width="13.6" height="129.8" fill="#c5944f" stroke="#000" stroke-width="1.3"/>
<line x1="937.5" y1="1484.1" x2="937.5" y2="1476" stroke="#000" stroke-width="2.2"/>
<line x1="933.5" y1="1476" x2="941.5" y2="1476" stroke="#000" stroke-width="2.2"/>
<rect x="930.7" y="1484.1" width="13.6" height="88.9" fill="#0000bf" stroke="#000" stroke-width="1.3"/>
<line x1="917.3" y1="1430.2" x2="935.9" y2="1430.2" stroke="#000" stroke-width="2.3"/>
<text x="922.8" y="1433.1" font-size="18.3">*</text>
<line x1="124.2" y1="1573" x2="945.2" y2="1573" stroke="#000" stroke-width="2.6"/>
<line x1="161.7" y1="1573" x2="161.7" y2="1580.5" stroke="#000" stroke-width="2.6"/>
<line x1="220.5" y1="1573" x2="220.5" y2="1580.5" stroke="#000" stroke-width="2.6"/>
<line x1="279.4" y1="1573" x2="279.4" y2="1580.5" stroke="#000" stroke-width="2.6"/>
<line x1="338.2" y1="1573" x2="338.2" y2="1580.5" stroke="#000" stroke-width="2.6"/>
<line x1="397.1" y1="1573" x2="397.1" y2="1580.5" stroke="#000" stroke-width="2.6"/>
<line x1="455.9" y1="1573" x2="455.9" y2="1580.5" stroke="#000" stroke-width="2.6"/>
<line x1="514.8" y1="1573" x2="514.8" y2="1580.5" stroke="#000" stroke-width="2.6"/>
<line x1="573.6" y1="1573" x2="573.6" y2="1580.5" stroke="#000" stroke-width="2.6"/>
<line x1="632.5" y1="1573" x2="632.5" y2="1580.5" stroke="#000" stroke-width="2.6"/>
<line x1="691.3" y1="1573" x2="691.3" y2="1580.5" stroke="#000" stroke-width="2.6"/>
<line x1="750.2" y1="1573" x2="750.2" y2="1580.5" stroke="#000" stroke-width="2.6"/>
<line x1="809" y1="1573" x2="809" y2="1580.5" stroke="#000" stroke-width="2.6"/>
<line x1="867.9" y1="1573" x2="867.9" y2="1580.5" stroke="#000" stroke-width="2.6"/>
<line x1="926.8" y1="1573" x2="926.8" y2="1580.5" stroke="#000" stroke-width="2.6"/>
<text x="171.7" y="1606" font-size="26.5" text-anchor="end" transform="rotate(-45 171.7 1606)">Bcl-2</text>
<text x="230.5" y="1606" font-size="26.5" text-anchor="end" transform="rotate(-45 230.5 1606)">Bcl-w</text>
<text x="289.4" y="1606" font-size="26.5" text-anchor="end" transform="rotate(-45 289.4 1606)">cIAP-2</text>
<text x="348.2" y="1606" font-size="26.5" text-anchor="end" transform="rotate(-45 348.2 1606)">HSP27</text>
<text x="407.1" y="1606" font-size="26.5" text-anchor="end" transform="rotate(-45 407.1 1606)">HSP60</text>
<text x="465.9" y="1606" font-size="26.5" text-anchor="end" transform="rotate(-45 465.9 1606)">HSP70</text>
<text x="524.8" y="1606" font-size="26.5" text-anchor="end" transform="rotate(-45 524.8 1606)">IGF-I</text>
<text x="583.6" y="1606" font-size="26.5" text-anchor="end" transform="rotate(-45 583.6 1606)">IGF-II</text>
<text x="642.5" y="1606" font-size="26.5" text-anchor="end" transform="rotate(-45 642.5 1606)">sTNF-R1</text>
<text x="701.3" y="1606" font-size="26.5" text-anchor="end" transform="rotate(-45 701.3 1606)">sTNF-R2</text>
<text x="760.2" y="1606" font-size="26.5" text-anchor="end" transform="rotate(-45 760.2 1606)">TNF-α</text>
<text x="819" y="1606" font-size="26.5" text-anchor="end" transform="rotate(-45 819 1606)">TNF-β</text>
<text x="877.9" y="1606" font-size="26.5" text-anchor="end" transform="rotate(-45 877.9 1606)">TRAILR-4</text>
<text x="936.8" y="1606" font-size="26.5" text-anchor="end" transform="rotate(-45 936.8 1606)">XIAP</text>
<text x="63.8" y="1408.6" font-size="27" text-anchor="middle" transform="rotate(-90 63.8 1408.6)">Gray value</text>
<rect x="143.6" y="1255.6" width="29" height="13.7" fill="#c5944f" stroke="#000" stroke-width="1.5"/>
<text x="178.6" y="1269.4" font-size="25">shCtrl</text>
<rect x="143.6" y="1283.7" width="29" height="13.7" fill="#0000bf" stroke="#000" stroke-width="1.5"/>
<text x="176.6" y="1297.5" font-size="25">shKNTC1</text>
<line x1="1180.5" y1="672.2" x2="1180.5" y2="954.3" stroke="#000" stroke-width="2.6"/>
<line x1="1173" y1="953" x2="1180.5" y2="953" stroke="#000" stroke-width="2.6"/>
<text x="1169.5" y="961.6" font-size="24" text-anchor="end">0.0</text>
<line x1="1173" y1="859.9" x2="1180.5" y2="859.9" stroke="#000" stroke-width="2.6"/>
<text x="1169.5" y="868.4" font-size="24" text-anchor="end">0.5</text>
<line x1="1173" y1="766.7" x2="1180.5" y2="766.7" stroke="#000" stroke-width="2.6"/>
<text x="1169.5" y="775.3" font-size="24" text-anchor="end">1.0</text>
<line x1="1173" y1="673.5" x2="1180.5" y2="673.5" stroke="#000" stroke-width="2.6"/>
<text x="1169.5" y="682.1" font-size="24" text-anchor="end">1.5</text>
<rect x="1236.5" y="766.7" width="72.5" height="186.3" fill="#c5944f" stroke="#000" stroke-width="1.5"/>
<line x1="1383.5" y1="807.3" x2="1383.5" y2="803.4" stroke="#000" stroke-width="2.4"/>
<line x1="1366.5" y1="803.4" x2="1400.5" y2="803.4" stroke="#000" stroke-width="2.4"/>
<rect x="1347.4" y="807.3" width="72.2" height="145.7" fill="#0000bf" stroke="#000" stroke-width="1.5"/>
<line x1="1173.3" y1="953" x2="1476.6" y2="953" stroke="#000" stroke-width="2.6"/>
<line x1="1272.6" y1="953" x2="1272.6" y2="960.5" stroke="#000" stroke-width="2.6"/>
<text x="1272.6" y="986" font-size="24" text-anchor="middle">shCtrl</text>
<line x1="1383" y1="953" x2="1383" y2="960.5" stroke="#000" stroke-width="2.6"/>
<text x="1383" y="986" font-size="24" text-anchor="middle">shKNTC1</text>
<line x1="1255" y1="738" x2="1397.2" y2="738" stroke="#000" stroke-width="3.4"/>
<text x="1299" y="744.8" font-size="34" letter-spacing="3.3">***</text>
<text x="1126" y="813" font-size="24" text-anchor="middle" transform="rotate(-90 1126 813)">Migration fold change</text>
<line x1="1683" y1="671.8" x2="1683" y2="954.4" stroke="#000" stroke-width="2.6"/>
<line x1="1675.5" y1="953.1" x2="1683" y2="953.1" stroke="#000" stroke-width="2.6"/>
<text x="1672" y="961.7" font-size="24" text-anchor="end">0.0</text>
<line x1="1675.5" y1="859.8" x2="1683" y2="859.8" stroke="#000" stroke-width="2.6"/>
<text x="1672" y="868.3" font-size="24" text-anchor="end">0.5</text>
<line x1="1675.5" y1="766.4" x2="1683" y2="766.4" stroke="#000" stroke-width="2.6"/>
<text x="1672" y="775" font-size="24" text-anchor="end">1.0</text>
<line x1="1675.5" y1="673.1" x2="1683" y2="673.1" stroke="#000" stroke-width="2.6"/>
<text x="1672" y="681.6" font-size="24" text-anchor="end">1.5</text>
<line x1="1774.9" y1="768.3" x2="1774.9" y2="765.5" stroke="#000" stroke-width="2.4"/>
<line x1="1757.9" y1="765.5" x2="1791.9" y2="765.5" stroke="#000" stroke-width="2.4"/>
<rect x="1738.6" y="768.3" width="72.7" height="184.8" fill="#c5944f" stroke="#000" stroke-width="1.5"/>
<line x1="1885.9" y1="837.3" x2="1885.9" y2="833.6" stroke="#000" stroke-width="2.4"/>
<line x1="1868.9" y1="833.6" x2="1902.9" y2="833.6" stroke="#000" stroke-width="2.4"/>
<rect x="1849.4" y="837.3" width="73" height="115.8" fill="#0000bf" stroke="#000" stroke-width="1.5"/>
<line x1="1676" y1="953.1" x2="1978.8" y2="953.1" stroke="#000" stroke-width="2.6"/>
<line x1="1774.8" y1="953.1" x2="1774.8" y2="960.6" stroke="#000" stroke-width="2.6"/>
<text x="1774.8" y="985.5" font-size="24" text-anchor="middle">shCtrl</text>
<line x1="1885" y1="953.1" x2="1885" y2="960.6" stroke="#000" stroke-width="2.6"/>
<text x="1885" y="985.5" font-size="24" text-anchor="middle">shKNTC1</text>
<line x1="1757.5" y1="746.9" x2="1899.8" y2="746.9" stroke="#000" stroke-width="3.4"/>
<text x="1804.6" y="753.7" font-size="34" letter-spacing="3.2">***</text>
<text x="1625" y="814.5" font-size="24" text-anchor="middle" transform="rotate(-90 1625 814.5)">Migration fold change</text>
<text x="1101" y="1071" font-size="26" text-anchor="middle" transform="rotate(-90 1101 1071)">shCtrl</text>
<text x="1333" y="1072.5" font-size="25.4" text-anchor="middle" transform="rotate(-90 1333 1072.5)">shKNTC1</text>
<text x="1557.5" y="1070" font-size="26" text-anchor="middle" transform="rotate(-90 1557.5 1070)">shCtrl</text>
<text x="1793.5" y="1069.5" font-size="25.4" text-anchor="middle" transform="rotate(-90 1793.5 1069.5)">shKNTC1</text>
<filter id="mf1" x="0" y="0" width="100%" height="100%" color-interpolation-filters="sRGB"><feTurbulence type="fractalNoise" baseFrequency="0.09 0.09" numOctaves="3" seed="1" result="n"/><feColorMatrix in="n" type="matrix" values="0 0 0 0 0 0 0 0 0 0 0 0 0 0 0 1 0 0 0 0" result="a"/><feComponentTransfer in="a" result="th"><feFuncA type="linear" slope="4" intercept="-1.2"/></feComponentTransfer><feTurbulence type="fractalNoise" baseFrequency="0.18" numOctaves="2" seed="8" result="n2"/><feColorMatrix in="n2" type="matrix" values="0 0 0 0 0 0 0 0 0 0 0 0 0 0 0 0 1 0 0 0" result="a2"/><feComponentTransfer in="a2" result="th2"><feFuncA type="linear" slope="2.5" intercept="-0.9"/></feComponentTransfer><feFlood flood-color="#8466bc" result="c1"/><feComposite in="c1" in2="th" operator="in" result="cells"/><feFlood flood-color="#5a44a4" result="c2"/><feComposite in="c2" in2="th2" operator="in" result="dk"/><feComposite in="dk" in2="th" operator="in" result="dk2"/><feFlood flood-color="#bdb5c9" result="bg"/><feMerge><feMergeNode in="bg"/><feMergeNode in="cells"/><feMergeNode in="dk2"/></feMerge></filter>
<rect x="1108.6" y="1017.9" width="190" height="106.4" filter="url(#mf1)"/>
<path d="M1134.9 1107.4h1M1253.2 1045.5h1M1202.7 1065.8h1M1232.1 1101.2h1M1127.2 1021.9h1M1266.7 1064.1h1M1252.9 1019.1h1M1193.3 1094.2h1M1152.6 1117.6h1M1279.1 1022.1h1M1114.4 1075.4h1M1286.2 1058.7h1M1150.3 1063h1M1115.1 1042h1M1191.9 1070.7h1M1153.4 1043h1M1150.7 1066.9h1M1164.1 1021.1h1M1267.1 1077h1M1230.4 1038.3h1M1296.2 1108.7h1M1132.3 1053.6h1M1245.2 1093.1h1M1285.7 1063h1M1265.6 1088.9h1M1166.6 1080.2h1M1275.5 1107.2h1M1204.6 1080.4h1M1116.1 1044.2h1M1259.5 1062.2h1M1142.1 1076.2h1M1241.8 1089.3h1M1180 1064.7h1M1205.2 1100.2h1M1207.5 1060h1M1201.7 1022h1M1117.8 1092.3h1M1294.4 1080.8h1M1183.6 1036.7h1M1204 1121.4h1M1254.5 1075.2h1M1271.3 1043.1h1M1206.2 1118.3h1M1218.2 1066.8h1M1160.2 1076.1h1M1289.5 1019.5h1M1256.9 1104.6h1M1276.2 1096.2h1M1261.7 1073.1h1M1215.1 1063.4h1M1120.2 1109.7h1M1216.8 1039.8h1M1204.5 1069.5h1M1176.7 1055h1M1210.8 1084h1M1224.7 1066.7h1M1114.9 1042.9h1M1142.9 1079.9h1M1271.5 1102.3h1M1259.5 1104.1h1M1157.6 1106.8h1M1236.1 1027.6h1M1112.7 1020.4h1M1251.7 1045h1M1130.2 1084.1h1M1174.4 1026.2h1M1139.6 1074h1M1141.2 1047.4h1M1243.4 1066.4h1M1170.1 1068.4h1M1114 1059.3h1M1188.7 1038.5h1M1130 1112.8h1M1205.5 1040.7h1M1223.5 1104.2h1M1113.5 1020.8h1M1137.1 1093.9h1M1139.7 1092.5h1M1237.1 1075.8h1M1151.1 1120.8h1M1259.6 1072.8h1M1151.6 1086.6h1M1183.8 1079h1M1170 1084.8h1M1120.7 1050.1h1M1291.6 1110.3h1M1167.2 1108.5h1M1167.9 1117h1M1249.4 1062.3h1M1157 1019.8h1M1274.8 1022.9h1M1263.6 1119.4h1M1216.8 1036.8h1M1272.7 1120.6h1M1242 1072h1M1180.7 1055.1h1M1148.3 1089.3h1M1191 1039.2h1M1129.2 1088.4h1M1165.3 1071.1h1M1170.8 1109.9h1M1278.7 1020.8h1M1147.4 1053.1h1M1295.2 1100.6h1M1173.3 1041.1h1M1236.4 1106.4h1M1284.9 1054.8h1M1275.5 1090.6h1M1200.7 1121.8h1M1153.7 1094.6h1M1125.5 1036.6h1M1280.9 1041.1h1M1252.3 1081.6h1M1267.7 1057.3h1M1173.6 1049.3h1M1272.7 1082h1M1289 1111.5h1M1135 1076.4h1M1129.2 1023h1M1123.4 1109.3h1M1257.8 1105.4h1M1173.7 1083.1h1M1256.6 1058.4h1M1216.9 1042.3h1M1125 1046.7h1M1277.1 1077.8h1M1283.5 1066.7h1M1161.7 1101.1h1M1265.2 1020.2h1M1235.6 1028.5h1M1131.2 1111.3h1M1117.1 1043.9h1M1295.4 1062.9h1M1131.3 1036.4h1M1155 1096.6h1M1128.9 1114h1M1180.7 1120.2h1M1280.5 1049.6h1M1157.2 1068.7h1M1128.4 1087h1M1117 1020h1M1294.3 1049.8h1M1221.8 1065.9h1M1168.5 1025.5h1M1281.3 1120.1h1M1291.9 1030.5h1M1150.1 1083.4h1M1293.8 1075.6h1M1239 1088h1M1158.3 1075.4h1M1167.4 1044.6h1M1124.9 1048.2h1M1294.5 1065.7h1M1232.2 1086.1h1M1286.5 1059.7h1M1167.3 1053.1h1M1169.1 1107.3h1M1277.6 1050.5h1M1172.5 1075.7h1M1218.4 1081.1h1M1155.7 1021h1M1155.4 1026.5h1M1213.2 1026.3h1M1123.7 1085.2h1M1164.3 1101.6h1M1202.3 1109h1M1138.6 1071.2h1M1259.1 1026.9h1M1288.1 1037h1M1255.5 1121.7h1M1264.1 1052.3h1M1129.7 1072.6h1M1282.4 1049.5h1M1277.6 1033.7h1M1280.8 1022.2h1M1169 1113.2h1M1260.7 1113.6h1M1267.7 1096.8h1M1239.2 1037.5h1M1190.9 1035.4h1M1244 1088.6h1M1157.1 1025.6h1M1290.7 1103.3h1M1212.9 1075.4h1M1269.6 1066.2h1M1184 1054.3h1M1158.1 1021.4h1M1231.1 1062.4h1M1216.9 1025.4h1M1176.3 1033.3h1M1133.1 1046h1M1265.4 1060.4h1M1185 1082.8h1M1153.5 1019.7h1M1209 1071.2h1M1231.6 1064.7h1M1238.7 1095.3h1M1154.4 1070.6h1M1199.6 1042.4h1M1187.1 1077.4h1M1280.1 1114.7h1M1161.3 1086.4h1M1118.7 1026.4h1M1205.8 1110.5h1M1139.6 1098.9h1M1275.6 1051.5h1M1239.8 1107.5h1M1179.5 1092.1h1M1248 1081h1M1270.6 1112.5h1M1290.1 1078.5h1M1142.7 1045.1h1M1150.5 1078.4h1M1252.1 1024.3h1M1237.7 1093.8h1M1175 1072.7h1M1140.6 1095.1h1M1117.3 1121.3h1M1261.5 1084.5h1M1159.9 1114.2h1M1290 1033.4h1M1255.4 1106.8h1M1233.6 1092h1M1193.3 1115.4h1M1292.2 1058.8h1M1260.5 1064.1h1M1140.6 1052.9h1M1133.4 1113.8h1M1290 1031.3h1M1222.5 1061.5h1M1131.8 1049.7h1M1156.3 1097.2h1M1110.4 1038.7h1M1192.1 1021.1h1M1227.6 1082.1h1M1266.6 1040.5h1M1163.1 1075.5h1M1161 1080.1h1M1156.8 1090.3h1M1258.3 1103.3h1M1292.6 1075.8h1M1201.9 1108.2h1M1254.2 1078.5h1M1181.7 1048.6h1M1129.9 1103.2h1M1131.8 1096.9h1M1212.1 1119.6h1M1252.7 1120.5h1M1135.3 1071.1h1M1217.2 1051.4h1M1204.2 1056.2h1M1208.9 1019h1M1192.8 1065.8h1M1166.9 1060.6h1M1256.8 1090.2h1M1202.2 1086.5h1M1180.6 1040.2h1M1110.3 1047.9h1M1222.1 1110.9h1M1265.5 1072.2h1M1295.2 1067.1h1M1266.5 1061.6h1M1249.6 1122h1M1167 1036.7h1M1226.2 1074.3h1M1177.2 1019.3h1M1182.8 1063.4h1M1185.8 1108.8h1M1219.5 1095.5h1M1278.4 1097.1h1M1202.2 1096.8h1M1230 1086.6h1M1228 1061.4h1M1227.9 1085.1h1M1285.8 1100.6h1M1268.7 1099h1M1262.9 1082.1h1M1175.3 1046.5h1M1242.7 1110.1h1M1211.9 1034.8h1M1266.2 1069.5h1M1197.4 1023.6h1M1205.5 1096.7h1M1189 1056h1M1233.1 1021h1M1204.9 1117.7h1M1239.4 1060.9h1M1239.1 1082.1h1M1148.9 1040.6h1M1276.2 1047h1M1123.7 1105.6h1M1208 1057.3h1M1205.8 1095.8h1M1141.3 1087.1h1M1243.7 1104h1M1160.3 1082.5h1M1153.2 1077.5h1M1142 1101.4h1M1272.5 1053.3h1M1151.4 1119.5h1" stroke="#2a2440" stroke-width="1.4" stroke-linecap="round" opacity="0.7"/>
<path d="M1242.5 1107h.5M1115.3 1112.8h.5M1226.6 1051.9h.5M1190.8 1098.4h.5M1257.3 1038.7h.5M1227.3 1036.2h.5M1292.5 1065.2h.5M1281.3 1094.9h.5M1223.6 1046.3h.5M1208.6 1033.4h.5M1135.6 1093.6h.5M1177.5 1097.3h.5M1154.8 1093.9h.5M1244.7 1050.8h.5M1129.6 1060.3h.5M1202.2 1029.3h.5M1144.7 1024.7h.5M1221.9 1111.7h.5M1150.3 1022.5h.5M1241.9 1104h.5M1290.9 1082.9h.5M1174 1106.4h.5M1131.8 1091.2h.5M1127.5 1060.6h.5M1202.7 1058.4h.5M1141.3 1043.1h.5M1263.8 1067.2h.5M1218.6 1041h.5M1244 1053.4h.5M1221.2 1113.9h.5M1296.5 1023.7h.5M1259.5 1108.4h.5M1169.7 1058.9h.5M1218.7 1114.8h.5M1184.8 1110.8h.5M1252.2 1034.8h.5M1281.4 1020.5h.5M1136.9 1088.3h.5M1120.3 1058.5h.5M1134 1067.2h.5M1267.5 1113.5h.5M1116.3 1025.3h.5M1267.6 1023.4h.5M1161 1031.2h.5M1126.7 1021.8h.5M1229.5 1096.6h.5M1238.7 1107.2h.5M1234.2 1059.6h.5M1228.2 1120.1h.5M1230.2 1044.3h.5M1120.9 1116.5h.5M1220.6 1055.4h.5M1223.4 1077.4h.5M1207.8 1025.2h.5M1176 1062h.5M1147.1 1110.8h.5M1189.3 1088.1h.5M1243.7 1096.5h.5M1245.2 1097.4h.5M1156.9 1120.8h.5M1138 1114.8h.5M1270.3 1107.9h.5M1119.5 1028.4h.5M1262.5 1067.9h.5M1179.2 1121.7h.5M1117.1 1074.4h.5M1192.9 1032.3h.5M1183.9 1092.8h.5M1275.5 1021.5h.5M1208.2 1028.3h.5M1260.1 1027.9h.5M1116 1059h.5M1247.3 1051.6h.5M1134 1101.9h.5M1261.3 1108.3h.5M1166.7 1063.3h.5M1155.7 1077.1h.5M1171.7 1054.3h.5M1256.9 1118.7h.5M1219.4 1029.8h.5M1232.3 1065.7h.5M1295.3 1094h.5M1266.5 1092.1h.5M1210.3 1112.5h.5M1265.9 1049.3h.5M1139.1 1057.6h.5M1207.6 1029.1h.5M1174.5 1078.9h.5M1117.8 1104h.5M1232 1051.6h.5M1165.7 1055.7h.5M1170.8 1097h.5M1203.8 1073.8h.5M1137.6 1114.4h.5M1170.8 1053.1h.5M1122.5 1121.2h.5M1199.8 1114.2h.5M1284 1120.1h.5M1262.9 1115.5h.5M1283 1102.6h.5M1134.9 1073.6h.5M1217.8 1122.5h.5M1257 1092.3h.5M1250 1056.6h.5M1286.8 1086.1h.5M1185.3 1067.4h.5M1293.8 1074.5h.5M1141.1 1034.4h.5M1238.8 1077.7h.5M1280.1 1038.2h.5M1186.9 1094.9h.5M1119 1029.3h.5M1212.2 1046.6h.5M1129.7 1046.2h.5M1228.4 1073.9h.5M1124.4 1026.5h.5M1269.5 1086.1h.5M1142.2 1108.9h.5M1113.7 1057.3h.5M1269 1093.1h.5M1162.9 1111.9h.5M1222 1109.3h.5M1277.4 1063.3h.5M1236.6 1075.7h.5M1287.2 1102.2h.5M1246.1 1103.9h.5M1297.3 1045.7h.5M1147.5 1096.9h.5M1254.4 1072.6h.5M1201.2 1061.1h.5M1275.5 1102h.5M1219.5 1023.1h.5M1269.6 1066.8h.5M1145.3 1050.2h.5M1239.6 1019.5h.5M1132.2 1050.5h.5M1276.4 1096.9h.5M1292.1 1075.6h.5M1217.1 1076.5h.5M1208.4 1075.5h.5M1263.5 1118.4h.5M1186.4 1084.7h.5M1167.5 1050.4h.5M1204.8 1080.1h.5M1213 1120.9h.5M1140.2 1085.4h.5M1296.6 1095.8h.5M1216 1057.4h.5M1185.2 1116.7h.5M1277.9 1088.8h.5" stroke="#f4f4f4" stroke-width="1.1" stroke-linecap="round" opacity="0.8"/>
<filter id="mf2" x="0" y="0" width="100%" height="100%" color-interpolation-filters="sRGB"><feTurbulence type="fractalNoise" baseFrequency="0.085 0.085" numOctaves="3" seed="2" result="n"/><feColorMatrix in="n" type="matrix" values="0 0 0 0 0 0 0 0 0 0 0 0 0 0 0 1 0 0 0 0" result="a"/><feComponentTransfer in="a" result="th"><feFuncA type="linear" slope="4.5" intercept="-1.5"/></feComponentTransfer><feTurbulence type="fractalNoise" baseFrequency="0.18" numOctaves="2" seed="9" result="n2"/><feColorMatrix in="n2" type="matrix" values="0 0 0 0 0 0 0 0 0 0 0 0 0 0 0 0 1 0 0 0" result="a2"/><feComponentTransfer in="a2" result="th2"><feFuncA type="linear" slope="2.5" intercept="-0.9"/></feComponentTransfer><feFlood flood-color="#8a52b8" result="c1"/><feComposite in="c1" in2="th" operator="in" result="cells"/><feFlood flood-color="#5e2e98" result="c2"/><feComposite in="c2" in2="th2" operator="in" result="dk"/><feComposite in="dk" in2="th" operator="in" result="dk2"/><feFlood flood-color="#c6c6c6" result="bg"/><feMerge><feMergeNode in="bg"/><feMergeNode in="cells"/><feMergeNode in="dk2"/></feMerge></filter>
<rect x="1340" y="1018.6" width="189.3" height="105.7" filter="url(#mf2)"/>
<path d="M1520.1 1117.9h1M1351.6 1028.4h1M1497.5 1095.9h1M1466.4 1051.6h1M1454.5 1082.5h1M1449.9 1036h1M1421.7 1060.4h1M1476.4 1122.8h1M1518.8 1076h1M1424.3 1047.4h1M1347.7 1022.4h1M1428.1 1052.6h1M1412.2 1112.1h1M1439.5 1077.7h1M1385.2 1022.1h1M1401.9 1033.8h1M1436.6 1123.2h1M1467.3 1038.5h1M1508.4 1102.2h1M1478.6 1113.6h1M1483.9 1101.5h1M1407.3 1121.3h1M1521.2 1036.3h1M1482.2 1093.8h1M1427.4 1074.6h1M1432.8 1115.5h1M1434.8 1105.8h1M1407.3 1111.2h1M1509.5 1067.4h1M1447.3 1115h1M1476.6 1070.1h1M1382.5 1053.3h1M1472 1036.8h1M1511.1 1047.4h1M1511.7 1051.7h1M1520.3 1092.8h1M1435.4 1073.3h1M1463 1080.6h1M1399.4 1041.2h1M1436.9 1116.5h1M1457.7 1027.4h1M1494.7 1094.9h1M1511 1039.4h1M1480.5 1025.7h1M1463.3 1047.9h1M1383.4 1110.4h1M1360.9 1073.8h1M1500.9 1045h1M1380.4 1110.9h1M1420.2 1093.9h1M1347 1057.2h1M1373.2 1089.4h1M1356.5 1118.6h1M1345.7 1095.2h1M1345 1046.1h1M1493.3 1035.9h1M1375.4 1091.3h1M1413.2 1024.1h1M1526.4 1035.3h1M1347.8 1055.3h1M1456.2 1096.6h1M1362.2 1054.6h1M1346.8 1066.1h1M1484.5 1096.3h1M1509.9 1098h1M1502.5 1092.7h1M1429.6 1043h1M1464.8 1052.4h1M1360.1 1066h1M1504.8 1032.8h1M1450.6 1060.3h1M1437.4 1034.5h1M1520.8 1046.5h1M1454.5 1063.1h1M1344.4 1077.5h1M1367.3 1025.5h1M1347.3 1036.3h1M1359 1085.5h1M1436.2 1121.6h1M1516 1122.7h1M1384.5 1065.7h1M1388 1080.9h1M1457.9 1102.6h1M1473.9 1046.2h1M1420.2 1074.2h1M1341.9 1023.3h1M1417.6 1031.1h1M1476.6 1044.6h1M1359.7 1038.4h1M1384.4 1042.1h1M1438.5 1067.8h1M1399 1086.2h1M1380.8 1113.6h1M1521.4 1095.2h1M1422.2 1072.6h1M1449.8 1024.9h1M1419.3 1074h1M1374.9 1029.3h1M1491.3 1057.6h1M1438.2 1115.2h1M1455.3 1049.6h1M1525.2 1058.2h1M1344.6 1090.7h1M1359.9 1051.3h1M1498.4 1089.3h1M1343.9 1066.4h1M1417.9 1070h1M1380 1080.7h1M1354.8 1049.1h1M1410.8 1116.6h1M1355.3 1097.9h1M1377 1078.9h1M1414.4 1067.6h1M1482.1 1060.6h1M1363.8 1032.2h1M1356.1 1107.8h1M1461.1 1119.1h1M1470.7 1022.2h1M1464.5 1100.2h1M1476.5 1071.2h1M1408 1067h1M1490.6 1047.5h1M1439.6 1069.1h1M1519.8 1103h1M1515.6 1106.3h1M1396.6 1043.6h1M1432.6 1046.5h1M1421.1 1090h1M1513.1 1080.4h1M1494.2 1029.5h1M1407.7 1123.1h1M1368.4 1062.8h1M1353.5 1028.5h1M1508.7 1122.1h1M1462.4 1032.9h1M1396.5 1043.6h1M1466.6 1090.2h1M1423.2 1073.9h1M1362 1075.7h1M1518.9 1098h1M1359 1073.2h1M1475 1046.3h1M1508.6 1067.4h1M1472.7 1061.5h1M1527.4 1100.8h1M1448.4 1034.6h1M1423.6 1022.6h1M1452.5 1111h1M1374.8 1072.5h1M1431.4 1061.6h1M1474.1 1116.7h1M1473.1 1068.6h1M1521.2 1053.9h1M1480.7 1087.9h1M1483.6 1108h1M1383.1 1084h1M1416.4 1088.8h1M1524 1085.4h1M1343.2 1067.8h1M1474.3 1111.2h1M1462.8 1104.2h1M1344.2 1117.4h1M1477.6 1082.5h1M1510.6 1111.3h1M1359.8 1104.2h1M1484.7 1040.3h1M1480.4 1080.4h1M1376.9 1103h1M1366.8 1083.1h1M1422.4 1045.9h1M1447 1068h1M1379.4 1119.9h1M1354.6 1019.9h1M1431.9 1106.4h1M1464.3 1097.9h1M1431.8 1089.6h1M1403.7 1047.3h1M1435.2 1022.5h1M1355.9 1097.8h1M1373.5 1097.4h1M1487.9 1061.5h1M1467.4 1101.3h1M1502.8 1033.6h1M1371.4 1059.2h1M1428 1050.2h1M1342.9 1077.4h1M1522.1 1057.6h1M1441.8 1059.2h1M1423.9 1109.9h1M1398.8 1086.9h1M1431.6 1075.4h1M1512.3 1027.6h1M1495.4 1051.1h1M1462.1 1102.1h1M1463.4 1060.4h1M1498.5 1029.2h1M1459.6 1060.2h1M1440.4 1107.8h1M1490.4 1084.8h1M1398.7 1043.8h1M1426.7 1043.7h1M1393 1118.9h1M1362 1104.5h1M1412 1057.4h1M1400.6 1027.6h1M1426.7 1036.9h1M1423.8 1049.9h1M1508.6 1115.2h1M1423.8 1085.9h1M1515.1 1053.4h1M1359.6 1044.3h1M1376.5 1090h1M1411 1056.5h1M1489.9 1043.8h1M1492.4 1085.2h1M1416 1105h1M1405.1 1110.7h1M1514.4 1071.7h1M1470.2 1118h1M1480.1 1097.5h1M1503.8 1116.6h1M1482.1 1121.1h1M1395.6 1084.2h1M1466.6 1057.7h1M1415 1037.7h1M1520.4 1056.3h1M1430.3 1112.3h1M1375.9 1119.2h1M1364.8 1022.5h1M1406.7 1056.8h1M1512.9 1111.2h1M1483.6 1064.9h1M1442.6 1044.2h1M1497.1 1060h1M1394.3 1085.7h1M1369.2 1052.4h1M1514.5 1029.5h1M1367.6 1040.8h1M1388 1063.2h1M1387.9 1055.1h1M1387.2 1044.5h1M1455.4 1054.5h1M1410.8 1099.2h1M1352.6 1034.5h1M1500.4 1064.2h1M1486.9 1033.4h1M1439 1107.3h1M1404.3 1099.3h1M1455.3 1060.5h1M1527.8 1060.3h1M1429.7 1083.8h1M1400.3 1106.5h1M1452.9 1080.6h1M1441.9 1121.7h1M1526.2 1106.8h1M1426.1 1062.3h1M1439.3 1024.4h1M1361.3 1122.8h1M1365 1116.8h1M1468.3 1114.5h1" stroke="#2a2440" stroke-width="1.4" stroke-linecap="round" opacity="0.7"/>
<path d="M1355.5 1051.3h.5M1490.5 1020.5h.5M1360.8 1056h.5M1373.4 1034.8h.5M1466.4 1029.1h.5M1523 1086.9h.5M1350.3 1112.8h.5M1386.2 1069.5h.5M1445.7 1034h.5M1435.1 1025.9h.5M1378.4 1114.9h.5M1495 1073.8h.5M1468.7 1110.4h.5M1367.2 1070.6h.5M1365.7 1031.7h.5M1361.3 1041.6h.5M1351 1041.9h.5M1412 1084.2h.5M1501.8 1113.4h.5M1475.4 1072.2h.5M1512.8 1036.5h.5M1360.7 1104.4h.5M1458.5 1041.4h.5M1411.7 1050.4h.5M1421.7 1064h.5M1415.6 1102.3h.5M1493 1077.9h.5M1429.6 1049.1h.5M1484.4 1121.9h.5M1383.9 1092.5h.5M1471.9 1087.9h.5M1346.7 1076.8h.5M1378.8 1039.8h.5M1449.6 1086.5h.5M1458.1 1096.6h.5M1472.6 1068.9h.5M1350 1099.7h.5M1495.2 1106.2h.5M1453 1023.6h.5M1377.7 1030.8h.5M1460.1 1076h.5M1375.9 1118.7h.5M1524.2 1112.9h.5M1427.9 1049.9h.5M1380.1 1105.1h.5M1472.3 1048.4h.5M1510 1078.6h.5M1418.3 1062.7h.5M1475.9 1066.8h.5M1464.5 1032.3h.5M1472.5 1047.8h.5M1511.5 1041.8h.5M1403.4 1075.4h.5M1414.5 1074.1h.5M1514 1040.5h.5M1485.6 1091.5h.5M1488.3 1066h.5M1426.1 1055.5h.5M1429.6 1046h.5M1376.7 1069h.5M1377 1068.3h.5M1448.4 1051.7h.5M1372.9 1082.3h.5M1502.1 1042.6h.5M1456.3 1087.9h.5M1506.7 1090.3h.5M1398.7 1041.1h.5M1497.7 1050.6h.5M1343.4 1109.9h.5M1378.1 1052.1h.5M1400.7 1046.1h.5M1476.6 1055.2h.5M1423.5 1063.1h.5M1497.1 1021.5h.5M1449.6 1033.3h.5M1369.2 1082.5h.5M1411.4 1026.3h.5M1451.2 1114.4h.5M1461.8 1071h.5M1491 1114.6h.5M1369.3 1050.6h.5M1521.7 1115.6h.5M1379 1092.6h.5M1504.8 1080.9h.5M1472.5 1073.9h.5M1385 1041.7h.5M1352.6 1088.6h.5M1366.9 1084h.5M1414.3 1064.8h.5M1522.8 1060.2h.5M1429.9 1059h.5M1381.3 1042.8h.5M1440.8 1104.4h.5M1358 1117.7h.5M1467.3 1025.2h.5M1473.4 1061.2h.5M1437.4 1030.1h.5M1436.6 1073.5h.5M1487.6 1079.8h.5M1473 1095.8h.5M1382.4 1022.2h.5M1430.6 1033h.5M1367.6 1053h.5M1441.7 1083.5h.5M1462.1 1117.4h.5M1360.1 1077.5h.5M1357.2 1089.1h.5M1422.9 1034.1h.5M1399.2 1088.1h.5M1429.6 1117.5h.5M1407.5 1054.9h.5M1513.8 1082.4h.5M1361 1100.9h.5M1409.1 1117.9h.5M1460.1 1103.1h.5M1508.8 1072.4h.5M1522.2 1022.3h.5M1404.8 1106.5h.5M1342.5 1089.3h.5M1528.1 1093.8h.5M1502.5 1027.6h.5M1442.2 1082.8h.5M1422.6 1063.1h.5M1489.1 1036.5h.5M1349.4 1081.1h.5M1522 1105.4h.5M1467.1 1050.2h.5M1510.4 1023.8h.5M1387.2 1101.3h.5M1508.6 1061.4h.5" stroke="#f4f4f4" stroke-width="1.1" stroke-linecap="round" opacity="0.8"/>
<filter id="mf3" x="0" y="0" width="100%" height="100%" color-interpolation-filters="sRGB"><feTurbulence type="fractalNoise" baseFrequency="0.05 0.09" numOctaves="3" seed="3" result="n"/><feColorMatrix in="n" type="matrix" values="0 0 0 0 0 0 0 0 0 0 0 0 0 0 0 1 0 0 0 0" result="a"/><feComponentTransfer in="a" result="th"><feFuncA type="linear" slope="4" intercept="-1"/></feComponentTransfer><feTurbulence type="fractalNoise" baseFrequency="0.18" numOctaves="2" seed="10" result="n2"/><feColorMatrix in="n2" type="matrix" values="0 0 0 0 0 0 0 0 0 0 0 0 0 0 0 0 1 0 0 0" result="a2"/><feComponentTransfer in="a2" result="th2"><feFuncA type="linear" slope="2.5" intercept="-0.9"/></feComponentTransfer><feFlood flood-color="#7e70c4" result="c1"/><feComposite in="c1" in2="th" operator="in" result="cells"/><feFlood flood-color="#4e44a0" result="c2"/><feComposite in="c2" in2="th2" operator="in" result="dk"/><feComposite in="dk" in2="th" operator="in" result="dk2"/><feFlood flood-color="#aca6d2" result="bg"/><feMerge><feMergeNode in="bg"/><feMergeNode in="cells"/><feMergeNode in="dk2"/></feMerge></filter>
<rect x="1564" y="1015.1" width="194" height="108.5" filter="url(#mf3)"/>
<clipPath id="mcc3"><rect x="1564" y="1015.1" width="194" height="108.5"/></clipPath>
<g clip-path="url(#mcc3)"><g filter="url(#clear)">
<ellipse cx="1592" cy="1100" rx="30" ry="18" fill="#aca6d2" opacity="0.6"/>
<ellipse cx="1600" cy="1035" rx="26" ry="14" fill="#aca6d2" opacity="0.5"/>
</g></g>
<path d="M1610.7 1074.1h1M1636 1080.4h1M1685.1 1023.1h1M1567.5 1105.3h1M1614.8 1041.1h1M1756.2 1066.2h1M1725.6 1066.8h1M1687.7 1032.1h1M1686.9 1108.5h1M1665.5 1095h1M1693.9 1022.9h1M1710.6 1079.1h1M1622.8 1019.4h1M1731.2 1066.4h1M1703 1109.7h1M1702.1 1114.2h1M1640.8 1101.4h1M1650.4 1115.7h1M1733.7 1026.5h1M1591.1 1039.2h1M1750.4 1062.6h1M1685.3 1048.2h1M1662.4 1057.2h1M1632.4 1078.4h1M1677.2 1112.4h1M1695.9 1115h1M1729.4 1121.6h1M1693.9 1033.5h1M1730.2 1118.8h1M1738.7 1076.7h1M1702.1 1038.6h1M1724.7 1077.2h1M1619.7 1022.9h1M1729 1121.5h1M1582 1101.4h1M1643.8 1032.2h1M1621.4 1098h1M1732.6 1020.8h1M1683 1020.9h1M1702.9 1051.3h1M1734.1 1120.5h1M1662 1122.4h1M1624.5 1024.3h1M1680.2 1019.4h1M1602.9 1059.5h1M1682.2 1032.7h1M1573.1 1108.5h1M1625.3 1118.2h1M1737.2 1056.3h1M1653.4 1071.5h1M1688.6 1079.5h1M1672.4 1082.1h1M1745.6 1070.1h1M1647.8 1092.8h1M1610.6 1048.2h1M1752.7 1071.6h1M1670.3 1017.3h1M1644.7 1077.9h1M1568.9 1081.7h1M1686.4 1022.5h1M1685.4 1065.8h1M1695.4 1053.6h1M1700.7 1094.7h1M1569.3 1022.6h1M1694.8 1118.7h1M1613.2 1064.7h1M1678.8 1050.2h1M1634.9 1049.4h1M1635.9 1079.5h1M1622.7 1056.3h1M1713.3 1019h1M1674.3 1094.4h1M1624.5 1039.8h1M1719.3 1041.5h1M1601 1062.5h1M1699 1026.9h1M1626.8 1051.6h1M1725 1062.8h1M1729.3 1034.1h1M1629.6 1085.3h1M1734.9 1064.1h1M1608.2 1029h1M1666.7 1036.4h1M1719.9 1105.4h1M1600.2 1045.8h1M1720 1084.5h1M1719.8 1052.9h1M1589.9 1047.2h1M1717.4 1045h1M1631.5 1060.5h1M1645.6 1059.7h1M1741.8 1032.7h1M1565.9 1116.6h1M1734 1121.2h1M1648.4 1117.3h1M1743.1 1039.8h1M1708.1 1105.2h1M1692.3 1071.4h1M1620.5 1052.4h1M1608.7 1023.3h1M1678 1046.7h1M1720.6 1020.9h1M1738.5 1090h1M1742.4 1111.6h1M1737.7 1077.5h1M1567.5 1095.5h1M1598 1048h1M1692.3 1072h1M1644.4 1116.1h1M1682.5 1052.5h1M1613.5 1107.9h1M1656.6 1099.4h1M1632.6 1037.1h1M1667.7 1103.1h1M1597.9 1100.4h1M1742 1101.9h1M1723.1 1016.9h1M1685.7 1108h1M1574.6 1045h1M1616.6 1072.3h1M1646.2 1066.5h1M1714.1 1016.3h1M1575.5 1029.6h1M1588.9 1023.4h1M1752.1 1107.1h1M1581.5 1069.6h1M1625.7 1049.6h1M1632.4 1085h1M1677.6 1054.5h1M1601.7 1051.1h1M1588.8 1075.3h1M1702.5 1056.6h1M1580.3 1035.1h1M1636.7 1080.5h1M1715.3 1056.6h1M1718.8 1082.4h1M1647.9 1055.8h1M1660.3 1091h1M1645.7 1090h1M1653.5 1042.2h1M1667.9 1090.1h1M1578.7 1061.4h1M1646.8 1109.8h1M1744.8 1056h1M1737.4 1100.3h1M1615.3 1065.5h1M1588.6 1102.7h1M1692.2 1110.6h1M1717.2 1087.2h1M1705.9 1076.1h1M1584.8 1078.7h1M1565.9 1031.4h1M1713.7 1020.8h1M1582.6 1026.7h1M1734 1035.2h1M1569.5 1105.7h1M1588.3 1106h1M1694.3 1105.2h1M1747.9 1077.8h1M1718.4 1020h1M1712.3 1070.6h1M1702.3 1027.5h1M1708.8 1115.6h1M1576.7 1050.6h1M1673.3 1104.3h1M1611.5 1035.2h1M1613 1081.7h1M1709.7 1058h1M1635.6 1058.3h1M1632.3 1060.6h1M1581 1069.4h1M1751.8 1060.1h1M1708.5 1033.2h1M1697.6 1096.6h1M1694.4 1071.2h1M1657.9 1084.6h1M1737.3 1032h1M1583.4 1095.8h1M1741 1071.2h1M1650.1 1092.7h1M1600.7 1044.6h1M1603.2 1078.5h1M1625.5 1040.8h1M1697.7 1117.6h1M1621.8 1091.2h1M1644.3 1107h1M1677.3 1044.6h1M1606.8 1018.6h1M1657.1 1056.9h1M1598.1 1054.5h1M1626.8 1098.6h1M1592.6 1121.7h1M1657.1 1079.9h1M1654.9 1105h1M1722.8 1075.4h1M1657.4 1092.9h1M1729.5 1058.7h1M1705.8 1118.4h1M1654.7 1040.6h1M1610.1 1092.5h1M1694.7 1118.2h1M1728.9 1041.9h1M1601.4 1043.6h1M1600.9 1091.2h1M1729.9 1111.9h1M1614 1108.2h1M1625.2 1061.2h1M1705 1025.3h1M1582.8 1104.9h1M1621 1054.1h1M1676.4 1088h1M1566.3 1051.8h1M1648.8 1067.8h1M1605.3 1078.4h1M1748.4 1057.7h1M1669.5 1028.8h1M1617.8 1087h1M1586.6 1110.6h1M1739.5 1026.4h1M1745.7 1056h1M1713.3 1096.8h1M1621.7 1088.1h1M1690.6 1101.9h1M1616 1096.4h1M1749.6 1087.8h1M1667.9 1028.2h1M1659.8 1053.6h1M1702.9 1088.4h1M1673.7 1035.5h1M1689 1083.3h1M1599.4 1110.9h1M1690.8 1029.2h1M1743.9 1031.2h1M1628.7 1092.8h1M1679.7 1075.2h1M1689.3 1064.8h1M1625 1034.9h1M1578.2 1092.3h1M1709.9 1073.9h1M1707 1054.4h1M1616 1056.9h1M1732.5 1020.6h1M1661.9 1042.4h1M1712.6 1053.8h1M1628.9 1059.1h1M1669 1098.3h1M1632.8 1106.3h1M1586.5 1044.9h1M1584.1 1028.1h1M1714.6 1093.6h1M1600.5 1036.2h1M1645 1095.3h1M1721.6 1095.8h1M1678.6 1031.7h1M1641.5 1036.7h1M1666.3 1076.6h1M1603.8 1042.7h1M1715.1 1019.3h1M1719.2 1111h1M1747.3 1056.9h1M1671.1 1078.2h1M1686.7 1120.1h1M1696.8 1048h1M1730.1 1067.7h1M1680.5 1093.5h1M1565.5 1098.2h1M1692.1 1068.5h1M1665.5 1065.1h1M1602.1 1072.5h1M1572.1 1069.4h1M1689 1063.4h1M1673.7 1118.2h1M1736.3 1030.5h1M1717.1 1082.5h1M1574.7 1054.4h1M1609.8 1024.4h1M1668.5 1115.1h1M1627 1108.8h1M1698.4 1030.4h1M1729.8 1080.1h1M1743 1092.3h1M1707 1052.7h1M1719.9 1115.3h1M1730.4 1062.6h1M1710.3 1067.8h1M1586 1020.6h1M1580 1037.4h1M1595.9 1069h1M1699.3 1073.3h1M1646 1085.2h1M1623.5 1065.6h1M1710.4 1058.9h1M1599.7 1111.9h1M1703.2 1055.2h1M1636.2 1072.5h1M1679.5 1039.9h1M1565.5 1038.4h1M1715.4 1031.4h1M1653.3 1036.9h1M1605.2 1034.3h1" stroke="#2a2440" stroke-width="1.4" stroke-linecap="round" opacity="0.7"/>
<path d="M1642.5 1034h.5M1570.3 1027.8h.5M1597.3 1068.3h.5M1576.5 1018.5h.5M1651 1059.5h.5M1700.1 1021.5h.5M1642.4 1058.3h.5M1570.1 1118.9h.5M1607 1026.1h.5M1656.1 1033.6h.5M1684.5 1053h.5M1588.8 1021.6h.5M1704.7 1045.4h.5M1716.3 1065.7h.5M1744.1 1048.1h.5M1613 1044.4h.5M1721.4 1083.1h.5M1631.2 1026.1h.5M1696 1119.3h.5M1678.7 1016.5h.5M1570.8 1025.7h.5M1597.7 1020h.5M1575.4 1085.8h.5M1737.9 1037.5h.5M1752 1066.9h.5M1719.3 1113.8h.5M1745.5 1019.7h.5M1623.5 1080.7h.5M1746.7 1025.4h.5M1621.3 1106.6h.5M1587 1057.6h.5M1629.2 1088.5h.5M1743.3 1034.7h.5M1707 1094.3h.5M1725.4 1075h.5M1742.3 1054.7h.5M1644.6 1040.5h.5M1714.7 1067.3h.5M1616.7 1034.2h.5M1703.4 1080.6h.5M1701.4 1057.3h.5M1658.5 1032.5h.5M1701.5 1018.5h.5M1654.7 1096.9h.5M1695 1026.4h.5M1610.5 1105.9h.5M1688.3 1109.7h.5M1732.5 1064h.5M1737.2 1094.1h.5M1629.1 1055.5h.5M1578.8 1058.6h.5M1748.5 1027.3h.5M1674.2 1027.8h.5M1580.5 1085.2h.5M1611.2 1021.3h.5M1594.3 1084.7h.5M1677.4 1017.3h.5M1609.1 1119.1h.5M1607.3 1076h.5M1645.6 1099.3h.5M1681 1100.1h.5M1667.8 1036.1h.5M1599.1 1024.5h.5M1723.5 1028.1h.5M1569.6 1119h.5M1603.3 1111.2h.5M1581.5 1065.6h.5M1607.8 1104.4h.5M1683.2 1084.5h.5M1711.2 1108.9h.5M1631.4 1080.3h.5M1650.6 1027.9h.5M1725.4 1079.4h.5M1721.4 1038h.5M1668.5 1065.5h.5M1704.8 1024.3h.5M1631.5 1067.7h.5M1578.7 1075h.5M1706.2 1061.1h.5M1689.5 1080.6h.5M1606.1 1053.4h.5M1756.2 1051.8h.5M1647.7 1025.1h.5M1606.8 1033.7h.5M1743.7 1093.5h.5M1732.9 1121.2h.5M1682.5 1115.3h.5M1667.9 1060.7h.5M1747 1112.3h.5M1747.3 1067.7h.5M1713.5 1059.4h.5M1756.5 1114.1h.5M1621.1 1115.6h.5M1600.4 1026.3h.5M1703.7 1047.4h.5M1664.7 1084.2h.5M1572.8 1095.5h.5M1618 1062.2h.5M1631.2 1095.1h.5M1708.4 1046.7h.5M1584.8 1048h.5M1643.9 1024.4h.5M1594.4 1097.3h.5M1699.5 1120.1h.5M1753.1 1109.4h.5M1636.5 1033.3h.5M1624.9 1065.4h.5M1666 1073.8h.5M1634.1 1106.9h.5M1619.8 1065.4h.5M1735.3 1102.1h.5M1622.1 1041.9h.5M1719.9 1017.2h.5M1590.2 1072.6h.5M1667.9 1033.8h.5M1574.6 1037.8h.5M1712.8 1065.7h.5M1753 1099.8h.5M1753 1019.8h.5M1600.5 1017.5h.5M1648 1052.1h.5M1574.8 1074.3h.5M1583 1049.3h.5M1612.5 1101.5h.5M1645.3 1043.8h.5M1573.4 1061.8h.5M1685.5 1088h.5M1740.2 1102.2h.5M1612.5 1030.5h.5M1710.6 1100.2h.5M1662.7 1104.6h.5M1671 1045.9h.5M1597.4 1017.9h.5M1688.5 1111.6h.5M1739 1065.9h.5M1692.8 1115h.5M1721.3 1080.3h.5M1644.6 1071.3h.5M1597.8 1035.6h.5M1696.3 1121.8h.5M1670 1059.6h.5M1632.6 1064.5h.5M1719.2 1064.3h.5M1749.2 1032.6h.5M1625.5 1071.7h.5M1644.1 1106.7h.5M1723.9 1115.3h.5M1682.6 1019.4h.5M1675.3 1074.6h.5M1658.6 1045.9h.5" stroke="#f4f4f4" stroke-width="1.1" stroke-linecap="round" opacity="0.8"/>
<filter id="mf4" x="0" y="0" width="100%" height="100%" color-interpolation-filters="sRGB"><feTurbulence type="fractalNoise" baseFrequency="0.05 0.08" numOctaves="3" seed="4" result="n"/><feColorMatrix in="n" type="matrix" values="0 0 0 0 0 0 0 0 0 0 0 0 0 0 0 1 0 0 0 0" result="a"/><feComponentTransfer in="a" result="th"><feFuncA type="linear" slope="4.5" intercept="-1.6"/></feComponentTransfer><feTurbulence type="fractalNoise" baseFrequency="0.18" numOctaves="2" seed="11" result="n2"/><feColorMatrix in="n2" type="matrix" values="0 0 0 0 0 0 0 0 0 0 0 0 0 0 0 0 1 0 0 0" result="a2"/><feComponentTransfer in="a2" result="th2"><feFuncA type="linear" slope="2.5" intercept="-0.9"/></feComponentTransfer><feFlood flood-color="#7650b8" result="c1"/><feComposite in="c1" in2="th" operator="in" result="cells"/><feFlood flood-color="#40287c" result="c2"/><feComposite in="c2" in2="th2" operator="in" result="dk"/><feComposite in="dk" in2="th" operator="in" result="dk2"/><feFlood flood-color="#c6c6c6" result="bg"/><feMerge><feMergeNode in="bg"/><feMergeNode in="cells"/><feMergeNode in="dk2"/></feMerge></filter>
<rect x="1798.9" y="1012.9" width="193.9" height="108.8" filter="url(#mf4)"/>
<clipPath id="mcc4"><rect x="1798.9" y="1012.9" width="193.9" height="108.8"/></clipPath>
<g clip-path="url(#mcc4)"><g filter="url(#clear)">
<ellipse cx="1922" cy="1072" rx="22" ry="40" fill="#c6c6c6" opacity="0.8"/>
<ellipse cx="1885" cy="1036" rx="15" ry="12" fill="#c6c6c6" opacity="0.7"/>
</g></g>
<path d="M1845.2 1024.9h1M1875.9 1030.5h1M1812.7 1056.8h1M1976.1 1099.4h1M1946.7 1037.6h1M1902.9 1043.4h1M1833 1025.2h1M1841 1113h1M1959 1100.1h1M1953.5 1034.6h1M1859.4 1080.9h1M1940.4 1105.2h1M1968.8 1023.2h1M1916.2 1085.6h1M1897 1032.9h1M1890.8 1023.4h1M1979.2 1106.3h1M1905 1046h1M1974.3 1075h1M1969.2 1104.5h1M1897.5 1058.1h1M1914.8 1059.9h1M1830.9 1046.5h1M1955.8 1018.5h1M1808.8 1080.8h1M1853.7 1071h1M1890.3 1050.5h1M1991.3 1034.8h1M1879.1 1035.5h1M1921.3 1043.4h1M1868.2 1093.7h1M1861.4 1073.6h1M1973.4 1024.7h1M1811.7 1038.3h1M1946.7 1079.6h1M1845.5 1049.3h1M1834 1062.9h1M1808.1 1088.4h1M1971.8 1115.9h1M1940.9 1116.4h1M1803.4 1044.8h1M1985.3 1096.7h1M1878.7 1114.6h1M1919 1101.3h1M1856.2 1034.3h1M1885.1 1028.5h1M1873.1 1116.6h1M1863.5 1014.9h1M1808.5 1032h1M1950.3 1052.6h1M1855.6 1024.3h1M1988.3 1059.2h1M1839.8 1020.2h1M1810.5 1031.9h1M1929.8 1029.9h1M1807.7 1066.3h1M1847.7 1120.4h1M1823.4 1070.4h1M1948.4 1057.6h1M1989.4 1064.9h1M1846.3 1057.8h1M1807 1058.9h1M1847.6 1108.9h1M1959.4 1067.1h1M1806 1041.1h1M1846.4 1036.1h1M1844.3 1106.8h1M1827.1 1019.4h1M1978 1074.3h1M1990 1056.9h1M1972.8 1083.7h1M1951.7 1093.4h1M1894.8 1023.8h1M1840.4 1107.2h1M1972.6 1112.6h1M1864.5 1084.1h1M1953.3 1082.5h1M1956.3 1070.3h1M1925.5 1087.2h1M1851.4 1112.5h1M1983.4 1021.8h1M1986.3 1116.6h1M1928.2 1018.7h1M1972.4 1027.5h1M1985.8 1085.2h1M1811.5 1031.8h1M1921.8 1074.7h1M1943.2 1113h1M1841.8 1014.2h1M1976.9 1015.3h1M1968.1 1026.3h1M1955.3 1097.5h1M1968.4 1072.7h1M1968.5 1035.4h1M1928.8 1049.2h1M1971 1096.5h1M1890.4 1070.1h1M1805 1017.6h1M1914 1066.1h1M1965.8 1078.8h1M1826.5 1052.6h1M1947.2 1069.8h1M1801.9 1103.4h1M1958.7 1023h1M1904.2 1054.6h1M1951 1047.1h1M1844.7 1065.9h1M1985.3 1024.1h1M1821.9 1080.2h1M1969.8 1068.6h1M1883.2 1105.5h1M1948.9 1021h1M1969 1034.8h1M1857.9 1103.2h1M1881 1099.2h1M1832 1107.3h1M1833.7 1029.8h1M1894.7 1050.1h1M1903.9 1110.5h1M1936.2 1014.5h1M1859.7 1072.1h1M1893.3 1090.3h1M1892.8 1022h1M1847 1104.4h1M1868.4 1095.8h1M1989.1 1080.8h1M1929.8 1079h1M1860 1111.4h1M1889.5 1111.2h1M1858.6 1106.6h1M1950.9 1079.4h1M1884.7 1028.9h1M1947.9 1052.6h1M1927 1028.1h1M1815.7 1029.3h1M1955.2 1032.9h1M1973 1053.6h1M1910.4 1051.3h1M1919 1023.9h1M1877.1 1113.9h1M1834.4 1083.8h1M1862.6 1046h1M1804.3 1016h1M1982.1 1102.5h1M1953.6 1100.1h1M1982.8 1030.8h1M1912 1066.8h1M1910 1114.1h1M1945.8 1117.3h1M1822.3 1083.5h1M1929.5 1093.5h1M1918.5 1102.7h1M1858 1113h1M1877.8 1077.9h1M1972 1089h1M1859.3 1038.5h1M1862.6 1080.8h1M1991.1 1109.9h1M1876.7 1056.7h1M1956.8 1044.2h1M1878.9 1015.3h1M1835.2 1071.6h1M1932.9 1079.6h1M1869.8 1115.5h1M1919.5 1030.6h1M1812.9 1117.9h1M1989.5 1112.2h1M1915.8 1047.2h1M1817.4 1041.4h1M1842.5 1113h1M1971.2 1097h1M1828.4 1039.4h1M1857.3 1115.1h1M1831.2 1098.3h1M1930.5 1072.3h1M1984 1041.9h1M1900.5 1030.7h1M1818.5 1017.3h1M1860.6 1026.9h1M1811.7 1119.9h1M1855.4 1109h1M1934.6 1092h1M1925.6 1115.6h1M1968.5 1090.7h1M1907.4 1088h1M1938.8 1072.9h1M1896.3 1030.4h1M1961.9 1065.6h1M1812.9 1031.8h1M1967.8 1041.2h1M1875 1086.8h1M1965.2 1049h1M1874.1 1059.1h1M1805.3 1107.5h1M1803.5 1116.4h1M1829.2 1030.6h1M1962.7 1101.8h1M1844.4 1073h1M1891.4 1090.6h1M1835.4 1102.1h1M1991.1 1089.3h1M1976.7 1114h1M1872.7 1104.4h1M1959.9 1076.6h1M1820.5 1080h1M1974.9 1046.5h1M1924 1109.7h1M1915.1 1017.9h1M1921.2 1041.2h1M1964.5 1084.6h1M1858.9 1109.6h1M1919.8 1050.1h1M1960 1109.1h1M1971.3 1108.2h1M1926.2 1088.5h1M1915.9 1070.2h1M1989.4 1051.6h1M1815.5 1090.1h1M1895.5 1072.2h1M1914.6 1040.6h1M1838.4 1021.5h1M1949.9 1110.9h1M1933.6 1026.4h1M1987.7 1102.2h1M1897.6 1014h1M1961.8 1080.5h1M1919.3 1015.9h1M1940.6 1017.6h1M1891.6 1029.4h1M1869 1109h1M1943.5 1101h1M1857.1 1055.4h1M1916 1017.5h1M1879 1118h1M1944.6 1106h1M1857.2 1087.7h1M1951.3 1089.1h1M1883.8 1032.6h1M1803.3 1108.6h1M1978.7 1043.4h1M1944.9 1057.4h1M1920.3 1103.8h1M1861.5 1080.1h1M1849 1068.5h1M1805.7 1042h1M1855 1111.6h1M1825.3 1094.9h1M1816.5 1119.2h1M1831.8 1023.7h1M1840.5 1113.6h1M1928.2 1109h1M1895.7 1026.1h1M1865.2 1062.6h1M1989.9 1031.7h1M1846.8 1104h1M1821.8 1117.6h1M1856.8 1074.5h1M1926.7 1110.8h1M1814.4 1104.3h1M1834.3 1090.6h1" stroke="#2a2440" stroke-width="1.4" stroke-linecap="round" opacity="0.7"/>
<path d="M1805.1 1095.8h.5M1834.6 1035.9h.5M1806.6 1048.5h.5M1862.9 1118.9h.5M1916.3 1052.8h.5M1989.9 1032.3h.5M1841.2 1116h.5M1982.5 1087h.5M1987.7 1020h.5M1973.3 1089.1h.5M1928.1 1103.9h.5M1819.9 1035.2h.5M1826.3 1065h.5M1904.7 1071.6h.5M1869.4 1093.3h.5M1960.8 1094.9h.5M1807.2 1030.2h.5M1842 1039.3h.5M1910 1034.7h.5M1919.8 1050.6h.5M1869.7 1089.5h.5M1981.1 1034.3h.5M1866.7 1118.7h.5M1840.7 1016.8h.5M1836.6 1102.1h.5M1940.2 1114.1h.5M1895.3 1018.3h.5M1858.7 1090.7h.5M1875.3 1028.8h.5M1872 1063.4h.5M1868.2 1061.6h.5M1826.1 1017.1h.5M1950.3 1092.1h.5M1880.2 1026.2h.5M1856.6 1073.5h.5M1971.6 1065.3h.5M1986.8 1070.2h.5M1834.7 1079.6h.5M1915.1 1077.9h.5M1939 1016.3h.5M1883.8 1099.4h.5M1826.4 1018.5h.5M1835 1044.4h.5M1883.4 1047.5h.5M1921.6 1032.1h.5M1866.2 1086.1h.5M1904.4 1116.3h.5M1979.6 1041.5h.5M1864.2 1071.3h.5M1904.3 1053h.5M1965.4 1034.9h.5M1890.3 1026.7h.5M1969.4 1077.5h.5M1989.4 1029.2h.5M1936.4 1077.6h.5M1809.8 1101.5h.5M1967.7 1022.5h.5M1980.6 1097.7h.5M1915.9 1072h.5M1850.4 1020h.5M1891.1 1106.4h.5M1840 1064.4h.5M1854.1 1087.7h.5M1984.1 1108.7h.5M1855.1 1058.4h.5M1800.4 1070.4h.5M1963.7 1104.1h.5M1813.7 1060.2h.5M1815.3 1059.2h.5M1975.1 1044.2h.5M1962.2 1115.9h.5M1956.9 1035.5h.5M1976.1 1112.5h.5M1991.5 1015h.5M1800.6 1045h.5M1899.2 1059.2h.5M1817.6 1082.3h.5M1928 1081.2h.5M1897.9 1072.6h.5M1932.3 1020.8h.5M1883.6 1028.4h.5M1819.9 1095.3h.5M1862.1 1050.1h.5M1853.1 1076.6h.5M1822.6 1082.4h.5M1813.4 1115.9h.5M1830 1095.9h.5M1904.5 1059.3h.5M1858.3 1052.3h.5M1945.5 1069.9h.5M1902.8 1040.3h.5M1919.8 1032.1h.5M1892.5 1083.5h.5M1904.3 1075.9h.5M1909.3 1034.6h.5M1983.7 1086.9h.5M1939.1 1115.9h.5M1886.6 1049.4h.5M1858.2 1047.7h.5M1857.5 1047.7h.5M1840 1065.6h.5M1855.9 1053.3h.5M1927.2 1047.6h.5M1965.6 1099.1h.5M1862.9 1103h.5M1833.8 1024.1h.5M1990.8 1017.4h.5M1801 1106.5h.5M1800.4 1083.9h.5M1906.6 1037.7h.5M1847 1117.2h.5M1875.4 1039.7h.5M1884.6 1092.1h.5M1855.7 1023.4h.5M1951.6 1024.2h.5M1810.5 1014.4h.5M1990.5 1060.3h.5M1941.4 1073.5h.5M1987 1050.6h.5M1867 1086.8h.5M1800 1052.7h.5M1945.6 1075.1h.5M1893.9 1114h.5M1882.9 1092h.5M1875.2 1023.1h.5M1874.3 1036.4h.5M1805.1 1044.4h.5M1824.1 1062.7h.5M1941.5 1094.9h.5M1969.4 1047.8h.5" stroke="#f4f4f4" stroke-width="1.1" stroke-linecap="round" opacity="0.8"/>
<line x1="1163" y1="1162.3" x2="1163" y2="1417.4" stroke="#000" stroke-width="2.6"/>
<line x1="1155.5" y1="1416.1" x2="1163" y2="1416.1" stroke="#000" stroke-width="2.6"/>
<text x="1152" y="1424.7" font-size="24" text-anchor="end">0.0</text>
<line x1="1155.5" y1="1365.6" x2="1163" y2="1365.6" stroke="#000" stroke-width="2.6"/>
<text x="1152" y="1374.2" font-size="24" text-anchor="end">0.2</text>
<line x1="1155.5" y1="1315.1" x2="1163" y2="1315.1" stroke="#000" stroke-width="2.6"/>
<text x="1152" y="1323.7" font-size="24" text-anchor="end">0.4</text>
<line x1="1155.5" y1="1264.6" x2="1163" y2="1264.6" stroke="#000" stroke-width="2.6"/>
<text x="1152" y="1273.2" font-size="24" text-anchor="end">0.6</text>
<line x1="1155.5" y1="1214.1" x2="1163" y2="1214.1" stroke="#000" stroke-width="2.6"/>
<text x="1152" y="1222.7" font-size="24" text-anchor="end">0.8</text>
<line x1="1155.5" y1="1163.6" x2="1163" y2="1163.6" stroke="#000" stroke-width="2.6"/>
<text x="1152" y="1172.2" font-size="24" text-anchor="end">1.0</text>
<line x1="1225.1" y1="1391" x2="1225.1" y2="1386.1" stroke="#000" stroke-width="2.4"/>
<line x1="1210.6" y1="1386.1" x2="1239.5" y2="1386.1" stroke="#000" stroke-width="2.4"/>
<rect x="1196.2" y="1391" width="57.8" height="25.1" fill="#c5944f" stroke="#000" stroke-width="1.5"/>
<line x1="1289.9" y1="1405.3" x2="1289.9" y2="1396.4" stroke="#000" stroke-width="2.4"/>
<line x1="1275.6" y1="1396.4" x2="1304.3" y2="1396.4" stroke="#000" stroke-width="2.4"/>
<rect x="1261.3" y="1405.3" width="57.3" height="10.8" fill="#0000bf" stroke="#8a8ab0" stroke-width="1.5"/>
<line x1="1414.3" y1="1221.2" x2="1414.3" y2="1208" stroke="#000" stroke-width="2.4"/>
<line x1="1399.7" y1="1208" x2="1428.9" y2="1208" stroke="#000" stroke-width="2.4"/>
<rect x="1385.1" y="1221.2" width="58.4" height="194.9" fill="#c5944f" stroke="#000" stroke-width="1.5"/>
<line x1="1479.2" y1="1368.1" x2="1479.2" y2="1357.5" stroke="#000" stroke-width="2.4"/>
<line x1="1464.9" y1="1357.5" x2="1493.6" y2="1357.5" stroke="#000" stroke-width="2.4"/>
<rect x="1450.5" y="1368.1" width="57.5" height="48" fill="#0000bf" stroke="#8a8ab0" stroke-width="1.5"/>
<line x1="1155" y1="1416.1" x2="1542" y2="1416.1" stroke="#000" stroke-width="2.6"/>
<line x1="1257.3" y1="1416.1" x2="1257.3" y2="1423.6" stroke="#000" stroke-width="2.6"/>
<text x="1257.3" y="1448.4" font-size="24" text-anchor="middle">8 h</text>
<line x1="1446.2" y1="1416.1" x2="1446.2" y2="1423.6" stroke="#000" stroke-width="2.6"/>
<text x="1446.2" y="1448.4" font-size="24" text-anchor="middle">24 h</text>
<line x1="1413.4" y1="1196.4" x2="1474" y2="1196.4" stroke="#000" stroke-width="3.4"/>
<text x="1419" y="1203.2" font-size="32.3" letter-spacing="4.5">***</text>
<text x="1102" y="1292" font-size="24" text-anchor="middle" transform="rotate(-90 1102 1292)">Migration rate</text>
<rect x="1195.3" y="1175.2" width="26" height="12.5" fill="#c5944f" stroke="#000" stroke-width="1.5"/>
<text x="1229.3" y="1188.5" font-size="25">shCtrl</text>
<rect x="1195.3" y="1209.2" width="26" height="12.5" fill="#0000bf" stroke="#9a9ac0" stroke-width="1.5"/>
<text x="1227.3" y="1222.5" font-size="25">shKNTC1</text>
<line x1="1616.8" y1="1159.1" x2="1616.8" y2="1414.2" stroke="#000" stroke-width="2.6"/>
<line x1="1609.3" y1="1412.9" x2="1616.8" y2="1412.9" stroke="#000" stroke-width="2.6"/>
<text x="1605.8" y="1421.5" font-size="24" text-anchor="end">0.0</text>
<line x1="1609.3" y1="1349.8" x2="1616.8" y2="1349.8" stroke="#000" stroke-width="2.6"/>
<text x="1605.8" y="1358.4" font-size="24" text-anchor="end">0.2</text>
<line x1="1609.3" y1="1286.7" x2="1616.8" y2="1286.7" stroke="#000" stroke-width="2.6"/>
<text x="1605.8" y="1295.3" font-size="24" text-anchor="end">0.4</text>
<line x1="1609.3" y1="1223.5" x2="1616.8" y2="1223.5" stroke="#000" stroke-width="2.6"/>
<text x="1605.8" y="1232.1" font-size="24" text-anchor="end">0.6</text>
<line x1="1609.3" y1="1160.4" x2="1616.8" y2="1160.4" stroke="#000" stroke-width="2.6"/>
<text x="1605.8" y="1169" font-size="24" text-anchor="end">0.8</text>
<line x1="1678.8" y1="1339.7" x2="1678.8" y2="1321.4" stroke="#000" stroke-width="2.4"/>
<line x1="1664.4" y1="1321.4" x2="1693.1" y2="1321.4" stroke="#000" stroke-width="2.4"/>
<rect x="1650" y="1339.7" width="57.5" height="73.2" fill="#c5944f" stroke="#000" stroke-width="1.5"/>
<line x1="1743.6" y1="1356.4" x2="1743.6" y2="1345.7" stroke="#000" stroke-width="2.4"/>
<line x1="1729.4" y1="1345.7" x2="1757.8" y2="1345.7" stroke="#000" stroke-width="2.4"/>
<rect x="1715.2" y="1356.4" width="56.8" height="56.5" fill="#0000bf" stroke="#8a8ab0" stroke-width="1.5"/>
<line x1="1867.4" y1="1212.2" x2="1867.4" y2="1203" stroke="#000" stroke-width="2.4"/>
<line x1="1853" y1="1203" x2="1881.9" y2="1203" stroke="#000" stroke-width="2.4"/>
<rect x="1838.5" y="1212.2" width="57.8" height="200.7" fill="#c5944f" stroke="#000" stroke-width="1.5"/>
<line x1="1932.6" y1="1301.8" x2="1932.6" y2="1296.1" stroke="#000" stroke-width="2.4"/>
<line x1="1918.1" y1="1296.1" x2="1947" y2="1296.1" stroke="#000" stroke-width="2.4"/>
<rect x="1903.7" y="1301.8" width="57.8" height="111.1" fill="#0000bf" stroke="#8a8ab0" stroke-width="1.5"/>
<line x1="1609.6" y1="1412.9" x2="1995.7" y2="1412.9" stroke="#000" stroke-width="2.6"/>
<line x1="1710.6" y1="1412.9" x2="1710.6" y2="1420.4" stroke="#000" stroke-width="2.6"/>
<text x="1710.6" y="1446" font-size="24" text-anchor="middle">8 h</text>
<line x1="1900" y1="1412.9" x2="1900" y2="1420.4" stroke="#000" stroke-width="2.6"/>
<text x="1900" y="1446" font-size="24" text-anchor="middle">24 h</text>
<line x1="1867.4" y1="1189.9" x2="1927" y2="1189.9" stroke="#000" stroke-width="3.4"/>
<text x="1873.3" y="1196.7" font-size="32.3" letter-spacing="3.7">***</text>
<text x="1558" y="1288.5" font-size="24" text-anchor="middle" transform="rotate(-90 1558 1288.5)">Migration rate</text>
<rect x="1653" y="1172.2" width="26" height="12.5" fill="#c5944f" stroke="#000" stroke-width="1.5"/>
<text x="1687" y="1185.4" font-size="25">shCtrl</text>
<rect x="1653" y="1206.2" width="26" height="12.5" fill="#0000bf" stroke="#9a9ac0" stroke-width="1.5"/>
<text x="1685" y="1219.5" font-size="25">shKNTC1</text>
<line x1="1243.8" y1="1527" x2="1002.8" y2="1675.4" stroke="#6a6a6a" stroke-width="2.6"/>
<line x1="1249" y1="1530.4" x2="1108.6" y2="1670.2" stroke="#6a6a6a" stroke-width="2.6"/>
<line x1="1256" y1="1535" x2="1171" y2="1736" stroke="#6a6a6a" stroke-width="2.6"/>
<line x1="1264" y1="1536" x2="1258.7" y2="1672.6" stroke="#6a6a6a" stroke-width="2.6"/>
<line x1="1335.7" y1="1696.2" x2="1278.5" y2="1550" stroke="#6a6a6a" stroke-width="2.6"/>
<line x1="1373" y1="1630.3" x2="1280" y2="1533" stroke="#6a6a6a" stroke-width="2.6"/>
<line x1="984" y1="1700" x2="1109.6" y2="1926.8" stroke="#6a6a6a" stroke-width="2.6"/>
<line x1="1095.7" y1="1710" x2="1117.2" y2="1925" stroke="#6a6a6a" stroke-width="2.6"/>
<line x1="1157.8" y1="1779.4" x2="1125.9" y2="1925" stroke="#6a6a6a" stroke-width="2.6"/>
<line x1="1247.3" y1="1715.3" x2="1130.4" y2="1928.5" stroke="#6a6a6a" stroke-width="2.6"/>
<line x1="1327" y1="1735" x2="1148" y2="1921" stroke="#6a6a6a" stroke-width="2.6"/>
<line x1="1412" y1="1689.2" x2="1446.6" y2="1761" stroke="#6a6a6a" stroke-width="2.6"/>
<line x1="1422.4" y1="1793.3" x2="1141.5" y2="1935.4" stroke="#6a6a6a" stroke-width="2.6"/>
<path d="M1273.5 1536.8 L1287.9 1548.9 L1271.1 1555.4 Z" fill="#6a6a6a"/>
<path d="M1138.5 1930.5 L1142.8 1913.8 L1155 1925.6 Z" fill="#6a6a6a"/>
<path d="M964.7 1669.1 L1009 1669.1 L987.2 1712.5 Z" fill="#fff" stroke="#666" stroke-width="1.2"/>
<circle cx="1094" cy="1687.5" r="21.5" fill="#fff" stroke="#666" stroke-width="1.2"/>
<circle cx="1258" cy="1693.8" r="21.5" fill="#fff" stroke="#666" stroke-width="1.2"/>
<circle cx="1343.7" cy="1717" r="21.5" fill="#fff" stroke="#666" stroke-width="1.2"/>
<ellipse cx="1162.3" cy="1756.9" rx="47.2" ry="21.5" fill="#fff" stroke="#666" stroke-width="1.2"/>
<rect x="1319" y="1761" width="270.5" height="32.3" rx="16" ry="16" fill="#fff" stroke="#666" stroke-width="1.2"/>
<rect x="1341.6" y="1763.8" width="46.1" height="25.2" fill="#f4a0a0"/>
<circle cx="1264.6" cy="1512.4" r="21.5" fill="#fff" stroke="#cc00cc" stroke-width="3.6"/>
<ellipse cx="1393.9" cy="1653.9" rx="22" ry="48" fill="#fff" stroke="#cc00cc" stroke-width="3.6"/>
<circle cx="1120" cy="1947.6" r="21.5" fill="#fff" stroke="#cc00cc" stroke-width="3.6"/>
<text x="1264.3" y="1520.5" font-size="22.8" text-anchor="middle" font-weight="normal" fill="#111" stroke="#fff" stroke-width="2.2" paint-order="stroke">KNTC1</text>
<text x="1394.3" y="1661.5" font-size="22.8" text-anchor="middle" font-weight="normal" fill="#111" stroke="#fff" stroke-width="2.2" paint-order="stroke">IL13RA2</text>
<text x="986.3" y="1700" font-size="22.8" text-anchor="middle" font-weight="normal" fill="#111" stroke="#fff" stroke-width="2.2" paint-order="stroke">NTRK1</text>
<text x="1093.3" y="1696.5" font-size="22.8" text-anchor="middle" font-weight="normal" fill="#111" stroke="#fff" stroke-width="2.2" paint-order="stroke">PLEKHA4</text>
<text x="1162.6" y="1765" font-size="22.8" text-anchor="middle" font-weight="normal" fill="#111" stroke="#fff" stroke-width="2.2" paint-order="stroke">EED</text>
<text x="1257.6" y="1703" font-size="22.8" text-anchor="middle" font-weight="normal" fill="#111" stroke="#fff" stroke-width="2.2" paint-order="stroke">PPP6R1</text>
<text x="1344.4" y="1726" font-size="22.8" text-anchor="middle" font-weight="normal" fill="#111" stroke="#fff" stroke-width="2.2" paint-order="stroke">VIRMA</text>
<text x="1119.8" y="1956.5" font-size="22.8" text-anchor="middle" font-weight="normal" fill="#111" stroke="#fff" stroke-width="2.2" paint-order="stroke">ELP1</text>
<text x="1364.2" y="1784.5" font-size="18.7" text-anchor="middle" fill="#111">CP:</text>
<text x="1392.2" y="1784.5" font-size="18.7" font-weight="normal" fill="#111">PI3K/AKT Signaling</text>
<text x="1777" y="1510" font-size="25" text-anchor="middle">shCtrl</text>
<text x="1881" y="1510" font-size="25" text-anchor="middle">shKNTC1</text>
<text x="1968.4" y="1510" font-size="25" text-anchor="middle">kDa</text>
<rect x="1733.2" y="1517.5" width="205.3" height="51.7" fill="#f6f6f6" stroke="#1a1a1a" stroke-width="1.6"/>
<text x="1719.8" y="1554.3" font-size="25.5" text-anchor="end">AKT</text>
<text x="1965.6" y="1554.8" font-size="25.5" text-anchor="middle">60</text>
<rect x="1733.2" y="1572.5" width="205.3" height="51.5" fill="#f6f6f6" stroke="#1a1a1a" stroke-width="1.6"/>
<text x="1719.8" y="1609.2" font-size="25.5" text-anchor="end">p-AKT</text>
<text x="1965.6" y="1609.2" font-size="25.5" text-anchor="middle">60</text>
<rect x="1733.2" y="1627.4" width="205.3" height="51.7" fill="#f6f6f6" stroke="#1a1a1a" stroke-width="1.6"/>
<text x="1719.8" y="1664.2" font-size="25.5" text-anchor="end">CCND1</text>
<text x="1965.3" y="1659.2" font-size="25.5" text-anchor="middle">36</text>
<rect x="1733.2" y="1682.2" width="205.3" height="51.4" fill="#f6f6f6" stroke="#1a1a1a" stroke-width="1.6"/>
<text x="1724.6" y="1718.9" font-size="25.5" text-anchor="end">c-Myc</text>
<text x="1966.5" y="1716.4" font-size="25.5" text-anchor="middle">65</text>
<rect x="1733.2" y="1736.4" width="205.3" height="51.8" fill="#f6f6f6" stroke="#1a1a1a" stroke-width="1.6"/>
<text x="1724.6" y="1773.3" font-size="25.5" text-anchor="end">CDK1</text>
<text x="1966.7" y="1772.3" font-size="25.5" text-anchor="middle">34</text>
<rect x="1733.2" y="1791" width="205.3" height="51.7" fill="#f6f6f6" stroke="#1a1a1a" stroke-width="1.6"/>
<text x="1725.4" y="1827.8" font-size="25.5" text-anchor="end">PIK3CA</text>
<text x="1962.8" y="1825.3" font-size="25.5" text-anchor="middle">110</text>
<rect x="1733.2" y="1846" width="205.3" height="51.8" fill="#f6f6f6" stroke="#1a1a1a" stroke-width="1.6"/>
<text x="1727.4" y="1882.9" font-size="25.5" text-anchor="end">GAPDH</text>
<text x="1963.1" y="1882.9" font-size="25.5" text-anchor="middle">37</text>
<ellipse cx="1784.1" cy="1547" rx="34.1" ry="9.2" fill="#000" opacity="0.28" filter="url(#halo)"/>
<rect x="1752.1" y="1540.8" width="64.1" height="12.4" rx="16.1" ry="6.2" fill="#000" filter="url(#bb)"/>
<ellipse cx="1887.3" cy="1547.4" rx="33.8" ry="8.2" fill="#000" opacity="0.28" filter="url(#halo)"/>
<rect x="1855.5" y="1542.2" width="63.6" height="10.4" rx="13.5" ry="5.2" fill="#000" filter="url(#bb)"/>
<ellipse cx="1782.7" cy="1601.5" rx="36.9" ry="9.2" fill="#000" opacity="0.28" filter="url(#halo)"/>
<rect x="1747.9" y="1595.3" width="69.7" height="12.4" rx="16.1" ry="6.2" fill="#000" filter="url(#bb)"/>
<ellipse cx="1873" cy="1602" rx="19.5" ry="6.2" fill="#000" opacity="0.28" filter="url(#halo)"/>
<rect x="1855.5" y="1598.8" width="35" height="6.5" rx="8.5" ry="3.2" fill="#000" filter="url(#bb)"/>
<ellipse cx="1907.5" cy="1602" rx="10.5" ry="5.8" fill="#1a1a1a" opacity="0.28" filter="url(#halo)"/>
<rect x="1899" y="1599.2" width="17" height="5.5" rx="7.2" ry="2.8" fill="#1a1a1a" filter="url(#bb)"/>
<ellipse cx="1922" cy="1602" rx="9" ry="5" fill="#888" opacity="0.28" filter="url(#halo)"/>
<rect x="1915" y="1600" width="14" height="4" rx="5.2" ry="2" fill="#888" filter="url(#bb)"/>
<ellipse cx="1784.1" cy="1651.8" rx="36.9" ry="9.2" fill="#000" opacity="0.28" filter="url(#halo)"/>
<rect x="1749.3" y="1645.6" width="69.7" height="12.4" rx="16.1" ry="6.2" fill="#000" filter="url(#bb)"/>
<ellipse cx="1888.3" cy="1651.4" rx="36.2" ry="6" fill="#a8a8a8" opacity="0.28" filter="url(#halo)"/>
<rect x="1854.2" y="1648.4" width="68.3" height="5.9" rx="7.7" ry="3" fill="#a8a8a8" filter="url(#bb)"/>
<ellipse cx="1770" cy="1711" rx="17" ry="15.5" fill="#000" opacity="0.28" filter="url(#halo)"/>
<rect x="1755" y="1698.5" width="30" height="25" rx="15" ry="12.5" fill="#000" filter="url(#bb)"/>
<ellipse cx="1811.5" cy="1708" rx="14" ry="9" fill="#000" opacity="0.28" filter="url(#halo)"/>
<rect x="1799.5" y="1702" width="24" height="12" rx="12" ry="6" fill="#000" filter="url(#bb)"/>
<ellipse cx="1792" cy="1708.5" rx="10" ry="5" fill="#222" opacity="0.28" filter="url(#halo)"/>
<rect x="1784" y="1706.5" width="16" height="4" rx="5.2" ry="2" fill="#222" filter="url(#bb)"/>
<ellipse cx="1865.9" cy="1708.9" rx="12.4" ry="6.1" fill="#c8c8c8" opacity="0.28" filter="url(#halo)"/>
<rect x="1855.5" y="1705.8" width="20.8" height="6.2" rx="8.1" ry="3.1" fill="#c8c8c8" filter="url(#bb)"/>
<ellipse cx="1907.2" cy="1708.7" rx="10.3" ry="8.2" fill="#d4d4d4" opacity="0.28" filter="url(#halo)"/>
<rect x="1898.9" y="1703.5" width="16.6" height="10.4" rx="8.3" ry="5.2" fill="#d4d4d4" filter="url(#bb)"/>
<ellipse cx="1782" cy="1765.1" rx="34.8" ry="9.2" fill="#000" opacity="0.28" filter="url(#halo)"/>
<rect x="1749.3" y="1758.9" width="65.5" height="12.4" rx="16.1" ry="6.2" fill="#000" filter="url(#bb)"/>
<ellipse cx="1893.2" cy="1765.1" rx="31.3" ry="6.4" fill="#c4c4c4" opacity="0.28" filter="url(#halo)"/>
<rect x="1863.9" y="1761.7" width="58.5" height="6.8" rx="8.8" ry="3.4" fill="#c4c4c4" filter="url(#bb)"/>
<ellipse cx="1785.5" cy="1816.4" rx="38.3" ry="8.8" fill="#000" opacity="0.28" filter="url(#halo)"/>
<rect x="1749.3" y="1810.6" width="72.5" height="11.5" rx="15" ry="5.8" fill="#000" filter="url(#bb)"/>
<ellipse cx="1887.6" cy="1815.7" rx="36.9" ry="6.7" fill="#e2e2e2" opacity="0.28" filter="url(#halo)"/>
<rect x="1852.8" y="1812" width="69.7" height="7.3" rx="9.6" ry="3.7" fill="#e2e2e2" filter="url(#bb)"/>
<ellipse cx="1783.4" cy="1876.1" rx="39" ry="12" fill="#000" opacity="0.28" filter="url(#halo)"/>
<rect x="1746.5" y="1867.1" width="73.9" height="18" rx="23.4" ry="9" fill="#000" filter="url(#bb)"/>
<ellipse cx="1890.4" cy="1875.7" rx="38.3" ry="11.6" fill="#000" opacity="0.28" filter="url(#halo)"/>
<rect x="1854.2" y="1867.1" width="72.5" height="17.1" rx="22.3" ry="8.6" fill="#000" filter="url(#bb)"/>
</svg></body></html>
